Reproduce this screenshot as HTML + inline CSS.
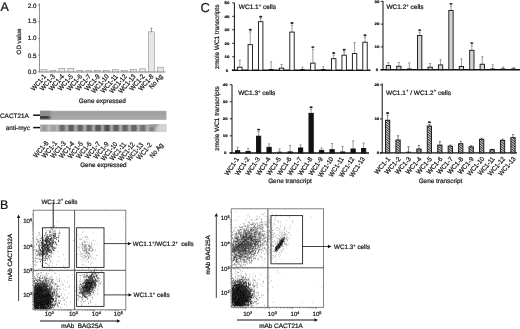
<!DOCTYPE html>
<html><head><meta charset="utf-8"><title>Figure</title>
<style>
html,body{margin:0;padding:0;background:#fff;}
body{width:520px;height:329px;overflow:hidden;font-family:"Liberation Sans",sans-serif;}
svg{display:block;filter:blur(0.4px);}
text{text-rendering:geometricPrecision;stroke:#222;stroke-width:0.24px;}
</style></head><body>
<svg width="520" height="329" viewBox="0 0 520 329" font-family="Liberation Sans, sans-serif">
<rect width="520" height="329" fill="#fff"/>
<text x="0.5" y="10.6" font-size="12.5" text-anchor="start" fill="#111" >A</text>
<text x="0.1" y="208.6" font-size="12.5" text-anchor="start" fill="#111" >B</text>
<text x="200.6" y="11.5" font-size="13" text-anchor="start" fill="#111" >C</text>
<line x1="39.5" y1="3.3" x2="39.5" y2="72.1" stroke="#808080" stroke-width="0.85"/>
<line x1="39.1" y1="72.0" x2="165.5" y2="72.0" stroke="#777" stroke-width="0.9"/>
<line x1="38.0" y1="71.8" x2="39.5" y2="71.8" stroke="#555" stroke-width="0.6"/>
<text x="36.6" y="74.45" font-size="6.3" text-anchor="end" fill="#222" >0.0</text>
<line x1="38.0" y1="55.15" x2="39.5" y2="55.15" stroke="#555" stroke-width="0.6"/>
<text x="36.6" y="57.85" font-size="6.3" text-anchor="end" fill="#222" >0.5</text>
<line x1="38.0" y1="38.5" x2="39.5" y2="38.5" stroke="#555" stroke-width="0.6"/>
<text x="36.6" y="40.25" font-size="6.3" text-anchor="end" fill="#222" >1.0</text>
<line x1="38.0" y1="21.85" x2="39.5" y2="21.85" stroke="#555" stroke-width="0.6"/>
<text x="36.6" y="22.85" font-size="6.3" text-anchor="end" fill="#222" >1.5</text>
<line x1="38.0" y1="5.200000000000003" x2="39.5" y2="5.200000000000003" stroke="#555" stroke-width="0.6"/>
<text x="36.6" y="7.65" font-size="6.3" text-anchor="end" fill="#222" >2.0</text>
<text font-size="6.2" text-anchor="middle" fill="#222" transform="translate(20.6 41.5) rotate(-90)" >OD value</text>
<rect x="41.00" y="69.74" width="6.0" height="2.06" fill="#e6e6e6" stroke="#858585" stroke-width="0.55"/>
<text font-size="6.8" text-anchor="end" fill="#222" transform="translate(46.60 76.8) rotate(-49) scale(0.9 1)" >WC1-1</text>
<rect x="49.95" y="70.30" width="6.0" height="1.50" fill="#e6e6e6" stroke="#858585" stroke-width="0.55"/>
<text font-size="6.8" text-anchor="end" fill="#222" transform="translate(55.55 76.8) rotate(-49) scale(0.9 1)" >WC1-3</text>
<rect x="58.90" y="68.47" width="6.0" height="3.33" fill="#e6e6e6" stroke="#858585" stroke-width="0.55"/>
<text font-size="6.8" text-anchor="end" fill="#222" transform="translate(64.50 76.8) rotate(-49) scale(0.9 1)" >WC1-4</text>
<rect x="67.85" y="68.47" width="6.0" height="3.33" fill="#e6e6e6" stroke="#858585" stroke-width="0.55"/>
<text font-size="6.8" text-anchor="end" fill="#222" transform="translate(73.45 76.8) rotate(-49) scale(0.9 1)" >WC1-5</text>
<rect x="76.80" y="70.47" width="6.0" height="1.33" fill="#e6e6e6" stroke="#858585" stroke-width="0.55"/>
<text font-size="6.8" text-anchor="end" fill="#222" transform="translate(82.40 76.8) rotate(-49) scale(0.9 1)" >WC1-6</text>
<rect x="85.75" y="70.73" width="6.0" height="1.07" fill="#e6e6e6" stroke="#858585" stroke-width="0.55"/>
<text font-size="6.8" text-anchor="end" fill="#222" transform="translate(91.35 76.8) rotate(-49) scale(0.9 1)" >WC1-7</text>
<rect x="94.70" y="70.30" width="6.0" height="1.50" fill="#e6e6e6" stroke="#858585" stroke-width="0.55"/>
<text font-size="6.8" text-anchor="end" fill="#222" transform="translate(100.30 76.8) rotate(-49) scale(0.9 1)" >WC1-9</text>
<rect x="103.65" y="70.47" width="6.0" height="1.33" fill="#e6e6e6" stroke="#858585" stroke-width="0.55"/>
<text font-size="6.8" text-anchor="end" fill="#222" transform="translate(109.25 76.8) rotate(-49) scale(0.9 1)" >WC1-10</text>
<rect x="112.60" y="69.74" width="6.0" height="2.06" fill="#e6e6e6" stroke="#858585" stroke-width="0.55"/>
<text font-size="6.8" text-anchor="end" fill="#222" transform="translate(118.20 76.8) rotate(-49) scale(0.9 1)" >WC1-11</text>
<rect x="121.55" y="70.30" width="6.0" height="1.50" fill="#e6e6e6" stroke="#858585" stroke-width="0.55"/>
<text font-size="6.8" text-anchor="end" fill="#222" transform="translate(127.15 76.8) rotate(-49) scale(0.9 1)" >WC1-12</text>
<rect x="130.50" y="69.47" width="6.0" height="2.33" fill="#e6e6e6" stroke="#858585" stroke-width="0.55"/>
<text font-size="6.8" text-anchor="end" fill="#222" transform="translate(136.10 76.8) rotate(-49) scale(0.9 1)" >WC1-13</text>
<rect x="139.45" y="68.80" width="6.0" height="3.00" fill="#e6e6e6" stroke="#858585" stroke-width="0.55"/>
<text font-size="6.8" text-anchor="end" fill="#222" transform="translate(145.05 76.8) rotate(-49) scale(0.9 1)" >WC1-2</text>
<rect x="148.40" y="31.84" width="6.0" height="39.96" fill="#e6e6e6" stroke="#858585" stroke-width="0.55"/>
<path d="M151.39999999999998 31.840000000000003 V28.240000000000002 M150.39999999999998 28.240000000000002 h2" stroke="#555" stroke-width="0.6" fill="none"/>
<text font-size="6.8" text-anchor="end" fill="#222" transform="translate(154.00 76.8) rotate(-49) scale(0.9 1)" >WC1-8</text>
<rect x="157.35" y="67.14" width="6.0" height="4.66" fill="#e6e6e6" stroke="#858585" stroke-width="0.55"/>
<text font-size="6.8" text-anchor="end" fill="#222" transform="translate(162.95 76.8) rotate(-49) scale(0.9 1)" >No Ag</text>
<text x="102.3" y="102.8" font-size="6.4" text-anchor="middle" fill="#222" >Gene expressed</text>
<defs><filter id="b1" x="-5%" y="-20%" width="110%" height="140%"><feGaussianBlur stdDeviation="0.9 0.7"/></filter><filter id="b2"><feGaussianBlur stdDeviation="0.35"/></filter><clipPath id="g1"><rect x="40" y="110.8" width="126.4" height="9.0"/></clipPath><clipPath id="g2"><rect x="40" y="124.3" width="126.4" height="7.6"/></clipPath><pattern id="hatch" width="1.7" height="1.7" patternUnits="userSpaceOnUse" patternTransform="rotate(-32)"><rect width="2" height="2" fill="#fff"/><rect width="2" height="1.05" fill="#111"/></pattern></defs>
<rect x="40" y="110.8" width="126.4" height="9.0" fill="#a6a6a6"/>
<g clip-path="url(#g1)"><g filter="url(#b1)">
<rect x="39" y="109" width="12" height="12" fill="#8c8c8c"/>
<rect x="52" y="112" width="114" height="3" fill="#a0a0a0"/>
<rect x="39" y="116.2" width="10.5" height="2.4" fill="#333"/>
</g></g>
<rect x="40" y="124.3" width="126.4" height="7.6" fill="#c6c6c6"/>
<g clip-path="url(#g2)"><g filter="url(#b1)">
<rect x="41.2" y="125.0" width="6.4" height="6.2" fill="rgb(154,154,154)"/>
<rect x="50.2" y="125.0" width="6.4" height="6.2" fill="rgb(160,160,160)"/>
<rect x="59.1" y="125.0" width="6.4" height="6.2" fill="rgb(104,104,104)"/>
<rect x="68.0" y="125.0" width="6.4" height="6.2" fill="rgb(91,91,91)"/>
<rect x="77.0" y="125.0" width="6.4" height="6.2" fill="rgb(98,98,98)"/>
<rect x="86.0" y="125.0" width="6.4" height="6.2" fill="rgb(98,98,98)"/>
<rect x="94.9" y="125.0" width="6.4" height="6.2" fill="rgb(85,85,85)"/>
<rect x="103.8" y="125.0" width="6.4" height="6.2" fill="rgb(79,79,79)"/>
<rect x="112.8" y="125.0" width="6.4" height="6.2" fill="rgb(91,91,91)"/>
<rect x="121.8" y="125.0" width="6.4" height="6.2" fill="rgb(98,98,98)"/>
<rect x="130.7" y="125.0" width="6.4" height="6.2" fill="rgb(98,98,98)"/>
<rect x="139.6" y="125.0" width="6.4" height="6.2" fill="rgb(110,110,110)"/>
<rect x="148.6" y="125.0" width="6.4" height="6.2" fill="rgb(129,129,129)"/>
<rect x="148" y="124" width="12" height="3" fill="#999" transform="rotate(-8 154 126)"/>
<rect x="158" y="123" width="9" height="10" fill="#d2d2d2"/>
</g></g>
<line x1="33.2" y1="115.2" x2="40" y2="115.2" stroke="#111" stroke-width="1.5"/>
<line x1="33.2" y1="127.6" x2="40" y2="127.6" stroke="#111" stroke-width="1.5"/>
<text x="0" y="117.7" font-size="6.4" text-anchor="start" fill="#222" >CACT21A</text>
<text x="5.8" y="129.6" font-size="6.4" text-anchor="start" fill="#222" >anti-myc</text>
<text font-size="7.0" text-anchor="end" fill="#222" transform="translate(48.90 143.20) rotate(-50.5) scale(0.9 1)" >WC1-8</text>
<text font-size="7.0" text-anchor="end" fill="#222" transform="translate(57.52 143.36) rotate(-50.5) scale(0.9 1)" >WC1-1</text>
<text font-size="7.0" text-anchor="end" fill="#222" transform="translate(66.14 143.52) rotate(-50.5) scale(0.9 1)" >WC1-3</text>
<text font-size="7.0" text-anchor="end" fill="#222" transform="translate(74.76 143.68) rotate(-50.5) scale(0.9 1)" >WC1-4</text>
<text font-size="7.0" text-anchor="end" fill="#222" transform="translate(83.38 143.84) rotate(-50.5) scale(0.9 1)" >WC1-5</text>
<text font-size="7.0" text-anchor="end" fill="#222" transform="translate(92.00 144.00) rotate(-50.5) scale(0.9 1)" >WC1-6</text>
<text font-size="7.0" text-anchor="end" fill="#222" transform="translate(100.62 144.16) rotate(-50.5) scale(0.9 1)" >WC1-7</text>
<text font-size="7.0" text-anchor="end" fill="#222" transform="translate(109.24 144.32) rotate(-50.5) scale(0.9 1)" >WC1-9</text>
<text font-size="7.0" text-anchor="end" fill="#222" transform="translate(117.86 144.48) rotate(-50.5) scale(0.84 1)" >WC1-10</text>
<text font-size="7.0" text-anchor="end" fill="#222" transform="translate(126.48 144.64) rotate(-50.5) scale(0.84 1)" >WC1-11</text>
<text font-size="7.0" text-anchor="end" fill="#222" transform="translate(135.10 144.80) rotate(-50.5) scale(0.84 1)" >WC1-12</text>
<text font-size="7.0" text-anchor="end" fill="#222" transform="translate(143.72 144.96) rotate(-50.5) scale(0.84 1)" >WC1-13</text>
<text font-size="7.0" text-anchor="end" fill="#222" transform="translate(152.34 145.12) rotate(-50.5) scale(0.9 1)" >WC1-2</text>
<text font-size="7.0" text-anchor="end" fill="#222" transform="translate(163.60 145.28) rotate(-50.5) scale(0.9 1)" >No Ag</text>
<text x="103.3" y="166.8" font-size="6.3" text-anchor="middle" fill="#222" >Gene expressed</text>
<line x1="234.4" y1="2.9" x2="234.4" y2="70.3" stroke="#111" stroke-width="1"/>
<line x1="231.9" y1="70.3" x2="370.5" y2="70.3" stroke="#111" stroke-width="1.5"/>
<line x1="232.20000000000002" y1="70.30" x2="234.4" y2="70.30" stroke="#111" stroke-width="0.9"/>
<text font-size="3.5" text-anchor="middle" fill="#111" transform="translate(227.0 71.50) scale(1.25 1)" font-weight="bold" >0</text>
<line x1="232.20000000000002" y1="56.80" x2="234.4" y2="56.80" stroke="#111" stroke-width="0.9"/>
<text font-size="3.5" text-anchor="middle" fill="#111" transform="translate(227.0 58.00) scale(1.25 1)" font-weight="bold" >10</text>
<line x1="232.20000000000002" y1="43.30" x2="234.4" y2="43.30" stroke="#111" stroke-width="0.9"/>
<text font-size="3.5" text-anchor="middle" fill="#111" transform="translate(227.0 44.50) scale(1.25 1)" font-weight="bold" >20</text>
<line x1="232.20000000000002" y1="29.80" x2="234.4" y2="29.80" stroke="#111" stroke-width="0.9"/>
<text font-size="3.5" text-anchor="middle" fill="#111" transform="translate(227.0 31.00) scale(1.25 1)" font-weight="bold" >30</text>
<line x1="232.20000000000002" y1="16.30" x2="234.4" y2="16.30" stroke="#111" stroke-width="0.9"/>
<text font-size="3.5" text-anchor="middle" fill="#111" transform="translate(227.0 17.50) scale(1.25 1)" font-weight="bold" >40</text>
<line x1="232.20000000000002" y1="2.80" x2="234.4" y2="2.80" stroke="#111" stroke-width="0.9"/>
<text font-size="3.5" text-anchor="middle" fill="#111" transform="translate(227.0 4.00) scale(1.25 1)" font-weight="bold" >50</text>
<path d="M239.85 67.19 V60.17 M238.75 60.17 h2.2" stroke="#5a5a5a" stroke-width="0.6" fill="none"/>
<rect x="237.65" y="67.19" width="4.40" height="3.10" fill="#fff" stroke="#111" stroke-width="0.9"/>
<path d="M250.28 44.65 V31.82 M249.18 31.82 h2.2" stroke="#5a5a5a" stroke-width="0.6" fill="none"/>
<rect x="248.08" y="44.65" width="4.40" height="25.65" fill="#fff" stroke="#111" stroke-width="0.9"/>
<ellipse cx="250.28" cy="29.82" rx="1.6" ry="0.95" fill="#222"/>
<path d="M260.71 21.70 V18.73 M259.61 18.73 h2.2" stroke="#5a5a5a" stroke-width="0.6" fill="none"/>
<rect x="258.51" y="21.70" width="4.40" height="48.60" fill="#fff" stroke="#111" stroke-width="0.9"/>
<ellipse cx="260.71" cy="16.73" rx="1.6" ry="0.95" fill="#222"/>
<path d="M271.14 69.89 V61.79 M270.04 61.79 h2.2" stroke="#5a5a5a" stroke-width="0.6" fill="none"/>
<rect x="268.79" y="69.10" width="4.70" height="1" fill="#111"/>
<path d="M281.57 68.14 V64.50 M280.47 64.50 h2.2" stroke="#5a5a5a" stroke-width="0.6" fill="none"/>
<rect x="279.37" y="68.14" width="4.40" height="2.16" fill="#fff" stroke="#111" stroke-width="0.9"/>
<path d="M292.00 32.09 V25.07 M290.90 25.07 h2.2" stroke="#5a5a5a" stroke-width="0.6" fill="none"/>
<rect x="289.80" y="32.09" width="4.40" height="38.21" fill="#fff" stroke="#111" stroke-width="0.9"/>
<ellipse cx="292.00" cy="23.07" rx="1.6" ry="0.95" fill="#222"/>
<path d="M302.43 70.03 V67.06 M301.33 67.06 h2.2" stroke="#5a5a5a" stroke-width="0.6" fill="none"/>
<rect x="300.08" y="69.10" width="4.70" height="1" fill="#111"/>
<path d="M312.86 63.14 V49.10 M311.76 49.10 h2.2" stroke="#5a5a5a" stroke-width="0.6" fill="none"/>
<rect x="310.66" y="63.14" width="4.40" height="7.16" fill="#fff" stroke="#111" stroke-width="0.9"/>
<ellipse cx="312.86" cy="47.10" rx="1.6" ry="0.95" fill="#222"/>
<path d="M323.29 69.89 V66.66 M322.19 66.66 h2.2" stroke="#5a5a5a" stroke-width="0.6" fill="none"/>
<rect x="320.94" y="69.10" width="4.70" height="1" fill="#111"/>
<path d="M333.72 58.69 V55.04 M332.62 55.04 h2.2" stroke="#5a5a5a" stroke-width="0.6" fill="none"/>
<rect x="331.52" y="58.69" width="4.40" height="11.61" fill="#fff" stroke="#111" stroke-width="0.9"/>
<ellipse cx="333.72" cy="53.04" rx="1.6" ry="0.95" fill="#222"/>
<path d="M344.15 55.18 V51.80 M343.05 51.80 h2.2" stroke="#5a5a5a" stroke-width="0.6" fill="none"/>
<rect x="341.95" y="55.18" width="4.40" height="15.12" fill="#fff" stroke="#111" stroke-width="0.9"/>
<ellipse cx="344.15" cy="49.80" rx="1.6" ry="0.95" fill="#222"/>
<path d="M354.58 53.56 V42.62 M353.48 42.62 h2.2" stroke="#5a5a5a" stroke-width="0.6" fill="none"/>
<rect x="352.38" y="53.56" width="4.40" height="16.74" fill="#fff" stroke="#111" stroke-width="0.9"/>
<path d="M365.01 42.22 V37.22 M363.91 37.22 h2.2" stroke="#5a5a5a" stroke-width="0.6" fill="none"/>
<rect x="362.81" y="42.22" width="4.40" height="28.08" fill="#fff" stroke="#111" stroke-width="0.9"/>
<ellipse cx="365.01" cy="35.22" rx="1.6" ry="0.95" fill="#222"/>
<text x="238.8" y="8.8" font-size="6.5" text-anchor="start" fill="#111" >WC1.1<tspan dy="-2.2" font-size="4.2">+</tspan><tspan dy="2.2"> cells</tspan></text>
<line x1="383.0" y1="1.0" x2="383.0" y2="69.7" stroke="#111" stroke-width="1"/>
<line x1="380.5" y1="69.7" x2="520" y2="69.7" stroke="#111" stroke-width="1.5"/>
<line x1="380.8" y1="69.70" x2="383.0" y2="69.70" stroke="#111" stroke-width="0.9"/>
<text font-size="3.5" text-anchor="middle" fill="#111" transform="translate(376.9 70.90) scale(1.25 1)" font-weight="bold" >0</text>
<line x1="380.8" y1="46.90" x2="383.0" y2="46.90" stroke="#111" stroke-width="0.9"/>
<text font-size="3.5" text-anchor="middle" fill="#111" transform="translate(376.9 48.10) scale(1.25 1)" font-weight="bold" >10</text>
<line x1="380.8" y1="24.10" x2="383.0" y2="24.10" stroke="#111" stroke-width="0.9"/>
<text font-size="3.5" text-anchor="middle" fill="#111" transform="translate(376.9 25.30) scale(1.25 1)" font-weight="bold" >20</text>
<line x1="380.8" y1="1.30" x2="383.0" y2="1.30" stroke="#111" stroke-width="0.9"/>
<text font-size="3.5" text-anchor="middle" fill="#111" transform="translate(376.9 2.50) scale(1.25 1)" font-weight="bold" >30</text>
<path d="M388.40 65.60 V62.63 M387.30 62.63 h2.2" stroke="#5a5a5a" stroke-width="0.6" fill="none"/>
<rect x="386.25" y="65.60" width="4.30" height="4.10" fill="#d4d4d4" stroke="#111" stroke-width="0.9"/>
<path d="M398.83 66.28 V62.40 M397.73 62.40 h2.2" stroke="#5a5a5a" stroke-width="0.6" fill="none"/>
<rect x="396.68" y="66.28" width="4.30" height="3.42" fill="#d4d4d4" stroke="#111" stroke-width="0.9"/>
<path d="M409.26 69.24 V62.86 M408.16 62.86 h2.2" stroke="#5a5a5a" stroke-width="0.6" fill="none"/>
<rect x="406.96" y="68.50" width="4.60" height="1" fill="#111"/>
<path d="M419.69 35.50 V32.08 M418.59 32.08 h2.2" stroke="#5a5a5a" stroke-width="0.6" fill="none"/>
<rect x="417.54" y="35.50" width="4.30" height="34.20" fill="#d4d4d4" stroke="#111" stroke-width="0.9"/>
<ellipse cx="419.69" cy="30.08" rx="1.6" ry="0.95" fill="#222"/>
<path d="M430.12 67.19 V63.54 M429.02 63.54 h2.2" stroke="#5a5a5a" stroke-width="0.6" fill="none"/>
<rect x="427.97" y="67.19" width="4.30" height="2.51" fill="#d4d4d4" stroke="#111" stroke-width="0.9"/>
<path d="M440.55 64.91 V59.67 M439.45 59.67 h2.2" stroke="#5a5a5a" stroke-width="0.6" fill="none"/>
<rect x="438.40" y="64.91" width="4.30" height="4.79" fill="#d4d4d4" stroke="#111" stroke-width="0.9"/>
<path d="M450.98 10.42 V5.86 M449.88 5.86 h2.2" stroke="#5a5a5a" stroke-width="0.6" fill="none"/>
<rect x="448.83" y="10.42" width="4.30" height="59.28" fill="#d4d4d4" stroke="#111" stroke-width="0.9"/>
<ellipse cx="450.98" cy="3.86" rx="1.6" ry="0.95" fill="#222"/>
<path d="M461.41 66.51 V58.98 M460.31 58.98 h2.2" stroke="#5a5a5a" stroke-width="0.6" fill="none"/>
<rect x="459.26" y="66.51" width="4.30" height="3.19" fill="#d4d4d4" stroke="#111" stroke-width="0.9"/>
<path d="M471.84 50.32 V45.08 M470.74 45.08 h2.2" stroke="#5a5a5a" stroke-width="0.6" fill="none"/>
<rect x="469.69" y="50.32" width="4.30" height="19.38" fill="#d4d4d4" stroke="#111" stroke-width="0.9"/>
<ellipse cx="471.84" cy="43.08" rx="1.6" ry="0.95" fill="#222"/>
<path d="M482.27 64.23 V56.70 M481.17 56.70 h2.2" stroke="#5a5a5a" stroke-width="0.6" fill="none"/>
<rect x="480.12" y="64.23" width="4.30" height="5.47" fill="#d4d4d4" stroke="#111" stroke-width="0.9"/>
<path d="M492.70 69.13 V64.80 M491.60 64.80 h2.2" stroke="#5a5a5a" stroke-width="0.6" fill="none"/>
<rect x="490.40" y="68.50" width="4.60" height="1" fill="#111"/>
<path d="M503.13 69.13 V67.08 M502.03 67.08 h2.2" stroke="#5a5a5a" stroke-width="0.6" fill="none"/>
<rect x="500.83" y="68.50" width="4.60" height="1" fill="#111"/>
<path d="M513.56 69.24 V67.42 M512.46 67.42 h2.2" stroke="#5a5a5a" stroke-width="0.6" fill="none"/>
<rect x="511.26" y="68.50" width="4.60" height="1" fill="#111"/>
<text x="386.4" y="8.8" font-size="6.5" text-anchor="start" fill="#111" >WC1.2<tspan dy="-2.2" font-size="4.2">+</tspan><tspan dy="2.2"> cells</tspan></text>
<line x1="232.0" y1="84.6" x2="232.0" y2="152.9" stroke="#111" stroke-width="1"/>
<line x1="229.5" y1="152.9" x2="369" y2="152.9" stroke="#111" stroke-width="1.5"/>
<line x1="229.8" y1="152.90" x2="232.0" y2="152.90" stroke="#111" stroke-width="0.9"/>
<text font-size="3.5" text-anchor="middle" fill="#111" transform="translate(225.2 154.10) scale(1.25 1)" font-weight="bold" >0</text>
<line x1="229.8" y1="135.85" x2="232.0" y2="135.85" stroke="#111" stroke-width="0.9"/>
<text font-size="3.5" text-anchor="middle" fill="#111" transform="translate(225.2 137.05) scale(1.25 1)" font-weight="bold" >10</text>
<line x1="229.8" y1="118.80" x2="232.0" y2="118.80" stroke="#111" stroke-width="0.9"/>
<text font-size="3.5" text-anchor="middle" fill="#111" transform="translate(225.2 120.00) scale(1.25 1)" font-weight="bold" >20</text>
<line x1="229.8" y1="101.75" x2="232.0" y2="101.75" stroke="#111" stroke-width="0.9"/>
<text font-size="3.5" text-anchor="middle" fill="#111" transform="translate(225.2 102.95) scale(1.25 1)" font-weight="bold" >30</text>
<line x1="229.8" y1="84.70" x2="232.0" y2="84.70" stroke="#111" stroke-width="0.9"/>
<text font-size="3.5" text-anchor="middle" fill="#111" transform="translate(225.2 85.90) scale(1.25 1)" font-weight="bold" >40</text>
<path d="M237.60 150.68 V147.27 M236.50 147.27 h2.2" stroke="#5a5a5a" stroke-width="0.6" fill="none"/>
<rect x="235.45" y="150.68" width="4.30" height="2.22" fill="#111" stroke="#111" stroke-width="0.9"/>
<path d="M248.10 151.37 V148.30 M247.00 148.30 h2.2" stroke="#5a5a5a" stroke-width="0.6" fill="none"/>
<rect x="245.95" y="151.37" width="4.30" height="1.53" fill="#111" stroke="#111" stroke-width="0.9"/>
<path d="M258.60 136.19 V131.59 M257.50 131.59 h2.2" stroke="#5a5a5a" stroke-width="0.6" fill="none"/>
<rect x="256.45" y="136.19" width="4.30" height="16.71" fill="#111" stroke="#111" stroke-width="0.9"/>
<ellipse cx="258.60" cy="129.59" rx="1.6" ry="0.95" fill="#222"/>
<path d="M269.10 147.27 V143.86 M268.00 143.86 h2.2" stroke="#5a5a5a" stroke-width="0.6" fill="none"/>
<rect x="266.95" y="147.27" width="4.30" height="5.63" fill="#111" stroke="#111" stroke-width="0.9"/>
<path d="M279.60 152.56 V148.98 M278.50 148.98 h2.2" stroke="#5a5a5a" stroke-width="0.6" fill="none"/>
<rect x="277.30" y="151.70" width="4.60" height="1" fill="#111"/>
<path d="M290.10 151.88 V145.40 M289.00 145.40 h2.2" stroke="#5a5a5a" stroke-width="0.6" fill="none"/>
<rect x="287.95" y="151.88" width="4.30" height="1.02" fill="#111" stroke="#111" stroke-width="0.9"/>
<path d="M300.60 147.96 V144.89 M299.50 144.89 h2.2" stroke="#5a5a5a" stroke-width="0.6" fill="none"/>
<rect x="298.45" y="147.96" width="4.30" height="4.94" fill="#111" stroke="#111" stroke-width="0.9"/>
<path d="M311.10 113.34 V109.25 M310.00 109.25 h2.2" stroke="#5a5a5a" stroke-width="0.6" fill="none"/>
<rect x="308.95" y="113.34" width="4.30" height="39.56" fill="#111" stroke="#111" stroke-width="0.9"/>
<ellipse cx="311.10" cy="107.25" rx="1.6" ry="0.95" fill="#222"/>
<path d="M321.60 150.34 V147.96 M320.50 147.96 h2.2" stroke="#5a5a5a" stroke-width="0.6" fill="none"/>
<rect x="319.45" y="150.34" width="4.30" height="2.56" fill="#111" stroke="#111" stroke-width="0.9"/>
<path d="M332.10 149.66 V143.52 M331.00 143.52 h2.2" stroke="#5a5a5a" stroke-width="0.6" fill="none"/>
<rect x="329.95" y="149.66" width="4.30" height="3.24" fill="#111" stroke="#111" stroke-width="0.9"/>
<path d="M342.60 151.96 V146.51 M341.50 146.51 h2.2" stroke="#5a5a5a" stroke-width="0.6" fill="none"/>
<rect x="340.45" y="151.96" width="4.30" height="0.94" fill="#111" stroke="#111" stroke-width="0.9"/>
<path d="M353.10 148.98 V140.97 M352.00 140.97 h2.2" stroke="#5a5a5a" stroke-width="0.6" fill="none"/>
<rect x="350.95" y="148.98" width="4.30" height="3.92" fill="#111" stroke="#111" stroke-width="0.9"/>
<path d="M363.60 148.47 V143.01 M362.50 143.01 h2.2" stroke="#5a5a5a" stroke-width="0.6" fill="none"/>
<rect x="361.45" y="148.47" width="4.30" height="4.43" fill="#111" stroke="#111" stroke-width="0.9"/>
<text x="238.2" y="95.2" font-size="6.5" text-anchor="start" fill="#111" >WC1.3<tspan dy="-2.2" font-size="4.2">+</tspan><tspan dy="2.2"> cells</tspan></text>
<line x1="382.2" y1="83.4" x2="382.2" y2="152.9" stroke="#111" stroke-width="1"/>
<line x1="379.7" y1="152.9" x2="517" y2="152.9" stroke="#111" stroke-width="1.2"/>
<line x1="380.0" y1="152.90" x2="382.2" y2="152.90" stroke="#111" stroke-width="0.9"/>
<text font-size="3.5" text-anchor="end" fill="#111" transform="translate(379.3 154.10) scale(1.25 1)" font-weight="bold" >0</text>
<line x1="380.0" y1="118.90" x2="382.2" y2="118.90" stroke="#111" stroke-width="0.9"/>
<text font-size="3.5" text-anchor="end" fill="#111" transform="translate(379.3 120.10) scale(1.25 1)" font-weight="bold" >10</text>
<line x1="380.0" y1="84.90" x2="382.2" y2="84.90" stroke="#111" stroke-width="0.9"/>
<text font-size="3.5" text-anchor="end" fill="#111" transform="translate(379.3 86.10) scale(1.25 1)" font-weight="bold" >20</text>
<path d="M387.60 120.26 V114.99 M386.50 114.99 h2.2" stroke="#333" stroke-width="0.6" fill="none"/>
<clipPath id="hc382_0"><rect x="385.45" y="120.26" width="4.30" height="32.64"/></clipPath>
<rect x="385.45" y="120.26" width="4.30" height="32.64" fill="#fff"/>
<path d="M384.50 155.90l6.20 -3.41M384.50 154.20l6.20 -3.41M384.50 152.50l6.20 -3.41M384.50 150.80l6.20 -3.41M384.50 149.10l6.20 -3.41M384.50 147.40l6.20 -3.41M384.50 145.70l6.20 -3.41M384.50 144.00l6.20 -3.41M384.50 142.30l6.20 -3.41M384.50 140.60l6.20 -3.41M384.50 138.90l6.20 -3.41M384.50 137.20l6.20 -3.41M384.50 135.50l6.20 -3.41M384.50 133.80l6.20 -3.41M384.50 132.10l6.20 -3.41M384.50 130.40l6.20 -3.41M384.50 128.70l6.20 -3.41M384.50 127.00l6.20 -3.41M384.50 125.30l6.20 -3.41M384.50 123.60l6.20 -3.41M384.50 121.90l6.20 -3.41M384.50 120.20l6.20 -3.41" stroke="#111" stroke-width="0.85" fill="none" clip-path="url(#hc382_0)"/>
<rect x="385.45" y="120.26" width="4.30" height="32.64" fill="none" stroke="#111" stroke-width="0.9"/>
<ellipse cx="387.60" cy="112.99" rx="1.6" ry="0.95" fill="#222"/>
<path d="M398.05 139.98 V135.73 M396.95 135.73 h2.2" stroke="#333" stroke-width="0.6" fill="none"/>
<clipPath id="hc382_1"><rect x="395.90" y="139.98" width="4.30" height="12.92"/></clipPath>
<rect x="395.90" y="139.98" width="4.30" height="12.92" fill="#fff"/>
<path d="M394.95 155.90l6.20 -3.41M394.95 154.20l6.20 -3.41M394.95 152.50l6.20 -3.41M394.95 150.80l6.20 -3.41M394.95 149.10l6.20 -3.41M394.95 147.40l6.20 -3.41M394.95 145.70l6.20 -3.41M394.95 144.00l6.20 -3.41M394.95 142.30l6.20 -3.41M394.95 140.60l6.20 -3.41" stroke="#111" stroke-width="0.85" fill="none" clip-path="url(#hc382_1)"/>
<rect x="395.90" y="139.98" width="4.30" height="12.92" fill="none" stroke="#111" stroke-width="0.9"/>
<path d="M408.50 152.22 V146.78 M407.40 146.78 h2.2" stroke="#333" stroke-width="0.6" fill="none"/>
<rect x="406.20" y="151.70" width="4.60" height="1" fill="#111"/>
<path d="M418.95 148.99 V145.42 M417.85 145.42 h2.2" stroke="#333" stroke-width="0.6" fill="none"/>
<clipPath id="hc382_3"><rect x="416.80" y="148.99" width="4.30" height="3.91"/></clipPath>
<rect x="416.80" y="148.99" width="4.30" height="3.91" fill="#fff"/>
<path d="M415.85 155.90l6.20 -3.41M415.85 154.20l6.20 -3.41M415.85 152.50l6.20 -3.41M415.85 150.80l6.20 -3.41M415.85 149.10l6.20 -3.41" stroke="#111" stroke-width="0.85" fill="none" clip-path="url(#hc382_3)"/>
<rect x="416.80" y="148.99" width="4.30" height="3.91" fill="none" stroke="#111" stroke-width="0.9"/>
<path d="M429.40 126.04 V124.17 M428.30 124.17 h2.2" stroke="#333" stroke-width="0.6" fill="none"/>
<clipPath id="hc382_4"><rect x="427.25" y="126.04" width="4.30" height="26.86"/></clipPath>
<rect x="427.25" y="126.04" width="4.30" height="26.86" fill="#fff"/>
<path d="M426.30 155.90l6.20 -3.41M426.30 154.20l6.20 -3.41M426.30 152.50l6.20 -3.41M426.30 150.80l6.20 -3.41M426.30 149.10l6.20 -3.41M426.30 147.40l6.20 -3.41M426.30 145.70l6.20 -3.41M426.30 144.00l6.20 -3.41M426.30 142.30l6.20 -3.41M426.30 140.60l6.20 -3.41M426.30 138.90l6.20 -3.41M426.30 137.20l6.20 -3.41M426.30 135.50l6.20 -3.41M426.30 133.80l6.20 -3.41M426.30 132.10l6.20 -3.41M426.30 130.40l6.20 -3.41M426.30 128.70l6.20 -3.41M426.30 127.00l6.20 -3.41M426.30 125.30l6.20 -3.41" stroke="#111" stroke-width="0.85" fill="none" clip-path="url(#hc382_4)"/>
<rect x="427.25" y="126.04" width="4.30" height="26.86" fill="none" stroke="#111" stroke-width="0.9"/>
<ellipse cx="429.40" cy="122.17" rx="1.6" ry="0.95" fill="#222"/>
<path d="M439.85 145.08 V141.51 M438.75 141.51 h2.2" stroke="#333" stroke-width="0.6" fill="none"/>
<clipPath id="hc382_5"><rect x="437.70" y="145.08" width="4.30" height="7.82"/></clipPath>
<rect x="437.70" y="145.08" width="4.30" height="7.82" fill="#fff"/>
<path d="M436.75 155.90l6.20 -3.41M436.75 154.20l6.20 -3.41M436.75 152.50l6.20 -3.41M436.75 150.80l6.20 -3.41M436.75 149.10l6.20 -3.41M436.75 147.40l6.20 -3.41M436.75 145.70l6.20 -3.41" stroke="#111" stroke-width="0.85" fill="none" clip-path="url(#hc382_5)"/>
<rect x="437.70" y="145.08" width="4.30" height="7.82" fill="none" stroke="#111" stroke-width="0.9"/>
<path d="M450.30 146.10 V145.08 M449.20 145.08 h2.2" stroke="#333" stroke-width="0.6" fill="none"/>
<clipPath id="hc382_6"><rect x="448.15" y="146.10" width="4.30" height="6.80"/></clipPath>
<rect x="448.15" y="146.10" width="4.30" height="6.80" fill="#fff"/>
<path d="M447.20 155.90l6.20 -3.41M447.20 154.20l6.20 -3.41M447.20 152.50l6.20 -3.41M447.20 150.80l6.20 -3.41M447.20 149.10l6.20 -3.41M447.20 147.40l6.20 -3.41M447.20 145.70l6.20 -3.41" stroke="#111" stroke-width="0.85" fill="none" clip-path="url(#hc382_6)"/>
<rect x="448.15" y="146.10" width="4.30" height="6.80" fill="none" stroke="#111" stroke-width="0.9"/>
<path d="M460.75 143.72 V141.34 M459.65 141.34 h2.2" stroke="#333" stroke-width="0.6" fill="none"/>
<clipPath id="hc382_7"><rect x="458.60" y="143.72" width="4.30" height="9.18"/></clipPath>
<rect x="458.60" y="143.72" width="4.30" height="9.18" fill="#fff"/>
<path d="M457.65 155.90l6.20 -3.41M457.65 154.20l6.20 -3.41M457.65 152.50l6.20 -3.41M457.65 150.80l6.20 -3.41M457.65 149.10l6.20 -3.41M457.65 147.40l6.20 -3.41M457.65 145.70l6.20 -3.41M457.65 144.00l6.20 -3.41" stroke="#111" stroke-width="0.85" fill="none" clip-path="url(#hc382_7)"/>
<rect x="458.60" y="143.72" width="4.30" height="9.18" fill="none" stroke="#111" stroke-width="0.9"/>
<path d="M471.20 146.78 V145.76 M470.10 145.76 h2.2" stroke="#333" stroke-width="0.6" fill="none"/>
<clipPath id="hc382_8"><rect x="469.05" y="146.78" width="4.30" height="6.12"/></clipPath>
<rect x="469.05" y="146.78" width="4.30" height="6.12" fill="#fff"/>
<path d="M468.10 155.90l6.20 -3.41M468.10 154.20l6.20 -3.41M468.10 152.50l6.20 -3.41M468.10 150.80l6.20 -3.41M468.10 149.10l6.20 -3.41M468.10 147.40l6.20 -3.41" stroke="#111" stroke-width="0.85" fill="none" clip-path="url(#hc382_8)"/>
<rect x="469.05" y="146.78" width="4.30" height="6.12" fill="none" stroke="#111" stroke-width="0.9"/>
<path d="M481.65 139.30 V138.11 M480.55 138.11 h2.2" stroke="#333" stroke-width="0.6" fill="none"/>
<clipPath id="hc382_9"><rect x="479.50" y="139.30" width="4.30" height="13.60"/></clipPath>
<rect x="479.50" y="139.30" width="4.30" height="13.60" fill="#fff"/>
<path d="M478.55 155.90l6.20 -3.41M478.55 154.20l6.20 -3.41M478.55 152.50l6.20 -3.41M478.55 150.80l6.20 -3.41M478.55 149.10l6.20 -3.41M478.55 147.40l6.20 -3.41M478.55 145.70l6.20 -3.41M478.55 144.00l6.20 -3.41M478.55 142.30l6.20 -3.41M478.55 140.60l6.20 -3.41M478.55 138.90l6.20 -3.41" stroke="#111" stroke-width="0.85" fill="none" clip-path="url(#hc382_9)"/>
<rect x="479.50" y="139.30" width="4.30" height="13.60" fill="none" stroke="#111" stroke-width="0.9"/>
<path d="M492.10 149.60 V149.26 M491.00 149.26 h2.2" stroke="#333" stroke-width="0.6" fill="none"/>
<clipPath id="hc382_10"><rect x="489.95" y="149.60" width="4.30" height="3.30"/></clipPath>
<rect x="489.95" y="149.60" width="4.30" height="3.30" fill="#fff"/>
<path d="M489.00 155.90l6.20 -3.41M489.00 154.20l6.20 -3.41M489.00 152.50l6.20 -3.41M489.00 150.80l6.20 -3.41M489.00 149.10l6.20 -3.41" stroke="#111" stroke-width="0.85" fill="none" clip-path="url(#hc382_10)"/>
<rect x="489.95" y="149.60" width="4.30" height="3.30" fill="none" stroke="#111" stroke-width="0.9"/>
<path d="M502.55 140.32 V139.13 M501.45 139.13 h2.2" stroke="#333" stroke-width="0.6" fill="none"/>
<clipPath id="hc382_11"><rect x="500.40" y="140.32" width="4.30" height="12.58"/></clipPath>
<rect x="500.40" y="140.32" width="4.30" height="12.58" fill="#fff"/>
<path d="M499.45 155.90l6.20 -3.41M499.45 154.20l6.20 -3.41M499.45 152.50l6.20 -3.41M499.45 150.80l6.20 -3.41M499.45 149.10l6.20 -3.41M499.45 147.40l6.20 -3.41M499.45 145.70l6.20 -3.41M499.45 144.00l6.20 -3.41M499.45 142.30l6.20 -3.41M499.45 140.60l6.20 -3.41" stroke="#111" stroke-width="0.85" fill="none" clip-path="url(#hc382_11)"/>
<rect x="500.40" y="140.32" width="4.30" height="12.58" fill="none" stroke="#111" stroke-width="0.9"/>
<path d="M513.00 137.60 V134.54 M511.90 134.54 h2.2" stroke="#333" stroke-width="0.6" fill="none"/>
<clipPath id="hc382_12"><rect x="510.85" y="137.60" width="4.30" height="15.30"/></clipPath>
<rect x="510.85" y="137.60" width="4.30" height="15.30" fill="#fff"/>
<path d="M509.90 155.90l6.20 -3.41M509.90 154.20l6.20 -3.41M509.90 152.50l6.20 -3.41M509.90 150.80l6.20 -3.41M509.90 149.10l6.20 -3.41M509.90 147.40l6.20 -3.41M509.90 145.70l6.20 -3.41M509.90 144.00l6.20 -3.41M509.90 142.30l6.20 -3.41M509.90 140.60l6.20 -3.41M509.90 138.90l6.20 -3.41M509.90 137.20l6.20 -3.41" stroke="#111" stroke-width="0.85" fill="none" clip-path="url(#hc382_12)"/>
<rect x="510.85" y="137.60" width="4.30" height="15.30" fill="none" stroke="#111" stroke-width="0.9"/>
<text x="386" y="94.6" font-size="6.5" text-anchor="start" fill="#111" >WC1.1<tspan dy="-2.2" font-size="4.2">+</tspan><tspan dy="2.2"> / WC1.2</tspan><tspan dy="-2.2" font-size="4.2">+</tspan><tspan dy="2.2"> cells</tspan></text>
<text font-size="6.4" text-anchor="middle" fill="#222" transform="translate(218.6 36.8) rotate(-90)" >zmole WC1 transcripts</text>
<text font-size="6.4" text-anchor="middle" fill="#222" transform="translate(218.6 118.5) rotate(-90)" >zmole WC1 transcripts</text>
<text font-size="6.6" text-anchor="end" fill="#222" transform="translate(239.20 158.9) rotate(-57) scale(1 1)" >WC1-1</text>
<text font-size="6.6" text-anchor="end" fill="#222" transform="translate(390.60 159.2) rotate(-49) scale(1 1)" >WC1-1</text>
<text font-size="6.6" text-anchor="end" fill="#222" transform="translate(249.70 158.9) rotate(-57) scale(1 1)" >WC1-2</text>
<text font-size="6.6" text-anchor="end" fill="#222" transform="translate(401.05 159.2) rotate(-49) scale(1 1)" >WC1-2</text>
<text font-size="6.6" text-anchor="end" fill="#222" transform="translate(260.20 158.9) rotate(-57) scale(1 1)" >WC1-3</text>
<text font-size="6.6" text-anchor="end" fill="#222" transform="translate(411.50 159.2) rotate(-49) scale(1 1)" >WC1-3</text>
<text font-size="6.6" text-anchor="end" fill="#222" transform="translate(270.70 158.9) rotate(-57) scale(1 1)" >WC1-4</text>
<text font-size="6.6" text-anchor="end" fill="#222" transform="translate(421.95 159.2) rotate(-49) scale(1 1)" >WC1-4</text>
<text font-size="6.6" text-anchor="end" fill="#222" transform="translate(281.20 158.9) rotate(-57) scale(1 1)" >WC1-5</text>
<text font-size="6.6" text-anchor="end" fill="#222" transform="translate(432.40 159.2) rotate(-49) scale(1 1)" >WC1-5</text>
<text font-size="6.6" text-anchor="end" fill="#222" transform="translate(291.70 158.9) rotate(-57) scale(1 1)" >WC1-6</text>
<text font-size="6.6" text-anchor="end" fill="#222" transform="translate(442.85 159.2) rotate(-49) scale(1 1)" >WC1-6</text>
<text font-size="6.6" text-anchor="end" fill="#222" transform="translate(302.20 158.9) rotate(-57) scale(1 1)" >WC1-7</text>
<text font-size="6.6" text-anchor="end" fill="#222" transform="translate(453.30 159.2) rotate(-49) scale(1 1)" >WC1-7</text>
<text font-size="6.6" text-anchor="end" fill="#222" transform="translate(312.70 158.9) rotate(-57) scale(1 1)" >WC1-8</text>
<text font-size="6.6" text-anchor="end" fill="#222" transform="translate(463.75 159.2) rotate(-49) scale(1 1)" >WC1-8</text>
<text font-size="6.6" text-anchor="end" fill="#222" transform="translate(323.20 158.9) rotate(-57) scale(1 1)" >WC1-9</text>
<text font-size="6.6" text-anchor="end" fill="#222" transform="translate(474.20 159.2) rotate(-49) scale(1 1)" >WC1-9</text>
<text font-size="6.6" text-anchor="end" fill="#222" transform="translate(333.70 158.9) rotate(-57) scale(0.93 1)" >WC1-10</text>
<text font-size="6.6" text-anchor="end" fill="#222" transform="translate(484.65 159.2) rotate(-49) scale(0.93 1)" >WC1-10</text>
<text font-size="6.6" text-anchor="end" fill="#222" transform="translate(344.20 158.9) rotate(-57) scale(0.93 1)" >WC1-11</text>
<text font-size="6.6" text-anchor="end" fill="#222" transform="translate(495.10 159.2) rotate(-49) scale(0.93 1)" >WC1-11</text>
<text font-size="6.6" text-anchor="end" fill="#222" transform="translate(354.70 158.9) rotate(-57) scale(0.93 1)" >WC1-12</text>
<text font-size="6.6" text-anchor="end" fill="#222" transform="translate(505.55 159.2) rotate(-49) scale(0.93 1)" >WC1-12</text>
<text font-size="6.6" text-anchor="end" fill="#222" transform="translate(365.20 158.9) rotate(-57) scale(0.93 1)" >WC1-13</text>
<text font-size="6.6" text-anchor="end" fill="#222" transform="translate(516.00 159.2) rotate(-49) scale(0.93 1)" >WC1-13</text>
<text x="290" y="182.6" font-size="6.4" text-anchor="middle" fill="#222" >Gene transcript</text>
<text x="440.5" y="182.6" font-size="6.4" text-anchor="middle" fill="#222" >Gene transcript</text>
<path d="M39.2 301.1h0.7M39.3 295.3h0.7M35.7 296.0h0.7M46.3 300.5h0.7M45.9 299.2h0.7M42.6 298.8h0.7M43.1 301.0h0.7M35.9 294.2h0.7M42.1 297.2h0.7M43.2 293.0h0.7M42.1 300.3h0.7M43.4 305.9h0.7M37.3 292.3h0.7M38.7 296.8h0.7M43.8 299.2h0.7M38.2 290.8h0.7M37.8 306.0h0.7M36.3 299.2h0.7M42.7 287.1h0.7M40.8 306.6h0.7M39.9 291.8h0.7M43.1 297.1h0.7M44.0 304.1h0.7M48.0 300.0h0.7M41.1 288.4h0.7M43.7 293.2h0.7M38.1 288.6h0.7M35.5 293.8h0.7M47.2 283.3h0.7M48.0 301.5h0.7M42.4 292.3h0.7M34.7 304.3h0.7M46.2 298.6h0.7M41.8 300.5h0.7M48.8 301.8h0.7M43.2 301.3h0.7M45.5 301.2h0.7M44.9 284.8h0.7M39.5 304.6h0.7M33.7 308.8h0.7M43.4 296.4h0.7M42.2 302.0h0.7M41.1 305.5h0.7M37.1 294.6h0.7M45.9 297.7h0.7M35.9 304.1h0.7M48.1 294.4h0.7M39.7 295.4h0.7M47.8 290.3h0.7M47.1 288.6h0.7M36.4 301.9h0.7M46.4 303.5h0.7M42.3 298.5h0.7M41.3 301.5h0.7M39.6 299.4h0.7M43.5 297.5h0.7M44.5 301.5h0.7M51.0 299.8h0.7M38.3 294.9h0.7M40.4 304.0h0.7M38.7 300.2h0.7M50.1 279.5h0.7M34.7 299.2h0.7M42.6 299.2h0.7M38.3 302.1h0.7M42.0 293.8h0.7M53.1 300.0h0.7M37.6 296.8h0.7M39.3 297.1h0.7M45.7 289.3h0.7M40.2 304.2h0.7M45.0 307.9h0.7M38.7 301.9h0.7M46.2 278.7h0.7M46.2 287.4h0.7M44.1 287.1h0.7M41.4 305.9h0.7M39.7 298.8h0.7M44.6 298.5h0.7M40.0 308.2h0.7M46.0 295.4h0.7M54.8 289.5h0.7M45.3 295.6h0.7M41.2 302.4h0.7M41.7 302.0h0.7M43.7 290.8h0.7M35.2 287.2h0.7M47.1 302.7h0.7M48.2 290.9h0.7M40.5 289.5h0.7M44.5 308.6h0.7M35.9 308.4h0.7M45.6 296.3h0.7M40.0 293.3h0.7M42.6 300.4h0.7M48.3 290.4h0.7M46.4 307.9h0.7M48.1 296.2h0.7M36.6 304.6h0.7M41.1 298.4h0.7M47.9 295.7h0.7M42.1 293.2h0.7M40.5 303.3h0.7M40.9 306.8h0.7M40.2 304.8h0.7M48.3 308.8h0.7M37.0 303.7h0.7M34.1 297.4h0.7M39.5 297.3h0.7M37.4 299.1h0.7M49.8 297.8h0.7M43.3 304.5h0.7M39.5 288.7h0.7M37.6 305.0h0.7M45.7 303.0h0.7M40.5 303.1h0.7M41.4 289.2h0.7M45.3 293.5h0.7M35.8 292.1h0.7M34.4 300.0h0.7M37.2 283.9h0.7M44.3 295.6h0.7M42.0 294.3h0.7M44.6 302.7h0.7M44.0 299.8h0.7M47.4 302.1h0.7M42.8 282.9h0.7M45.2 306.7h0.7M39.0 294.2h0.7M50.6 285.2h0.7M35.7 302.3h0.7M50.3 296.7h0.7M43.4 303.8h0.7M35.8 296.9h0.7M42.0 303.3h0.7M40.3 296.1h0.7M35.2 295.0h0.7M45.1 298.2h0.7M36.1 291.6h0.7M54.4 305.5h0.7M43.8 279.3h0.7M43.7 300.9h0.7M49.3 300.5h0.7M40.1 301.2h0.7M42.2 292.6h0.7M42.0 298.8h0.7M38.4 290.7h0.7M51.5 304.8h0.7M34.3 288.1h0.7M49.4 304.4h0.7M50.0 303.2h0.7M36.0 299.3h0.7M40.2 301.2h0.7M36.7 296.6h0.7M42.9 300.1h0.7M43.8 299.0h0.7M38.8 303.0h0.7M40.8 291.7h0.7M37.2 297.5h0.7M39.9 298.6h0.7M40.5 298.7h0.7M39.8 288.7h0.7M42.7 304.9h0.7M42.8 296.2h0.7M42.8 290.7h0.7M35.7 302.7h0.7M34.9 279.1h0.7M35.1 308.5h0.7M38.5 287.9h0.7M36.5 301.1h0.7M43.1 298.7h0.7M48.2 302.4h0.7M40.4 301.7h0.7M49.1 304.3h0.7M45.8 289.9h0.7M39.7 302.6h0.7M39.0 305.0h0.7M43.6 303.9h0.7M46.9 296.0h0.7M38.7 303.6h0.7M45.6 297.5h0.7M34.4 298.8h0.7M42.4 305.4h0.7M44.6 297.7h0.7M44.9 301.3h0.7M41.6 297.9h0.7M39.2 302.3h0.7M35.0 293.1h0.7M40.5 287.3h0.7M38.2 283.4h0.7M36.9 301.5h0.7M43.4 297.1h0.7M39.3 287.6h0.7M50.0 301.1h0.7M46.2 291.3h0.7M39.5 284.8h0.7M44.6 304.0h0.7M43.8 285.2h0.7M37.2 287.7h0.7M40.7 299.2h0.7M43.8 302.4h0.7M48.3 305.7h0.7M33.7 294.0h0.7M35.0 290.0h0.7M40.1 297.5h0.7M43.0 286.4h0.7M34.1 297.3h0.7M39.5 295.3h0.7M40.2 292.2h0.7M44.1 300.0h0.7M40.0 292.8h0.7M39.6 278.4h0.7M35.4 297.8h0.7M41.3 287.9h0.7M39.2 295.3h0.7M42.9 301.8h0.7M40.3 291.5h0.7M39.7 297.0h0.7M44.3 299.6h0.7M36.7 288.0h0.7M38.6 292.3h0.7M34.7 296.7h0.7M37.9 298.2h0.7M43.2 294.6h0.7M52.6 295.2h0.7M46.2 298.4h0.7M46.3 280.9h0.7M36.6 299.2h0.7M42.2 306.5h0.7M44.5 304.1h0.7M43.2 296.4h0.7M43.1 290.0h0.7M46.6 290.4h0.7M39.3 297.6h0.7M46.5 297.7h0.7M36.3 299.3h0.7M43.5 302.5h0.7M49.2 297.6h0.7M41.9 294.5h0.7M47.9 292.6h0.7M44.0 294.1h0.7M36.9 302.5h0.7M47.4 297.4h0.7M37.0 303.2h0.7M40.2 299.7h0.7M48.4 305.4h0.7M40.5 303.0h0.7M37.1 297.2h0.7M47.6 289.0h0.7M46.6 294.3h0.7M40.2 295.3h0.7M39.9 289.9h0.7M40.6 287.4h0.7M40.1 299.7h0.7M42.9 295.9h0.7M35.8 298.6h0.7M38.0 308.5h0.7M44.5 296.7h0.7M38.1 292.6h0.7M35.6 295.0h0.7M42.0 301.1h0.7M36.8 297.6h0.7M55.0 284.4h0.7M37.8 298.7h0.7M41.3 300.4h0.7M39.3 300.1h0.7M40.8 302.9h0.7M40.5 290.3h0.7M35.1 301.9h0.7M37.1 301.9h0.7M44.4 299.6h0.7M43.1 296.8h0.7M42.9 293.8h0.7M40.0 302.7h0.7M35.9 302.0h0.7M50.2 293.6h0.7M41.3 296.4h0.7M48.5 299.7h0.7M45.2 292.7h0.7M40.4 297.4h0.7M45.2 285.3h0.7M44.4 296.6h0.7M42.8 300.1h0.7M48.3 293.5h0.7M35.2 288.0h0.7M34.2 299.8h0.7M49.3 300.5h0.7M37.8 292.8h0.7M43.2 301.3h0.7M35.2 289.3h0.7M42.0 299.2h0.7M33.7 296.1h0.7M37.7 300.7h0.7M39.9 296.9h0.7M38.7 304.9h0.7M47.7 294.9h0.7M44.9 292.2h0.7M40.9 302.7h0.7M48.4 294.8h0.7M40.1 298.9h0.7M37.0 300.1h0.7M34.6 283.7h0.7M40.7 299.3h0.7M37.6 303.7h0.7M39.1 293.3h0.7M43.0 286.5h0.7M37.0 297.4h0.7M44.9 296.4h0.7M42.1 292.9h0.7M37.2 297.6h0.7M41.4 304.7h0.7M34.1 282.8h0.7M43.7 303.1h0.7M41.6 299.3h0.7M45.3 300.1h0.7M49.2 288.8h0.7M38.5 273.4h0.7M44.7 294.9h0.7M40.5 295.7h0.7M37.9 291.6h0.7M37.2 302.0h0.7M40.7 298.0h0.7M39.6 303.9h0.7M43.1 296.5h0.7M44.0 296.4h0.7M34.5 307.7h0.7M42.9 290.8h0.7M46.1 299.9h0.7M42.2 303.7h0.7M41.5 296.5h0.7M40.7 295.5h0.7M42.3 298.0h0.7M44.0 294.9h0.7M40.3 282.5h0.7M38.3 302.2h0.7M47.5 295.0h0.7M39.9 308.6h0.7M38.8 302.6h0.7M49.2 297.8h0.7M46.9 292.5h0.7M41.6 297.0h0.7M41.1 305.4h0.7M52.9 292.8h0.7M37.5 301.0h0.7M35.0 301.0h0.7M43.5 295.6h0.7M43.3 286.7h0.7M44.5 286.7h0.7M36.9 293.6h0.7M38.4 303.5h0.7M40.9 294.7h0.7M43.3 308.6h0.7M40.5 300.1h0.7M46.9 299.4h0.7M52.0 283.6h0.7M40.3 300.4h0.7M45.5 302.2h0.7M39.1 290.1h0.7M41.0 304.7h0.7M34.8 290.3h0.7M40.4 283.9h0.7M39.1 294.4h0.7M42.8 292.6h0.7M35.9 294.7h0.7M40.2 292.8h0.7M40.6 302.8h0.7M36.4 294.6h0.7M36.7 297.3h0.7M43.2 288.0h0.7M42.9 297.3h0.7M46.7 284.4h0.7M44.7 299.0h0.7M43.0 300.6h0.7M47.3 295.9h0.7M45.0 294.6h0.7M44.3 291.8h0.7M42.8 296.4h0.7M34.5 292.0h0.7M41.5 304.1h0.7M42.7 301.2h0.7M40.3 307.0h0.7M38.5 293.7h0.7M45.1 297.9h0.7M39.1 293.5h0.7M39.2 301.9h0.7M42.3 289.0h0.7M42.7 298.8h0.7M35.3 302.9h0.7M39.0 295.2h0.7M44.6 306.7h0.7M36.9 300.6h0.7M37.9 305.9h0.7M37.1 303.2h0.7M52.0 279.7h0.7M38.2 301.0h0.7M40.0 292.8h0.7M51.7 298.1h0.7M37.5 298.5h0.7M47.1 298.3h0.7M46.6 302.7h0.7M36.3 303.5h0.7M43.1 302.0h0.7M45.2 302.6h0.7M45.1 280.3h0.7M41.4 300.9h0.7M53.8 290.8h0.7M38.8 297.8h0.7M45.1 294.4h0.7M46.5 292.0h0.7M41.9 293.8h0.7M41.3 292.7h0.7M42.1 293.6h0.7M41.5 304.4h0.7M35.4 296.7h0.7M43.3 301.2h0.7M38.8 282.8h0.7M47.0 299.8h0.7M40.6 295.6h0.7M41.9 294.5h0.7M35.2 292.3h0.7M37.4 293.2h0.7M34.5 302.0h0.7M33.7 302.1h0.7M35.2 300.0h0.7M47.6 298.9h0.7M36.7 297.8h0.7M41.3 285.4h0.7M37.3 298.6h0.7M38.1 298.1h0.7M44.3 302.9h0.7M45.2 301.6h0.7M39.0 297.4h0.7M39.1 295.3h0.7M39.6 285.4h0.7M38.8 297.3h0.7M35.4 297.3h0.7M43.2 296.3h0.7M51.3 279.3h0.7M39.4 284.7h0.7M43.2 295.4h0.7M43.4 281.8h0.7M44.9 300.1h0.7M40.6 293.4h0.7M43.8 294.1h0.7M41.7 293.9h0.7M41.6 302.8h0.7M35.9 297.3h0.7M43.7 298.5h0.7M35.8 284.1h0.7M45.0 308.2h0.7M45.3 303.2h0.7M37.3 292.5h0.7M45.1 291.1h0.7M36.9 292.4h0.7M41.7 292.3h0.7M47.3 297.0h0.7M34.9 306.7h0.7M37.5 299.0h0.7M40.4 295.3h0.7M42.2 292.7h0.7M33.9 292.2h0.7M40.4 297.9h0.7M43.4 298.3h0.7M36.4 292.5h0.7M43.0 301.2h0.7M39.9 296.3h0.7M45.4 297.6h0.7M44.3 301.6h0.7M41.6 306.6h0.7M37.5 295.0h0.7M36.3 291.9h0.7M40.6 301.5h0.7M46.6 303.2h0.7M46.8 288.7h0.7M37.2 300.7h0.7M48.0 298.2h0.7M36.0 295.0h0.7M37.1 291.5h0.7M48.3 293.1h0.7M46.7 299.9h0.7M37.3 300.4h0.7M48.9 301.9h0.7M47.1 298.2h0.7M43.2 296.1h0.7M42.7 306.6h0.7M41.7 293.5h0.7M38.9 303.0h0.7M50.9 301.9h0.7M42.2 286.6h0.7M50.5 298.0h0.7M40.3 289.7h0.7M40.2 289.8h0.7M40.9 300.8h0.7M40.7 299.5h0.7M36.1 307.5h0.7M37.1 284.8h0.7M39.5 292.2h0.7M35.2 295.0h0.7M42.0 289.2h0.7M39.8 307.5h0.7M44.1 296.4h0.7M41.2 296.7h0.7M40.3 302.6h0.7M40.0 280.7h0.7M40.4 291.3h0.7M43.9 293.2h0.7M35.1 289.6h0.7M37.2 284.4h0.7M36.5 294.9h0.7M42.2 307.0h0.7M50.6 304.7h0.7M41.2 298.8h0.7M49.9 307.5h0.7M38.9 300.7h0.7M42.0 297.9h0.7M37.9 288.2h0.7M37.7 286.7h0.7M46.9 301.3h0.7M34.2 307.3h0.7M45.1 284.1h0.7M50.1 303.2h0.7M51.2 288.9h0.7M43.3 300.5h0.7M41.5 298.7h0.7M46.0 287.0h0.7M34.0 287.7h0.7M37.6 293.3h0.7M42.4 299.4h0.7M40.7 292.8h0.7M38.2 304.2h0.7M44.5 298.2h0.7M38.8 308.4h0.7M37.4 302.0h0.7M46.5 295.6h0.7M44.8 289.7h0.7M45.8 298.9h0.7M35.9 306.5h0.7M37.0 296.3h0.7M42.0 295.2h0.7M41.8 293.6h0.7M44.0 297.5h0.7M41.6 278.2h0.7M46.5 297.7h0.7M42.9 305.0h0.7M34.9 308.3h0.7M39.7 302.3h0.7M38.6 289.7h0.7M46.2 303.8h0.7M48.5 303.5h0.7M37.5 285.9h0.7M37.1 292.8h0.7M36.3 301.6h0.7M42.2 295.6h0.7M41.4 296.5h0.7M41.6 302.8h0.7M45.5 292.7h0.7M41.1 305.2h0.7M40.6 287.4h0.7M37.8 302.6h0.7M46.1 308.7h0.7M36.0 287.7h0.7M43.2 304.1h0.7M41.5 288.4h0.7M44.6 303.0h0.7M43.4 294.1h0.7M42.1 303.0h0.7M37.6 284.6h0.7M42.2 300.9h0.7M40.6 303.7h0.7M37.4 296.9h0.7M38.9 301.5h0.7M48.8 295.7h0.7M51.2 308.2h0.7M44.6 301.6h0.7M49.7 296.2h0.7M39.9 290.1h0.7M43.0 306.9h0.7M43.3 300.5h0.7M39.5 298.7h0.7M38.4 289.8h0.7M36.6 291.7h0.7M44.9 304.9h0.7M45.1 293.4h0.7M37.2 299.9h0.7M38.6 283.3h0.7M41.7 286.8h0.7M45.2 289.1h0.7M36.9 291.5h0.7M37.7 306.6h0.7M44.9 301.7h0.7M42.2 286.7h0.7M37.8 293.6h0.7M35.4 301.1h0.7M36.6 292.5h0.7M35.1 283.1h0.7M43.6 306.8h0.7M41.4 290.7h0.7M46.8 299.6h0.7M45.3 307.8h0.7M46.4 294.4h0.7M46.0 302.9h0.7M43.5 290.0h0.7M42.5 307.8h0.7M33.6 304.9h0.7M39.4 299.4h0.7M39.7 304.5h0.7M45.9 298.1h0.7M38.1 301.9h0.7M41.9 308.9h0.7M46.4 294.3h0.7M37.7 300.5h0.7M46.7 306.3h0.7M43.2 288.3h0.7M33.9 299.2h0.7M36.0 305.5h0.7M44.5 285.8h0.7M36.2 298.7h0.7M37.9 296.4h0.7M42.9 291.8h0.7M42.9 293.0h0.7M37.7 301.3h0.7M37.5 299.5h0.7M48.8 297.7h0.7M39.7 302.6h0.7M38.6 305.1h0.7M33.8 301.8h0.7M37.8 291.9h0.7M49.7 291.5h0.7M49.6 302.1h0.7M48.1 290.7h0.7M46.7 307.7h0.7M39.9 296.6h0.7M53.3 298.7h0.7M38.3 293.1h0.7M42.8 299.8h0.7M38.8 300.8h0.7M48.1 290.5h0.7M35.1 284.6h0.7M42.9 284.5h0.7M43.1 307.7h0.7M36.7 295.6h0.7M40.8 301.3h0.7M38.7 297.6h0.7M37.7 298.3h0.7M34.4 297.9h0.7M50.5 298.1h0.7M33.9 299.3h0.7M35.4 285.9h0.7M36.7 302.7h0.7M42.5 296.8h0.7M35.7 289.9h0.7M47.5 299.2h0.7M35.6 282.7h0.7M34.5 297.0h0.7M41.6 296.4h0.7M39.1 287.9h0.7M36.6 303.4h0.7M41.9 304.8h0.7M34.7 301.7h0.7M42.5 292.3h0.7M43.0 291.2h0.7M36.4 297.4h0.7M35.3 287.3h0.7M38.3 302.8h0.7M38.4 306.4h0.7M34.5 288.3h0.7M48.6 300.3h0.7M45.4 291.7h0.7M44.7 299.3h0.7M43.9 297.7h0.7M46.8 293.0h0.7M35.5 287.2h0.7M46.5 292.3h0.7M35.1 290.9h0.7M38.2 288.6h0.7M39.0 293.1h0.7M37.6 290.8h0.7M40.7 294.3h0.7M41.1 299.2h0.7M42.3 282.2h0.7M37.7 291.9h0.7M44.5 286.5h0.7M36.8 295.4h0.7M38.8 304.4h0.7M38.2 304.3h0.7M46.8 300.5h0.7M43.0 298.4h0.7M43.0 289.0h0.7M45.4 293.8h0.7M45.6 298.1h0.7M46.4 296.5h0.7M38.4 299.2h0.7M38.3 293.7h0.7M41.0 298.5h0.7M48.4 297.8h0.7M49.4 304.9h0.7M41.2 298.5h0.7M39.8 292.4h0.7M40.2 293.0h0.7M49.0 301.2h0.7M38.2 284.1h0.7M40.2 294.6h0.7M34.9 289.5h0.7M40.3 296.5h0.7M48.0 298.4h0.7M41.4 294.9h0.7M37.4 308.0h0.7M38.7 297.7h0.7M35.9 304.3h0.7M46.2 307.4h0.7M35.6 305.1h0.7M36.8 292.2h0.7M33.6 305.6h0.7M49.1 293.3h0.7M36.6 295.1h0.7M53.5 304.5h0.7M37.7 284.9h0.7M37.0 305.8h0.7M50.2 295.6h0.7M36.9 293.9h0.7M34.9 304.9h0.7M42.0 292.2h0.7M44.6 297.6h0.7M34.4 301.9h0.7M44.9 284.1h0.7M50.0 301.0h0.7M44.5 284.5h0.7M36.8 295.1h0.7M46.1 287.3h0.7M35.9 283.3h0.7M39.2 299.9h0.7M43.2 308.6h0.7M44.0 295.4h0.7M34.4 290.9h0.7M37.0 298.5h0.7M42.0 290.0h0.7M48.5 304.1h0.7M41.0 292.5h0.7M45.2 291.9h0.7M33.6 298.9h0.7M41.8 301.7h0.7M43.9 307.4h0.7M36.1 304.4h0.7M35.4 302.4h0.7M41.4 299.2h0.7M45.5 297.4h0.7M46.3 303.6h0.7M41.2 293.5h0.7M36.6 293.8h0.7M39.4 297.3h0.7M56.0 302.0h0.7M44.5 291.5h0.7M36.8 295.3h0.7M41.5 290.2h0.7M48.9 293.6h0.7M46.1 281.1h0.7M40.5 299.4h0.7M41.5 301.7h0.7M42.0 298.6h0.7M42.1 296.1h0.7M36.2 293.4h0.7M40.2 306.5h0.7M38.0 291.4h0.7M37.6 298.8h0.7M56.2 292.9h0.7M40.8 299.4h0.7M40.3 304.0h0.7M49.7 288.8h0.7M41.3 295.6h0.7M42.4 286.8h0.7M43.2 298.8h0.7M40.9 280.9h0.7M38.6 292.2h0.7M44.1 301.3h0.7M40.4 301.1h0.7M37.4 298.0h0.7M40.7 301.4h0.7M40.1 296.5h0.7M39.8 293.0h0.7M52.1 301.1h0.7M47.8 286.6h0.7M44.1 303.4h0.7M50.3 306.7h0.7M44.5 289.3h0.7M36.0 299.4h0.7M43.1 290.3h0.7M38.5 294.7h0.7M40.8 299.9h0.7M39.0 288.8h0.7M47.0 308.7h0.7M39.9 304.7h0.7M42.8 302.1h0.7M43.0 292.2h0.7M43.5 304.6h0.7M50.8 302.7h0.7M38.7 293.3h0.7M36.3 298.3h0.7M40.3 302.2h0.7M52.3 297.3h0.7M44.0 300.8h0.7M41.9 296.0h0.7M39.9 291.7h0.7M41.4 297.3h0.7M42.2 291.5h0.7M40.7 297.8h0.7M43.6 290.1h0.7M42.7 304.4h0.7M43.6 294.9h0.7M37.9 295.8h0.7M44.3 308.4h0.7M39.7 293.0h0.7M42.5 298.9h0.7M35.8 292.3h0.7M40.0 302.2h0.7M34.3 290.4h0.7M43.1 288.9h0.7M41.1 300.0h0.7M39.9 290.4h0.7M40.2 295.2h0.7M42.2 291.6h0.7M46.2 285.8h0.7M39.6 297.6h0.7M45.5 293.2h0.7M43.3 293.5h0.7M38.4 300.6h0.7M35.7 304.3h0.7M46.8 297.7h0.7M34.6 300.3h0.7M46.5 305.1h0.7M44.7 284.7h0.7M37.0 307.5h0.7M34.1 305.4h0.7M50.3 302.8h0.7M46.3 295.2h0.7M34.1 296.8h0.7M39.5 297.2h0.7M44.1 296.5h0.7M41.5 300.5h0.7M42.8 298.1h0.7M39.4 293.1h0.7M47.5 298.6h0.7M34.9 293.6h0.7M39.8 294.4h0.7M46.1 289.4h0.7M43.1 298.5h0.7M34.4 297.8h0.7M40.0 301.0h0.7M38.2 299.6h0.7M44.6 304.8h0.7M40.4 293.3h0.7M46.1 282.9h0.7M36.3 302.2h0.7M43.9 290.3h0.7M41.3 291.2h0.7M40.8 303.8h0.7M44.3 282.9h0.7M44.5 285.0h0.7M46.4 300.3h0.7M52.2 293.2h0.7M40.5 304.8h0.7M37.2 292.6h0.7M38.6 297.0h0.7M34.9 300.9h0.7M43.3 298.0h0.7M49.3 295.2h0.7M47.3 293.7h0.7M44.4 284.0h0.7M41.5 296.3h0.7M37.9 293.2h0.7M38.7 292.5h0.7M37.6 293.8h0.7M35.0 296.6h0.7M44.6 295.7h0.7M37.9 307.0h0.7M45.6 304.0h0.7M46.5 295.2h0.7M39.8 305.3h0.7M37.6 296.7h0.7M42.5 300.1h0.7M39.1 304.4h0.7M39.6 302.6h0.7M46.1 302.1h0.7M44.3 289.4h0.7M33.7 293.2h0.7M43.0 308.0h0.7M34.1 299.6h0.7M36.1 292.4h0.7M39.1 302.3h0.7M41.6 305.8h0.7M35.4 303.7h0.7M45.3 298.0h0.7M43.0 293.6h0.7M34.8 294.7h0.7M41.6 299.7h0.7M44.4 292.0h0.7M45.3 300.1h0.7M43.4 300.7h0.7M48.7 294.6h0.7M43.2 302.7h0.7M35.8 305.9h0.7M43.2 289.9h0.7M39.9 286.0h0.7M40.9 289.6h0.7M42.3 286.8h0.7M42.8 295.6h0.7M40.8 297.0h0.7M41.2 288.3h0.7M35.6 294.3h0.7M42.7 283.6h0.7M36.5 293.2h0.7M35.0 299.8h0.7M39.8 291.8h0.7M35.4 303.2h0.7M37.1 301.6h0.7M42.8 284.2h0.7M34.9 297.5h0.7M42.3 303.0h0.7M44.7 304.7h0.7M38.6 296.0h0.7M44.5 294.5h0.7M46.0 286.4h0.7M43.9 296.3h0.7M42.1 297.6h0.7M34.9 294.2h0.7M48.4 291.7h0.7M34.3 296.6h0.7M38.5 291.1h0.7M36.1 304.8h0.7M37.7 289.9h0.7M44.6 301.4h0.7M35.1 302.7h0.7M46.4 295.7h0.7M33.7 301.1h0.7M45.3 297.3h0.7M42.7 302.9h0.7M50.1 295.7h0.7M38.0 297.2h0.7M46.8 290.9h0.7M47.3 278.3h0.7M44.6 292.8h0.7M42.9 302.3h0.7M34.4 296.9h0.7M41.8 301.6h0.7M35.7 290.6h0.7M39.5 295.9h0.7M37.7 307.5h0.7M44.9 297.6h0.7M44.3 289.7h0.7M38.8 293.5h0.7M33.9 297.6h0.7M39.7 307.5h0.7M35.7 294.3h0.7M42.7 300.3h0.7M40.6 294.2h0.7M43.1 300.0h0.7M41.3 297.9h0.7M41.1 291.4h0.7M39.5 291.1h0.7M42.5 302.3h0.7M49.6 306.4h0.7M36.3 294.3h0.7M35.6 299.6h0.7M50.8 302.5h0.7M33.8 301.1h0.7M40.5 299.6h0.7M49.8 291.7h0.7M42.3 292.0h0.7M40.7 304.5h0.7M39.8 292.6h0.7M40.6 301.8h0.7M38.4 301.0h0.7M44.7 296.5h0.7M38.1 296.2h0.7M35.5 296.0h0.7M38.9 299.0h0.7M47.4 306.7h0.7M38.2 301.7h0.7M42.0 302.8h0.7M40.6 299.4h0.7M38.1 292.0h0.7M45.0 306.6h0.7M43.9 300.6h0.7M41.9 294.3h0.7M41.5 293.6h0.7M35.5 306.4h0.7M36.8 297.3h0.7M37.9 298.6h0.7M39.4 292.3h0.7M46.1 292.0h0.7M37.9 301.4h0.7M37.7 294.5h0.7M42.4 294.9h0.7M34.0 296.8h0.7M34.8 304.3h0.7M36.4 295.0h0.7M38.8 299.4h0.7M37.2 306.8h0.7M45.7 303.2h0.7M36.6 303.8h0.7M39.9 300.0h0.7M39.1 302.1h0.7M46.3 305.4h0.7M39.4 304.5h0.7M48.1 291.0h0.7M48.2 288.2h0.7M43.3 301.7h0.7M48.2 299.5h0.7M38.0 291.9h0.7M34.0 302.9h0.7M39.3 292.5h0.7M43.3 292.1h0.7M38.2 294.3h0.7M49.1 307.7h0.7M39.7 286.5h0.7M41.9 298.0h0.7M42.3 301.5h0.7M38.8 304.0h0.7M44.9 299.0h0.7M38.4 294.1h0.7M44.1 289.8h0.7M39.7 292.3h0.7M40.4 297.8h0.7M45.0 287.0h0.7M40.2 299.5h0.7M44.8 289.9h0.7M44.2 299.0h0.7M47.6 305.5h0.7M40.5 294.5h0.7M38.7 290.9h0.7M40.4 284.4h0.7M40.1 300.5h0.7M45.7 295.1h0.7M47.7 292.9h0.7M39.8 284.4h0.7M36.5 292.0h0.7M48.1 301.1h0.7M34.9 301.1h0.7M42.9 295.9h0.7M40.6 295.4h0.7M37.7 285.4h0.7M40.0 306.3h0.7M47.8 295.6h0.7M36.7 296.1h0.7M45.1 299.9h0.7M37.5 300.0h0.7M39.5 301.0h0.7M38.4 287.5h0.7M40.8 302.7h0.7M34.9 296.8h0.7M45.0 294.9h0.7M44.7 304.5h0.7M35.7 308.6h0.7M44.2 306.6h0.7M35.8 293.0h0.7M41.5 284.4h0.7M43.7 301.3h0.7M38.2 301.2h0.7M44.4 299.6h0.7M43.1 307.8h0.7M38.1 298.6h0.7M37.9 304.5h0.7M38.4 300.7h0.7M41.2 298.0h0.7M49.2 296.9h0.7M47.6 303.1h0.7M47.1 296.4h0.7M45.2 302.6h0.7M37.4 299.3h0.7M39.9 297.3h0.7M47.0 292.6h0.7M38.2 293.1h0.7M40.6 301.3h0.7M49.3 299.6h0.7M42.8 292.5h0.7M43.4 306.7h0.7M47.2 284.3h0.7M45.0 308.2h0.7M44.6 287.4h0.7M39.0 301.5h0.7M42.6 292.0h0.7M36.0 304.0h0.7M33.8 307.2h0.7M40.6 299.5h0.7M33.8 293.5h0.7M44.0 287.6h0.7M50.9 288.0h0.7M34.4 297.8h0.7M42.9 302.4h0.7M38.6 296.1h0.7M39.3 293.6h0.7M41.8 298.6h0.7M37.4 299.2h0.7M40.4 297.0h0.7M46.0 285.9h0.7M41.8 290.3h0.7M38.9 307.6h0.7M35.1 296.8h0.7M37.5 303.9h0.7M35.6 286.2h0.7M43.1 295.1h0.7M38.9 304.8h0.7M36.1 295.0h0.7M41.2 300.3h0.7M37.9 304.5h0.7M51.7 294.8h0.7M49.8 283.3h0.7M47.5 295.2h0.7M41.2 295.2h0.7M37.3 288.9h0.7M38.5 306.2h0.7M46.2 295.2h0.7M37.9 292.8h0.7M43.8 298.3h0.7M38.0 290.6h0.7M47.1 302.7h0.7M35.7 304.1h0.7M35.0 301.8h0.7M35.7 294.7h0.7M43.0 300.4h0.7M45.5 291.9h0.7M48.4 306.5h0.7M40.4 300.6h0.7M36.6 296.5h0.7M33.9 298.1h0.7M41.5 306.5h0.7M45.2 303.0h0.7M38.7 296.0h0.7M38.8 299.0h0.7M40.6 294.0h0.7M48.8 296.8h0.7M48.3 305.4h0.7M38.0 300.2h0.7M47.0 295.3h0.7M40.9 293.7h0.7M40.8 295.1h0.7M40.9 304.2h0.7M47.5 298.4h0.7M41.5 303.3h0.7M39.1 290.4h0.7M46.0 291.2h0.7M45.1 291.0h0.7M49.6 290.5h0.7M44.7 307.6h0.7M35.7 307.5h0.7M36.4 285.6h0.7M44.1 302.2h0.7M39.5 280.5h0.7M40.2 295.4h0.7M38.6 295.6h0.7M49.5 307.9h0.7M38.7 292.7h0.7M42.5 304.6h0.7M44.1 289.6h0.7M41.3 298.4h0.7M47.7 305.5h0.7M43.1 305.7h0.7M38.5 307.8h0.7M38.4 300.2h0.7M45.1 291.4h0.7M37.0 285.7h0.7M41.3 297.1h0.7M38.9 300.8h0.7M40.9 295.7h0.7M38.3 291.2h0.7M37.5 298.1h0.7M43.4 291.7h0.7M45.5 290.6h0.7M44.6 300.4h0.7M39.2 296.4h0.7M42.9 303.3h0.7M33.8 299.3h0.7M36.8 301.7h0.7M47.3 297.8h0.7M40.0 298.7h0.7M43.3 298.6h0.7M38.5 292.6h0.7M39.6 305.7h0.7M40.0 306.6h0.7M41.9 297.4h0.7M46.7 288.8h0.7M35.6 290.1h0.7M37.7 301.8h0.7M43.5 283.9h0.7M47.8 293.5h0.7M37.6 308.7h0.7M40.1 289.2h0.7M37.3 292.6h0.7M35.5 295.3h0.7M44.9 299.9h0.7M35.6 298.3h0.7M40.7 302.6h0.7M38.9 300.6h0.7M51.0 298.1h0.7M35.1 299.7h0.7M36.5 295.0h0.7M41.4 299.8h0.7M39.1 303.2h0.7M39.5 288.7h0.7M44.9 295.1h0.7M46.6 293.1h0.7M43.4 299.6h0.7M34.9 307.0h0.7M46.0 300.8h0.7M43.9 294.2h0.7M40.4 299.0h0.7M42.6 302.3h0.7M39.5 292.8h0.7M37.7 300.3h0.7M38.4 293.8h0.7M39.1 279.6h0.7M38.8 295.8h0.7M44.4 284.2h0.7M39.0 300.7h0.7M42.9 305.5h0.7M45.8 290.4h0.7M43.7 295.2h0.7M36.5 307.8h0.7M37.4 291.8h0.7M38.5 291.8h0.7M45.5 300.1h0.7M47.5 300.3h0.7M37.4 304.5h0.7M37.2 294.4h0.7M39.7 297.8h0.7M46.5 293.4h0.7M42.3 297.3h0.7M34.2 290.1h0.7M39.4 300.2h0.7M42.1 300.7h0.7M40.7 294.5h0.7M42.6 290.7h0.7M33.8 295.3h0.7M36.8 293.8h0.7M40.3 292.1h0.7M38.4 286.0h0.7M41.2 291.6h0.7M42.5 278.4h0.7M36.5 299.1h0.7M41.0 298.2h0.7M41.2 290.9h0.7M44.2 297.2h0.7M40.6 294.5h0.7M43.2 298.2h0.7M46.2 300.6h0.7M37.4 296.0h0.7M45.1 295.0h0.7M42.4 301.0h0.7M39.6 281.8h0.7M41.2 298.9h0.7M41.2 292.4h0.7M46.6 296.6h0.7M37.4 292.6h0.7M42.3 290.1h0.7M47.1 304.6h0.7M47.4 301.5h0.7M46.7 300.8h0.7M47.4 294.2h0.7M41.1 302.8h0.7M40.1 304.9h0.7M40.9 302.2h0.7M40.9 287.5h0.7M41.9 306.4h0.7M43.3 293.5h0.7M40.6 284.5h0.7M39.6 303.7h0.7M44.7 306.5h0.7M35.8 293.1h0.7M34.7 306.9h0.7M42.7 294.1h0.7M51.6 280.4h0.7M40.2 299.0h0.7M51.9 298.4h0.7M45.5 306.8h0.7M43.1 299.9h0.7M39.6 294.7h0.7M38.2 283.4h0.7M41.8 297.3h0.7M40.0 295.7h0.7M36.7 297.3h0.7M38.3 298.9h0.7M56.3 300.2h0.7M44.9 303.1h0.7M44.1 303.1h0.7M43.9 307.1h0.7M45.6 306.7h0.7M38.0 297.5h0.7M36.8 304.0h0.7M44.7 294.3h0.7M46.8 289.9h0.7M40.0 301.8h0.7M40.3 300.1h0.7M46.5 299.7h0.7M34.9 302.4h0.7M40.0 298.3h0.7M37.6 288.1h0.7M34.2 295.1h0.7M35.1 279.0h0.7M46.3 289.6h0.7M36.8 301.1h0.7M36.6 302.0h0.7M38.1 299.6h0.7M41.0 297.5h0.7M40.3 307.1h0.7M37.7 301.1h0.7M41.3 300.8h0.7M45.5 287.3h0.7M41.9 296.3h0.7M38.9 291.7h0.7M36.5 290.5h0.7M49.1 297.6h0.7M44.3 290.8h0.7M41.2 307.3h0.7M40.3 290.7h0.7M39.3 290.7h0.7M38.5 292.0h0.7M36.0 291.2h0.7M41.7 307.0h0.7M34.6 296.4h0.7M41.0 301.3h0.7M46.2 293.7h0.7M34.2 296.2h0.7M42.0 292.7h0.7M45.0 309.0h0.7M45.7 284.4h0.7M41.5 296.0h0.7M41.6 294.2h0.7M42.7 301.9h0.7M44.4 301.5h0.7M42.6 289.5h0.7M38.4 298.4h0.7M38.6 290.3h0.7M40.7 293.5h0.7M38.4 291.4h0.7M36.7 296.8h0.7M37.2 302.1h0.7M39.8 298.4h0.7M42.6 306.2h0.7M43.5 299.1h0.7M39.7 292.0h0.7M38.8 302.2h0.7M41.6 294.9h0.7M33.8 287.0h0.7M42.1 304.5h0.7M42.4 288.1h0.7M39.4 299.0h0.7M35.8 299.9h0.7M39.5 291.8h0.7M34.2 303.0h0.7M42.3 291.4h0.7M35.4 303.6h0.7M43.5 295.4h0.7M48.6 295.5h0.7M35.1 304.9h0.7M39.5 299.9h0.7M40.7 290.7h0.7M34.5 296.2h0.7M47.6 290.7h0.7M47.4 299.0h0.7M34.9 299.3h0.7M43.4 291.4h0.7M34.9 300.5h0.7M36.4 287.4h0.7M39.3 298.7h0.7M37.7 289.5h0.7M41.6 285.6h0.7M43.2 300.8h0.7M49.0 303.5h0.7M42.3 299.3h0.7M40.6 288.5h0.7M47.9 301.1h0.7M39.1 289.7h0.7M48.0 301.1h0.7M34.5 302.1h0.7M50.1 297.3h0.7M42.5 294.7h0.7M37.3 304.8h0.7M56.1 298.3h0.7M39.9 302.9h0.7M39.0 302.5h0.7M44.7 290.6h0.7M35.1 297.0h0.7M44.7 299.4h0.7M46.8 288.1h0.7M43.0 293.3h0.7M41.0 299.7h0.7M35.6 295.9h0.7M34.6 299.3h0.7M36.2 294.1h0.7M41.6 293.1h0.7M46.3 293.2h0.7M44.8 299.4h0.7M35.3 296.0h0.7M36.3 295.0h0.7M38.4 308.1h0.7M42.8 288.6h0.7M45.7 300.1h0.7M39.4 295.8h0.7M41.8 295.4h0.7M37.8 295.0h0.7M46.4 293.3h0.7M42.4 289.7h0.7M36.9 288.2h0.7M39.5 302.1h0.7M42.0 294.2h0.7M43.6 295.1h0.7M42.4 299.4h0.7M43.2 280.7h0.7M33.9 302.7h0.7M39.3 293.8h0.7M48.0 301.3h0.7M50.1 301.0h0.7M39.5 302.4h0.7M36.5 294.5h0.7M37.7 296.0h0.7M44.4 294.2h0.7M42.1 294.1h0.7M44.9 278.8h0.7M39.5 298.6h0.7M35.1 304.4h0.7M41.6 306.2h0.7M45.3 301.8h0.7M39.7 290.1h0.7M39.4 294.4h0.7M41.8 294.4h0.7M55.9 286.7h0.7M46.4 294.3h0.7M39.3 303.8h0.7M40.5 289.3h0.7M42.6 296.2h0.7M35.2 292.5h0.7M42.9 299.5h0.7M42.6 293.4h0.7M41.7 296.7h0.7M39.6 295.6h0.7M37.7 304.1h0.7M44.5 308.6h0.7M39.9 300.0h0.7M38.3 296.4h0.7M35.7 293.1h0.7M46.6 299.3h0.7M46.6 303.3h0.7M45.1 304.3h0.7M37.5 302.9h0.7M38.9 293.9h0.7M44.7 291.8h0.7M41.9 300.0h0.7M42.4 295.1h0.7M34.1 297.7h0.7M44.8 302.8h0.7M43.8 304.9h0.7M35.5 297.2h0.7M42.2 304.2h0.7M41.3 301.0h0.7M52.9 299.1h0.7M42.8 302.0h0.7M45.6 298.9h0.7M36.2 296.8h0.7M42.2 295.6h0.7M37.2 295.1h0.7M40.0 295.1h0.7M40.7 307.0h0.7M42.0 297.3h0.7M34.6 290.2h0.7M42.4 291.6h0.7M42.6 290.3h0.7M41.2 297.0h0.7M45.5 294.9h0.7M38.6 299.2h0.7M40.8 308.9h0.7M39.2 293.9h0.7M38.9 300.7h0.7M41.7 302.2h0.7M49.7 297.3h0.7M34.5 298.5h0.7M42.6 282.5h0.7M40.6 287.5h0.7M42.8 306.8h0.7M45.7 287.4h0.7M47.4 303.6h0.7M38.7 300.9h0.7M48.1 295.3h0.7M40.4 293.7h0.7M46.3 283.0h0.7M47.6 291.0h0.7M45.1 286.6h0.7M35.8 293.5h0.7M44.6 286.6h0.7M43.5 293.2h0.7M46.7 295.4h0.7M42.9 296.3h0.7M49.5 295.1h0.7M40.9 302.1h0.7M36.8 298.8h0.7M37.3 287.4h0.7M42.6 287.3h0.7M49.6 292.8h0.7M38.7 299.2h0.7M34.8 286.6h0.7M36.8 305.5h0.7M45.3 286.9h0.7M46.5 297.7h0.7M43.0 297.8h0.7M42.6 290.8h0.7M36.0 292.8h0.7M38.7 301.7h0.7M34.4 308.2h0.7M37.3 293.5h0.7M44.0 300.4h0.7M38.8 290.3h0.7M35.5 286.7h0.7M46.2 304.8h0.7M49.8 300.9h0.7M42.2 302.6h0.7M45.3 295.8h0.7M35.7 302.6h0.7M46.4 295.2h0.7M43.9 297.2h0.7M42.0 293.9h0.7M40.4 297.5h0.7M40.5 304.0h0.7M45.8 302.8h0.7M44.5 291.1h0.7M46.6 291.1h0.7M47.0 302.0h0.7M35.6 305.4h0.7M37.1 292.5h0.7M45.6 293.0h0.7M49.7 302.2h0.7M37.8 289.3h0.7M47.0 290.4h0.7M40.5 295.6h0.7M39.2 300.9h0.7M51.0 293.2h0.7M44.8 304.8h0.7M39.1 296.5h0.7M33.8 304.8h0.7M37.8 293.1h0.7M40.8 291.7h0.7M35.3 295.5h0.7M48.0 296.1h0.7M43.1 287.6h0.7M38.5 287.1h0.7M40.0 301.6h0.7M41.8 291.3h0.7M44.5 304.0h0.7M42.7 294.6h0.7M40.3 293.2h0.7M39.8 299.6h0.7M39.0 304.1h0.7M53.5 293.8h0.7M42.2 303.1h0.7M43.7 295.9h0.7M38.1 304.3h0.7M43.6 300.9h0.7M36.5 301.8h0.7M44.5 296.2h0.7M34.6 288.3h0.7M39.3 301.2h0.7M40.8 289.6h0.7M40.6 291.9h0.7M36.3 296.4h0.7M37.7 293.5h0.7M40.7 295.5h0.7M43.6 289.5h0.7M40.1 302.7h0.7M46.4 301.3h0.7M40.7 287.0h0.7M43.9 301.4h0.7M35.2 289.5h0.7M41.3 290.6h0.7M48.5 293.3h0.7M37.7 303.4h0.7M42.2 291.4h0.7M34.3 295.8h0.7M35.1 284.3h0.7M43.7 302.2h0.7M45.4 300.4h0.7M37.1 289.5h0.7M34.9 302.7h0.7M42.9 284.5h0.7M45.0 306.0h0.7M40.7 289.3h0.7M49.4 288.6h0.7M40.1 284.5h0.7M34.2 285.9h0.7M46.0 305.5h0.7M38.4 288.3h0.7M40.2 300.1h0.7M40.0 302.3h0.7M40.9 300.6h0.7M34.2 280.5h0.7M42.1 291.2h0.7M39.9 294.9h0.7M42.9 292.2h0.7M47.8 297.7h0.7M43.2 301.8h0.7M45.8 300.3h0.7M49.9 300.7h0.7M43.3 300.7h0.7M37.2 292.9h0.7M37.2 305.4h0.7M42.8 289.4h0.7M49.4 299.8h0.7M46.6 299.0h0.7M38.8 298.7h0.7M34.8 289.3h0.7M36.0 293.9h0.7M49.9 297.2h0.7M45.0 296.0h0.7M42.5 297.3h0.7M37.7 298.0h0.7M39.0 290.1h0.7M38.7 301.3h0.7M37.0 300.8h0.7M43.4 308.2h0.7M34.9 296.7h0.7M43.1 307.8h0.7M41.8 302.7h0.7M49.0 295.5h0.7M51.6 292.5h0.7M39.1 286.5h0.7M43.8 299.3h0.7M50.8 298.6h0.7M39.2 287.8h0.7M40.1 304.0h0.7M44.3 306.0h0.7M44.9 297.2h0.7M43.6 298.7h0.7M42.4 290.2h0.7M42.5 299.5h0.7M45.6 307.5h0.7M48.4 290.9h0.7M42.2 299.9h0.7M34.8 294.3h0.7M41.5 302.7h0.7M51.8 299.5h0.7M37.4 281.1h0.7M46.0 296.6h0.7M39.9 290.6h0.7M44.3 285.1h0.7M41.1 298.3h0.7M42.0 306.6h0.7M40.0 298.2h0.7M44.9 286.7h0.7M39.0 298.0h0.7M45.4 291.9h0.7M44.6 300.2h0.7M41.6 302.5h0.7M44.7 293.7h0.7M46.0 303.2h0.7M42.9 300.8h0.7M33.9 300.0h0.7M35.2 289.2h0.7M38.7 298.5h0.7M40.2 295.2h0.7M35.3 298.8h0.7M36.7 287.7h0.7M41.0 307.6h0.7M38.4 290.1h0.7M39.0 296.0h0.7M41.2 304.4h0.7M42.8 284.8h0.7M34.8 288.9h0.7M42.7 298.2h0.7M49.8 295.6h0.7M42.1 298.0h0.7M42.0 307.8h0.7M47.2 293.3h0.7M44.1 294.8h0.7M41.1 298.6h0.7M40.6 294.2h0.7M48.6 295.7h0.7M43.7 304.7h0.7M47.7 305.1h0.7M49.4 287.5h0.7M50.7 297.7h0.7M42.0 298.6h0.7M36.4 295.9h0.7M40.0 298.0h0.7M40.5 296.0h0.7M45.1 286.3h0.7M37.9 298.4h0.7M38.4 293.6h0.7M38.2 299.0h0.7M47.0 296.2h0.7M39.1 300.0h0.7M39.2 284.0h0.7M41.9 294.9h0.7M37.5 301.9h0.7M40.7 293.6h0.7M40.6 296.7h0.7M42.8 299.1h0.7M38.0 288.7h0.7M34.8 296.5h0.7M34.5 302.8h0.7M33.6 285.0h0.7M39.5 285.1h0.7M49.0 290.6h0.7M40.2 295.8h0.7M36.2 285.1h0.7M40.4 303.4h0.7M37.8 302.5h0.7M45.2 301.7h0.7M48.0 296.3h0.7M48.5 292.6h0.7M49.2 278.3h0.7M40.6 291.9h0.7M40.5 304.7h0.7M44.2 298.2h0.7M49.3 287.2h0.7M36.3 308.1h0.7M42.2 283.0h0.7M42.3 289.2h0.7M48.2 305.5h0.7M37.7 306.6h0.7M36.2 303.9h0.7M43.5 296.6h0.7M35.5 280.5h0.7M43.5 300.1h0.7M44.5 298.0h0.7M37.1 276.8h0.7M43.0 304.2h0.7M37.4 287.6h0.7M40.3 285.8h0.7M40.5 302.9h0.7M48.4 299.4h0.7M41.5 302.7h0.7M47.8 295.3h0.7M34.1 292.0h0.7M34.0 291.3h0.7M39.9 299.9h0.7M41.3 298.0h0.7M38.6 300.5h0.7M45.1 302.8h0.7M48.3 295.5h0.7M41.5 300.4h0.7M38.8 304.3h0.7M38.4 290.4h0.7M40.2 294.4h0.7M44.8 294.9h0.7M41.1 296.0h0.7M42.3 293.1h0.7M46.2 287.5h0.7M38.5 292.5h0.7M43.9 297.8h0.7M43.0 295.2h0.7M36.8 289.7h0.7M38.8 293.8h0.7M42.0 300.0h0.7M45.6 296.8h0.7M36.6 290.1h0.7M40.8 300.0h0.7M50.6 298.8h0.7M35.0 306.0h0.7M46.4 306.9h0.7M40.4 304.2h0.7M38.0 297.0h0.7M39.4 304.2h0.7M40.8 292.5h0.7M41.8 302.1h0.7M36.8 301.9h0.7M36.8 291.4h0.7M41.6 295.9h0.7M35.4 286.1h0.7M40.6 299.2h0.7M38.1 298.8h0.7M42.7 299.4h0.7M37.3 298.1h0.7M41.2 305.0h0.7M41.9 299.3h0.7M36.7 303.5h0.7M46.6 294.0h0.7M43.8 299.7h0.7M40.3 288.5h0.7M49.6 284.4h0.7M42.1 294.9h0.7M46.5 294.5h0.7M40.7 301.8h0.7M42.9 293.9h0.7M44.0 300.2h0.7M45.6 293.9h0.7M40.3 294.8h0.7M36.1 299.3h0.7M42.6 307.4h0.7M38.8 300.2h0.7M46.4 296.7h0.7M40.8 298.4h0.7M36.9 290.6h0.7M46.3 298.7h0.7M40.1 288.8h0.7M41.1 305.7h0.7M34.5 291.3h0.7M46.2 307.5h0.7M48.5 293.6h0.7M43.6 292.3h0.7M43.2 295.0h0.7M41.5 306.9h0.7M42.3 295.8h0.7M40.8 299.4h0.7M37.8 298.9h0.7M43.6 308.4h0.7M34.1 303.6h0.7M53.1 298.8h0.7M41.1 305.4h0.7M37.9 294.1h0.7M42.3 293.4h0.7M46.2 297.5h0.7M38.2 303.9h0.7M36.2 306.2h0.7M45.5 298.5h0.7M45.6 308.7h0.7M47.6 297.5h0.7M40.2 305.2h0.7M43.0 301.5h0.7M42.2 300.6h0.7M33.7 296.2h0.7M41.8 295.9h0.7M40.8 301.7h0.7M35.6 293.6h0.7M35.1 285.7h0.7M44.5 296.0h0.7M45.5 294.9h0.7M51.4 302.4h0.7M41.3 298.3h0.7M39.4 303.1h0.7M50.8 294.6h0.7M34.9 301.6h0.7M46.0 287.2h0.7M36.9 290.6h0.7M43.4 301.0h0.7M36.7 289.7h0.7M44.0 283.3h0.7M43.8 296.4h0.7M50.4 304.4h0.7M37.5 295.6h0.7M39.1 292.5h0.7M40.9 304.2h0.7M48.2 302.6h0.7M36.3 291.9h0.7M36.1 286.4h0.7M46.4 298.0h0.7M36.9 287.6h0.7M38.5 294.0h0.7M49.3 294.3h0.7M41.1 304.9h0.7M43.9 296.3h0.7M43.6 294.5h0.7M40.0 290.9h0.7M35.9 287.3h0.7M43.1 301.1h0.7M41.4 302.9h0.7M43.2 298.3h0.7M36.0 301.6h0.7M46.6 301.8h0.7M46.9 294.2h0.7M35.5 306.1h0.7M37.5 299.2h0.7M39.5 297.7h0.7M39.1 293.8h0.7M41.5 284.3h0.7M35.9 289.8h0.7M36.7 280.0h0.7M43.4 308.8h0.7M39.2 302.6h0.7M43.6 289.0h0.7M46.7 285.9h0.7M37.6 295.0h0.7M46.9 298.3h0.7M39.9 292.0h0.7M41.0 297.8h0.7M44.2 307.1h0.7M44.3 297.6h0.7M39.7 308.5h0.7M41.5 297.4h0.7M49.6 308.3h0.7M43.4 296.8h0.7M37.3 304.8h0.7M38.2 304.1h0.7M36.5 298.2h0.7M42.5 298.5h0.7M41.7 300.1h0.7M34.8 289.9h0.7M39.9 291.2h0.7M37.1 297.7h0.7M46.5 293.6h0.7M43.4 298.8h0.7M38.7 291.0h0.7M39.7 292.6h0.7M43.2 285.5h0.7M46.2 302.7h0.7M43.4 307.7h0.7M43.6 285.8h0.7M40.8 300.6h0.7M37.0 289.8h0.7M42.7 301.0h0.7M38.3 295.8h0.7M37.9 293.6h0.7M40.2 304.8h0.7M48.7 299.7h0.7M41.3 303.2h0.7M35.4 289.2h0.7M41.8 303.3h0.7M38.4 292.9h0.7M42.5 301.7h0.7M41.8 284.5h0.7M37.7 280.2h0.7M41.7 291.7h0.7M37.2 307.8h0.7M47.2 300.8h0.7M41.9 298.7h0.7M37.5 297.2h0.7M50.2 291.5h0.7M37.1 298.6h0.7M45.0 303.2h0.7M35.6 296.6h0.7M39.2 289.1h0.7M40.9 294.2h0.7M45.2 300.5h0.7M36.6 298.1h0.7M38.7 293.2h0.7M38.0 304.7h0.7M38.4 285.8h0.7M36.6 303.0h0.7M51.4 290.3h0.7M38.7 295.3h0.7M40.2 299.4h0.7M51.8 295.7h0.7M44.5 303.2h0.7M37.3 293.5h0.7M48.4 302.4h0.7M41.2 290.1h0.7M45.0 301.1h0.7M51.6 307.5h0.7M44.6 299.3h0.7M40.8 293.8h0.7M42.1 299.2h0.7M43.8 304.9h0.7M42.1 293.8h0.7M44.6 308.1h0.7M36.3 300.4h0.7M43.3 301.2h0.7M43.1 296.9h0.7M40.0 309.0h0.7M49.3 288.0h0.7M37.1 294.0h0.7M40.2 293.8h0.7M48.0 305.5h0.7M38.4 302.0h0.7M40.3 305.4h0.7M43.4 297.3h0.7M43.3 292.6h0.7M44.5 307.7h0.7M38.7 301.3h0.7M44.9 290.6h0.7M49.3 298.3h0.7M44.9 295.7h0.7M46.1 287.0h0.7M40.0 304.1h0.7M37.1 302.1h0.7M38.7 299.8h0.7M34.2 302.8h0.7M47.1 289.9h0.7M45.8 277.3h0.7M39.3 285.9h0.7M42.0 292.6h0.7M37.7 291.8h0.7M42.0 294.3h0.7M35.9 296.0h0.7M42.6 291.7h0.7M46.1 286.2h0.7M42.6 294.9h0.7M48.4 293.1h0.7M37.1 288.4h0.7M50.5 301.7h0.7M35.0 295.2h0.7M35.7 307.9h0.7M42.6 283.7h0.7M41.6 303.7h0.7M40.5 300.7h0.7M39.9 298.9h0.7M41.6 292.7h0.7M42.3 298.6h0.7M40.3 292.9h0.7M35.4 299.2h0.7M44.7 281.1h0.7M37.8 306.7h0.7M45.1 292.7h0.7M47.3 290.8h0.7M38.3 296.0h0.7M34.6 296.6h0.7M38.7 293.4h0.7M37.3 302.6h0.7M48.3 294.7h0.7M48.7 308.5h0.7M47.3 299.5h0.7M38.4 298.8h0.7M41.7 291.1h0.7M42.0 308.9h0.7M41.7 292.8h0.7M52.6 282.8h0.7M35.8 300.3h0.7M37.5 281.9h0.7M41.8 303.2h0.7M36.5 307.5h0.7M43.0 305.6h0.7M47.2 297.5h0.7M41.4 293.2h0.7M46.1 292.8h0.7M41.1 283.4h0.7M40.8 299.0h0.7M51.0 287.3h0.7M37.8 296.1h0.7M34.1 288.2h0.7M34.2 301.9h0.7M40.3 303.1h0.7M35.0 301.5h0.7M38.3 298.1h0.7M45.2 297.7h0.7M38.7 286.1h0.7M40.8 302.9h0.7M37.3 297.0h0.7M42.6 306.4h0.7M38.9 286.1h0.7M38.6 286.8h0.7M42.0 296.5h0.7M45.8 294.9h0.7M42.2 298.9h0.7M42.8 287.4h0.7M44.1 303.6h0.7M35.9 307.7h0.7M40.6 302.2h0.7M43.3 303.6h0.7M37.2 293.5h0.7M42.4 301.7h0.7M43.4 299.8h0.7M38.0 305.1h0.7M42.9 304.8h0.7M37.1 298.3h0.7M38.1 295.4h0.7M41.5 299.9h0.7M36.4 280.1h0.7M36.5 301.2h0.7M36.2 300.5h0.7M38.6 291.0h0.7M46.5 308.9h0.7M40.0 297.2h0.7M45.4 288.3h0.7M36.0 305.3h0.7M45.1 294.1h0.7M36.5 299.9h0.7M39.3 280.5h0.7M43.5 302.8h0.7M46.0 287.6h0.7M33.9 291.9h0.7M35.5 295.3h0.7M41.6 300.7h0.7M48.0 290.0h0.7M45.0 298.5h0.7M34.5 298.5h0.7M36.7 304.5h0.7M47.2 293.2h0.7M35.9 298.4h0.7M35.1 303.7h0.7M41.4 292.2h0.7M37.0 302.5h0.7M36.4 296.1h0.7M35.7 308.8h0.7M44.8 306.6h0.7M43.9 298.1h0.7M49.3 302.1h0.7M42.8 301.5h0.7M44.3 299.4h0.7M39.6 286.4h0.7M51.2 288.4h0.7M50.5 306.0h0.7M37.4 299.3h0.7M40.4 283.7h0.7M38.8 299.5h0.7M46.6 289.1h0.7M42.2 298.1h0.7M41.3 298.5h0.7M38.6 288.0h0.7M42.9 300.2h0.7M43.5 306.2h0.7M34.1 281.2h0.7M35.8 300.3h0.7M40.4 302.6h0.7M57.2 293.9h0.7M39.6 293.3h0.7M41.8 301.1h0.7M35.5 306.7h0.7M46.5 300.6h0.7M39.9 295.8h0.7M35.4 294.0h0.7M45.7 291.1h0.7M37.8 303.5h0.7M50.2 292.7h0.7M46.2 292.9h0.7M42.5 300.9h0.7M34.6 304.7h0.7M49.9 297.9h0.7M41.9 289.3h0.7M49.8 297.9h0.7M33.9 302.9h0.7M52.0 293.1h0.7M37.1 293.5h0.7M37.6 301.4h0.7M48.1 290.4h0.7M42.8 284.9h0.7M48.4 296.9h0.7M36.9 308.2h0.7M39.9 307.1h0.7M36.3 297.9h0.7M42.4 296.1h0.7M48.4 292.5h0.7M45.7 307.0h0.7M35.8 293.7h0.7M42.5 296.3h0.7M40.9 294.3h0.7M40.1 300.9h0.7M44.4 292.0h0.7M39.9 292.2h0.7M39.6 287.5h0.7M45.5 302.2h0.7M39.9 292.7h0.7M38.1 292.8h0.7M57.6 288.9h0.7M34.4 301.5h0.7M43.6 286.5h0.7M37.9 298.1h0.7M40.5 293.6h0.7M39.8 295.4h0.7M47.0 296.9h0.7M40.3 293.8h0.7M37.2 292.3h0.7M46.3 299.2h0.7M49.2 304.6h0.7M41.6 296.3h0.7M34.8 299.2h0.7M38.9 286.4h0.7M41.6 301.0h0.7M41.5 294.2h0.7M42.9 305.1h0.7M38.9 301.1h0.7M45.8 294.1h0.7M41.4 292.3h0.7M43.6 294.9h0.7M46.5 292.2h0.7M49.3 295.3h0.7M36.1 291.2h0.7M43.9 291.5h0.7M49.9 306.5h0.7M43.2 287.5h0.7M40.4 292.4h0.7M51.9 293.7h0.7M44.7 306.5h0.7M35.5 295.1h0.7M41.9 300.8h0.7M34.5 299.0h0.7M39.9 304.2h0.7M37.9 295.3h0.7M44.3 293.1h0.7M54.7 292.6h0.7M44.9 304.6h0.7M45.5 296.1h0.7M36.2 295.7h0.7M44.0 298.3h0.7M43.5 301.5h0.7M35.9 291.0h0.7M48.0 294.1h0.7M36.2 291.0h0.7M45.5 289.6h0.7M36.0 304.8h0.7M41.2 297.9h0.7M37.2 295.9h0.7M37.9 297.3h0.7M44.5 288.6h0.7M35.7 282.8h0.7M48.3 297.0h0.7M40.4 297.1h0.7M45.7 299.7h0.7M44.9 296.3h0.7M39.9 297.1h0.7M44.0 297.9h0.7M50.2 307.2h0.7M35.9 296.9h0.7M45.7 296.0h0.7M39.9 295.0h0.7M47.6 280.2h0.7M47.1 304.9h0.7M40.1 301.4h0.7M35.5 305.3h0.7M56.4 291.1h0.7M47.8 297.1h0.7M38.7 294.1h0.7M39.5 288.7h0.7M40.4 301.4h0.7M42.1 300.8h0.7M43.8 304.5h0.7M34.5 293.5h0.7M34.9 302.1h0.7M42.3 297.7h0.7M37.1 299.9h0.7M40.7 292.3h0.7M42.2 292.8h0.7M45.5 301.9h0.7M36.9 301.6h0.7M40.8 292.6h0.7M35.7 285.9h0.7M34.6 299.9h0.7M46.8 293.1h0.7M41.3 299.9h0.7M44.6 300.6h0.7M46.9 302.9h0.7M36.5 300.3h0.7M40.6 301.6h0.7M38.9 303.3h0.7M47.4 291.6h0.7M37.7 299.3h0.7M43.1 298.5h0.7M44.8 289.2h0.7M44.5 305.7h0.7M46.3 300.5h0.7M39.3 300.3h0.7M40.1 286.4h0.7M37.4 297.2h0.7M37.8 291.0h0.7M39.3 294.9h0.7M40.9 297.2h0.7M41.4 304.5h0.7M41.2 300.3h0.7M34.1 276.9h0.7M38.4 302.2h0.7M38.7 293.1h0.7M34.1 303.7h0.7M37.8 299.2h0.7M46.4 301.3h0.7M52.2 296.6h0.7M45.5 302.4h0.7M37.1 297.8h0.7M37.6 290.3h0.7M42.1 292.1h0.7M49.2 292.3h0.7M37.7 298.1h0.7M37.8 297.9h0.7M37.3 287.5h0.7M48.4 300.6h0.7M41.3 294.2h0.7M39.7 299.6h0.7M35.9 306.3h0.7M35.0 305.7h0.7M40.1 297.7h0.7M47.5 303.6h0.7M45.4 290.0h0.7M40.0 294.1h0.7M34.8 304.6h0.7M42.0 297.5h0.7M34.1 308.8h0.7M45.1 297.4h0.7M48.2 290.8h0.7M45.1 290.5h0.7M47.8 295.6h0.7M46.9 294.6h0.7M42.6 305.5h0.7M35.8 298.2h0.7M36.1 303.5h0.7M37.4 294.9h0.7M39.4 305.7h0.7M35.1 297.3h0.7M38.8 293.7h0.7M36.4 296.4h0.7M41.5 286.7h0.7M41.7 289.2h0.7M35.5 297.0h0.7M39.2 304.4h0.7M38.0 285.0h0.7M41.8 305.0h0.7M37.7 302.2h0.7M35.0 306.6h0.7M40.1 292.8h0.7M36.1 288.8h0.7M35.2 289.4h0.7M40.2 300.0h0.7M39.6 298.9h0.7M46.7 295.5h0.7M34.0 281.5h0.7M41.8 292.7h0.7M39.2 300.4h0.7M42.9 286.5h0.7M35.5 298.0h0.7M39.8 305.5h0.7M37.9 283.0h0.7M46.6 286.1h0.7M35.5 300.2h0.7M41.7 301.2h0.7M43.3 292.5h0.7M47.0 285.7h0.7M37.5 299.5h0.7M41.2 290.8h0.7M48.7 307.8h0.7M35.6 300.1h0.7M37.2 294.5h0.7M45.6 298.4h0.7M39.9 298.2h0.7M34.4 306.0h0.7M36.6 306.7h0.7M38.1 294.3h0.7M48.2 298.8h0.7M37.2 293.8h0.7M43.7 294.7h0.7M34.7 292.8h0.7M39.9 299.2h0.7M37.1 306.5h0.7M35.5 292.5h0.7M43.1 300.9h0.7M38.5 304.2h0.7M40.8 306.8h0.7M39.5 298.9h0.7M43.2 285.3h0.7M45.3 299.8h0.7M41.5 307.2h0.7M42.2 284.3h0.7M35.6 295.4h0.7M41.3 294.4h0.7M45.4 301.7h0.7M40.6 297.9h0.7M42.4 299.2h0.7M36.7 303.0h0.7M36.2 297.2h0.7M38.6 289.4h0.7M43.6 297.0h0.7M34.4 297.0h0.7M37.6 302.4h0.7M35.5 291.5h0.7M40.0 300.4h0.7M45.3 295.6h0.7M46.2 304.2h0.7M36.0 296.3h0.7M37.6 303.7h0.7M45.2 295.7h0.7M38.0 299.9h0.7M36.5 288.7h0.7M35.5 299.9h0.7M34.5 305.6h0.7M44.1 298.4h0.7M48.1 294.9h0.7M37.8 290.2h0.7M37.1 298.3h0.7M44.0 306.4h0.7M39.1 292.4h0.7M38.8 294.5h0.7M38.1 294.7h0.7M36.0 297.1h0.7M37.9 296.3h0.7M43.5 302.0h0.7M37.7 289.6h0.7M33.8 289.3h0.7M37.2 295.3h0.7M36.8 303.3h0.7M50.0 295.0h0.7M39.1 294.8h0.7M39.5 296.3h0.7M53.2 289.9h0.7M39.9 292.0h0.7M42.3 293.9h0.7M43.5 290.0h0.7M51.4 299.0h0.7M38.1 289.5h0.7M42.8 293.9h0.7M44.3 293.7h0.7M45.1 298.5h0.7M42.3 298.6h0.7M38.6 295.0h0.7M42.8 302.4h0.7M49.2 289.6h0.7M46.1 297.0h0.7M41.7 292.0h0.7M49.0 291.8h0.7M40.1 292.5h0.7M50.4 306.2h0.7M33.7 294.4h0.7M42.4 294.5h0.7M38.7 290.1h0.7M41.8 290.0h0.7M38.8 308.8h0.7M42.4 292.9h0.7M38.7 290.9h0.7M41.1 302.3h0.7M45.3 295.6h0.7M34.4 297.0h0.7M49.1 299.4h0.7M40.2 283.2h0.7M38.3 301.3h0.7M35.6 306.8h0.7M37.6 291.5h0.7M37.5 296.9h0.7M45.6 293.6h0.7M43.2 308.1h0.7M34.7 307.7h0.7M44.0 300.6h0.7M36.6 291.5h0.7M35.6 303.9h0.7M41.6 304.9h0.7M49.8 297.6h0.7M33.8 294.4h0.7M38.6 294.9h0.7M41.2 291.8h0.7M46.4 288.2h0.7M36.3 285.9h0.7M43.7 296.2h0.7M44.8 301.8h0.7M37.6 297.3h0.7M38.2 300.1h0.7M43.3 305.9h0.7M42.7 304.9h0.7M35.1 295.7h0.7M52.4 299.2h0.7M41.0 299.4h0.7M41.2 288.5h0.7M37.0 296.3h0.7M41.4 291.6h0.7M40.0 292.5h0.7M33.8 293.0h0.7M36.4 303.3h0.7M47.3 301.5h0.7M39.4 293.7h0.7M48.5 305.4h0.7M41.6 295.9h0.7M40.5 300.4h0.7M40.5 300.5h0.7M36.6 297.9h0.7M38.7 304.9h0.7M34.2 306.4h0.7M40.1 294.1h0.7M40.6 298.4h0.7M39.3 300.4h0.7M37.5 286.0h0.7M44.1 297.4h0.7M49.0 300.2h0.7M37.0 301.3h0.7M51.8 305.0h0.7M34.9 296.9h0.7M43.4 290.5h0.7M42.8 303.9h0.7M44.6 293.0h0.7M37.0 289.9h0.7M33.9 299.7h0.7M40.7 306.4h0.7M41.9 295.4h0.7M41.3 297.3h0.7M35.4 290.4h0.7M43.7 290.9h0.7M43.5 301.8h0.7M38.6 286.5h0.7M42.6 307.1h0.7M36.3 289.0h0.7M46.1 298.5h0.7M37.3 305.9h0.7M39.1 300.6h0.7M38.4 292.4h0.7M41.6 291.7h0.7M46.8 305.0h0.7M51.6 304.3h0.7M48.7 299.3h0.7M38.3 300.7h0.7M35.7 302.6h0.7M38.2 299.3h0.7M36.2 296.7h0.7M45.5 296.1h0.7M37.1 299.5h0.7M45.0 296.3h0.7M34.5 287.0h0.7M33.7 304.8h0.7M40.0 300.8h0.7M46.0 299.5h0.7M43.0 294.1h0.7M40.0 301.5h0.7M35.1 296.6h0.7M50.8 291.9h0.7M41.0 306.5h0.7M39.3 298.4h0.7M38.3 306.3h0.7M40.0 295.1h0.7M42.7 296.0h0.7M37.9 308.0h0.7M45.5 298.3h0.7M44.6 303.2h0.7M43.5 297.9h0.7M40.9 300.3h0.7M43.4 300.0h0.7M37.7 297.1h0.7M42.8 290.9h0.7M40.5 302.7h0.7M41.4 295.7h0.7M40.4 294.3h0.7M45.5 295.1h0.7M42.0 299.0h0.7M38.1 288.8h0.7M39.7 291.9h0.7M37.2 297.6h0.7M36.6 299.7h0.7M36.7 294.5h0.7M39.3 307.4h0.7M48.5 303.9h0.7M36.8 297.6h0.7M45.2 303.0h0.7M36.7 302.6h0.7M43.7 294.0h0.7M51.4 295.7h0.7M52.9 296.5h0.7M37.8 294.4h0.7M48.0 297.3h0.7M42.9 289.2h0.7M49.6 304.2h0.7M42.3 302.3h0.7M38.0 294.4h0.7M46.8 303.3h0.7M45.2 302.4h0.7M35.8 288.9h0.7M43.8 298.7h0.7M45.5 295.8h0.7M36.0 300.6h0.7M37.7 286.7h0.7M37.4 291.7h0.7M34.8 293.9h0.7M49.3 294.8h0.7M46.3 297.1h0.7M42.5 293.1h0.7M40.1 286.4h0.7M49.6 292.5h0.7M43.5 293.7h0.7M41.9 289.8h0.7M38.6 303.7h0.7M43.5 284.7h0.7M44.8 288.9h0.7M42.0 301.1h0.7M37.2 295.5h0.7M39.2 300.3h0.7M45.2 306.7h0.7M39.2 302.7h0.7M39.9 298.2h0.7M35.8 300.2h0.7M50.8 298.6h0.7M40.4 297.6h0.7M44.1 296.3h0.7M40.5 299.1h0.7M47.1 303.9h0.7M35.1 293.4h0.7M40.6 303.3h0.7M45.4 296.2h0.7M51.3 296.5h0.7M47.7 307.1h0.7M48.6 299.0h0.7M43.4 287.5h0.7M44.2 304.7h0.7M40.0 304.5h0.7M43.4 307.7h0.7M35.6 290.7h0.7M48.9 291.5h0.7M36.3 295.0h0.7M45.0 294.5h0.7M44.3 301.3h0.7M37.2 281.9h0.7M35.8 289.3h0.7M48.8 292.8h0.7M35.0 300.1h0.7M40.8 291.4h0.7M46.1 303.7h0.7M41.9 292.6h0.7M36.1 284.0h0.7M42.5 300.2h0.7M35.8 297.8h0.7M57.2 290.1h0.7M38.3 294.3h0.7M43.7 296.7h0.7M45.6 301.0h0.7M46.4 298.4h0.7M41.8 288.4h0.7M40.8 303.5h0.7M35.3 297.9h0.7M36.7 290.9h0.7M37.4 306.1h0.7M44.0 297.4h0.7M40.1 298.4h0.7M42.0 298.8h0.7M36.1 280.3h0.7M44.1 289.6h0.7M39.8 297.0h0.7M37.5 301.1h0.7M39.1 295.7h0.7M35.6 295.7h0.7M35.2 297.9h0.7M47.3 304.3h0.7M42.7 288.5h0.7M45.8 303.8h0.7M51.0 282.6h0.7M40.6 295.4h0.7M46.1 290.3h0.7M45.6 284.3h0.7M40.6 306.7h0.7M37.3 301.5h0.7M41.0 287.8h0.7M37.3 305.1h0.7M46.6 293.6h0.7M46.3 292.8h0.7M41.8 297.4h0.7M34.1 299.7h0.7M38.5 279.3h0.7M36.3 291.9h0.7M36.2 291.0h0.7M37.0 281.2h0.7M45.1 298.0h0.7M41.8 295.8h0.7M40.8 295.8h0.7M34.9 287.4h0.7M40.9 304.3h0.7M41.7 308.3h0.7M37.3 305.8h0.7M49.2 294.1h0.7M44.2 295.9h0.7M35.4 296.8h0.7M35.2 307.9h0.7M43.5 305.5h0.7M42.3 281.3h0.7M44.6 298.1h0.7M45.7 309.0h0.7M35.3 302.8h0.7M42.2 296.4h0.7M39.1 301.1h0.7M43.5 301.9h0.7M38.4 288.7h0.7M47.2 306.2h0.7M37.6 297.3h0.7M44.6 285.8h0.7M41.9 292.8h0.7M51.0 297.6h0.7M41.6 294.7h0.7M41.4 285.5h0.7M33.9 287.6h0.7M45.1 296.9h0.7M46.4 283.9h0.7M37.4 307.3h0.7M36.4 285.0h0.7M36.7 295.2h0.7M40.4 306.3h0.7M47.3 307.9h0.7M43.5 294.2h0.7M38.0 287.6h0.7M47.0 305.9h0.7M41.0 291.5h0.7M44.0 300.8h0.7M41.3 289.7h0.7M41.7 293.7h0.7M44.3 301.5h0.7M42.8 294.6h0.7M48.3 302.7h0.7M47.0 303.1h0.7M43.9 300.1h0.7M35.0 285.3h0.7M35.7 301.6h0.7M45.2 298.7h0.7M38.5 285.5h0.7M44.1 302.4h0.7M39.4 303.0h0.7M40.3 292.7h0.7M38.6 302.6h0.7M45.4 290.0h0.7M35.5 298.3h0.7M51.3 289.7h0.7M34.1 300.3h0.7M43.1 293.4h0.7M40.4 300.8h0.7M43.6 303.7h0.7M46.4 297.0h0.7M44.4 293.2h0.7M45.8 304.5h0.7M39.8 281.7h0.7M38.1 292.4h0.7M36.2 297.0h0.7M35.0 300.1h0.7M50.1 289.5h0.7M45.8 293.9h0.7M43.3 296.7h0.7M47.0 292.7h0.7M44.2 292.3h0.7M41.7 297.4h0.7M46.0 286.9h0.7M33.6 306.8h0.7M42.5 308.9h0.7M35.3 298.9h0.7M40.2 294.5h0.7M44.1 296.8h0.7M36.7 302.6h0.7M47.4 294.2h0.7M38.9 300.0h0.7M46.2 301.0h0.7M35.6 293.7h0.7M45.8 296.7h0.7M37.3 303.4h0.7M35.0 292.8h0.7M37.0 299.9h0.7M38.1 305.0h0.7M37.2 295.7h0.7M43.4 298.9h0.7M35.4 307.6h0.7M43.4 294.2h0.7M41.6 290.1h0.7M34.3 295.5h0.7M42.4 298.2h0.7M36.6 288.2h0.7M42.4 292.1h0.7M46.5 301.1h0.7M38.4 293.4h0.7M46.3 299.7h0.7M48.8 299.9h0.7M37.5 293.5h0.7M36.9 299.2h0.7M41.8 301.6h0.7M42.8 290.5h0.7M39.5 291.2h0.7M42.9 288.7h0.7M37.6 291.7h0.7M37.4 295.8h0.7M48.2 295.8h0.7M44.3 301.2h0.7M46.1 298.1h0.7M46.7 288.5h0.7M39.6 291.7h0.7M41.4 308.4h0.7M38.0 308.2h0.7M35.3 307.1h0.7M45.6 296.9h0.7M41.2 297.4h0.7M41.4 296.3h0.7M35.6 295.6h0.7M41.1 291.5h0.7M39.1 297.6h0.7M41.0 292.6h0.7M40.3 297.5h0.7M40.1 307.8h0.7M41.2 287.6h0.7M38.8 293.3h0.7M33.7 295.4h0.7M40.0 292.9h0.7M38.7 303.5h0.7M44.5 301.2h0.7M39.6 288.4h0.7M44.4 307.5h0.7M46.9 305.3h0.7M41.9 300.0h0.7M40.4 305.9h0.7M44.4 295.3h0.7M40.5 286.7h0.7M36.8 295.5h0.7M52.9 292.0h0.7M45.1 298.0h0.7M39.0 301.7h0.7M50.3 299.5h0.7M40.2 298.6h0.7M43.8 294.2h0.7M41.1 300.9h0.7M38.7 300.1h0.7M42.2 302.3h0.7M35.5 293.9h0.7M38.3 305.5h0.7M41.8 286.4h0.7M42.2 288.8h0.7M35.9 298.5h0.7M47.7 308.4h0.7M38.7 295.5h0.7M50.2 290.9h0.7M48.4 299.8h0.7M41.0 306.1h0.7M42.9 291.9h0.7M43.1 306.7h0.7M43.6 307.7h0.7M44.5 298.9h0.7M42.7 300.2h0.7M37.3 296.7h0.7M41.1 294.5h0.7M43.0 301.0h0.7M41.0 289.6h0.7M44.8 294.9h0.7M43.2 294.5h0.7M48.0 306.6h0.7M41.8 286.0h0.7M38.6 295.6h0.7M42.8 296.7h0.7M42.2 286.5h0.7M37.3 307.2h0.7M52.2 301.9h0.7M38.4 305.8h0.7M46.5 298.8h0.7M49.5 304.1h0.7M38.1 290.9h0.7M52.9 294.8h0.7M42.6 296.7h0.7M38.1 286.7h0.7M39.8 296.7h0.7M45.5 294.0h0.7M40.3 299.2h0.7M44.2 294.9h0.7M43.2 298.5h0.7M49.0 297.1h0.7M41.2 301.3h0.7M46.7 291.3h0.7M38.1 295.7h0.7M45.9 297.7h0.7M57.5 306.1h0.7M50.7 308.1h0.7M45.1 288.0h0.7M48.2 300.3h0.7M34.5 297.9h0.7M44.3 304.1h0.7M41.4 294.0h0.7M44.4 292.4h0.7M40.1 302.6h0.7M34.3 296.9h0.7M44.1 297.2h0.7M45.1 298.2h0.7M39.5 300.8h0.7M39.3 298.4h0.7M45.8 293.7h0.7M46.3 290.0h0.7M39.4 285.8h0.7M37.8 308.2h0.7M42.3 306.1h0.7M42.9 303.1h0.7M44.7 286.2h0.7M43.1 297.0h0.7M41.1 300.7h0.7M39.1 286.1h0.7M35.1 287.7h0.7M33.8 296.6h0.7M47.1 292.7h0.7M36.6 289.7h0.7M38.0 295.9h0.7M35.6 300.8h0.7M34.4 301.2h0.7M37.2 302.8h0.7M36.0 300.5h0.7M42.7 297.0h0.7M48.8 298.7h0.7M36.0 302.2h0.7M36.3 293.8h0.7M40.6 298.7h0.7M49.1 285.7h0.7M39.2 305.1h0.7M39.7 299.7h0.7M48.2 289.2h0.7M40.7 302.9h0.7M37.5 285.7h0.7M35.4 298.8h0.7M47.2 287.0h0.7M45.8 303.7h0.7M48.7 296.5h0.7M37.7 298.5h0.7M48.3 301.7h0.7M49.1 302.8h0.7M37.5 290.7h0.7M49.9 287.3h0.7M38.7 295.4h0.7M35.9 293.6h0.7M40.2 294.0h0.7M41.1 303.9h0.7M36.4 294.8h0.7M43.9 307.7h0.7M44.9 295.6h0.7M38.5 295.4h0.7M34.4 302.7h0.7M37.4 292.6h0.7M43.1 298.3h0.7M37.5 295.9h0.7M38.0 306.6h0.7M45.6 292.6h0.7M40.3 306.8h0.7M42.8 302.0h0.7M42.2 301.4h0.7M42.9 301.1h0.7M37.9 303.6h0.7M40.8 290.4h0.7M35.3 298.6h0.7M42.2 282.5h0.7M37.5 301.3h0.7M47.6 308.4h0.7M35.4 305.9h0.7M34.3 299.6h0.7M41.4 301.7h0.7M36.4 306.6h0.7M40.2 297.4h0.7M39.1 290.3h0.7M44.2 299.8h0.7M36.1 295.6h0.7M40.5 303.3h0.7M39.6 303.8h0.7M42.8 285.6h0.7M37.0 283.7h0.7M39.1 294.7h0.7M43.5 298.7h0.7M40.2 306.1h0.7M43.5 289.1h0.7M37.0 299.7h0.7M49.1 296.2h0.7M39.6 299.3h0.7M44.5 296.9h0.7M42.0 294.6h0.7M37.7 292.1h0.7M43.8 293.7h0.7M43.3 300.3h0.7M45.4 279.3h0.7M35.6 289.2h0.7M39.7 303.0h0.7M53.4 308.0h0.7M47.4 300.1h0.7M38.5 301.1h0.7M40.5 301.7h0.7M35.3 290.1h0.7M37.2 297.2h0.7M42.3 295.1h0.7M42.3 302.1h0.7M34.6 296.8h0.7M45.1 292.6h0.7M50.0 300.9h0.7M45.0 298.2h0.7M44.9 304.9h0.7M41.0 293.9h0.7M39.6 294.4h0.7M36.9 286.0h0.7M38.0 299.7h0.7M38.0 292.3h0.7M42.6 300.6h0.7M38.3 299.6h0.7M35.6 303.4h0.7M35.5 295.2h0.7M41.2 294.6h0.7M48.2 285.6h0.7M41.1 288.9h0.7M42.1 288.6h0.7M43.5 301.1h0.7M49.2 305.7h0.7M38.2 303.9h0.7M38.2 296.7h0.7M38.0 285.5h0.7M43.6 283.7h0.7M39.3 301.1h0.7M41.1 286.8h0.7M37.2 302.1h0.7M46.1 308.4h0.7M38.1 302.7h0.7M44.1 293.1h0.7M38.7 290.8h0.7M46.2 288.5h0.7M35.9 295.2h0.7M41.9 291.8h0.7M43.5 299.8h0.7M41.9 297.1h0.7M42.8 289.5h0.7M34.4 294.6h0.7M34.9 302.3h0.7M50.4 305.9h0.7M42.8 299.8h0.7M37.0 288.6h0.7M43.3 287.4h0.7M42.0 296.5h0.7M44.3 297.8h0.7M41.0 293.5h0.7M44.0 304.6h0.7M47.5 290.7h0.7M35.7 302.3h0.7M42.1 287.1h0.7M37.7 308.2h0.7M38.2 290.5h0.7M51.6 298.2h0.7M39.2 289.6h0.7M42.2 294.3h0.7M36.2 306.9h0.7M42.7 291.4h0.7M48.0 297.1h0.7M43.1 298.5h0.7M46.5 301.7h0.7M38.7 302.4h0.7M38.5 298.4h0.7M48.8 290.3h0.7M35.2 294.8h0.7M38.0 306.4h0.7M48.6 294.4h0.7M41.4 295.0h0.7M43.9 302.0h0.7M44.3 302.7h0.7M50.3 296.3h0.7M44.1 296.2h0.7M40.7 299.0h0.7M40.2 299.9h0.7M36.2 296.5h0.7M37.4 289.5h0.7M36.9 294.1h0.7M39.7 286.8h0.7M39.2 289.8h0.7M36.3 298.8h0.7M46.1 299.5h0.7M38.0 294.5h0.7M47.3 286.4h0.7M46.3 287.3h0.7M37.3 297.8h0.7M39.4 308.9h0.7M43.0 297.2h0.7M45.4 297.8h0.7M36.4 305.2h0.7M48.1 306.2h0.7M38.4 302.7h0.7M46.5 300.9h0.7M38.9 277.5h0.7M42.7 296.2h0.7M40.5 299.1h0.7M44.3 295.7h0.7M35.9 295.0h0.7M50.6 292.8h0.7M45.9 298.3h0.7M44.2 295.7h0.7M35.9 304.3h0.7M41.2 308.5h0.7M39.2 294.9h0.7M42.3 296.2h0.7M38.9 291.4h0.7M41.8 299.7h0.7M49.8 297.3h0.7M52.2 294.5h0.7M36.4 296.4h0.7M39.5 287.2h0.7M43.4 291.5h0.7M46.9 298.8h0.7M37.9 295.7h0.7M45.4 294.0h0.7M42.6 304.1h0.7M35.9 293.5h0.7M42.8 297.6h0.7M39.9 293.9h0.7M47.4 286.5h0.7M40.7 298.1h0.7M40.7 288.0h0.7M39.8 298.5h0.7M37.0 299.6h0.7M41.0 300.2h0.7M39.7 294.4h0.7M41.4 304.9h0.7M45.1 297.0h0.7M38.1 304.8h0.7M43.3 303.6h0.7M39.1 291.6h0.7M41.5 293.2h0.7M46.4 303.4h0.7M47.3 304.6h0.7M38.1 291.6h0.7M45.5 304.4h0.7M40.8 289.6h0.7M36.3 292.8h0.7M42.8 304.7h0.7M47.1 297.2h0.7M38.8 301.9h0.7M34.7 289.1h0.7M40.6 308.2h0.7M45.7 297.5h0.7M45.7 294.7h0.7M34.5 286.0h0.7M41.9 303.7h0.7M42.4 297.2h0.7M38.5 305.0h0.7M40.3 287.6h0.7M47.5 293.1h0.7M42.5 297.5h0.7M45.9 299.2h0.7M46.8 298.9h0.7M38.1 294.0h0.7M43.8 291.8h0.7M45.2 295.9h0.7M35.8 291.5h0.7M44.4 297.6h0.7M39.1 297.5h0.7M38.3 306.6h0.7M41.4 294.4h0.7M41.4 290.7h0.7M35.1 296.4h0.7M50.7 289.9h0.7M39.8 286.7h0.7M41.4 299.0h0.7M44.3 288.4h0.7M37.4 293.1h0.7M39.5 297.2h0.7M37.9 303.0h0.7M53.6 305.5h0.7M48.3 290.1h0.7M45.9 297.7h0.7M46.9 304.8h0.7M43.8 286.0h0.7M41.2 294.1h0.7M42.8 297.8h0.7M45.9 286.5h0.7M36.7 297.0h0.7M42.1 294.7h0.7M40.4 297.9h0.7M45.9 296.7h0.7M41.7 285.0h0.7M42.3 281.7h0.7M42.6 296.8h0.7M40.5 292.5h0.7M38.4 303.2h0.7M42.3 297.3h0.7M38.0 299.0h0.7M46.6 297.4h0.7M38.6 289.4h0.7M41.0 291.2h0.7M37.3 283.5h0.7M40.0 288.4h0.7M34.9 302.4h0.7M42.6 299.0h0.7M39.5 300.8h0.7M48.4 300.9h0.7M39.7 287.9h0.7M42.8 308.3h0.7M43.8 288.9h0.7M41.4 306.4h0.7M37.3 300.9h0.7M46.7 308.8h0.7M42.4 302.3h0.7M38.7 297.4h0.7M38.4 305.8h0.7M34.0 292.8h0.7M40.4 297.7h0.7M49.7 296.0h0.7M42.3 299.9h0.7M41.8 307.6h0.7M41.2 298.5h0.7M39.9 297.5h0.7M40.2 304.4h0.7M40.6 298.0h0.7M40.3 302.7h0.7M38.1 304.0h0.7M37.6 302.3h0.7M50.3 299.1h0.7M40.1 289.4h0.7M44.3 297.6h0.7M45.2 293.0h0.7M42.6 295.2h0.7M33.8 297.4h0.7M43.9 301.6h0.7M34.8 290.4h0.7M35.5 290.5h0.7M39.1 299.3h0.7M50.4 298.9h0.7M48.0 286.1h0.7M48.4 303.0h0.7M42.8 303.2h0.7M44.6 285.5h0.7M40.1 306.6h0.7M38.7 293.0h0.7M38.7 299.7h0.7M41.5 293.2h0.7M43.3 301.8h0.7M35.8 289.8h0.7M40.6 292.7h0.7M37.4 296.6h0.7M40.7 301.4h0.7M44.8 300.5h0.7M46.2 290.8h0.7M43.6 300.1h0.7M35.1 292.8h0.7M42.8 298.0h0.7M34.0 293.7h0.7M48.3 303.3h0.7M40.9 306.8h0.7M35.8 296.3h0.7M45.4 295.2h0.7M34.8 301.6h0.7M48.7 280.0h0.7M41.3 288.9h0.7M39.0 287.7h0.7M53.9 292.8h0.7M40.7 292.6h0.7M35.4 294.4h0.7M42.0 308.3h0.7M35.0 298.0h0.7M38.3 286.7h0.7M59.7 295.8h0.7M41.8 292.3h0.7M37.5 290.3h0.7M45.8 294.7h0.7M39.8 298.8h0.7M34.2 299.1h0.7M39.6 300.6h0.7M38.5 297.8h0.7M43.2 304.2h0.7M37.0 304.2h0.7M35.4 296.2h0.7M41.2 298.5h0.7M39.6 303.9h0.7M36.9 308.0h0.7M43.3 297.6h0.7M41.9 304.0h0.7M36.4 301.6h0.7M46.0 295.9h0.7M36.1 294.8h0.7M45.0 296.0h0.7M59.2 302.8h0.7M52.6 303.4h0.7M35.0 305.1h0.7M38.2 302.9h0.7M45.9 297.8h0.7M40.9 305.7h0.7M45.4 299.7h0.7M45.1 308.6h0.7M48.4 302.4h0.7M44.3 292.3h0.7M42.9 297.6h0.7M47.1 297.0h0.7M45.1 294.8h0.7M48.2 296.4h0.7M41.8 302.9h0.7M39.8 300.0h0.7M49.3 308.7h0.7M46.7 304.6h0.7M38.7 300.5h0.7M40.6 294.1h0.7M51.0 298.1h0.7M55.5 303.2h0.7M44.6 303.2h0.7M47.5 304.5h0.7M35.2 297.2h0.7M38.2 300.5h0.7M40.3 293.9h0.7M37.2 308.8h0.7M56.7 295.8h0.7M44.6 299.8h0.7M36.1 303.5h0.7M41.5 308.2h0.7M45.2 298.5h0.7M47.9 296.5h0.7M48.1 303.4h0.7M44.2 303.7h0.7M43.1 299.9h0.7M39.6 298.6h0.7M42.0 294.8h0.7M46.4 298.4h0.7M45.6 297.5h0.7M44.8 300.6h0.7M48.2 302.3h0.7M48.5 299.2h0.7M41.6 298.7h0.7M49.5 303.8h0.7M36.1 301.5h0.7M47.2 293.3h0.7M44.4 301.6h0.7M47.2 301.3h0.7M55.7 298.1h0.7M50.8 306.2h0.7M42.6 294.4h0.7M51.5 299.8h0.7M45.6 302.4h0.7M48.6 305.0h0.7M43.0 300.0h0.7M47.4 299.3h0.7M51.5 305.7h0.7M49.2 296.1h0.7M41.4 299.7h0.7M34.4 295.7h0.7M43.1 294.0h0.7M45.7 302.3h0.7M40.4 298.3h0.7M46.2 302.4h0.7M44.5 294.0h0.7M37.5 298.2h0.7M36.9 303.9h0.7M39.1 297.6h0.7M36.6 297.8h0.7M50.3 300.8h0.7M38.3 306.2h0.7M45.4 294.9h0.7M38.0 297.0h0.7M41.7 306.0h0.7M37.1 299.3h0.7M42.8 294.1h0.7M38.7 303.0h0.7M49.8 290.8h0.7M46.9 298.6h0.7M50.9 303.1h0.7M55.6 301.5h0.7M39.3 295.9h0.7M45.6 304.0h0.7M44.4 292.6h0.7M39.2 298.8h0.7M43.1 303.8h0.7M51.8 301.4h0.7M33.7 301.2h0.7M40.5 305.5h0.7M49.5 297.8h0.7M48.5 300.1h0.7M45.2 306.6h0.7M34.1 299.7h0.7M52.6 296.3h0.7M43.5 300.7h0.7M39.1 293.6h0.7M37.3 295.2h0.7M49.5 301.2h0.7M46.9 294.2h0.7M45.5 300.7h0.7M49.3 296.5h0.7M47.6 306.7h0.7M54.5 295.4h0.7M34.2 292.8h0.7M48.7 302.9h0.7M44.4 295.8h0.7M50.7 307.9h0.7M41.8 299.4h0.7M50.2 302.5h0.7M51.3 298.0h0.7M44.4 298.3h0.7M38.1 298.5h0.7M40.0 302.5h0.7M39.9 300.3h0.7M36.4 294.0h0.7M51.9 295.2h0.7M54.6 304.6h0.7M39.1 300.1h0.7M40.8 297.0h0.7M50.7 299.4h0.7M48.7 296.6h0.7M37.2 306.5h0.7M40.1 294.6h0.7M40.8 305.2h0.7M40.9 296.5h0.7M46.4 304.8h0.7M40.6 298.4h0.7M40.7 308.5h0.7M41.0 302.0h0.7M42.4 298.5h0.7M39.2 293.3h0.7M37.6 299.6h0.7M40.8 297.5h0.7M34.4 297.5h0.7M40.0 294.4h0.7M35.4 304.2h0.7M48.5 300.6h0.7M64.4 304.1h0.7M50.5 296.0h0.7M49.5 308.2h0.7M39.4 308.8h0.7M36.4 294.5h0.7M41.7 296.1h0.7M46.4 294.6h0.7M42.6 290.4h0.7M41.8 305.1h0.7M40.2 301.5h0.7M49.6 294.6h0.7M43.9 298.7h0.7M35.3 305.9h0.7M34.0 298.7h0.7M41.7 303.5h0.7M38.9 296.0h0.7M55.9 295.9h0.7M47.5 299.3h0.7M38.7 299.8h0.7M40.3 301.5h0.7M42.5 295.3h0.7M54.8 303.1h0.7M43.6 298.5h0.7M51.6 297.8h0.7M36.4 303.4h0.7M35.3 296.1h0.7M52.0 292.2h0.7M41.6 300.6h0.7M43.8 292.9h0.7M40.5 298.4h0.7M55.3 304.9h0.7M36.8 304.3h0.7M46.5 299.5h0.7M40.4 298.7h0.7M48.5 307.1h0.7M54.8 298.2h0.7M46.3 288.3h0.7M40.2 293.8h0.7M47.7 291.9h0.7M34.8 294.6h0.7M44.8 304.1h0.7M35.7 308.8h0.7M43.1 295.9h0.7M44.4 299.9h0.7M47.8 301.7h0.7M57.2 305.7h0.7M37.6 303.8h0.7M47.3 295.1h0.7M36.9 296.1h0.7M40.5 306.0h0.7M38.2 300.4h0.7M47.0 304.7h0.7M44.2 294.9h0.7M57.3 304.2h0.7M51.4 307.9h0.7M51.7 302.0h0.7M45.3 303.1h0.7M35.3 302.1h0.7M35.1 303.5h0.7M43.4 302.5h0.7M35.8 298.6h0.7M41.6 298.6h0.7M39.0 295.7h0.7M47.3 298.1h0.7M36.4 301.8h0.7M36.4 299.2h0.7M38.5 295.5h0.7M40.5 296.0h0.7M40.0 292.9h0.7M39.3 300.9h0.7M45.0 301.8h0.7M43.8 302.9h0.7M38.6 296.1h0.7M46.3 298.0h0.7M42.1 303.2h0.7M48.5 306.0h0.7M37.3 298.2h0.7M45.9 293.0h0.7M37.8 295.5h0.7M47.6 302.6h0.7M48.4 298.4h0.7M40.1 298.4h0.7M44.1 290.1h0.7M37.3 303.5h0.7M36.7 299.7h0.7M42.9 302.5h0.7M38.8 294.5h0.7M59.3 296.5h0.7M53.8 291.5h0.7M42.8 299.1h0.7M48.8 295.1h0.7M36.5 296.3h0.7M38.5 301.3h0.7M36.6 298.8h0.7M52.2 307.0h0.7M39.5 306.3h0.7M44.6 307.0h0.7M36.2 298.5h0.7M49.1 302.8h0.7M43.3 303.1h0.7M37.7 308.5h0.7M43.1 307.0h0.7M44.8 300.4h0.7M39.9 294.3h0.7M48.0 303.7h0.7M48.5 298.2h0.7M35.2 298.2h0.7M39.9 299.9h0.7M48.8 295.6h0.7M38.7 303.4h0.7M45.7 295.9h0.7M34.9 296.2h0.7M42.6 301.2h0.7M41.6 297.0h0.7M40.8 299.6h0.7M46.2 300.4h0.7M36.5 294.3h0.7M52.3 299.6h0.7M40.9 299.9h0.7M49.8 298.5h0.7M43.3 298.9h0.7M46.1 295.1h0.7M43.5 305.0h0.7M50.2 303.0h0.7M44.1 307.6h0.7M46.9 306.8h0.7M33.8 294.7h0.7M47.6 298.7h0.7M39.1 295.4h0.7M52.3 294.2h0.7M42.8 293.3h0.7M58.8 297.6h0.7M35.2 307.9h0.7M36.2 291.4h0.7M44.5 294.8h0.7M37.1 294.9h0.7M43.2 299.1h0.7M49.8 300.5h0.7M53.0 305.5h0.7M54.3 305.4h0.7M42.6 302.6h0.7M42.2 292.5h0.7M34.0 303.6h0.7M35.0 301.2h0.7M40.7 297.7h0.7M36.3 289.3h0.7M42.6 293.8h0.7M40.1 301.8h0.7M49.3 303.4h0.7M52.2 293.1h0.7M46.7 307.6h0.7M44.8 294.6h0.7M44.8 297.5h0.7M37.7 305.2h0.7M40.9 294.6h0.7M36.3 303.3h0.7M43.3 305.7h0.7M40.2 295.4h0.7M37.7 295.0h0.7M59.9 301.0h0.7M39.9 306.1h0.7M46.6 299.1h0.7M46.4 301.3h0.7M49.8 308.0h0.7M40.0 299.8h0.7M40.9 305.9h0.7M44.7 303.8h0.7M48.3 296.9h0.7M43.0 306.7h0.7M48.4 303.9h0.7M40.2 298.3h0.7M36.3 298.7h0.7M41.7 293.1h0.7M50.1 296.3h0.7M43.8 302.9h0.7M38.3 291.3h0.7M48.7 302.0h0.7M40.4 305.5h0.7M48.2 295.4h0.7M41.6 291.5h0.7M40.3 306.8h0.7M36.4 304.0h0.7M48.6 308.3h0.7M45.2 303.7h0.7M53.9 288.2h0.7M59.0 302.9h0.7M42.6 301.3h0.7M42.3 297.0h0.7M42.0 299.4h0.7M46.7 303.3h0.7M48.8 302.9h0.7M35.5 306.7h0.7M44.4 297.5h0.7M54.9 294.7h0.7M34.1 297.6h0.7M45.0 303.9h0.7M42.9 303.2h0.7M37.3 297.1h0.7M43.0 293.5h0.7M43.4 298.1h0.7M46.8 295.1h0.7M38.5 297.3h0.7M39.6 295.2h0.7M40.3 293.5h0.7M45.8 303.3h0.7M42.0 299.1h0.7M36.1 295.4h0.7M40.6 295.6h0.7M34.1 300.8h0.7M42.0 298.1h0.7M36.6 299.8h0.7M37.4 297.9h0.7M43.4 303.5h0.7M47.3 297.1h0.7M50.3 294.4h0.7M40.9 306.3h0.7M58.2 300.6h0.7M39.7 298.2h0.7M33.9 299.3h0.7M39.2 296.4h0.7M50.2 296.3h0.7M53.6 304.1h0.7M46.5 297.2h0.7M38.7 290.4h0.7M44.0 298.7h0.7M44.7 296.8h0.7M45.4 292.8h0.7M49.4 284.8h0.7M50.8 298.3h0.7M41.0 292.6h0.7M35.3 303.4h0.7M37.1 299.8h0.7M48.1 293.6h0.7M38.9 294.5h0.7M49.6 300.2h0.7M46.7 299.4h0.7M39.2 300.4h0.7M54.3 301.8h0.7M46.2 290.4h0.7M36.7 303.9h0.7M50.4 298.1h0.7M40.6 297.8h0.7M47.5 300.1h0.7M52.3 305.7h0.7M40.0 297.1h0.7M40.5 295.8h0.7M39.3 299.7h0.7M48.1 292.4h0.7M40.0 302.2h0.7M36.8 307.3h0.7M38.5 299.0h0.7M42.5 305.7h0.7M44.1 300.1h0.7M38.4 300.8h0.7M44.8 298.3h0.7M41.9 291.1h0.7M38.5 305.7h0.7M51.7 299.7h0.7M39.3 304.9h0.7M37.9 306.7h0.7M49.9 294.9h0.7M40.6 294.1h0.7M44.0 298.1h0.7M43.7 292.6h0.7M49.4 302.2h0.7M40.9 306.8h0.7M35.8 303.3h0.7M46.4 297.4h0.7M41.3 303.2h0.7M52.4 306.3h0.7M45.2 298.7h0.7M54.7 289.6h0.7M47.9 299.8h0.7M46.8 301.5h0.7M40.8 300.0h0.7M41.8 305.7h0.7M40.3 297.4h0.7M46.5 303.1h0.7M45.0 301.4h0.7M52.0 305.4h0.7M43.5 299.0h0.7M46.5 290.9h0.7M38.6 296.6h0.7M43.2 298.1h0.7M58.7 303.6h0.7M42.1 298.5h0.7M50.4 304.0h0.7M48.3 305.9h0.7M39.6 296.8h0.7M37.2 300.5h0.7M48.8 294.9h0.7M38.5 293.5h0.7M55.5 303.9h0.7M43.5 294.1h0.7M35.1 296.9h0.7M42.3 293.8h0.7M40.5 305.9h0.7M42.2 300.5h0.7M41.1 296.6h0.7M35.2 297.3h0.7M48.2 295.9h0.7M44.2 292.6h0.7M46.0 302.6h0.7M39.5 304.3h0.7M36.2 300.2h0.7M53.4 299.9h0.7M34.5 305.6h0.7M45.7 298.7h0.7M44.0 295.9h0.7M49.8 307.1h0.7M36.4 302.4h0.7M54.3 293.1h0.7M42.4 296.9h0.7M41.4 300.4h0.7M43.9 304.3h0.7M45.5 305.1h0.7M48.9 305.4h0.7M37.5 302.0h0.7M39.6 295.9h0.7M55.2 301.4h0.7M42.4 289.7h0.7M40.5 303.8h0.7M40.7 297.3h0.7M52.0 298.5h0.7M39.8 299.5h0.7M40.5 305.1h0.7M45.9 299.7h0.7M39.6 298.9h0.7M53.4 298.5h0.7M46.5 292.3h0.7M44.2 303.4h0.7M50.6 301.5h0.7M45.9 301.6h0.7M43.4 296.0h0.7M46.1 299.5h0.7M46.4 303.8h0.7M43.1 297.9h0.7M44.1 293.9h0.7M43.9 295.7h0.7M45.1 300.6h0.7M40.6 294.1h0.7M42.4 296.7h0.7M41.1 303.4h0.7M48.5 293.7h0.7M48.3 306.6h0.7M49.6 301.4h0.7M41.5 308.5h0.7M39.9 292.6h0.7M42.7 301.4h0.7M35.1 294.1h0.7M55.3 300.6h0.7M47.3 297.2h0.7M51.1 296.7h0.7M40.2 300.1h0.7M35.1 298.5h0.7M38.4 304.3h0.7M43.1 304.3h0.7M41.7 289.6h0.7M47.9 304.3h0.7M41.6 291.3h0.7M38.8 302.0h0.7M51.3 298.3h0.7M38.3 296.2h0.7M48.9 304.2h0.7M35.9 292.8h0.7M33.7 296.7h0.7M43.1 302.0h0.7M38.9 292.3h0.7M39.3 296.7h0.7M52.2 304.6h0.7M51.8 300.6h0.7M39.3 299.6h0.7M43.9 298.5h0.7M53.0 307.1h0.7M47.9 298.3h0.7M43.0 302.7h0.7M43.4 305.1h0.7M37.6 288.7h0.7M49.3 300.0h0.7M45.7 300.4h0.7M43.2 297.7h0.7M39.4 305.8h0.7M40.3 299.8h0.7M50.1 304.8h0.7M39.5 301.2h0.7M35.3 300.6h0.7M44.2 300.0h0.7M43.2 301.8h0.7M42.6 297.6h0.7M35.6 298.8h0.7M52.9 298.9h0.7M37.7 297.7h0.7M34.1 302.4h0.7M35.5 304.5h0.7M48.2 302.8h0.7M49.0 299.6h0.7M46.4 292.5h0.7M33.9 305.4h0.7M45.0 306.6h0.7M46.6 300.3h0.7M45.0 304.2h0.7M41.9 299.0h0.7M44.2 298.5h0.7M58.3 296.3h0.7M49.1 298.0h0.7M43.2 299.0h0.7M43.9 292.9h0.7M42.7 297.2h0.7M49.4 303.0h0.7M33.6 295.3h0.7M45.9 305.8h0.7M47.2 299.3h0.7M49.6 288.5h0.7M38.5 295.2h0.7M35.2 302.8h0.7M44.0 301.4h0.7M41.2 303.0h0.7M47.4 297.2h0.7M48.4 295.5h0.7M54.0 293.6h0.7M40.2 294.7h0.7M42.4 306.4h0.7M37.0 308.7h0.7M51.6 301.9h0.7M38.1 304.4h0.7M48.6 299.8h0.7M58.9 296.7h0.7M46.0 308.3h0.7M50.6 296.7h0.7M39.0 294.1h0.7M47.3 304.1h0.7M46.1 301.2h0.7M48.8 299.4h0.7M46.9 304.0h0.7M50.9 302.5h0.7M42.7 303.5h0.7M53.1 300.7h0.7M35.0 297.2h0.7M41.1 300.4h0.7M36.9 304.9h0.7M34.7 308.2h0.7M46.6 291.7h0.7M33.8 300.3h0.7M43.9 297.9h0.7M42.2 300.8h0.7M34.3 300.3h0.7M57.6 296.8h0.7M35.2 303.3h0.7M51.3 305.1h0.7M37.8 299.6h0.7M43.5 299.0h0.7M44.8 305.3h0.7M45.8 299.9h0.7M40.7 308.8h0.7M47.1 300.4h0.7M50.4 304.5h0.7M56.3 291.2h0.7M42.8 298.5h0.7M37.1 300.4h0.7" stroke="#111" stroke-width="0.7" fill="none"/>
<path d="M49.8 296.7h0.6M43.9 280.3h0.6M50.0 297.4h0.6M63.8 300.3h0.6M45.3 281.8h0.6M69.1 286.0h0.6M46.9 298.6h0.6M49.6 303.8h0.6M36.0 285.9h0.6M46.7 281.1h0.6M39.7 304.3h0.6M47.7 291.1h0.6M40.1 292.4h0.6M44.8 282.4h0.6M52.1 280.6h0.6M56.5 289.0h0.6M47.7 284.3h0.6M61.2 304.3h0.6M63.8 299.9h0.6M57.1 286.6h0.6M56.7 288.1h0.6M44.7 279.9h0.6M45.6 295.6h0.6M44.6 282.1h0.6M53.2 300.1h0.6M44.3 299.0h0.6M53.9 283.2h0.6M44.8 275.4h0.6M35.9 295.8h0.6M37.3 295.5h0.6M48.3 273.6h0.6M40.8 305.5h0.6M45.2 293.1h0.6M38.8 277.7h0.6M43.5 284.2h0.6M46.1 274.7h0.6M57.6 307.3h0.6M38.4 294.9h0.6M37.1 299.7h0.6M37.6 290.7h0.6M56.8 296.7h0.6M42.2 278.4h0.6M49.7 292.5h0.6M56.4 293.3h0.6M38.6 291.1h0.6M44.2 291.9h0.6M67.5 297.2h0.6M47.6 289.8h0.6M39.0 283.1h0.6M36.7 273.8h0.6M57.4 303.2h0.6M51.0 269.4h0.6M45.3 283.0h0.6M55.5 296.0h0.6M38.3 302.3h0.6M44.2 283.2h0.6M36.9 274.3h0.6M37.5 300.0h0.6M44.1 299.3h0.6M34.8 300.2h0.6M43.2 293.1h0.6M36.2 299.7h0.6M66.2 305.5h0.6M36.5 286.8h0.6M51.7 293.2h0.6M38.2 303.1h0.6M49.8 301.2h0.6M43.5 303.5h0.6M40.9 281.9h0.6M45.0 279.4h0.6M56.4 298.6h0.6M52.7 288.8h0.6M48.8 286.7h0.6M44.4 291.2h0.6M49.4 283.3h0.6M34.9 295.0h0.6M40.5 296.7h0.6M40.5 280.2h0.6M51.7 294.4h0.6M51.7 288.9h0.6M41.8 303.4h0.6M49.7 291.5h0.6M45.9 297.4h0.6M38.1 294.5h0.6M36.4 275.3h0.6M46.9 292.9h0.6M50.9 297.0h0.6M51.4 299.1h0.6M35.5 303.0h0.6M69.3 286.9h0.6M33.7 298.2h0.6M53.3 301.1h0.6M58.9 279.5h0.6M48.5 296.2h0.6M56.4 284.0h0.6M45.3 288.7h0.6M43.6 290.7h0.6M43.7 276.0h0.6M44.7 292.6h0.6M41.6 260.0h0.6M38.8 286.1h0.6M37.2 306.5h0.6M53.4 290.3h0.6M36.3 296.3h0.6M39.6 305.4h0.6M55.1 290.9h0.6M50.6 284.8h0.6M59.8 289.3h0.6M40.3 275.8h0.6M64.5 281.2h0.6M36.3 290.2h0.6M56.0 292.5h0.6M44.9 292.2h0.6M52.7 291.7h0.6M46.5 291.3h0.6M35.0 304.1h0.6M38.7 280.1h0.6M41.1 292.3h0.6M52.4 278.7h0.6M48.5 282.1h0.6M34.8 293.6h0.6M43.7 277.4h0.6M37.1 305.4h0.6M35.4 301.5h0.6M59.5 286.3h0.6M38.9 297.7h0.6M33.8 297.0h0.6M56.0 294.4h0.6M48.0 290.6h0.6M54.1 284.6h0.6M59.4 291.8h0.6M42.1 277.2h0.6M41.0 294.1h0.6M56.3 277.4h0.6M43.9 285.8h0.6M34.2 292.0h0.6M38.1 299.9h0.6M49.7 288.9h0.6M46.2 283.3h0.6M35.5 285.3h0.6M44.5 284.4h0.6M41.2 284.2h0.6M47.1 281.7h0.6M44.8 292.9h0.6M53.7 285.3h0.6M34.7 278.5h0.6M51.9 286.4h0.6M53.9 291.3h0.6M42.5 275.2h0.6M38.9 299.1h0.6M39.5 298.1h0.6M70.2 302.1h0.6M47.9 280.8h0.6M40.2 286.1h0.6M46.7 273.8h0.6M37.2 299.2h0.6M46.3 298.7h0.6M52.7 281.7h0.6M45.3 292.7h0.6M37.7 301.2h0.6M49.5 302.3h0.6M41.8 298.3h0.6M44.5 283.5h0.6M44.3 277.0h0.6M43.4 293.6h0.6M51.3 282.5h0.6M68.6 293.3h0.6M38.1 285.9h0.6M61.0 281.5h0.6M44.0 291.3h0.6M38.4 285.5h0.6M56.7 304.8h0.6M42.5 298.4h0.6M49.2 293.0h0.6M43.8 303.0h0.6M50.1 290.0h0.6M42.9 300.4h0.6M39.6 285.5h0.6M42.5 287.5h0.6M56.4 295.2h0.6M44.2 287.2h0.6M57.8 296.0h0.6M63.8 300.2h0.6M43.1 287.0h0.6M42.4 293.6h0.6M52.1 296.4h0.6M59.2 278.3h0.6M45.3 279.2h0.6M35.7 286.6h0.6M39.1 283.2h0.6M42.1 300.7h0.6M35.0 271.1h0.6M39.6 299.9h0.6M40.0 295.6h0.6M35.3 304.6h0.6M48.9 301.5h0.6M42.5 303.6h0.6M45.6 287.6h0.6M39.2 292.5h0.6M36.8 281.2h0.6M46.2 298.4h0.6M42.4 299.6h0.6M59.3 280.6h0.6M47.3 283.3h0.6M39.2 293.6h0.6M52.6 296.9h0.6M50.8 308.4h0.6M41.7 301.9h0.6M58.1 296.4h0.6M42.3 277.4h0.6M44.5 298.8h0.6M42.7 290.4h0.6M58.3 286.4h0.6M36.5 292.3h0.6M55.1 297.3h0.6M45.7 287.5h0.6M56.1 300.0h0.6M50.5 286.3h0.6M40.4 276.0h0.6M44.8 302.7h0.6M61.4 293.7h0.6M40.0 293.7h0.6M52.0 282.9h0.6M44.1 277.3h0.6M52.6 294.8h0.6M51.6 303.0h0.6M45.4 294.1h0.6M48.7 296.2h0.6M35.4 289.5h0.6M43.6 292.3h0.6M38.2 290.8h0.6M47.6 293.7h0.6M50.3 299.4h0.6M50.0 300.7h0.6M52.6 304.6h0.6M50.7 286.4h0.6M66.0 302.2h0.6M56.3 298.6h0.6M45.4 281.7h0.6M48.9 288.8h0.6M41.4 272.7h0.6M59.0 281.5h0.6M35.1 296.2h0.6M50.1 284.8h0.6M44.9 294.3h0.6M46.4 296.7h0.6M52.0 288.7h0.6M41.5 283.1h0.6M51.8 297.3h0.6M44.6 294.8h0.6M47.9 289.9h0.6M47.9 280.2h0.6M41.4 308.7h0.6M52.9 288.3h0.6M39.8 278.4h0.6M43.9 290.4h0.6M39.2 277.9h0.6M46.4 295.8h0.6M55.3 296.6h0.6M58.7 302.8h0.6M44.0 282.5h0.6M48.9 300.7h0.6M51.2 287.0h0.6M58.2 293.9h0.6M40.0 280.0h0.6M50.4 276.5h0.6M60.4 307.4h0.6M43.0 288.5h0.6M51.3 303.2h0.6M43.1 302.2h0.6M43.1 280.5h0.6M62.6 285.8h0.6M45.0 280.7h0.6M51.1 293.7h0.6M42.4 288.4h0.6M39.8 285.5h0.6M53.1 279.4h0.6M34.5 295.7h0.6M65.4 290.1h0.6M42.2 289.7h0.6M47.2 290.4h0.6M54.8 300.9h0.6M50.0 306.2h0.6M42.9 287.0h0.6M71.9 274.5h0.6M48.2 282.3h0.6M54.6 273.0h0.6M43.7 288.5h0.6M35.2 302.1h0.6M41.4 296.1h0.6M40.2 293.3h0.6M40.9 292.7h0.6M44.1 285.8h0.6M48.9 290.3h0.6M36.2 282.5h0.6M49.0 304.0h0.6M49.1 301.4h0.6M51.4 281.3h0.6M45.3 300.1h0.6M47.2 290.0h0.6M34.3 293.5h0.6M44.4 292.3h0.6M58.6 302.7h0.6M37.8 294.1h0.6M42.2 292.9h0.6M59.8 300.3h0.6M45.4 286.0h0.6M43.5 295.3h0.6M40.5 301.9h0.6M45.2 281.3h0.6M63.5 265.8h0.6M42.6 290.9h0.6M53.9 302.1h0.6M58.2 306.1h0.6M47.9 293.0h0.6M54.2 291.8h0.6M51.0 297.5h0.6M35.0 302.8h0.6M47.8 278.4h0.6M49.2 301.1h0.6M49.8 289.2h0.6M37.8 302.1h0.6M47.0 291.9h0.6M41.4 282.7h0.6M55.0 298.9h0.6M38.8 305.8h0.6M42.9 282.9h0.6M53.8 304.5h0.6M41.5 281.0h0.6M44.4 270.1h0.6M45.5 305.8h0.6M47.5 285.4h0.6M51.4 287.5h0.6M56.4 288.8h0.6M63.4 288.8h0.6M46.7 283.5h0.6M48.2 283.2h0.6M50.1 288.3h0.6M40.0 291.3h0.6M48.6 298.6h0.6M56.2 295.4h0.6M38.4 285.8h0.6M48.3 281.2h0.6M43.5 288.5h0.6M44.1 293.6h0.6M54.4 306.8h0.6M53.0 301.1h0.6M35.3 301.4h0.6M56.7 279.8h0.6M67.8 286.9h0.6M45.6 284.8h0.6M39.8 301.7h0.6M47.3 288.6h0.6M55.4 283.5h0.6M37.3 286.9h0.6M38.2 298.2h0.6M42.9 282.5h0.6M40.8 274.1h0.6M46.5 292.9h0.6M50.5 289.9h0.6M48.6 283.6h0.6M45.2 293.4h0.6M34.0 297.3h0.6M46.3 292.5h0.6M45.0 285.1h0.6M37.3 297.3h0.6M43.1 284.9h0.6M38.5 300.4h0.6M45.8 301.5h0.6M44.8 281.3h0.6M52.8 294.9h0.6M39.1 289.2h0.6M36.2 299.5h0.6M41.2 296.3h0.6M47.3 289.7h0.6M48.3 289.8h0.6M34.3 288.2h0.6M34.4 298.8h0.6M50.9 286.7h0.6M50.6 294.2h0.6M53.8 283.6h0.6M45.2 283.1h0.6M38.8 304.3h0.6M49.4 299.0h0.6M37.9 273.7h0.6M54.9 300.2h0.6M38.4 304.2h0.6M43.3 297.5h0.6M43.3 306.3h0.6M40.3 272.7h0.6M42.2 293.7h0.6M47.5 285.5h0.6M42.9 281.8h0.6M42.9 292.8h0.6M47.2 306.8h0.6M48.9 281.6h0.6M45.6 291.9h0.6M36.0 298.5h0.6M62.2 298.1h0.6M52.0 301.6h0.6M43.8 300.7h0.6M37.7 293.6h0.6M51.3 303.7h0.6M42.4 289.4h0.6M49.2 291.3h0.6M46.2 299.2h0.6M38.1 299.9h0.6M48.4 289.6h0.6M33.8 286.3h0.6M44.6 300.4h0.6M46.7 281.9h0.6M52.7 295.6h0.6M48.9 283.2h0.6M35.1 300.1h0.6M57.6 295.3h0.6M43.3 288.0h0.6M44.1 303.0h0.6M38.5 301.4h0.6M38.6 297.2h0.6M57.3 285.7h0.6M53.1 291.9h0.6M36.6 293.8h0.6M50.8 285.6h0.6M42.6 286.9h0.6M38.1 290.1h0.6M52.4 287.6h0.6M56.1 288.6h0.6M38.8 301.6h0.6M57.6 286.2h0.6M50.2 281.6h0.6M41.4 288.7h0.6M51.3 280.8h0.6M40.4 285.8h0.6M45.9 281.0h0.6M46.9 278.6h0.6M52.4 280.3h0.6M56.1 284.5h0.6M35.3 296.2h0.6M63.1 297.3h0.6M50.9 281.4h0.6M54.0 293.2h0.6M45.0 304.3h0.6M37.5 301.8h0.6M52.4 286.4h0.6M46.1 293.0h0.6M50.2 283.3h0.6M42.9 292.8h0.6M45.2 292.2h0.6M47.2 290.3h0.6M40.6 301.2h0.6M39.3 289.2h0.6M37.2 281.8h0.6M49.0 291.6h0.6M43.8 296.0h0.6M43.5 298.0h0.6M61.0 295.1h0.6M42.6 306.7h0.6M51.3 277.2h0.6M56.8 293.9h0.6M52.6 281.8h0.6M37.5 286.2h0.6M49.9 282.0h0.6M38.7 300.4h0.6M39.3 293.0h0.6M37.0 276.9h0.6M44.3 290.9h0.6M52.3 299.8h0.6M40.5 281.8h0.6M44.2 293.5h0.6M43.5 286.8h0.6M36.2 285.5h0.6M44.3 287.7h0.6M59.7 289.6h0.6M49.0 287.9h0.6M43.4 283.4h0.6M40.7 278.7h0.6M35.7 295.8h0.6M43.9 287.0h0.6M51.4 287.1h0.6M48.8 288.7h0.6M53.6 300.4h0.6M45.6 301.7h0.6M49.4 305.7h0.6M43.9 278.3h0.6M46.9 294.1h0.6M41.8 290.2h0.6M42.6 280.9h0.6M60.1 285.1h0.6M35.5 278.0h0.6M37.5 291.6h0.6M58.0 297.3h0.6M38.6 281.0h0.6M35.1 291.3h0.6M52.6 287.7h0.6M46.4 272.9h0.6M54.6 291.1h0.6M50.9 300.7h0.6M36.1 292.6h0.6M46.5 285.3h0.6M51.1 290.8h0.6M44.4 307.1h0.6M52.3 304.2h0.6M47.9 297.2h0.6M39.7 286.7h0.6M64.8 259.4h0.6M57.3 281.8h0.6M64.9 287.1h0.6M48.9 269.9h0.6M90.2 276.3h0.6M45.5 276.5h0.6M45.8 287.6h0.6M46.4 292.0h0.6M45.9 280.4h0.6M40.8 288.6h0.6M55.5 273.4h0.6M45.6 297.5h0.6M61.9 283.7h0.6M40.0 299.6h0.6M43.9 289.3h0.6M41.9 293.1h0.6M73.9 286.9h0.6M34.2 282.9h0.6M48.5 280.7h0.6M65.7 298.5h0.6M77.3 291.1h0.6M59.1 275.5h0.6M41.7 295.6h0.6M51.9 271.7h0.6M42.0 248.7h0.6M49.9 270.6h0.6M49.2 271.0h0.6M37.2 278.9h0.6M88.0 271.0h0.6M33.7 278.6h0.6M64.4 294.4h0.6M59.4 281.2h0.6M51.7 275.9h0.6M47.4 275.5h0.6M76.3 289.6h0.6M39.6 283.7h0.6M43.7 299.3h0.6M49.5 277.5h0.6M59.2 288.7h0.6M40.6 275.9h0.6M51.8 265.7h0.6M37.4 296.8h0.6M61.7 298.1h0.6M43.8 278.0h0.6M46.2 279.3h0.6M67.4 282.3h0.6M68.4 276.6h0.6M55.0 304.0h0.6M39.7 277.3h0.6M41.7 266.0h0.6M45.8 277.4h0.6M80.0 279.3h0.6M62.9 284.5h0.6M53.8 293.4h0.6M42.2 285.4h0.6M51.8 304.4h0.6" stroke="#444" stroke-width="0.6" fill="none"/>
<path d="M53.9 241.8h0.7M41.0 254.3h0.7M47.0 252.1h0.7M47.5 245.9h0.7M50.3 238.7h0.7M44.2 260.6h0.7M43.2 253.1h0.7M50.4 247.8h0.7M53.6 233.0h0.7M51.7 229.9h0.7M47.5 246.9h0.7M52.1 248.4h0.7M42.9 246.2h0.7M46.5 241.3h0.7M43.4 243.5h0.7M52.6 249.7h0.7M50.8 252.8h0.7M47.7 238.3h0.7M44.2 248.2h0.7M52.0 249.2h0.7M43.1 253.4h0.7M44.7 250.1h0.7M51.5 251.1h0.7M44.8 248.0h0.7M49.2 241.3h0.7M47.7 248.3h0.7M39.6 246.1h0.7M58.0 240.8h0.7M44.6 235.8h0.7M42.8 251.0h0.7M50.4 245.7h0.7M50.0 239.7h0.7M54.7 233.6h0.7M49.6 241.9h0.7M39.3 255.5h0.7M45.9 250.1h0.7M53.2 242.2h0.7M44.2 245.7h0.7M46.9 253.8h0.7M51.2 251.9h0.7M50.8 238.2h0.7M51.6 248.0h0.7M46.7 248.2h0.7M45.7 238.5h0.7M46.8 249.8h0.7M45.5 232.8h0.7M43.5 253.9h0.7M48.3 251.1h0.7M43.7 244.8h0.7M42.6 243.4h0.7M49.6 244.3h0.7M45.0 248.2h0.7M41.1 246.6h0.7M40.2 240.6h0.7M40.9 242.5h0.7M54.6 248.5h0.7M53.1 237.8h0.7M50.1 236.4h0.7M44.7 248.1h0.7M39.8 251.0h0.7M50.1 230.9h0.7M35.8 250.7h0.7M46.7 246.3h0.7M41.9 251.8h0.7M47.8 240.3h0.7M54.9 241.7h0.7M50.7 253.9h0.7M44.9 245.2h0.7M39.1 248.8h0.7M49.3 258.7h0.7M49.9 244.6h0.7M41.3 243.7h0.7M38.6 242.3h0.7M47.7 246.5h0.7M43.0 246.5h0.7M43.5 251.1h0.7M50.2 239.8h0.7M45.1 239.1h0.7M45.0 259.5h0.7M47.2 250.2h0.7M49.9 252.2h0.7M45.7 240.6h0.7M52.1 247.5h0.7M44.1 253.6h0.7M47.2 244.8h0.7M55.8 242.8h0.7M48.7 242.2h0.7M48.2 250.8h0.7M49.4 239.2h0.7M49.3 243.0h0.7M48.7 243.0h0.7M37.0 241.9h0.7M45.4 233.0h0.7M40.2 261.7h0.7M50.5 240.2h0.7M48.8 230.6h0.7M48.4 250.2h0.7M48.1 236.6h0.7M51.7 239.0h0.7M44.5 247.9h0.7M45.8 258.2h0.7M46.6 258.4h0.7M49.3 236.2h0.7M47.2 245.4h0.7M53.9 248.5h0.7M59.2 233.4h0.7M45.2 260.4h0.7M43.0 249.9h0.7M54.8 234.1h0.7M45.6 241.6h0.7M49.7 245.9h0.7M47.0 249.1h0.7M43.5 245.1h0.7M49.4 255.8h0.7M47.0 245.5h0.7M53.4 241.6h0.7M53.3 242.6h0.7M52.6 242.7h0.7M42.9 242.7h0.7M49.2 255.1h0.7M56.0 237.6h0.7M59.0 230.8h0.7M43.2 253.2h0.7M40.1 255.1h0.7M49.0 247.7h0.7M41.6 251.0h0.7M51.6 241.9h0.7M52.1 242.1h0.7M48.8 242.1h0.7M40.9 248.2h0.7M49.6 239.0h0.7M38.0 241.5h0.7M53.4 239.8h0.7M43.6 254.8h0.7M46.4 236.5h0.7M45.2 241.0h0.7M46.4 240.1h0.7M47.5 247.6h0.7M44.5 245.5h0.7M46.5 250.5h0.7M43.8 251.7h0.7M53.1 240.1h0.7M42.7 246.1h0.7M38.9 247.1h0.7M41.6 247.6h0.7M45.5 249.3h0.7M47.8 247.3h0.7M47.0 246.9h0.7M41.9 252.4h0.7M53.4 247.9h0.7M40.9 251.6h0.7M39.6 254.5h0.7M46.3 242.9h0.7M43.7 245.8h0.7M47.2 239.2h0.7M47.5 246.4h0.7M49.7 243.2h0.7M47.2 259.1h0.7M52.0 244.0h0.7M40.7 253.0h0.7M49.9 227.2h0.7M46.5 247.9h0.7M47.4 245.5h0.7M46.5 253.9h0.7M49.0 242.2h0.7M46.2 258.4h0.7M43.2 244.4h0.7M48.8 245.0h0.7M48.7 252.4h0.7M52.6 244.2h0.7M47.4 244.5h0.7M46.1 251.8h0.7M41.3 242.5h0.7M45.1 240.6h0.7M43.8 254.5h0.7M36.6 255.3h0.7M41.0 247.5h0.7M44.5 240.8h0.7M40.2 249.9h0.7M45.4 252.9h0.7M56.0 237.7h0.7M43.4 245.7h0.7M49.5 249.3h0.7M42.7 250.8h0.7M47.1 252.1h0.7M45.3 245.0h0.7M43.2 239.6h0.7M48.5 248.5h0.7M52.6 243.3h0.7M45.1 240.9h0.7M41.8 244.1h0.7M48.8 244.6h0.7M36.4 251.3h0.7M45.9 239.6h0.7M47.1 248.3h0.7M42.3 240.0h0.7M45.7 247.6h0.7M46.0 255.2h0.7M47.9 238.5h0.7M50.9 238.8h0.7M50.5 243.6h0.7M53.1 235.3h0.7M50.7 245.4h0.7M43.0 252.0h0.7M58.0 240.3h0.7M43.6 246.4h0.7M53.4 242.7h0.7M54.3 236.6h0.7M53.5 231.5h0.7M46.5 243.7h0.7M44.9 253.9h0.7M44.4 249.0h0.7M56.1 244.4h0.7M45.3 241.8h0.7M37.7 253.4h0.7M51.5 249.1h0.7M48.4 257.4h0.7M50.9 228.6h0.7M43.1 252.6h0.7M45.4 251.3h0.7M59.5 232.6h0.7M57.8 237.8h0.7M40.3 250.1h0.7M51.6 238.8h0.7M54.8 234.9h0.7M46.3 251.2h0.7M46.3 242.3h0.7M47.2 249.1h0.7M55.5 248.0h0.7M56.2 239.2h0.7M39.4 249.8h0.7M45.3 240.2h0.7M44.8 246.2h0.7M47.5 250.4h0.7M42.9 254.8h0.7M47.5 249.3h0.7M53.2 233.7h0.7M54.9 235.8h0.7M49.2 250.4h0.7M51.7 232.7h0.7M48.1 251.4h0.7M46.7 244.9h0.7M47.6 254.8h0.7M44.7 240.9h0.7M42.0 245.2h0.7M46.2 247.8h0.7M46.9 234.8h0.7M39.8 253.9h0.7M50.7 234.6h0.7M51.8 227.4h0.7M58.4 241.5h0.7M39.3 253.2h0.7M47.1 242.4h0.7M45.5 244.8h0.7M46.8 239.8h0.7M44.6 250.1h0.7M49.8 235.3h0.7M44.9 256.0h0.7M50.7 252.9h0.7M40.8 242.8h0.7M36.9 239.8h0.7M45.5 239.8h0.7M42.1 244.1h0.7M46.4 250.6h0.7M50.0 232.6h0.7M54.4 238.4h0.7M42.5 247.9h0.7M45.4 237.8h0.7M54.8 236.7h0.7M44.4 250.1h0.7M55.3 242.8h0.7M43.0 250.4h0.7M52.6 243.9h0.7M50.4 240.1h0.7M47.0 235.0h0.7M43.8 240.3h0.7M47.3 254.1h0.7M36.5 243.9h0.7M42.8 247.3h0.7M52.9 236.7h0.7M43.5 254.8h0.7M49.1 247.1h0.7M51.3 237.9h0.7M48.4 240.3h0.7M43.8 248.0h0.7M49.4 235.9h0.7M43.6 251.1h0.7M48.1 248.5h0.7M45.8 241.1h0.7M51.1 246.3h0.7M33.6 259.0h0.7M43.6 251.4h0.7M54.9 238.5h0.7M42.6 249.5h0.7M47.7 248.2h0.7M40.5 250.8h0.7M51.6 246.5h0.7M50.3 250.4h0.7M43.3 255.0h0.7M48.3 238.3h0.7M45.9 247.6h0.7M48.9 252.2h0.7M48.2 241.3h0.7M57.8 236.3h0.7M43.3 253.2h0.7M45.3 241.5h0.7M42.2 255.5h0.7M42.2 248.9h0.7M45.1 245.2h0.7M43.4 248.4h0.7M50.2 249.6h0.7M45.6 239.0h0.7M40.2 249.6h0.7M35.3 260.7h0.7M47.4 245.7h0.7M40.6 245.4h0.7M43.7 251.4h0.7M45.3 250.0h0.7M49.8 231.7h0.7M46.2 253.4h0.7M44.8 247.4h0.7M46.7 237.9h0.7M57.8 237.5h0.7M50.4 240.3h0.7M54.1 247.7h0.7M53.0 247.2h0.7M50.7 251.3h0.7M49.2 244.6h0.7M51.2 237.1h0.7M35.1 257.8h0.7M48.0 240.3h0.7M46.0 240.1h0.7M43.2 248.8h0.7M47.9 249.7h0.7M46.9 249.2h0.7M50.6 238.7h0.7M39.2 246.1h0.7M46.1 242.6h0.7M57.9 234.1h0.7M49.6 238.9h0.7M50.6 235.3h0.7M51.9 243.2h0.7M45.4 239.0h0.7M55.3 236.4h0.7M54.2 226.0h0.7M41.5 259.7h0.7M55.9 239.7h0.7M52.1 245.7h0.7M45.6 246.9h0.7M41.8 240.4h0.7M47.9 249.1h0.7M48.1 237.1h0.7M51.4 243.0h0.7M50.9 241.0h0.7M46.0 252.3h0.7M53.9 233.6h0.7M42.0 254.3h0.7M49.0 244.3h0.7M42.6 254.2h0.7M48.2 245.8h0.7M49.2 240.7h0.7M49.2 244.6h0.7M50.8 245.2h0.7M41.1 244.7h0.7M46.0 252.9h0.7M44.2 253.9h0.7M52.5 247.1h0.7M58.2 238.1h0.7M48.8 251.5h0.7M49.3 249.9h0.7M46.7 254.1h0.7M49.0 232.4h0.7M52.5 240.6h0.7M43.0 246.0h0.7M45.9 252.9h0.7M48.9 243.6h0.7M47.2 239.7h0.7M44.2 244.2h0.7M46.2 238.7h0.7M45.4 252.4h0.7M49.5 243.7h0.7M49.0 242.6h0.7M41.6 254.1h0.7M58.1 241.3h0.7M50.6 257.9h0.7M41.5 252.0h0.7M45.7 244.5h0.7M39.3 249.7h0.7M49.2 234.2h0.7M46.2 242.8h0.7M42.5 252.0h0.7M55.2 242.6h0.7M52.3 246.5h0.7M47.0 248.8h0.7M53.7 238.4h0.7M46.6 237.2h0.7M38.3 245.9h0.7M51.6 244.5h0.7M48.6 252.2h0.7M38.8 258.9h0.7M47.7 249.5h0.7M54.0 235.9h0.7M43.1 250.2h0.7M47.0 241.7h0.7M46.7 241.1h0.7M48.0 242.4h0.7M55.5 233.6h0.7M50.1 243.8h0.7M54.9 234.4h0.7M45.1 257.0h0.7M44.1 244.8h0.7M45.4 240.4h0.7M53.2 250.5h0.7M46.6 241.0h0.7M40.8 253.2h0.7M44.7 250.0h0.7M35.7 249.9h0.7M50.3 245.7h0.7M47.9 244.6h0.7M45.7 243.5h0.7M48.0 247.7h0.7M51.8 240.9h0.7M53.2 235.7h0.7M56.5 245.0h0.7M45.3 262.9h0.7M54.2 250.2h0.7M41.5 248.1h0.7M49.6 250.0h0.7M47.7 237.0h0.7M53.2 240.3h0.7M49.4 241.8h0.7M46.8 237.2h0.7M50.5 239.3h0.7M38.7 253.0h0.7M47.1 251.0h0.7M51.3 235.3h0.7M46.5 245.6h0.7M47.7 238.5h0.7M47.7 250.7h0.7M53.3 250.0h0.7M51.0 227.6h0.7M46.0 242.6h0.7M51.7 242.2h0.7M49.0 246.9h0.7M46.3 254.0h0.7M56.1 244.4h0.7M44.6 248.3h0.7M52.0 246.4h0.7M44.0 252.9h0.7M50.8 246.3h0.7M45.3 246.2h0.7M38.1 250.8h0.7M45.2 244.7h0.7M45.9 244.0h0.7M47.7 245.4h0.7M44.4 246.2h0.7M46.9 248.3h0.7M49.4 241.6h0.7M43.3 237.8h0.7M41.3 251.4h0.7M42.9 257.5h0.7M46.5 243.2h0.7M46.5 242.3h0.7M44.3 247.4h0.7M40.3 250.3h0.7M46.9 239.9h0.7M52.2 244.1h0.7M52.5 237.7h0.7M41.3 241.8h0.7M39.7 238.5h0.7M54.8 237.4h0.7M48.2 241.3h0.7M46.6 255.0h0.7M38.9 244.5h0.7M47.9 239.2h0.7M50.6 250.7h0.7M51.6 246.8h0.7M46.5 251.6h0.7M43.4 240.4h0.7M46.0 244.4h0.7M53.2 235.4h0.7M52.8 236.9h0.7M41.2 238.8h0.7M47.1 236.5h0.7M48.3 244.7h0.7M45.4 234.7h0.7M44.8 249.3h0.7M38.7 254.7h0.7M47.4 241.7h0.7M48.3 248.3h0.7M47.2 240.5h0.7M51.1 238.6h0.7M49.0 249.8h0.7M53.6 250.6h0.7M52.2 242.8h0.7M46.3 246.8h0.7M49.8 261.4h0.7M50.5 238.1h0.7M54.6 230.8h0.7M52.1 234.3h0.7M42.1 245.4h0.7M45.9 237.8h0.7M50.3 242.5h0.7M53.8 234.8h0.7M38.6 254.7h0.7M46.2 251.6h0.7M36.0 244.7h0.7M47.7 256.5h0.7M41.4 237.4h0.7M45.1 254.9h0.7M54.9 232.0h0.7M44.4 235.9h0.7M43.2 241.8h0.7M49.4 250.6h0.7M58.8 235.6h0.7M51.2 243.8h0.7M47.9 256.3h0.7M50.7 252.3h0.7M48.8 249.3h0.7M49.7 242.9h0.7M43.9 244.7h0.7M47.4 242.7h0.7M45.7 241.8h0.7M51.4 240.9h0.7M46.7 244.1h0.7M53.6 237.8h0.7M54.1 235.5h0.7M54.7 244.0h0.7M44.9 249.3h0.7M52.8 235.8h0.7M46.2 247.6h0.7M46.3 243.9h0.7M47.4 246.8h0.7M51.0 251.5h0.7M45.8 263.6h0.7M45.7 256.7h0.7M46.7 236.7h0.7M45.2 244.3h0.7M52.5 229.6h0.7M44.3 246.2h0.7" stroke="#111" stroke-width="0.7" fill="none"/>
<path d="M46.3 251.6h0.6M47.6 246.4h0.6M40.5 260.9h0.6M53.2 248.6h0.6M43.0 242.3h0.6M55.7 247.7h0.6M46.0 234.7h0.6M46.0 269.0h0.6M41.0 248.7h0.6M52.0 244.3h0.6M47.5 264.2h0.6M34.4 246.1h0.6M46.4 249.2h0.6M42.3 248.5h0.6M42.9 252.7h0.6M38.9 249.0h0.6M43.5 240.2h0.6M44.9 230.2h0.6M46.2 247.3h0.6M34.4 264.6h0.6M34.4 270.7h0.6M37.3 262.3h0.6M41.6 263.9h0.6M40.6 259.4h0.6M39.9 235.0h0.6M44.6 253.0h0.6M44.6 263.2h0.6M37.3 239.9h0.6M43.7 243.4h0.6M41.4 250.3h0.6M36.7 261.5h0.6M41.2 265.6h0.6M43.6 258.3h0.6M40.1 245.2h0.6M38.6 244.0h0.6M44.9 250.0h0.6M35.0 239.8h0.6M36.5 236.8h0.6M36.3 239.5h0.6M46.6 238.3h0.6M38.2 250.6h0.6M42.2 253.5h0.6M47.0 253.4h0.6M39.8 261.6h0.6M44.4 243.0h0.6M51.7 235.9h0.6M45.1 259.4h0.6M42.8 252.7h0.6M42.8 255.4h0.6M43.5 249.5h0.6M46.6 232.0h0.6M43.7 246.8h0.6M54.7 247.2h0.6M37.8 257.4h0.6M39.6 241.0h0.6M40.2 255.0h0.6M49.7 255.8h0.6M43.5 248.0h0.6M43.3 259.8h0.6M41.2 260.2h0.6M36.9 252.0h0.6M47.0 253.9h0.6M43.3 245.1h0.6M36.6 248.9h0.6M52.2 239.2h0.6M47.5 247.6h0.6M34.9 253.9h0.6M46.9 237.9h0.6M34.6 249.9h0.6M46.7 243.0h0.6M44.7 252.8h0.6M42.1 253.8h0.6M50.2 245.0h0.6M44.1 240.1h0.6M37.4 251.1h0.6M47.3 242.1h0.6M57.2 221.8h0.6M35.2 253.9h0.6M45.1 240.7h0.6M44.2 258.5h0.6M40.3 256.9h0.6M42.9 241.8h0.6M38.1 246.5h0.6M50.5 256.3h0.6M43.6 236.1h0.6M38.9 247.9h0.6M43.9 238.0h0.6M39.3 247.3h0.6M53.8 250.7h0.6M46.9 248.7h0.6M33.8 261.2h0.6M37.7 235.5h0.6M46.7 245.1h0.6M42.0 254.4h0.6M40.5 254.1h0.6M50.2 243.9h0.6M39.8 251.1h0.6M46.1 244.9h0.6M42.5 244.0h0.6M41.5 254.8h0.6M36.8 250.6h0.6M42.5 254.3h0.6M35.5 251.9h0.6M36.1 255.1h0.6M43.7 253.1h0.6M40.7 238.5h0.6M38.5 240.1h0.6M37.7 251.3h0.6M48.9 241.7h0.6M37.1 253.8h0.6M48.2 255.6h0.6M41.4 256.5h0.6M39.8 259.0h0.6M37.9 244.8h0.6M44.4 245.2h0.6M46.3 241.0h0.6M43.7 241.0h0.6M41.4 268.5h0.6M35.2 242.4h0.6M52.3 241.9h0.6M47.9 246.0h0.6M38.0 268.7h0.6M48.9 231.6h0.6M35.8 256.1h0.6M46.1 246.4h0.6M44.0 253.7h0.6M39.8 259.4h0.6M36.6 258.6h0.6M47.8 249.3h0.6M39.8 250.8h0.6M46.8 240.3h0.6M44.3 249.5h0.6M40.3 254.7h0.6M42.5 239.1h0.6M38.7 252.3h0.6M34.0 249.6h0.6M38.6 233.5h0.6M52.9 252.9h0.6M39.1 259.2h0.6M35.4 265.7h0.6M39.7 252.2h0.6M38.4 252.3h0.6M44.1 249.4h0.6M36.8 258.6h0.6M45.5 248.6h0.6M48.6 241.0h0.6M50.1 245.3h0.6M51.6 242.3h0.6M40.4 252.4h0.6M48.9 259.3h0.6M39.1 245.0h0.6M46.8 258.5h0.6M46.4 245.4h0.6M50.0 246.5h0.6M43.1 254.8h0.6M38.4 232.4h0.6M43.4 255.5h0.6M44.8 253.4h0.6M43.0 258.4h0.6M42.7 262.3h0.6M42.3 256.6h0.6M38.5 254.0h0.6M44.7 250.1h0.6M51.7 246.4h0.6M49.1 250.0h0.6M48.9 239.5h0.6M39.7 259.1h0.6M36.9 255.5h0.6M45.6 250.2h0.6M44.8 253.4h0.6M40.5 254.1h0.6M38.8 247.5h0.6M43.3 240.3h0.6M42.4 252.3h0.6M39.8 243.2h0.6M41.3 253.8h0.6M47.8 264.0h0.6M44.7 243.5h0.6M44.0 266.9h0.6M42.7 261.3h0.6M48.7 243.5h0.6M51.7 231.1h0.6M40.8 244.6h0.6M43.3 250.0h0.6M49.2 242.0h0.6M54.1 230.5h0.6M43.4 272.1h0.6M41.4 255.6h0.6M39.0 279.2h0.6M47.6 244.7h0.6M46.6 230.8h0.6M38.9 256.0h0.6M44.6 258.6h0.6M49.3 241.4h0.6M45.2 233.7h0.6M39.5 242.4h0.6M56.1 227.1h0.6M35.4 262.3h0.6M42.4 259.4h0.6M41.5 265.7h0.6M41.8 249.1h0.6M44.8 251.8h0.6M40.5 253.5h0.6M34.3 247.1h0.6M37.3 254.8h0.6M39.3 256.2h0.6M44.5 241.2h0.6M40.1 240.2h0.6M42.7 256.6h0.6M35.8 237.6h0.6M45.3 246.2h0.6M41.8 254.0h0.6M44.4 256.9h0.6M39.1 232.5h0.6M38.9 248.7h0.6M39.4 254.4h0.6M40.4 261.7h0.6M38.0 251.6h0.6M39.7 269.0h0.6M36.0 244.0h0.6M42.0 264.1h0.6M45.1 256.6h0.6M33.6 241.5h0.6M43.3 256.1h0.6M58.7 261.0h0.6M48.3 265.7h0.6M38.0 248.2h0.6M42.1 269.8h0.6M52.7 253.4h0.6M35.3 265.4h0.6M53.5 249.3h0.6M57.5 251.8h0.6M50.8 256.4h0.6M42.4 253.1h0.6M50.4 262.9h0.6M51.3 255.8h0.6M38.4 275.1h0.6M58.4 256.5h0.6M36.1 269.9h0.6M46.0 258.5h0.6M51.7 260.8h0.6M45.9 273.8h0.6M37.3 258.6h0.6M43.7 260.1h0.6M63.2 254.7h0.6M52.1 263.0h0.6M47.3 254.0h0.6M50.0 260.2h0.6M56.3 264.6h0.6M39.4 234.8h0.6M56.8 261.9h0.6M46.4 253.2h0.6M64.7 268.7h0.6M45.8 255.1h0.6M49.5 268.8h0.6M49.1 265.5h0.6M47.1 260.8h0.6M35.0 259.0h0.6M45.4 257.4h0.6M43.1 260.4h0.6" stroke="#555" stroke-width="0.6" fill="none"/>
<path d="M84.8 247.7h0.6M82.2 264.6h0.6M83.6 240.5h0.6M84.9 246.2h0.6M83.0 231.8h0.6M92.6 257.7h0.6M85.5 253.1h0.6M82.9 237.5h0.6M88.0 253.7h0.6M84.4 249.0h0.6M75.9 246.5h0.6M90.6 251.4h0.6M87.4 253.6h0.6M79.4 239.1h0.6M82.3 250.3h0.6M84.6 236.0h0.6M90.0 248.8h0.6M90.3 264.1h0.6M80.9 239.5h0.6M90.6 260.0h0.6M88.2 252.3h0.6M89.3 254.5h0.6M82.3 253.8h0.6M90.3 247.4h0.6M83.5 245.5h0.6M84.7 252.8h0.6M89.6 250.2h0.6M85.7 237.0h0.6M85.3 242.3h0.6M84.8 251.5h0.6M87.4 273.9h0.6M83.7 245.2h0.6M82.7 246.9h0.6M85.8 256.3h0.6M79.8 254.5h0.6M89.1 246.3h0.6M84.3 250.4h0.6M88.7 248.8h0.6M86.2 249.5h0.6M82.9 250.6h0.6M88.9 250.3h0.6M82.7 248.7h0.6M86.4 251.6h0.6M85.3 255.0h0.6M90.7 256.0h0.6M87.6 258.1h0.6M86.6 248.3h0.6M81.7 248.6h0.6M91.1 243.8h0.6M89.6 241.3h0.6M87.9 262.3h0.6M87.0 241.5h0.6M87.8 248.7h0.6M89.6 246.5h0.6M80.6 245.0h0.6M88.9 257.0h0.6M87.8 249.9h0.6M89.2 248.6h0.6M85.2 250.7h0.6M90.7 246.8h0.6M88.6 245.5h0.6M84.2 250.2h0.6M82.0 242.7h0.6M82.5 244.6h0.6M83.5 264.8h0.6M89.0 250.4h0.6M82.0 232.3h0.6M88.4 245.5h0.6M90.5 247.5h0.6M82.1 244.2h0.6M81.3 238.8h0.6M89.3 246.4h0.6M89.2 246.2h0.6M85.9 245.6h0.6M84.8 244.6h0.6M92.1 250.2h0.6M79.8 259.7h0.6M91.3 258.0h0.6M86.4 248.4h0.6M85.1 250.0h0.6M88.5 249.8h0.6M83.8 242.4h0.6M92.7 262.2h0.6M82.3 244.3h0.6M86.6 253.5h0.6M86.4 251.1h0.6M88.1 257.5h0.6M82.1 256.1h0.6M88.3 253.5h0.6M81.4 246.9h0.6M85.8 253.7h0.6M89.2 254.7h0.6M82.1 257.1h0.6M87.0 255.9h0.6M86.7 244.7h0.6M96.2 255.8h0.6M89.5 246.9h0.6M86.0 256.9h0.6M88.4 261.7h0.6M91.1 243.1h0.6M81.2 256.3h0.6M88.9 248.2h0.6M85.7 245.6h0.6M93.2 249.7h0.6M81.8 254.7h0.6M86.5 251.9h0.6M85.4 249.0h0.6M80.0 251.8h0.6M84.3 246.5h0.6M87.9 258.4h0.6M79.0 247.1h0.6M88.7 256.7h0.6M83.5 251.0h0.6M88.2 256.1h0.6M84.5 247.8h0.6M84.9 256.8h0.6M90.6 247.3h0.6M86.3 250.9h0.6M83.5 248.1h0.6M89.8 255.3h0.6M84.3 244.7h0.6M86.3 239.6h0.6M87.9 250.6h0.6M82.0 247.0h0.6M84.4 247.3h0.6M83.6 258.1h0.6M83.3 254.0h0.6M87.5 259.4h0.6M86.5 249.5h0.6M87.0 237.0h0.6M95.4 249.8h0.6M85.6 241.8h0.6M86.2 260.2h0.6M84.0 252.0h0.6M90.4 256.6h0.6M85.3 237.6h0.6M88.2 253.6h0.6M85.6 246.5h0.6M93.0 240.3h0.6M84.9 245.2h0.6M81.1 243.9h0.6M83.9 257.3h0.6M80.5 239.2h0.6M87.7 239.5h0.6M79.5 244.0h0.6M82.4 242.2h0.6M86.2 252.5h0.6M84.4 247.3h0.6M89.3 249.1h0.6M89.4 246.2h0.6M88.5 258.4h0.6M81.8 268.4h0.6M85.6 247.1h0.6M86.2 252.5h0.6M82.4 249.0h0.6M84.6 258.6h0.6M80.5 252.7h0.6M85.6 244.4h0.6M87.2 248.1h0.6M86.9 251.2h0.6M91.1 247.7h0.6M92.7 232.9h0.6M93.3 258.9h0.6M92.3 252.0h0.6M87.8 243.1h0.6M91.5 242.9h0.6M83.9 249.0h0.6M87.6 252.0h0.6M82.6 246.5h0.6M88.5 257.7h0.6M89.5 252.8h0.6M85.8 245.8h0.6M84.9 248.6h0.6M88.6 246.6h0.6M94.1 244.4h0.6M89.7 248.8h0.6M86.2 247.0h0.6M92.2 248.7h0.6M88.7 250.7h0.6M89.4 254.0h0.6M92.7 245.9h0.6M83.8 260.2h0.6M91.3 251.0h0.6M85.7 251.1h0.6M91.4 245.5h0.6M91.9 250.2h0.6M85.4 246.7h0.6M79.2 250.2h0.6M82.0 245.0h0.6M83.5 250.5h0.6M89.3 250.4h0.6M87.4 252.4h0.6M92.5 254.5h0.6M92.4 250.3h0.6M88.0 245.6h0.6M88.9 244.4h0.6M88.4 245.8h0.6M85.5 257.4h0.6M87.3 254.9h0.6M85.9 237.2h0.6M92.0 249.4h0.6M84.4 255.4h0.6M82.7 243.9h0.6M90.8 245.8h0.6M90.8 248.4h0.6M86.0 249.9h0.6M84.9 256.3h0.6M90.7 250.8h0.6M88.9 253.6h0.6M92.8 240.4h0.6M95.0 258.8h0.6M85.7 250.3h0.6M85.5 261.8h0.6M79.9 255.9h0.6M96.8 255.6h0.6M84.5 245.8h0.6M73.1 240.5h0.6M95.5 241.2h0.6M76.4 247.8h0.6M77.5 254.5h0.6M81.8 259.1h0.6M87.1 236.8h0.6M82.5 244.1h0.6M82.0 261.8h0.6M80.9 253.6h0.6M83.8 255.7h0.6M77.9 235.4h0.6M91.4 263.6h0.6M78.2 247.2h0.6M84.3 241.4h0.6M94.6 250.6h0.6M78.2 248.1h0.6M97.2 243.5h0.6M84.3 242.4h0.6M89.0 244.9h0.6" stroke="#5a5a5a" stroke-width="0.6" fill="none"/>
<path d="M91.7 279.2h0.7M81.8 292.5h0.7M74.6 290.8h0.7M89.1 286.3h0.7M85.5 285.5h0.7M90.1 302.6h0.7M84.6 287.5h0.7M86.0 290.0h0.7M88.0 288.6h0.7M94.8 279.7h0.7M86.7 288.6h0.7M96.7 277.9h0.7M95.0 286.7h0.7M76.5 289.3h0.7M83.8 290.8h0.7M93.5 282.2h0.7M88.6 296.1h0.7M89.4 295.4h0.7M84.2 296.7h0.7M85.8 275.6h0.7M84.5 286.1h0.7M87.8 289.8h0.7M90.8 286.4h0.7M84.8 296.9h0.7M93.0 282.5h0.7M85.5 287.4h0.7M87.0 283.2h0.7M87.9 282.7h0.7M90.6 280.8h0.7M90.0 286.0h0.7M88.6 288.0h0.7M83.6 301.6h0.7M85.0 291.6h0.7M88.0 283.7h0.7M95.2 286.1h0.7M86.8 289.5h0.7M90.8 291.6h0.7M92.2 282.1h0.7M86.9 281.0h0.7M89.0 289.4h0.7M86.3 290.4h0.7M88.5 283.3h0.7M82.8 295.0h0.7M98.6 281.0h0.7M83.4 284.1h0.7M89.0 288.4h0.7M94.3 269.5h0.7M95.7 281.2h0.7M88.5 287.4h0.7M86.5 285.6h0.7M92.4 274.2h0.7M87.5 289.0h0.7M81.0 290.1h0.7M94.4 283.2h0.7M90.9 287.3h0.7M88.9 287.0h0.7M84.5 287.3h0.7M95.7 274.3h0.7M87.3 280.2h0.7M85.7 283.7h0.7M82.8 290.8h0.7M84.0 291.3h0.7M95.5 267.9h0.7M87.3 276.1h0.7M87.4 288.1h0.7M88.8 291.2h0.7M88.6 276.9h0.7M94.3 276.7h0.7M87.6 287.8h0.7M84.3 289.0h0.7M94.2 273.1h0.7M81.0 288.7h0.7M87.3 280.1h0.7M78.3 297.3h0.7M89.6 278.2h0.7M90.4 283.9h0.7M88.6 278.8h0.7M87.0 288.9h0.7M80.6 286.0h0.7M92.0 292.8h0.7M90.7 283.6h0.7M83.4 287.1h0.7M86.9 288.8h0.7M86.9 298.9h0.7M93.5 271.1h0.7M83.1 289.4h0.7M92.1 284.9h0.7M76.4 286.0h0.7M93.6 284.8h0.7M98.7 282.2h0.7M89.9 292.1h0.7M86.1 284.5h0.7M83.7 290.2h0.7M89.8 289.2h0.7M94.1 284.6h0.7M93.2 280.9h0.7M83.9 292.4h0.7M92.2 289.5h0.7M87.3 284.0h0.7M86.5 288.8h0.7M87.8 285.1h0.7M89.1 283.7h0.7M89.4 281.9h0.7M81.5 289.0h0.7M95.9 276.2h0.7M91.8 289.8h0.7M85.7 288.8h0.7M78.4 295.6h0.7M94.5 282.2h0.7M79.6 289.0h0.7M84.9 288.7h0.7M89.2 282.9h0.7M86.7 282.7h0.7M90.4 285.1h0.7M89.4 282.3h0.7M90.1 282.9h0.7M89.2 284.2h0.7M85.2 282.4h0.7M80.1 284.7h0.7M89.9 300.7h0.7M81.1 286.7h0.7M88.0 303.7h0.7M87.1 280.7h0.7M89.8 295.0h0.7M76.2 288.4h0.7M93.2 276.3h0.7M87.6 283.0h0.7M91.2 276.3h0.7M89.3 286.0h0.7M90.4 286.3h0.7M88.6 276.5h0.7M86.6 282.1h0.7M90.2 283.1h0.7M88.6 290.9h0.7M87.5 294.6h0.7M91.5 275.9h0.7M85.5 293.7h0.7M85.9 293.3h0.7M85.6 286.9h0.7M92.3 274.9h0.7M88.3 283.3h0.7M88.7 293.9h0.7M90.1 277.6h0.7M92.0 280.7h0.7M88.7 291.1h0.7M86.7 291.6h0.7M88.7 280.8h0.7M86.7 280.0h0.7M93.0 283.1h0.7M92.1 277.3h0.7M91.6 277.3h0.7M89.2 284.9h0.7M85.5 289.1h0.7M88.1 281.4h0.7M84.9 281.5h0.7M93.8 282.5h0.7M86.5 290.4h0.7M84.4 282.6h0.7M89.5 292.7h0.7M89.3 285.7h0.7M95.3 272.8h0.7M100.9 271.1h0.7M87.7 279.3h0.7M82.9 288.3h0.7M98.3 273.7h0.7M85.4 289.0h0.7M83.7 287.6h0.7M91.4 272.4h0.7M86.7 285.2h0.7M85.8 286.8h0.7M80.4 289.0h0.7M85.8 282.2h0.7M93.3 292.1h0.7M91.4 279.1h0.7M94.0 284.1h0.7M84.6 291.3h0.7M85.6 290.4h0.7M91.9 288.9h0.7M83.6 288.3h0.7M88.0 279.6h0.7M89.7 288.0h0.7M82.2 287.2h0.7M83.4 282.7h0.7M83.5 295.9h0.7M85.2 285.8h0.7M92.2 288.0h0.7M93.9 271.1h0.7M91.2 274.7h0.7M85.3 285.6h0.7M85.6 297.4h0.7M87.3 292.2h0.7M87.2 286.0h0.7M90.1 286.5h0.7M90.1 275.6h0.7M90.1 285.9h0.7M90.5 283.7h0.7M89.7 278.0h0.7M92.8 276.3h0.7M93.9 286.7h0.7M87.7 284.5h0.7M91.3 281.9h0.7M83.0 290.8h0.7M82.9 287.2h0.7M95.5 284.5h0.7M86.1 286.8h0.7M85.3 287.7h0.7M81.9 293.6h0.7M88.1 282.7h0.7M85.4 300.9h0.7M86.1 284.7h0.7M85.6 285.1h0.7M93.5 285.3h0.7M89.8 286.4h0.7M83.2 277.0h0.7M94.3 284.9h0.7M88.9 286.6h0.7M88.8 285.3h0.7M86.9 275.3h0.7M90.4 284.3h0.7M92.1 284.4h0.7M86.8 289.7h0.7M88.8 283.0h0.7M86.4 284.8h0.7M86.7 284.4h0.7M92.1 297.6h0.7M87.5 291.8h0.7M79.7 275.4h0.7M86.0 286.4h0.7M84.9 281.1h0.7M84.4 285.8h0.7M88.6 283.6h0.7M83.0 287.5h0.7M94.4 276.8h0.7M88.3 290.7h0.7M84.6 285.3h0.7M100.2 283.4h0.7M85.8 288.2h0.7M88.4 286.2h0.7M90.0 282.9h0.7M78.7 287.6h0.7M88.6 278.4h0.7M86.6 294.4h0.7M89.0 281.8h0.7M88.6 290.7h0.7M80.8 284.6h0.7M85.2 285.6h0.7M87.6 283.1h0.7M88.5 285.9h0.7M83.1 286.1h0.7M82.8 291.0h0.7M89.1 288.3h0.7M84.3 285.7h0.7M78.7 292.5h0.7M81.2 292.4h0.7M92.5 284.8h0.7M90.6 285.1h0.7M89.6 289.4h0.7M93.3 292.2h0.7M86.9 290.8h0.7M91.6 285.4h0.7M89.1 278.6h0.7M92.6 278.1h0.7M85.3 283.4h0.7M90.3 279.2h0.7M89.9 287.3h0.7M88.4 283.8h0.7M90.5 290.6h0.7M86.1 281.9h0.7M85.5 283.2h0.7M87.0 285.7h0.7M78.3 300.1h0.7M84.6 286.1h0.7M79.8 281.7h0.7M83.7 290.0h0.7M91.6 274.1h0.7M88.9 292.8h0.7M86.8 291.3h0.7M89.3 280.2h0.7M92.2 279.8h0.7M89.5 282.7h0.7M87.1 287.2h0.7M93.5 273.4h0.7M83.3 289.7h0.7M92.1 281.9h0.7M87.2 289.0h0.7M94.6 276.5h0.7M81.3 289.2h0.7M91.2 276.9h0.7M92.7 287.2h0.7M91.3 279.2h0.7M82.6 293.0h0.7M89.1 288.5h0.7M82.4 274.9h0.7M92.7 287.5h0.7M86.8 286.6h0.7M89.9 288.2h0.7M87.2 283.8h0.7M83.9 293.9h0.7M88.4 268.3h0.7M89.4 281.9h0.7M82.7 287.0h0.7M82.6 287.4h0.7M85.7 290.0h0.7M83.8 279.7h0.7M85.5 280.7h0.7M91.1 282.5h0.7M81.0 286.4h0.7M87.9 285.7h0.7M80.3 290.7h0.7M89.2 289.9h0.7M92.6 281.9h0.7M82.5 287.8h0.7M90.7 279.2h0.7M93.3 277.2h0.7M83.3 293.3h0.7M87.6 287.7h0.7M86.7 286.9h0.7M85.5 297.1h0.7M90.7 283.2h0.7M90.0 288.6h0.7M85.8 288.3h0.7M88.9 282.3h0.7M84.8 287.1h0.7M86.7 284.6h0.7M79.9 292.0h0.7M90.7 284.2h0.7M95.2 285.0h0.7M86.5 283.5h0.7M90.1 282.4h0.7M81.2 291.2h0.7M86.8 285.6h0.7M90.6 284.9h0.7M96.5 276.0h0.7M87.6 287.6h0.7M86.2 284.5h0.7M95.3 273.3h0.7M89.5 275.9h0.7M89.4 275.1h0.7M83.1 295.0h0.7M94.4 281.8h0.7M76.6 299.0h0.7M89.0 279.5h0.7M86.5 280.2h0.7M87.6 285.6h0.7M88.5 289.4h0.7M85.3 276.7h0.7M83.1 283.0h0.7M86.5 284.7h0.7M87.8 292.8h0.7M88.1 280.3h0.7M86.7 282.3h0.7M87.0 289.4h0.7M83.3 292.7h0.7M95.5 288.1h0.7M94.8 281.4h0.7M82.3 299.9h0.7M87.8 287.1h0.7M86.5 282.2h0.7M90.6 276.9h0.7M82.2 292.7h0.7M86.4 282.7h0.7M90.1 291.4h0.7M86.8 286.0h0.7M90.3 288.8h0.7M92.3 286.1h0.7M85.2 290.4h0.7M88.0 277.3h0.7M93.2 285.0h0.7M93.7 281.4h0.7M91.0 283.3h0.7M88.7 289.9h0.7M88.2 288.7h0.7M87.9 292.0h0.7M90.7 275.6h0.7M94.9 283.0h0.7M85.9 284.2h0.7M96.3 280.3h0.7M90.1 287.3h0.7M85.5 296.3h0.7M96.8 275.6h0.7M92.7 274.3h0.7M86.6 287.1h0.7M88.2 288.5h0.7M89.7 286.5h0.7M87.4 287.7h0.7M85.7 297.3h0.7M88.3 291.8h0.7M88.4 284.7h0.7M87.2 279.9h0.7M96.7 281.7h0.7M88.5 283.1h0.7M93.3 280.3h0.7M86.1 284.5h0.7M94.4 282.7h0.7M87.4 283.0h0.7M93.4 283.4h0.7M86.6 291.2h0.7M91.7 278.2h0.7M92.8 287.8h0.7M87.0 279.9h0.7M92.6 280.8h0.7M87.2 285.0h0.7M86.9 290.8h0.7M83.5 291.7h0.7M92.8 287.6h0.7M91.0 285.0h0.7M87.2 285.8h0.7M84.4 296.7h0.7M87.5 281.1h0.7M91.5 290.8h0.7M89.2 283.4h0.7M83.4 292.3h0.7M87.0 283.2h0.7M90.5 277.6h0.7M91.1 271.5h0.7M85.5 280.5h0.7M87.0 290.5h0.7M82.6 296.4h0.7M85.2 285.4h0.7M92.1 279.2h0.7M94.1 280.5h0.7M87.6 281.3h0.7M92.8 282.1h0.7M86.0 282.5h0.7M85.4 287.2h0.7M85.1 291.8h0.7M87.9 282.8h0.7M89.9 291.5h0.7M79.4 293.7h0.7M92.5 283.3h0.7M91.4 275.7h0.7M85.0 293.0h0.7M87.7 286.4h0.7M90.6 285.7h0.7M89.9 282.0h0.7M86.8 293.1h0.7M86.0 280.1h0.7M86.6 291.2h0.7M95.4 281.2h0.7M85.5 290.6h0.7M89.3 290.7h0.7M90.2 288.0h0.7M90.2 286.3h0.7M84.3 287.6h0.7M94.7 287.6h0.7M92.0 284.9h0.7M87.6 287.8h0.7M86.7 292.1h0.7M86.8 282.9h0.7M81.4 298.2h0.7M85.0 283.7h0.7M89.7 293.4h0.7M90.8 282.2h0.7M90.4 280.0h0.7M87.1 286.6h0.7M88.1 289.5h0.7M90.3 293.4h0.7M91.5 281.9h0.7M89.1 280.8h0.7M85.6 285.9h0.7M92.3 279.4h0.7M81.7 285.3h0.7M83.2 288.3h0.7M86.9 280.9h0.7M84.9 286.0h0.7M89.7 287.6h0.7M93.5 280.6h0.7M90.7 284.3h0.7M83.6 285.8h0.7M97.1 278.6h0.7M94.9 285.0h0.7M94.9 279.9h0.7M91.9 281.5h0.7M83.6 283.2h0.7M89.9 276.5h0.7M89.6 280.4h0.7M89.6 277.9h0.7M91.6 282.1h0.7M81.9 283.1h0.7M88.4 277.5h0.7M89.5 287.1h0.7M85.5 294.5h0.7M94.0 283.0h0.7M90.0 286.7h0.7M87.1 292.9h0.7M86.0 274.9h0.7M88.2 287.8h0.7M91.5 277.9h0.7M93.8 277.6h0.7M90.7 287.4h0.7M88.9 290.7h0.7M86.2 297.2h0.7M90.2 282.2h0.7M98.8 278.1h0.7M81.6 297.4h0.7M94.5 278.4h0.7M84.1 294.1h0.7M88.4 280.8h0.7M86.2 287.4h0.7M92.2 290.5h0.7M85.6 295.0h0.7M82.0 293.6h0.7M87.6 288.2h0.7M86.4 283.5h0.7M89.3 290.4h0.7M79.2 292.4h0.7M86.5 281.6h0.7M82.7 292.1h0.7M90.4 287.2h0.7M80.1 284.0h0.7M85.7 285.3h0.7M95.3 278.7h0.7M88.7 290.2h0.7M95.0 282.7h0.7M89.6 294.2h0.7M86.5 278.0h0.7M85.1 286.3h0.7M93.5 283.4h0.7M93.1 282.7h0.7M88.3 282.7h0.7M83.2 291.8h0.7M89.6 287.5h0.7M86.0 285.2h0.7M89.7 287.6h0.7M96.3 275.6h0.7M92.2 287.2h0.7M87.1 287.1h0.7M87.9 293.4h0.7M98.5 279.9h0.7M87.1 291.1h0.7M90.2 283.3h0.7M91.2 287.8h0.7M86.6 291.0h0.7M79.1 285.9h0.7M86.9 287.4h0.7M82.3 297.2h0.7M86.6 287.5h0.7M88.0 289.5h0.7M85.8 291.0h0.7M84.8 280.8h0.7M90.3 285.0h0.7M91.8 273.6h0.7M88.6 282.2h0.7M87.4 284.3h0.7M86.7 283.5h0.7M92.3 274.3h0.7M81.4 292.2h0.7M96.4 276.1h0.7M84.5 282.6h0.7M84.0 294.8h0.7M90.9 288.1h0.7M89.6 285.8h0.7M85.8 282.6h0.7M90.7 296.1h0.7M86.7 293.0h0.7M85.3 287.9h0.7M95.1 280.4h0.7M90.8 281.1h0.7M95.8 274.2h0.7M90.5 282.9h0.7M89.0 286.9h0.7M93.5 286.2h0.7M92.5 284.4h0.7M83.8 295.4h0.7M94.4 283.6h0.7M91.4 282.2h0.7M82.3 294.7h0.7M85.2 297.2h0.7M91.0 283.6h0.7M85.7 288.0h0.7M84.1 286.8h0.7M94.7 279.6h0.7M95.6 279.9h0.7M89.9 279.9h0.7M87.0 284.4h0.7M82.5 299.3h0.7M90.6 283.6h0.7M83.7 289.0h0.7M83.9 284.0h0.7M87.4 296.9h0.7M81.1 293.5h0.7M85.9 272.9h0.7M82.4 289.1h0.7M88.4 281.8h0.7M95.4 283.2h0.7M85.6 279.4h0.7M88.9 281.9h0.7M92.3 277.6h0.7M93.0 279.9h0.7M89.0 283.8h0.7M90.7 289.6h0.7M85.9 282.8h0.7M95.9 284.9h0.7M95.9 284.9h0.7M88.7 293.4h0.7M85.4 285.5h0.7M86.5 290.3h0.7M84.7 287.3h0.7M84.7 287.0h0.7M92.7 287.9h0.7M87.3 299.0h0.7M85.3 290.0h0.7M86.2 276.1h0.7M83.3 295.3h0.7M81.4 305.0h0.7M87.6 287.4h0.7M93.3 282.2h0.7M85.6 284.5h0.7M84.3 291.2h0.7M86.2 289.6h0.7M82.0 287.9h0.7M96.5 281.5h0.7M87.7 291.9h0.7M89.3 292.5h0.7M83.4 292.9h0.7M83.8 292.2h0.7M98.2 286.1h0.7M84.6 290.3h0.7M90.0 280.8h0.7M89.1 279.7h0.7M92.1 287.4h0.7M87.5 289.6h0.7M97.9 278.0h0.7M80.5 292.8h0.7M86.3 283.2h0.7M91.8 288.1h0.7M90.6 292.1h0.7M85.5 285.5h0.7M89.8 271.1h0.7M77.0 295.4h0.7M87.3 286.6h0.7M84.2 289.7h0.7M92.4 279.5h0.7M90.4 283.3h0.7M87.5 286.8h0.7M94.3 283.9h0.7M90.9 284.5h0.7M79.3 296.7h0.7M88.0 286.3h0.7M86.0 279.5h0.7M94.2 290.5h0.7M94.5 272.0h0.7M90.4 278.3h0.7M87.3 283.7h0.7M85.6 283.7h0.7M86.1 291.0h0.7M94.7 285.6h0.7M88.1 285.1h0.7M87.1 286.4h0.7M85.6 286.7h0.7M91.6 282.1h0.7M84.8 287.5h0.7M88.4 285.1h0.7M87.0 290.0h0.7M87.9 280.9h0.7M90.4 280.5h0.7M91.3 287.5h0.7M90.1 285.9h0.7M82.6 288.7h0.7M88.6 288.6h0.7M83.5 288.3h0.7M81.8 291.1h0.7M88.4 286.1h0.7M94.9 284.6h0.7M87.3 283.4h0.7M86.3 290.9h0.7M91.8 280.6h0.7M87.6 283.9h0.7M90.9 284.7h0.7M85.1 283.5h0.7M93.4 275.0h0.7M80.6 275.8h0.7M96.4 277.1h0.7M91.6 286.0h0.7M91.5 288.9h0.7M86.2 287.0h0.7M92.1 285.6h0.7M85.0 284.2h0.7M82.1 291.3h0.7M85.9 279.6h0.7M85.8 289.0h0.7M88.8 284.1h0.7M88.7 288.5h0.7M83.1 285.2h0.7M92.1 286.5h0.7M82.3 286.3h0.7M94.1 285.2h0.7M87.5 291.3h0.7M93.7 288.7h0.7M82.3 283.4h0.7M86.0 287.0h0.7M86.6 288.0h0.7M94.2 286.8h0.7M92.2 282.8h0.7M94.9 283.2h0.7M89.1 284.9h0.7M80.5 301.9h0.7M88.0 290.3h0.7M97.4 278.1h0.7M83.3 294.2h0.7M89.1 280.4h0.7M92.1 283.0h0.7M84.2 276.0h0.7M84.0 290.6h0.7M83.8 293.6h0.7M97.2 280.8h0.7M89.0 284.7h0.7M91.6 283.4h0.7M92.4 289.7h0.7M91.6 278.5h0.7M90.8 282.5h0.7M89.4 289.6h0.7M85.3 288.7h0.7M94.2 277.3h0.7M87.3 289.9h0.7M87.1 291.5h0.7M83.9 281.3h0.7M89.6 284.0h0.7M89.4 289.6h0.7M92.4 280.9h0.7M86.5 277.3h0.7M84.0 289.9h0.7M89.0 277.8h0.7M91.3 283.2h0.7M92.6 280.8h0.7M92.1 277.4h0.7M80.4 287.3h0.7M91.0 285.7h0.7M80.2 292.1h0.7M90.9 292.1h0.7M91.3 286.0h0.7M81.5 292.3h0.7M79.9 290.1h0.7M86.5 282.1h0.7M83.9 288.1h0.7M90.5 280.8h0.7M89.3 288.4h0.7M88.0 295.3h0.7M86.8 283.1h0.7M80.2 296.7h0.7M90.9 282.8h0.7M89.4 284.2h0.7M91.7 283.1h0.7M89.0 284.7h0.7M84.4 277.4h0.7M90.3 278.0h0.7M89.7 287.7h0.7M95.9 276.5h0.7M88.7 290.0h0.7M85.3 284.8h0.7M89.9 294.6h0.7M92.6 287.3h0.7M84.1 291.9h0.7M92.8 276.2h0.7M88.1 284.8h0.7M90.8 275.3h0.7M91.0 283.7h0.7M87.0 276.1h0.7M79.5 289.2h0.7M90.8 285.9h0.7M91.2 275.2h0.7M88.9 291.8h0.7M81.6 293.6h0.7M85.0 290.6h0.7M88.5 277.5h0.7M83.7 295.1h0.7M87.6 292.2h0.7M89.5 289.2h0.7M86.4 288.0h0.7M86.5 291.3h0.7M85.7 292.9h0.7M94.6 275.1h0.7M87.4 288.9h0.7M95.4 286.2h0.7M88.4 277.0h0.7M91.6 280.4h0.7M88.9 287.2h0.7M82.2 295.2h0.7M91.9 285.9h0.7M90.5 285.7h0.7M82.3 287.4h0.7M91.5 281.7h0.7M88.2 287.5h0.7M88.4 286.8h0.7M90.1 284.3h0.7M83.5 287.7h0.7M92.0 279.6h0.7M90.0 285.9h0.7M84.4 274.5h0.7M88.0 282.0h0.7M85.5 292.2h0.7M84.9 289.8h0.7M88.5 286.4h0.7M96.3 270.2h0.7M92.1 282.2h0.7M86.9 283.3h0.7M88.2 285.9h0.7M84.3 296.5h0.7M85.0 287.3h0.7M82.8 290.3h0.7" stroke="#111" stroke-width="0.7" fill="none"/>
<path d="M90.2 293.2h0.55M93.9 281.1h0.55M97.6 282.1h0.55M97.3 294.3h0.55M85.7 280.9h0.55M91.3 295.1h0.55M90.4 293.2h0.55M91.6 291.3h0.55M95.9 281.6h0.55M79.7 289.9h0.55M83.4 281.1h0.55M87.1 292.1h0.55M77.2 281.7h0.55M92.8 279.0h0.55M85.8 297.0h0.55M94.7 286.4h0.55M91.4 288.1h0.55M79.8 291.8h0.55M90.8 285.0h0.55M92.8 290.8h0.55M88.4 285.2h0.55M81.1 297.6h0.55M84.7 290.6h0.55M97.2 288.1h0.55M80.6 289.7h0.55M83.9 277.9h0.55M83.3 292.9h0.55M90.1 284.7h0.55M89.1 278.8h0.55M83.5 287.9h0.55M92.8 282.8h0.55M87.1 289.6h0.55M96.8 274.8h0.55M91.2 286.8h0.55M87.7 288.8h0.55M86.7 279.4h0.55M93.1 284.0h0.55M86.0 292.9h0.55M82.6 284.6h0.55M93.0 290.6h0.55M100.0 278.7h0.55M79.5 280.9h0.55M81.0 290.8h0.55M86.7 283.1h0.55M82.1 285.0h0.55M85.9 295.8h0.55M91.8 294.4h0.55M92.9 289.9h0.55M95.0 286.9h0.55M97.2 290.5h0.55M98.8 283.7h0.55M86.4 291.2h0.55M85.8 283.4h0.55M90.6 278.5h0.55M87.1 296.7h0.55M88.8 292.1h0.55M91.8 287.9h0.55M88.7 290.8h0.55M82.3 293.3h0.55M81.7 284.8h0.55M84.6 279.7h0.55M91.0 290.0h0.55M101.1 282.4h0.55M92.5 280.1h0.55M92.2 277.6h0.55M99.7 275.5h0.55M85.6 293.0h0.55M82.4 290.8h0.55M93.8 285.5h0.55M93.6 281.2h0.55M97.0 278.7h0.55M82.9 289.3h0.55M98.1 277.9h0.55M87.9 284.7h0.55M82.5 280.8h0.55M91.5 290.1h0.55M83.6 290.4h0.55M90.7 288.3h0.55M87.1 287.7h0.55M89.7 279.2h0.55M87.2 292.6h0.55M84.7 297.1h0.55M86.6 280.3h0.55M86.3 278.8h0.55M91.6 274.9h0.55M88.1 285.4h0.55M86.2 290.6h0.55M89.7 282.6h0.55M92.9 281.9h0.55M93.3 293.5h0.55M90.3 292.1h0.55M80.1 294.2h0.55M79.2 289.7h0.55M83.4 283.9h0.55M82.5 289.6h0.55M91.8 277.7h0.55M84.3 276.3h0.55M83.9 275.0h0.55M79.1 294.0h0.55M93.2 279.4h0.55M90.1 281.0h0.55M94.3 295.8h0.55M84.2 285.5h0.55M97.3 293.3h0.55M87.9 291.3h0.55M78.6 289.1h0.55M86.3 286.7h0.55M89.8 275.9h0.55M81.8 303.8h0.55M77.8 291.9h0.55M92.3 288.4h0.55M88.3 276.2h0.55M85.2 277.9h0.55M99.6 284.3h0.55M92.3 286.5h0.55M85.7 295.8h0.55M93.2 288.9h0.55M91.5 290.4h0.55M86.4 290.6h0.55M88.5 285.1h0.55M91.8 299.5h0.55M85.4 296.1h0.55M82.0 288.4h0.55M94.1 283.9h0.55M90.1 278.1h0.55M81.2 301.0h0.55M88.9 286.0h0.55M79.8 283.7h0.55M81.9 289.3h0.55M87.3 283.3h0.55M84.0 289.5h0.55M94.9 274.7h0.55M79.6 298.1h0.55M79.6 288.0h0.55M88.7 298.7h0.55M87.5 294.3h0.55M88.8 281.3h0.55M92.9 294.7h0.55M86.8 293.0h0.55M81.8 299.5h0.55M84.2 283.4h0.55M83.5 277.3h0.55M92.0 298.5h0.55M79.5 289.4h0.55M90.7 282.1h0.55M78.8 293.3h0.55M93.9 285.1h0.55M81.7 287.8h0.55M95.2 291.2h0.55M87.5 290.1h0.55M84.9 289.2h0.55M84.5 289.6h0.55M84.9 289.6h0.55M92.1 285.1h0.55M80.3 293.7h0.55M86.5 284.4h0.55M91.3 280.0h0.55M93.5 288.3h0.55M83.9 284.2h0.55M87.3 281.3h0.55M88.9 284.3h0.55M81.5 294.0h0.55M85.1 291.3h0.55M85.4 286.3h0.55M91.1 292.0h0.55M93.9 284.3h0.55M96.8 280.9h0.55M80.0 278.1h0.55M79.5 285.0h0.55M77.5 293.8h0.55M88.2 286.7h0.55M89.4 285.7h0.55M86.5 285.5h0.55M88.2 279.4h0.55M95.6 293.9h0.55M88.2 302.0h0.55M82.3 295.5h0.55M78.4 295.2h0.55M83.6 295.6h0.55M88.7 293.0h0.55M91.6 288.9h0.55M86.4 298.3h0.55M90.1 289.3h0.55M96.5 281.6h0.55M98.3 289.7h0.55M88.5 277.2h0.55M95.2 281.8h0.55M88.6 287.6h0.55M93.6 288.7h0.55M77.3 287.3h0.55M90.1 287.2h0.55M92.7 288.7h0.55M97.6 278.0h0.55M95.7 286.2h0.55M89.8 290.8h0.55M86.0 292.6h0.55M86.8 292.3h0.55M83.5 296.8h0.55M79.0 286.6h0.55M87.7 288.7h0.55M83.3 286.4h0.55M89.5 293.3h0.55M95.7 280.5h0.55M87.6 285.1h0.55M79.0 288.0h0.55M94.7 275.1h0.55M98.2 283.8h0.55M97.4 279.1h0.55M95.5 288.8h0.55M92.7 289.9h0.55M91.5 289.8h0.55M95.1 286.7h0.55M91.8 288.2h0.55M88.9 280.9h0.55M77.5 284.9h0.55M80.7 280.4h0.55M92.1 283.0h0.55M95.5 304.5h0.55M92.6 281.9h0.55M90.3 284.7h0.55M54.4 294.9h0.55M43.4 294.7h0.55M54.1 285.9h0.55M45.5 260.1h0.55M85.7 265.6h0.55M111.7 215.4h0.55M97.8 293.9h0.55M81.0 234.6h0.55M105.8 253.3h0.55M57.5 286.2h0.55M102.8 291.1h0.55M78.4 213.4h0.55M36.1 265.0h0.55M37.3 271.7h0.55M46.0 286.5h0.55M35.8 278.3h0.55M54.1 307.9h0.55M76.7 261.6h0.55M110.4 239.2h0.55M121.4 240.3h0.55M37.3 238.9h0.55M67.1 269.3h0.55M40.0 298.9h0.55M104.0 283.6h0.55M123.0 217.0h0.55" stroke="#666" stroke-width="0.55" fill="none"/>
<rect x="33.2" y="210.2" width="92.6" height="99.60000000000002" fill="none" stroke="#6c6c6c" stroke-width="0.85"/>
<line x1="74.6" y1="210.2" x2="74.6" y2="309.8" stroke="#444" stroke-width="0.9"/>
<line x1="33.2" y1="270.3" x2="125.8" y2="270.3" stroke="#444" stroke-width="0.9"/>
<rect x="42.5" y="227.8" width="26.700000000000003" height="39.599999999999966" fill="none" stroke="#222" stroke-width="0.9"/>
<rect x="76.6" y="227.8" width="27.400000000000006" height="39.599999999999966" fill="none" stroke="#222" stroke-width="0.9"/>
<rect x="76.6" y="272.6" width="27.400000000000006" height="33.799999999999955" fill="none" stroke="#222" stroke-width="0.9"/>
<line x1="53.2" y1="202.3" x2="53.2" y2="227.8" stroke="#222" stroke-width="1.0"/>
<line x1="104" y1="243.6" x2="127.90" y2="243.60" stroke="#111" stroke-width="0.8"/>
<polygon points="131.5,243.6 127.90,245.30 127.90,241.90" fill="#111"/>
<line x1="104" y1="294.9" x2="128.40" y2="294.90" stroke="#111" stroke-width="0.8"/>
<polygon points="132,294.9 128.40,296.60 128.40,293.20" fill="#111"/>
<line x1="18.6" y1="301" x2="18.60" y2="218.10" stroke="#111" stroke-width="0.8"/>
<polygon points="18.6,214.5 20.30,218.10 16.90,218.10" fill="#111"/>
<line x1="40" y1="321.0" x2="116.90" y2="321.00" stroke="#111" stroke-width="1.0"/>
<polygon points="120.5,321.0 116.90,322.70 116.90,319.30" fill="#111"/>
<text x="41.4" y="203.6" font-size="6.3" text-anchor="start" fill="#222" >WC1.2<tspan dy="-2.2" font-size="4.2">+</tspan><tspan dy="2.2"> cells</tspan></text>
<text x="132.8" y="245.9" font-size="6.3" text-anchor="start" fill="#222" >WC1.1<tspan dy="-2.2" font-size="4.2">+</tspan><tspan dy="2.2">/WC1.2</tspan><tspan dy="-2.2" font-size="4.2">+</tspan><tspan dy="2.2" dx="3.2">cells</tspan></text>
<text x="133.6" y="297.2" font-size="6.3" text-anchor="start" fill="#222" >WC1.1<tspan dy="-2.2" font-size="4.2">+</tspan><tspan dy="2.2"> cells</tspan></text>
<text font-size="6.3" text-anchor="middle" fill="#222" transform="translate(12.3 257.5) rotate(-90)" >mAb CACTB32A</text>
<text x="82" y="328.3" font-size="6.4" text-anchor="middle" fill="#222" >mAb<tspan dx="3.4">BAG25A</tspan></text>
<text x="27.7" y="222.6" font-size="6.1" text-anchor="middle" fill="#222" >10<tspan dy="-2.1" font-size="3.8">5</tspan></text>
<text x="27.7" y="249.0" font-size="6.1" text-anchor="middle" fill="#222" >10<tspan dy="-2.1" font-size="3.8">4</tspan></text>
<text x="27.7" y="273.0" font-size="6.1" text-anchor="middle" fill="#222" >10<tspan dy="-2.1" font-size="3.8">3</tspan></text>
<text x="27.7" y="297.4" font-size="6.1" text-anchor="middle" fill="#222" >10<tspan dy="-2.1" font-size="3.8">2</tspan></text>
<text x="49.3" y="316.2" font-size="6.1" text-anchor="middle" fill="#222" >10<tspan dy="-2.1" font-size="3.8">2</tspan></text>
<text x="73.4" y="316.2" font-size="6.1" text-anchor="middle" fill="#222" >10<tspan dy="-2.1" font-size="3.8">3</tspan></text>
<text x="96.3" y="316.2" font-size="6.1" text-anchor="middle" fill="#222" >10<tspan dy="-2.1" font-size="3.8">4</tspan></text>
<text x="118.3" y="316.2" font-size="6.1" text-anchor="middle" fill="#222" >10<tspan dy="-2.1" font-size="3.8">5</tspan></text>
<path d="M33.2 308.7h-1.2M35.4 309.8v1.2M33.2 304.6h-1.2M38.3 309.8v1.2M33.2 301.7h-1.2M40.6 309.8v1.2M33.2 299.4h-1.2M42.5 309.8v1.2M33.2 297.5h-1.2M44.1 309.8v1.2M33.2 295.9h-1.2M45.4 309.8v1.2M33.2 294.6h-1.2M46.6 309.8v1.2M33.2 293.4h-1.2M47.7 309.8v1.8M33.2 292.3h-1.8M54.8 309.8v1.2M33.2 285.2h-1.2M58.9 309.8v1.2M33.2 281.1h-1.2M61.8 309.8v1.2M33.2 278.2h-1.2M64.1 309.8v1.2M33.2 275.9h-1.2M66.0 309.8v1.2M33.2 274.0h-1.2M67.6 309.8v1.2M33.2 272.4h-1.2M68.9 309.8v1.2M33.2 271.1h-1.2M70.1 309.8v1.2M33.2 269.9h-1.2M71.2 309.8v1.8M33.2 268.8h-1.8M78.3 309.8v1.2M33.2 261.7h-1.2M82.4 309.8v1.2M33.2 257.6h-1.2M85.3 309.8v1.2M33.2 254.7h-1.2M87.6 309.8v1.2M33.2 252.4h-1.2M89.5 309.8v1.2M33.2 250.5h-1.2M91.1 309.8v1.2M33.2 248.9h-1.2M92.4 309.8v1.2M33.2 247.6h-1.2M93.6 309.8v1.2M33.2 246.4h-1.2M94.7 309.8v1.8M33.2 245.3h-1.8M101.8 309.8v1.2M33.2 238.2h-1.2M105.9 309.8v1.2M33.2 234.1h-1.2M108.8 309.8v1.2M33.2 231.2h-1.2M111.1 309.8v1.2M33.2 228.9h-1.2M113.0 309.8v1.2M33.2 227.0h-1.2M114.6 309.8v1.2M33.2 225.4h-1.2M115.9 309.8v1.2M33.2 224.1h-1.2M117.1 309.8v1.2M33.2 222.9h-1.2M118.2 309.8v1.8M33.2 221.8h-1.8M125.3 309.8v1.2M33.2 214.7h-1.2" stroke="#444" stroke-width="0.45" fill="none"/>
<path d="M235.7 284.3h0.7M241.3 301.3h0.7M239.1 303.9h0.7M239.1 289.8h0.7M239.0 298.1h0.7M235.9 290.9h0.7M240.4 300.7h0.7M238.2 298.4h0.7M237.0 293.5h0.7M240.1 301.2h0.7M246.4 294.8h0.7M243.0 293.4h0.7M241.1 287.1h0.7M236.0 287.6h0.7M243.9 292.9h0.7M239.6 296.0h0.7M238.3 288.6h0.7M248.0 283.8h0.7M239.1 299.6h0.7M238.3 294.9h0.7M240.7 296.9h0.7M237.7 301.9h0.7M241.5 304.4h0.7M239.7 283.8h0.7M231.8 292.5h0.7M241.3 285.9h0.7M236.7 302.9h0.7M240.8 291.3h0.7M238.8 296.2h0.7M237.4 293.7h0.7M236.4 296.8h0.7M246.4 304.1h0.7M238.7 287.3h0.7M232.6 296.4h0.7M240.3 291.8h0.7M235.7 294.3h0.7M240.4 299.5h0.7M241.8 281.5h0.7M236.6 297.1h0.7M240.9 300.3h0.7M232.6 304.8h0.7M233.9 294.3h0.7M237.2 292.7h0.7M235.8 300.4h0.7M242.8 297.6h0.7M233.6 291.8h0.7M239.0 297.9h0.7M236.8 294.0h0.7M251.0 295.9h0.7M237.9 281.0h0.7M235.9 305.2h0.7M243.1 288.5h0.7M242.8 296.5h0.7M235.7 300.2h0.7M236.6 293.8h0.7M239.4 296.8h0.7M237.3 297.3h0.7M239.3 296.7h0.7M241.0 291.8h0.7M233.2 295.1h0.7M244.8 297.5h0.7M240.3 291.2h0.7M234.2 288.2h0.7M235.2 293.3h0.7M232.4 294.8h0.7M232.3 299.4h0.7M239.2 285.2h0.7M236.8 296.9h0.7M241.0 300.1h0.7M237.7 294.7h0.7M238.2 298.8h0.7M236.2 294.6h0.7M239.9 293.5h0.7M234.5 303.6h0.7M241.5 290.2h0.7M248.0 291.0h0.7M235.4 293.4h0.7M241.7 304.4h0.7M245.4 298.8h0.7M239.6 299.5h0.7M235.8 291.4h0.7M241.6 296.7h0.7M240.3 289.5h0.7M240.4 287.0h0.7M243.4 295.6h0.7M236.4 292.8h0.7M236.2 303.6h0.7M239.4 297.1h0.7M235.0 287.8h0.7M240.3 292.9h0.7M241.5 301.8h0.7M238.8 298.7h0.7M240.1 296.9h0.7M237.0 297.0h0.7M241.2 296.0h0.7M237.3 287.0h0.7M234.5 304.8h0.7M243.8 297.3h0.7M240.6 294.7h0.7M242.3 301.2h0.7M238.2 297.4h0.7M243.5 286.2h0.7M235.1 292.2h0.7M234.1 293.0h0.7M235.5 293.2h0.7M241.4 288.6h0.7M239.7 303.7h0.7M240.1 288.3h0.7M236.6 302.4h0.7M238.1 291.8h0.7M242.8 291.3h0.7M234.3 299.2h0.7M239.4 291.7h0.7M241.4 302.1h0.7M244.1 296.2h0.7M241.3 298.5h0.7M232.7 305.4h0.7M236.4 292.3h0.7M235.6 289.9h0.7M244.2 295.6h0.7M236.7 284.8h0.7M240.0 295.3h0.7M234.7 295.0h0.7M233.9 298.5h0.7M239.7 283.0h0.7M234.3 291.7h0.7M242.8 299.1h0.7M242.1 305.4h0.7M238.0 292.6h0.7M241.8 290.6h0.7M235.4 301.2h0.7M245.0 285.0h0.7M241.4 295.5h0.7M243.3 293.6h0.7M238.8 303.9h0.7M236.7 298.0h0.7M242.1 294.9h0.7M243.2 298.6h0.7M243.0 285.5h0.7M234.7 297.3h0.7M244.5 304.0h0.7M239.4 291.2h0.7M234.5 284.1h0.7M237.1 299.0h0.7M239.0 286.8h0.7M238.9 295.9h0.7M236.0 304.2h0.7M241.2 302.1h0.7M239.7 289.8h0.7M244.1 302.1h0.7M236.7 287.7h0.7M242.9 292.2h0.7M234.2 295.1h0.7M241.7 291.1h0.7M239.5 301.4h0.7M242.6 286.4h0.7M242.5 306.0h0.7M243.4 295.1h0.7M240.9 286.3h0.7M236.7 292.5h0.7M248.5 295.6h0.7M235.0 305.6h0.7M244.7 285.8h0.7M238.4 285.6h0.7M243.9 282.1h0.7M247.5 289.3h0.7M241.7 297.7h0.7M243.1 289.7h0.7M243.2 293.9h0.7M241.6 296.9h0.7M245.4 288.0h0.7M233.2 299.4h0.7M249.7 298.8h0.7M238.6 299.5h0.7M234.0 296.1h0.7M231.9 296.3h0.7M242.5 305.6h0.7M237.1 301.1h0.7M245.2 289.4h0.7M238.1 284.6h0.7M235.4 298.2h0.7M242.5 304.1h0.7M236.6 281.9h0.7M234.8 299.1h0.7M239.2 299.7h0.7M238.0 299.5h0.7M235.0 289.8h0.7M238.6 285.2h0.7M244.7 294.1h0.7M235.0 290.4h0.7M235.0 296.3h0.7M237.7 300.7h0.7M234.2 295.1h0.7M232.7 292.8h0.7M245.3 294.8h0.7M243.2 295.2h0.7M234.5 290.3h0.7M234.3 297.6h0.7M246.6 300.6h0.7M235.0 296.2h0.7M236.1 302.5h0.7M233.4 300.1h0.7M233.9 292.8h0.7M240.0 296.4h0.7M239.0 295.2h0.7M235.5 294.9h0.7M239.0 290.0h0.7M241.8 296.6h0.7M236.0 303.3h0.7M236.8 284.3h0.7M244.8 293.3h0.7M245.7 298.1h0.7M235.4 302.2h0.7M241.3 301.1h0.7M239.5 304.8h0.7M243.4 293.6h0.7M232.7 295.3h0.7M239.6 289.7h0.7M238.4 304.5h0.7M237.2 302.3h0.7M235.2 289.8h0.7M243.4 294.5h0.7M240.2 301.7h0.7M246.4 288.2h0.7M241.8 296.9h0.7M238.2 292.0h0.7M241.5 283.5h0.7M240.9 290.2h0.7M240.7 291.1h0.7M241.5 294.1h0.7M236.1 298.8h0.7M242.6 286.0h0.7M233.6 294.0h0.7M237.6 303.5h0.7M246.2 298.4h0.7M244.1 293.6h0.7M233.3 297.4h0.7M240.4 302.5h0.7M236.4 285.9h0.7M238.4 298.5h0.7M238.3 292.5h0.7M239.6 294.4h0.7M245.4 287.7h0.7M240.5 286.4h0.7M239.1 298.2h0.7M240.7 297.4h0.7M236.0 286.9h0.7M243.5 293.5h0.7M233.2 304.8h0.7M242.5 278.8h0.7M250.6 296.4h0.7M232.2 301.3h0.7M240.7 303.0h0.7M239.3 285.6h0.7M238.5 293.0h0.7M240.5 294.4h0.7M241.7 288.3h0.7M236.8 292.5h0.7M241.1 285.3h0.7M239.7 301.5h0.7M239.5 297.1h0.7M240.9 298.3h0.7M234.0 294.7h0.7M247.3 304.0h0.7M235.5 289.9h0.7M238.5 301.9h0.7M243.3 292.0h0.7M231.9 302.7h0.7M245.8 299.5h0.7M241.9 298.9h0.7M247.4 302.0h0.7M245.6 288.7h0.7M237.0 295.5h0.7M239.2 295.1h0.7M250.4 294.3h0.7M238.4 294.8h0.7M237.7 287.0h0.7M244.2 295.7h0.7M240.8 295.7h0.7M235.8 286.0h0.7M238.0 298.7h0.7M238.7 299.9h0.7M235.8 293.8h0.7M239.9 294.9h0.7M240.0 304.1h0.7M237.4 296.3h0.7M236.4 298.8h0.7M240.2 291.1h0.7M234.8 288.4h0.7M238.0 296.4h0.7M237.1 294.9h0.7M239.8 296.8h0.7M247.8 297.8h0.7M242.1 292.5h0.7M236.8 300.2h0.7M236.6 291.6h0.7M232.6 297.3h0.7M238.8 298.8h0.7M235.4 288.1h0.7M244.1 295.7h0.7M242.7 288.7h0.7M233.5 280.4h0.7M240.5 301.4h0.7M245.1 306.1h0.7M236.9 290.8h0.7M238.3 290.7h0.7M232.7 295.3h0.7M239.8 290.9h0.7M239.4 287.7h0.7M237.8 293.5h0.7M237.2 295.1h0.7M233.6 287.5h0.7M235.5 299.9h0.7M235.0 289.9h0.7M248.0 294.0h0.7M237.5 290.2h0.7M245.7 298.7h0.7M240.4 305.0h0.7M233.9 285.4h0.7M244.1 298.1h0.7M236.9 300.3h0.7M233.6 297.7h0.7M243.5 300.8h0.7M237.6 293.1h0.7M237.3 299.6h0.7M237.4 294.7h0.7M243.7 294.8h0.7M240.3 294.8h0.7M239.2 282.2h0.7M235.1 297.7h0.7M236.4 291.8h0.7M235.8 289.8h0.7M239.0 290.5h0.7M237.4 301.4h0.7M243.7 297.7h0.7M244.3 301.6h0.7M237.2 300.3h0.7M239.9 300.1h0.7M233.6 297.7h0.7M236.9 293.3h0.7M239.1 295.2h0.7M246.8 295.2h0.7M240.3 301.9h0.7M245.9 289.7h0.7M240.5 287.5h0.7M241.4 304.0h0.7M236.9 293.8h0.7M244.5 298.1h0.7M242.8 292.8h0.7M237.8 293.3h0.7M246.1 286.5h0.7M236.9 304.9h0.7M238.9 288.9h0.7M240.2 294.2h0.7M238.7 298.5h0.7M242.7 286.5h0.7M240.1 304.5h0.7M233.3 294.9h0.7M234.1 299.5h0.7M235.4 293.5h0.7M237.4 298.2h0.7M233.4 287.1h0.7M240.0 303.7h0.7M237.0 298.0h0.7M240.4 296.2h0.7M239.1 292.2h0.7M238.1 302.8h0.7M241.2 303.2h0.7M236.0 296.2h0.7M236.3 287.5h0.7M243.2 293.8h0.7M240.3 287.0h0.7M238.1 294.8h0.7M237.5 301.6h0.7M241.2 296.3h0.7M240.2 292.8h0.7M236.0 293.8h0.7M234.7 294.5h0.7M238.7 302.3h0.7M236.9 296.3h0.7M239.1 291.8h0.7M238.9 284.8h0.7M244.1 292.0h0.7M239.1 284.5h0.7M241.7 287.7h0.7M245.2 289.2h0.7M235.9 299.5h0.7M244.8 283.5h0.7M231.7 305.3h0.7M241.1 286.3h0.7M237.3 299.7h0.7M237.5 304.6h0.7M236.0 296.5h0.7M244.3 304.5h0.7M240.2 299.0h0.7M237.7 295.1h0.7M236.6 297.9h0.7M242.9 289.4h0.7M234.0 295.8h0.7M248.0 296.9h0.7M239.8 295.2h0.7M231.8 291.2h0.7M245.8 282.7h0.7M247.1 288.2h0.7M245.8 294.6h0.7M241.8 292.2h0.7M237.2 296.7h0.7M237.8 288.9h0.7M237.9 299.4h0.7M235.8 297.7h0.7M233.2 296.1h0.7M234.1 300.2h0.7M234.6 299.2h0.7M244.0 290.4h0.7M239.4 290.2h0.7M241.3 300.1h0.7M244.2 303.6h0.7M244.9 291.0h0.7M239.7 298.7h0.7M240.0 287.5h0.7M239.4 279.6h0.7M247.2 294.4h0.7M249.1 289.1h0.7M241.5 300.3h0.7M232.8 293.5h0.7M241.3 299.5h0.7M240.9 279.5h0.7M246.2 286.1h0.7M240.9 301.2h0.7M234.9 285.8h0.7M240.3 292.8h0.7M238.7 294.2h0.7M238.6 297.4h0.7M236.8 295.3h0.7M236.7 290.2h0.7M240.7 290.4h0.7M241.5 295.3h0.7M243.9 299.1h0.7M242.1 296.2h0.7M239.3 302.1h0.7M242.1 287.2h0.7M239.6 301.6h0.7M239.8 287.6h0.7M242.6 299.2h0.7M244.2 296.5h0.7M239.7 300.7h0.7M234.3 306.0h0.7M240.9 296.8h0.7M242.5 300.3h0.7M238.7 290.6h0.7M243.1 301.2h0.7M240.8 291.7h0.7M239.6 289.6h0.7M250.3 291.4h0.7M243.0 305.5h0.7M235.4 292.2h0.7M233.3 296.4h0.7M238.2 295.5h0.7M239.3 292.6h0.7M239.6 295.1h0.7M236.0 293.5h0.7M236.6 287.5h0.7M239.0 284.0h0.7M241.5 295.3h0.7M239.9 302.6h0.7M243.4 292.8h0.7M240.7 302.8h0.7M238.5 297.8h0.7M241.0 289.1h0.7M240.4 293.1h0.7M238.0 298.1h0.7M242.0 289.9h0.7M238.0 294.3h0.7M235.0 297.8h0.7M238.2 291.1h0.7M243.3 295.0h0.7M234.0 294.9h0.7M238.3 297.3h0.7M249.1 298.8h0.7M245.5 294.4h0.7M241.2 298.5h0.7M238.7 297.0h0.7M237.2 299.7h0.7M235.2 306.0h0.7M238.6 297.7h0.7M239.8 285.5h0.7M241.0 290.0h0.7M240.0 292.9h0.7M237.9 286.1h0.7M233.4 292.1h0.7M234.4 297.0h0.7M233.0 296.8h0.7M241.6 290.9h0.7M234.9 293.3h0.7M242.6 304.0h0.7M248.6 296.0h0.7M241.9 296.7h0.7M239.1 288.9h0.7M237.6 302.3h0.7M245.2 291.8h0.7M239.3 298.3h0.7M238.4 284.4h0.7M240.5 289.5h0.7M237.9 291.6h0.7M245.8 283.5h0.7M232.3 292.4h0.7M236.2 300.2h0.7M246.0 291.0h0.7M241.6 294.2h0.7M246.8 290.4h0.7M241.9 292.3h0.7M238.7 292.6h0.7M238.5 295.7h0.7M236.4 297.2h0.7M233.4 300.5h0.7M234.9 284.0h0.7M242.8 293.4h0.7M236.8 301.1h0.7M241.0 286.7h0.7M236.9 291.4h0.7M237.9 305.8h0.7M251.1 306.0h0.7M241.1 298.8h0.7M239.9 281.9h0.7M236.8 295.3h0.7M236.0 294.2h0.7M235.3 288.5h0.7M244.5 283.5h0.7M243.7 288.4h0.7M238.0 283.1h0.7M242.0 289.3h0.7M250.1 289.7h0.7M240.2 299.5h0.7M234.8 290.4h0.7M234.4 298.9h0.7M240.4 301.7h0.7M232.8 289.8h0.7M238.6 292.7h0.7M240.5 302.4h0.7M239.7 290.6h0.7M239.0 291.0h0.7M238.2 295.1h0.7M233.6 296.9h0.7M242.3 299.7h0.7M234.0 296.1h0.7M243.2 292.6h0.7M242.2 292.4h0.7M239.1 291.9h0.7M232.6 290.3h0.7M239.9 293.7h0.7M239.1 291.9h0.7M243.0 294.4h0.7M240.9 292.5h0.7M244.9 294.8h0.7M241.0 285.9h0.7M236.2 297.5h0.7M233.3 286.4h0.7M238.6 285.8h0.7M243.9 298.1h0.7M237.8 302.9h0.7M236.1 288.2h0.7M243.1 295.6h0.7M238.1 301.8h0.7M238.5 299.5h0.7M240.1 302.6h0.7M241.6 292.6h0.7M245.8 293.3h0.7M246.8 287.7h0.7M239.4 281.7h0.7M241.4 303.7h0.7M237.4 298.4h0.7M238.2 304.3h0.7M240.6 297.7h0.7M244.0 286.1h0.7M242.2 296.3h0.7M244.9 295.7h0.7M241.8 295.1h0.7M234.8 292.4h0.7M238.4 287.3h0.7M239.0 292.6h0.7M247.2 294.0h0.7M239.7 296.1h0.7M242.2 285.6h0.7M235.5 290.0h0.7M244.3 297.3h0.7M235.6 300.1h0.7M234.2 305.5h0.7M237.8 297.5h0.7M235.0 294.9h0.7M248.6 282.9h0.7M237.0 297.2h0.7M238.2 298.2h0.7M244.3 288.5h0.7M236.3 303.6h0.7M247.8 279.1h0.7M241.6 301.6h0.7M236.2 290.1h0.7M234.2 294.3h0.7M234.1 299.9h0.7M236.2 298.7h0.7M232.3 300.9h0.7M242.1 301.3h0.7M243.4 295.8h0.7M246.3 293.3h0.7M239.9 305.6h0.7M237.2 295.5h0.7M240.3 296.6h0.7M238.2 301.7h0.7M248.7 293.1h0.7M232.7 292.6h0.7M233.1 287.7h0.7M234.6 302.0h0.7M239.9 299.9h0.7M238.7 301.8h0.7M237.4 303.5h0.7M243.1 296.8h0.7M232.7 288.7h0.7M240.3 289.1h0.7M238.5 294.5h0.7M245.3 291.3h0.7M239.8 292.7h0.7M235.9 298.2h0.7M243.5 286.7h0.7M239.9 298.7h0.7M234.6 293.0h0.7M240.6 295.0h0.7M245.3 290.1h0.7M238.1 298.7h0.7M238.9 294.0h0.7M238.7 298.0h0.7M242.5 289.0h0.7M235.2 288.6h0.7M241.1 284.1h0.7M250.0 292.1h0.7M239.2 298.5h0.7M238.4 293.9h0.7M248.3 283.4h0.7M240.3 291.0h0.7M237.7 295.1h0.7M240.1 298.9h0.7M236.6 300.1h0.7M237.2 300.2h0.7M245.1 299.3h0.7M232.9 296.0h0.7M240.1 287.7h0.7M232.5 303.6h0.7M234.8 298.0h0.7M237.8 294.6h0.7M237.3 295.6h0.7M246.3 290.2h0.7M241.5 298.5h0.7M236.3 288.8h0.7M235.3 299.0h0.7M239.9 301.8h0.7M240.8 296.2h0.7M239.3 296.9h0.7M239.4 299.6h0.7M235.4 302.1h0.7M246.4 295.0h0.7M241.7 288.3h0.7M239.7 286.8h0.7M243.6 295.8h0.7M244.0 302.4h0.7M236.0 300.5h0.7M238.8 298.9h0.7M236.4 299.4h0.7M241.9 304.4h0.7M238.6 295.9h0.7M241.4 294.5h0.7M248.3 282.0h0.7M242.3 295.6h0.7M241.1 286.3h0.7M241.8 298.8h0.7M246.4 300.5h0.7M236.5 291.0h0.7M234.2 292.6h0.7M238.8 303.2h0.7M246.5 296.0h0.7M241.9 294.5h0.7M233.5 298.8h0.7M236.0 285.7h0.7M235.5 304.6h0.7M234.1 303.8h0.7M233.2 295.1h0.7M241.5 293.1h0.7M235.0 295.6h0.7M246.6 299.5h0.7M240.1 299.0h0.7M244.5 303.6h0.7M238.0 290.2h0.7M234.9 295.9h0.7M237.9 295.6h0.7M236.2 304.2h0.7M235.4 290.8h0.7M234.1 288.9h0.7M232.0 290.5h0.7M238.2 299.8h0.7M238.7 295.5h0.7M242.2 302.5h0.7M237.9 303.1h0.7M239.5 290.0h0.7M241.5 301.5h0.7M240.3 295.3h0.7M238.1 299.6h0.7M233.5 292.4h0.7M240.1 303.0h0.7M239.2 289.9h0.7M251.3 297.5h0.7M236.0 291.9h0.7M239.7 287.4h0.7M243.1 296.1h0.7M237.4 296.8h0.7M234.1 296.7h0.7M240.8 302.8h0.7M248.1 291.7h0.7M240.9 290.7h0.7M239.8 302.5h0.7M242.1 293.8h0.7M247.2 300.9h0.7M244.7 296.0h0.7M245.2 294.7h0.7M243.1 295.8h0.7M239.2 286.2h0.7M243.6 299.0h0.7M236.5 295.9h0.7M241.9 299.4h0.7M244.3 296.4h0.7M240.1 297.3h0.7M237.4 304.7h0.7M236.2 292.3h0.7M238.2 285.9h0.7M243.9 288.4h0.7M246.0 301.3h0.7M248.2 291.9h0.7M237.9 292.8h0.7M242.8 290.1h0.7M237.8 281.5h0.7M239.4 296.8h0.7M248.1 290.5h0.7M243.6 299.0h0.7M243.2 288.8h0.7M243.6 296.6h0.7M236.1 293.1h0.7M246.1 285.4h0.7M240.7 304.8h0.7M242.5 295.3h0.7M236.7 284.4h0.7M241.6 291.8h0.7M237.5 297.5h0.7M238.7 302.5h0.7M234.8 285.9h0.7M243.2 293.4h0.7M233.2 302.1h0.7M241.5 285.0h0.7M239.7 287.2h0.7M235.5 304.1h0.7M246.0 299.8h0.7M232.4 300.7h0.7M235.5 292.4h0.7M237.0 302.2h0.7M241.6 299.1h0.7M237.2 292.4h0.7M244.1 291.8h0.7M238.0 299.0h0.7M238.4 301.6h0.7M241.8 299.5h0.7M249.7 292.2h0.7M248.8 287.6h0.7M235.7 280.1h0.7M236.2 290.6h0.7M242.5 303.4h0.7M249.8 292.3h0.7M244.1 294.4h0.7M237.6 283.5h0.7M243.2 289.7h0.7M242.2 291.4h0.7M241.4 289.6h0.7M240.9 287.0h0.7M235.7 296.4h0.7M242.9 287.8h0.7M235.1 285.4h0.7M247.3 297.3h0.7M240.7 292.8h0.7M248.0 299.1h0.7M238.8 303.1h0.7M241.9 293.8h0.7M237.6 295.6h0.7M245.6 286.7h0.7M244.1 304.6h0.7M241.9 286.1h0.7M243.0 296.6h0.7M234.6 285.5h0.7M232.2 296.0h0.7M233.4 297.8h0.7M238.5 299.6h0.7M243.2 289.8h0.7M237.5 300.2h0.7M236.3 301.9h0.7M242.0 301.2h0.7M236.5 300.5h0.7M238.3 296.9h0.7M242.1 292.0h0.7M239.0 280.6h0.7M236.1 299.4h0.7M234.3 282.2h0.7M232.7 293.6h0.7M242.3 298.9h0.7M232.8 298.1h0.7M233.7 302.4h0.7M241.0 291.5h0.7M237.1 295.0h0.7M236.6 302.9h0.7M240.6 291.9h0.7M241.3 286.8h0.7M240.0 293.4h0.7M236.6 295.1h0.7M240.3 286.3h0.7M242.8 291.8h0.7M240.9 306.0h0.7M234.4 306.0h0.7M235.5 302.1h0.7M236.7 303.4h0.7M243.3 297.6h0.7M235.5 302.1h0.7M240.9 288.7h0.7M241.7 294.4h0.7M238.7 289.3h0.7M240.2 300.9h0.7M235.5 300.6h0.7M240.4 289.5h0.7M239.9 287.2h0.7M247.6 298.0h0.7M244.1 289.6h0.7M245.2 294.5h0.7M244.4 298.0h0.7M240.7 302.1h0.7M236.6 292.9h0.7M244.1 298.4h0.7M236.8 288.7h0.7M245.9 275.1h0.7M243.3 294.6h0.7M233.5 298.1h0.7M240.5 279.6h0.7M235.1 300.3h0.7M237.1 295.1h0.7M238.9 304.6h0.7M240.7 294.5h0.7M236.4 301.9h0.7M236.2 298.1h0.7M241.1 300.2h0.7M242.7 297.3h0.7M247.9 300.4h0.7M235.9 289.8h0.7M236.2 303.9h0.7M234.4 305.4h0.7M241.1 291.8h0.7M234.9 294.9h0.7M242.6 295.0h0.7M242.4 296.6h0.7M245.2 292.4h0.7M238.7 288.3h0.7M237.8 289.2h0.7M232.6 294.1h0.7M242.2 281.3h0.7M233.7 286.7h0.7M240.8 299.1h0.7M240.6 294.3h0.7M235.9 296.7h0.7M235.4 294.0h0.7M241.0 293.9h0.7M244.4 281.7h0.7M232.3 301.8h0.7M236.8 292.5h0.7M236.8 295.1h0.7M238.5 297.8h0.7M235.4 296.8h0.7M234.9 295.9h0.7M240.4 295.2h0.7M240.2 299.6h0.7M234.6 295.2h0.7M243.8 301.4h0.7M243.5 290.2h0.7M236.3 301.7h0.7M239.2 297.3h0.7M237.7 301.2h0.7M240.0 289.2h0.7M240.8 293.3h0.7M238.1 299.1h0.7M239.9 291.9h0.7M234.2 292.7h0.7M238.6 288.0h0.7M236.5 295.9h0.7M233.9 293.4h0.7M240.3 296.5h0.7M231.9 295.7h0.7M235.0 302.4h0.7M238.8 305.5h0.7M240.8 288.1h0.7M243.3 292.4h0.7M238.7 296.1h0.7M233.6 302.9h0.7M239.9 289.0h0.7M233.3 298.4h0.7M244.5 298.0h0.7M240.6 292.9h0.7M244.0 298.9h0.7M235.8 291.6h0.7M252.2 294.8h0.7M241.1 300.3h0.7M234.8 290.2h0.7M246.2 301.2h0.7M242.5 294.8h0.7M239.0 296.4h0.7M241.1 291.7h0.7M236.9 289.5h0.7M235.1 304.0h0.7M236.3 290.8h0.7M243.9 294.4h0.7M239.0 299.9h0.7M244.1 297.0h0.7M245.9 291.3h0.7M237.0 299.8h0.7M242.0 284.6h0.7M237.9 299.8h0.7M232.4 296.8h0.7M235.6 285.5h0.7M238.2 295.1h0.7M237.4 291.6h0.7M242.9 289.0h0.7M236.5 286.8h0.7M244.2 286.3h0.7M246.7 289.8h0.7M239.0 305.8h0.7M234.6 303.8h0.7M233.6 292.6h0.7M241.6 297.7h0.7M240.7 297.5h0.7M246.0 285.5h0.7M236.2 301.0h0.7M232.9 291.2h0.7M249.8 304.0h0.7M241.4 296.1h0.7M238.5 290.0h0.7M235.4 289.4h0.7M233.7 296.4h0.7M241.0 289.7h0.7M239.8 287.3h0.7M240.8 293.6h0.7M238.9 296.8h0.7M244.9 296.9h0.7M236.4 296.6h0.7M240.9 298.9h0.7M243.8 290.5h0.7M234.0 299.5h0.7M234.3 298.4h0.7M251.0 303.4h0.7M232.8 290.4h0.7M240.9 293.8h0.7M242.2 297.1h0.7M240.7 299.1h0.7M232.4 302.8h0.7M233.1 290.1h0.7M241.0 293.3h0.7M234.0 281.9h0.7M241.6 288.4h0.7M237.6 297.1h0.7M238.9 298.2h0.7M246.4 300.1h0.7M234.8 295.3h0.7M238.2 290.2h0.7M242.1 293.2h0.7M240.2 299.6h0.7M248.4 291.8h0.7M246.2 297.5h0.7M236.0 296.6h0.7M236.5 293.0h0.7M241.5 293.1h0.7M239.4 296.4h0.7M238.1 297.5h0.7M238.4 298.5h0.7M235.7 296.1h0.7M246.6 290.6h0.7M235.7 301.6h0.7M240.6 296.6h0.7M240.0 293.1h0.7M236.9 298.9h0.7M240.0 299.7h0.7M239.6 304.5h0.7M243.5 290.9h0.7M246.2 292.1h0.7M243.7 290.9h0.7M240.8 296.7h0.7M245.5 282.2h0.7M242.5 292.5h0.7M239.7 284.8h0.7M237.6 291.6h0.7M243.1 297.3h0.7M238.5 303.0h0.7M236.4 300.5h0.7M238.2 298.6h0.7M237.9 304.5h0.7M242.7 290.5h0.7M237.3 304.2h0.7M245.7 288.2h0.7M240.0 299.7h0.7M249.7 300.0h0.7M238.4 301.6h0.7M239.6 290.4h0.7M239.1 294.4h0.7M238.3 296.3h0.7M240.8 290.9h0.7M242.2 285.9h0.7M242.2 298.9h0.7M241.1 286.4h0.7M237.0 297.1h0.7M241.3 300.5h0.7M232.5 295.9h0.7M244.0 288.5h0.7M233.9 292.9h0.7M238.1 294.2h0.7M244.7 297.6h0.7M239.7 301.2h0.7M239.1 304.5h0.7M239.9 292.8h0.7M234.0 301.7h0.7M238.6 284.9h0.7M243.0 304.0h0.7M244.6 291.2h0.7M241.3 300.5h0.7M232.8 304.9h0.7M241.4 301.2h0.7M235.3 301.1h0.7M239.0 294.0h0.7M239.4 298.1h0.7M232.6 295.9h0.7M240.9 285.8h0.7M242.2 295.9h0.7M234.7 289.0h0.7M233.8 301.5h0.7M235.4 297.1h0.7M237.3 301.5h0.7M244.9 301.7h0.7M242.2 302.6h0.7M246.8 290.5h0.7M240.4 291.9h0.7M239.5 294.6h0.7M239.8 300.4h0.7M233.5 279.7h0.7M240.4 302.6h0.7M237.5 305.2h0.7M249.2 296.4h0.7M238.3 299.2h0.7M242.6 286.6h0.7M241.4 283.1h0.7M234.5 297.4h0.7M240.6 288.5h0.7M239.4 304.0h0.7M232.0 299.5h0.7M244.8 287.6h0.7M244.5 298.8h0.7M237.9 296.1h0.7M239.1 296.2h0.7M238.3 291.4h0.7M238.4 304.9h0.7M235.8 288.0h0.7M242.0 297.5h0.7M241.2 290.0h0.7M237.5 302.4h0.7M246.3 297.6h0.7M240.9 279.5h0.7M236.4 304.2h0.7M247.6 290.8h0.7M233.5 293.4h0.7M236.6 293.7h0.7M235.0 300.1h0.7M240.6 287.8h0.7M241.7 297.3h0.7M234.6 296.8h0.7M240.7 291.5h0.7M239.8 293.2h0.7M236.5 292.7h0.7M237.3 296.7h0.7M238.2 285.4h0.7M238.9 294.7h0.7M235.5 300.7h0.7M241.0 294.1h0.7M235.3 297.9h0.7M235.6 290.7h0.7M237.0 302.0h0.7M237.9 295.0h0.7M237.7 299.8h0.7M238.5 301.2h0.7M238.5 301.3h0.7M237.9 291.4h0.7M241.0 294.8h0.7M237.2 305.1h0.7M237.0 291.1h0.7M237.7 305.1h0.7M233.3 303.4h0.7M241.4 293.6h0.7M237.7 291.5h0.7M233.0 286.0h0.7M237.2 299.8h0.7M235.0 294.0h0.7M235.7 294.8h0.7M240.8 303.7h0.7M241.7 298.4h0.7M245.1 300.6h0.7M241.2 299.6h0.7M242.7 289.6h0.7M235.2 296.6h0.7M237.6 298.1h0.7M242.1 304.3h0.7M240.5 305.1h0.7M236.3 298.7h0.7M238.4 290.2h0.7M240.1 302.2h0.7M237.5 296.7h0.7M243.8 294.9h0.7M237.6 298.0h0.7M241.0 298.7h0.7M244.4 298.9h0.7M233.8 285.9h0.7M239.2 293.4h0.7M240.2 299.4h0.7M244.4 288.0h0.7M242.4 297.3h0.7M242.6 302.9h0.7M241.2 291.2h0.7M238.4 302.7h0.7M232.4 301.7h0.7M235.3 292.2h0.7M243.4 294.3h0.7M240.8 279.7h0.7M249.5 284.4h0.7M231.8 299.3h0.7M241.2 291.0h0.7M240.0 290.3h0.7M239.5 292.5h0.7M234.5 300.5h0.7M239.0 296.3h0.7M233.5 291.6h0.7M237.7 292.3h0.7M240.5 296.3h0.7M238.0 295.0h0.7M240.7 302.5h0.7M234.2 302.1h0.7M242.9 301.1h0.7M236.5 297.4h0.7M248.2 287.7h0.7M242.6 294.5h0.7M246.2 297.0h0.7M242.7 292.2h0.7M233.4 292.8h0.7M237.8 288.2h0.7M241.7 288.3h0.7M239.1 294.6h0.7M232.2 296.3h0.7M242.5 297.8h0.7M242.2 294.9h0.7M238.4 300.0h0.7M233.5 289.5h0.7M234.1 297.7h0.7M235.8 300.6h0.7M240.5 295.9h0.7M242.9 294.5h0.7M238.5 298.0h0.7M242.4 290.9h0.7M236.9 291.3h0.7M241.5 298.6h0.7M239.8 287.8h0.7M235.3 286.9h0.7M233.0 291.4h0.7M240.2 299.2h0.7M240.5 306.1h0.7M242.7 286.5h0.7M241.1 297.5h0.7M240.4 291.4h0.7M245.2 296.7h0.7M236.4 284.6h0.7M237.8 287.4h0.7M238.6 302.3h0.7M243.8 300.7h0.7M237.1 288.6h0.7M238.2 296.8h0.7M238.3 294.1h0.7M239.6 286.9h0.7M243.6 288.6h0.7M239.5 290.5h0.7M244.9 292.5h0.7M234.9 293.7h0.7M242.8 288.2h0.7M233.2 292.7h0.7M242.3 277.3h0.7M238.2 302.0h0.7M238.4 284.2h0.7M237.0 300.0h0.7M234.0 294.1h0.7M236.0 298.5h0.7M249.8 296.5h0.7M237.6 293.4h0.7M241.1 300.9h0.7M239.9 298.3h0.7M239.7 288.3h0.7M242.4 301.6h0.7M235.5 284.8h0.7M236.3 297.2h0.7M245.2 297.4h0.7M239.2 297.6h0.7M232.2 293.7h0.7M239.6 300.5h0.7M235.9 293.3h0.7M237.0 299.2h0.7M247.8 297.2h0.7M239.7 290.1h0.7M238.6 305.1h0.7M242.6 292.8h0.7M240.1 290.2h0.7M241.7 295.1h0.7M242.4 304.0h0.7M236.3 301.2h0.7M240.9 292.6h0.7M240.2 304.0h0.7M239.7 302.3h0.7M240.5 304.1h0.7M238.4 293.9h0.7M241.8 281.3h0.7M236.7 305.9h0.7M246.1 292.8h0.7M235.6 298.5h0.7M245.8 291.5h0.7M242.8 292.7h0.7M243.8 299.0h0.7M245.4 295.4h0.7M242.7 287.8h0.7M234.7 299.3h0.7M239.4 301.7h0.7M249.2 292.0h0.7M233.7 289.2h0.7M236.2 303.5h0.7M240.7 294.1h0.7M242.0 294.9h0.7M240.1 295.9h0.7M233.0 301.2h0.7M239.5 292.1h0.7M239.8 291.3h0.7M238.9 293.6h0.7M240.5 290.0h0.7M238.5 293.3h0.7M234.7 295.5h0.7M242.1 300.7h0.7M240.4 295.2h0.7M243.3 294.1h0.7M242.0 284.8h0.7M233.7 291.2h0.7M244.1 294.2h0.7M241.1 288.9h0.7M239.1 291.7h0.7M240.2 294.4h0.7M237.0 279.9h0.7M240.1 281.7h0.7M236.8 286.0h0.7M248.0 287.6h0.7M237.3 298.3h0.7M237.6 297.5h0.7M243.2 291.8h0.7M241.4 295.1h0.7M233.2 297.8h0.7M234.2 302.6h0.7M239.1 297.0h0.7M243.6 290.5h0.7M235.5 305.2h0.7M242.3 298.7h0.7M234.8 292.0h0.7M231.7 285.2h0.7M237.1 298.3h0.7M236.8 294.7h0.7M239.4 304.6h0.7M236.5 296.7h0.7M251.5 295.7h0.7M242.8 288.1h0.7M234.3 292.9h0.7M253.0 291.8h0.7M245.5 292.6h0.7M233.4 283.7h0.7M239.8 302.7h0.7M235.5 293.2h0.7M234.1 291.1h0.7M243.7 292.3h0.7M234.3 299.8h0.7M240.3 295.5h0.7M248.5 297.8h0.7M244.4 287.8h0.7M238.8 304.0h0.7M242.6 301.8h0.7M232.4 294.0h0.7M246.8 305.3h0.7M245.4 301.0h0.7M245.2 277.6h0.7M239.6 301.0h0.7M244.8 289.5h0.7M244.0 301.0h0.7M236.8 306.1h0.7M245.0 301.6h0.7M237.0 297.6h0.7M250.5 290.2h0.7M248.4 298.7h0.7M236.0 291.1h0.7M246.3 297.9h0.7M236.1 294.5h0.7M237.4 295.0h0.7M247.6 291.3h0.7M237.7 276.1h0.7M241.5 301.9h0.7M248.7 291.8h0.7M237.8 293.2h0.7M233.4 295.8h0.7M235.5 294.3h0.7M239.9 300.7h0.7M240.7 299.2h0.7M241.6 295.1h0.7M243.7 296.8h0.7M232.9 292.3h0.7M246.1 285.3h0.7M247.4 296.5h0.7M240.4 303.8h0.7M240.3 292.7h0.7M233.7 300.3h0.7M239.7 289.6h0.7M244.7 301.5h0.7M249.6 297.5h0.7M233.4 296.4h0.7M242.8 301.5h0.7M233.0 298.8h0.7M242.4 298.3h0.7M238.6 294.3h0.7M243.5 293.2h0.7M241.4 290.5h0.7M239.0 302.9h0.7M236.7 295.5h0.7M232.4 287.9h0.7M242.0 303.2h0.7M236.1 294.5h0.7M240.8 292.9h0.7M239.5 293.1h0.7M242.0 292.4h0.7M237.0 286.9h0.7M235.6 286.0h0.7M238.5 302.1h0.7M233.1 290.1h0.7M235.6 298.6h0.7M237.8 293.6h0.7M234.7 293.9h0.7M237.5 290.4h0.7M245.9 298.8h0.7M238.4 297.7h0.7M250.0 299.6h0.7M236.7 295.4h0.7M244.6 298.6h0.7M237.9 296.3h0.7M233.9 293.5h0.7M237.3 294.1h0.7M245.6 295.8h0.7M244.7 295.6h0.7M232.1 303.5h0.7M236.6 294.9h0.7M244.4 304.6h0.7M240.0 303.8h0.7M236.9 299.8h0.7M234.9 301.9h0.7M236.5 299.8h0.7M233.5 304.8h0.7M246.9 293.9h0.7M239.5 289.4h0.7M238.3 286.3h0.7M242.6 295.1h0.7M244.7 295.6h0.7M238.1 290.3h0.7M242.2 294.8h0.7M233.6 286.1h0.7M243.7 294.9h0.7M238.9 292.1h0.7M236.7 295.5h0.7M240.1 287.9h0.7M250.9 301.4h0.7M244.5 291.4h0.7M232.8 299.0h0.7M236.3 295.5h0.7M247.0 295.6h0.7M245.5 290.6h0.7M237.4 299.9h0.7M241.3 282.9h0.7M233.9 292.8h0.7M235.8 291.4h0.7M237.6 296.6h0.7M232.1 289.6h0.7M234.9 303.2h0.7M238.4 286.1h0.7M241.5 301.5h0.7M241.3 295.9h0.7M242.1 305.8h0.7M242.3 301.9h0.7M236.9 304.5h0.7M235.9 297.7h0.7M242.9 289.7h0.7M237.0 281.8h0.7M237.6 287.2h0.7M239.5 292.5h0.7M236.0 293.4h0.7M237.3 295.5h0.7M238.0 302.8h0.7M244.2 279.6h0.7M245.5 294.2h0.7M240.9 289.8h0.7M242.1 299.2h0.7M236.6 288.4h0.7M241.6 298.3h0.7M234.9 281.9h0.7M234.0 298.0h0.7M245.2 289.3h0.7M236.5 288.6h0.7M240.9 290.5h0.7M247.1 299.2h0.7M238.3 292.9h0.7M244.0 293.0h0.7M237.4 296.2h0.7M244.2 304.5h0.7M237.6 287.7h0.7M235.0 294.4h0.7M242.2 278.9h0.7M242.3 298.0h0.7M240.2 286.1h0.7M239.7 292.2h0.7M234.8 299.3h0.7M245.1 296.7h0.7M242.0 301.8h0.7M239.4 292.8h0.7M246.2 291.5h0.7M237.9 297.6h0.7M237.3 289.4h0.7M244.4 295.3h0.7M236.0 291.8h0.7M242.0 300.6h0.7M240.2 302.7h0.7M239.2 305.5h0.7M243.5 288.2h0.7M238.9 297.5h0.7M239.2 289.2h0.7M241.5 295.0h0.7M232.4 287.4h0.7M237.5 301.3h0.7M239.2 296.6h0.7M243.7 294.0h0.7M239.4 295.0h0.7M243.5 291.3h0.7M241.1 290.9h0.7M239.7 302.4h0.7M235.7 298.5h0.7M239.7 296.9h0.7M241.8 295.9h0.7M236.2 288.7h0.7M242.8 297.9h0.7M248.5 291.5h0.7M242.7 292.0h0.7M237.1 291.7h0.7M235.6 289.5h0.7M237.9 294.4h0.7M239.6 300.5h0.7M235.3 294.9h0.7M235.4 300.6h0.7M235.2 293.2h0.7M235.8 302.2h0.7M233.9 288.3h0.7M237.6 293.2h0.7M235.2 302.5h0.7M236.9 282.4h0.7M238.5 287.2h0.7M236.4 292.4h0.7M235.3 292.8h0.7M237.6 299.3h0.7M250.8 291.1h0.7M237.3 302.5h0.7M247.1 300.3h0.7M239.8 302.9h0.7M236.9 287.7h0.7M245.4 289.9h0.7M234.7 296.3h0.7M235.2 299.6h0.7M239.7 294.2h0.7M236.8 304.6h0.7M245.6 302.5h0.7M233.5 305.8h0.7M239.8 306.1h0.7M241.8 291.2h0.7M231.9 291.3h0.7M244.8 292.6h0.7M246.8 287.4h0.7M242.3 294.7h0.7M233.1 297.8h0.7M237.6 293.6h0.7M236.4 294.5h0.7M237.5 296.8h0.7M237.9 303.4h0.7M241.9 301.7h0.7M232.4 296.5h0.7M238.7 299.4h0.7M236.4 296.3h0.7M234.9 293.2h0.7M240.9 292.3h0.7M235.5 294.6h0.7M240.8 298.0h0.7M234.0 292.8h0.7M234.1 289.2h0.7M250.0 303.0h0.7M242.5 293.7h0.7M243.2 305.1h0.7M244.9 300.0h0.7M242.8 300.9h0.7M240.9 297.8h0.7M237.5 284.8h0.7M241.5 299.7h0.7M239.2 300.2h0.7M238.6 295.0h0.7M242.1 284.8h0.7M245.6 293.1h0.7M241.8 299.3h0.7M246.5 306.0h0.7M233.4 289.5h0.7M240.0 285.2h0.7M242.1 294.7h0.7M235.7 300.7h0.7M235.0 290.8h0.7M239.2 300.9h0.7M238.4 293.3h0.7M240.1 293.2h0.7M241.4 302.4h0.7M239.8 298.4h0.7M236.1 303.8h0.7M241.2 292.7h0.7M238.7 290.5h0.7M237.2 297.6h0.7M242.2 292.4h0.7M232.0 302.6h0.7M234.2 300.0h0.7M232.3 289.8h0.7M247.6 296.3h0.7M240.3 297.8h0.7M239.8 289.1h0.7M236.6 293.0h0.7M233.7 291.6h0.7M244.5 297.8h0.7M236.8 293.2h0.7M242.8 291.9h0.7M235.5 293.5h0.7M235.4 300.2h0.7M239.0 301.8h0.7M241.6 294.1h0.7M240.5 282.5h0.7M233.9 282.6h0.7M240.6 286.3h0.7M232.0 297.8h0.7M241.9 294.2h0.7M245.7 297.0h0.7M248.2 300.8h0.7M248.4 278.9h0.7M242.5 300.4h0.7M245.8 299.2h0.7M240.9 297.5h0.7M240.0 299.0h0.7M246.3 285.4h0.7M237.0 286.3h0.7M236.4 297.2h0.7M239.9 297.9h0.7M242.4 298.2h0.7M237.5 294.7h0.7M234.2 292.7h0.7M238.6 297.9h0.7M231.8 302.4h0.7M238.7 285.8h0.7M238.3 299.1h0.7M239.4 292.9h0.7M235.0 296.9h0.7M239.7 297.4h0.7M237.3 303.1h0.7M239.8 300.7h0.7M237.7 298.3h0.7M238.2 302.7h0.7M236.3 298.8h0.7M240.5 285.6h0.7M244.3 291.8h0.7M233.8 291.4h0.7M242.9 293.0h0.7M242.5 289.6h0.7M240.1 284.7h0.7M237.6 303.5h0.7M236.6 296.6h0.7M237.9 298.3h0.7M237.2 289.0h0.7M237.4 293.4h0.7M234.2 294.5h0.7M234.5 292.4h0.7M240.3 296.8h0.7M237.8 298.0h0.7M246.7 297.7h0.7M239.5 294.9h0.7M240.4 299.4h0.7M243.2 298.4h0.7M236.2 294.8h0.7M235.4 303.8h0.7M235.8 285.4h0.7M237.9 290.2h0.7M239.7 296.4h0.7M235.1 285.9h0.7M237.4 287.4h0.7M238.0 296.5h0.7M237.1 296.5h0.7M237.0 305.6h0.7M243.9 287.9h0.7M241.6 294.1h0.7M238.8 286.7h0.7M237.0 294.5h0.7M236.8 281.6h0.7M239.5 293.2h0.7M232.0 302.5h0.7M238.2 288.4h0.7M234.8 297.2h0.7M236.3 299.8h0.7M233.2 297.0h0.7M240.8 298.6h0.7M235.1 289.6h0.7M233.6 296.0h0.7M237.5 302.8h0.7M237.3 303.5h0.7M237.6 301.6h0.7M243.2 297.2h0.7M233.1 298.0h0.7M239.4 293.5h0.7M237.7 299.7h0.7M245.9 291.3h0.7M244.2 292.6h0.7M237.4 293.2h0.7M238.6 290.7h0.7M236.0 294.0h0.7M234.6 295.0h0.7M243.2 290.3h0.7M239.6 290.7h0.7M233.6 295.3h0.7M237.4 301.4h0.7M241.8 296.0h0.7M235.8 303.7h0.7M232.9 290.7h0.7M241.9 297.9h0.7M241.4 294.0h0.7M241.9 302.5h0.7M243.0 289.1h0.7M234.5 297.6h0.7M241.4 295.3h0.7M238.2 293.1h0.7M243.2 282.3h0.7M239.1 291.7h0.7M241.2 293.4h0.7M246.3 296.5h0.7M236.3 285.4h0.7M237.5 295.1h0.7M245.6 297.6h0.7M239.5 289.8h0.7M239.6 289.5h0.7M232.4 298.0h0.7M236.7 287.2h0.7M243.7 302.7h0.7M240.7 285.3h0.7M235.0 289.4h0.7M242.7 294.7h0.7M235.0 286.9h0.7M235.5 296.4h0.7M237.6 298.4h0.7M241.0 288.4h0.7M242.4 295.5h0.7M245.8 294.5h0.7M237.1 294.6h0.7M244.1 298.4h0.7M243.9 301.6h0.7M238.3 293.9h0.7M243.7 288.3h0.7M240.1 301.4h0.7M234.8 283.8h0.7M232.5 302.2h0.7M249.8 289.9h0.7M232.9 287.7h0.7M245.7 299.9h0.7M241.8 290.9h0.7M241.7 290.8h0.7M241.3 290.7h0.7M233.2 292.6h0.7M240.6 297.3h0.7M236.4 300.9h0.7M241.4 294.3h0.7M238.6 292.5h0.7M241.1 296.6h0.7M244.9 289.5h0.7M233.2 294.5h0.7M237.7 293.4h0.7M246.3 297.5h0.7M244.3 298.9h0.7M240.0 297.7h0.7M243.7 298.0h0.7M241.7 294.9h0.7M235.5 297.4h0.7M237.1 298.8h0.7M244.7 304.5h0.7M240.6 288.9h0.7M237.1 288.2h0.7M240.7 295.4h0.7M239.6 284.0h0.7M232.2 281.9h0.7M245.2 298.3h0.7M239.2 293.1h0.7M237.1 290.2h0.7M243.4 283.0h0.7M239.7 300.2h0.7M242.6 286.1h0.7M245.3 294.3h0.7M237.8 297.3h0.7M243.8 296.0h0.7M237.4 296.6h0.7M239.1 289.7h0.7M247.6 304.4h0.7M245.6 289.5h0.7M236.3 286.9h0.7M238.4 303.4h0.7M243.3 295.6h0.7M240.1 298.3h0.7M238.4 288.9h0.7M235.9 305.4h0.7M234.8 288.3h0.7M241.6 293.2h0.7M237.5 296.2h0.7M238.5 285.2h0.7M243.3 296.6h0.7M246.8 300.5h0.7M236.5 292.6h0.7M235.9 281.8h0.7M242.4 291.2h0.7M243.6 296.4h0.7M238.6 305.2h0.7M234.9 306.0h0.7M244.4 292.1h0.7M247.1 297.9h0.7M240.7 292.9h0.7M238.9 292.8h0.7M237.6 300.2h0.7M242.9 302.9h0.7M244.6 294.9h0.7M242.6 293.8h0.7M241.8 299.1h0.7M240.9 290.5h0.7M233.8 305.8h0.7M235.6 291.6h0.7M241.0 293.0h0.7M241.1 303.7h0.7M232.2 295.9h0.7M241.9 286.8h0.7M242.5 304.4h0.7M239.4 298.3h0.7M237.9 301.3h0.7M236.9 295.4h0.7M236.2 291.0h0.7M244.4 295.0h0.7M243.3 285.7h0.7M233.8 289.9h0.7M247.8 302.5h0.7M249.3 292.7h0.7M242.0 297.6h0.7M238.1 299.0h0.7M239.1 298.3h0.7M234.7 305.6h0.7M243.2 289.5h0.7M241.5 291.9h0.7M234.1 289.8h0.7M252.7 295.9h0.7M238.8 303.0h0.7M240.5 288.6h0.7M242.9 290.2h0.7M239.0 296.1h0.7M239.3 292.0h0.7M238.0 293.4h0.7M244.5 296.7h0.7M241.2 294.9h0.7M242.3 289.1h0.7M234.1 291.8h0.7M233.3 280.3h0.7M237.4 291.8h0.7M239.8 302.7h0.7M235.1 285.9h0.7M238.8 299.5h0.7M245.8 301.1h0.7M239.9 295.7h0.7M242.8 294.9h0.7M237.9 297.9h0.7M241.2 298.5h0.7M241.1 286.1h0.7M236.7 285.3h0.7M235.7 294.5h0.7M240.4 291.1h0.7M246.9 296.6h0.7M241.4 290.8h0.7M245.2 293.8h0.7M235.6 294.1h0.7M244.3 290.5h0.7M238.2 300.7h0.7M238.0 300.8h0.7M244.8 292.4h0.7M233.9 288.2h0.7M245.0 298.7h0.7M239.6 293.0h0.7M244.1 292.5h0.7M251.5 297.3h0.7M232.0 301.8h0.7M240.4 295.3h0.7M238.4 302.6h0.7M237.0 304.8h0.7M235.8 300.9h0.7M232.4 301.2h0.7M234.8 293.9h0.7M242.6 290.7h0.7M241.6 295.3h0.7M245.1 300.8h0.7M240.3 294.2h0.7M235.1 303.9h0.7M238.1 287.7h0.7M235.6 283.9h0.7M235.3 292.6h0.7M240.3 300.9h0.7M242.9 284.3h0.7M237.0 299.0h0.7M240.7 295.2h0.7M235.6 299.6h0.7M238.8 293.8h0.7M238.7 293.9h0.7M240.5 301.9h0.7M239.5 291.5h0.7M238.6 294.4h0.7M241.4 299.9h0.7M246.6 300.7h0.7M233.5 297.1h0.7M249.8 298.1h0.7M236.6 303.7h0.7M242.0 290.4h0.7M234.8 304.2h0.7M242.6 282.7h0.7M235.8 298.7h0.7M233.0 295.3h0.7M235.2 285.2h0.7M236.8 292.1h0.7M240.4 284.9h0.7M240.3 293.1h0.7M231.9 302.6h0.7M237.1 297.8h0.7M246.2 297.8h0.7M243.4 296.6h0.7M236.5 296.5h0.7M232.0 298.2h0.7M242.9 297.9h0.7M236.0 288.0h0.7M235.7 293.6h0.7M235.4 296.1h0.7M237.0 296.1h0.7M239.0 295.0h0.7M240.9 292.1h0.7M242.8 296.6h0.7M238.9 295.4h0.7M243.9 295.1h0.7M246.2 296.1h0.7M240.2 295.3h0.7M240.4 298.1h0.7M236.2 300.1h0.7M250.8 298.6h0.7M239.6 290.5h0.7M235.6 290.3h0.7M240.3 291.1h0.7M246.4 292.7h0.7M235.0 289.8h0.7M238.6 294.4h0.7M243.3 290.9h0.7M240.6 301.0h0.7M237.8 284.8h0.7M240.1 301.5h0.7M240.9 295.3h0.7M238.2 288.1h0.7M237.5 296.2h0.7M239.3 289.9h0.7M250.0 302.8h0.7M243.6 299.1h0.7M237.2 288.2h0.7M233.3 301.8h0.7M239.4 305.1h0.7M241.2 292.0h0.7M243.1 291.3h0.7M237.8 298.5h0.7M239.8 297.0h0.7M240.0 301.5h0.7M235.2 283.2h0.7M234.9 280.7h0.7M247.9 291.3h0.7M238.9 297.3h0.7M235.5 292.3h0.7M240.2 295.3h0.7M242.7 293.8h0.7M236.0 286.5h0.7M240.5 292.8h0.7M244.6 279.0h0.7M242.0 288.1h0.7M237.5 293.9h0.7M235.6 293.6h0.7M239.0 299.6h0.7M242.8 289.5h0.7M241.2 292.8h0.7M243.1 291.8h0.7M243.9 289.9h0.7M236.9 300.4h0.7M243.7 300.5h0.7M248.1 301.5h0.7M239.0 300.9h0.7M235.3 300.2h0.7M240.9 294.4h0.7M235.7 301.7h0.7M232.6 293.2h0.7M237.0 290.3h0.7M236.2 297.0h0.7M248.0 305.8h0.7M238.2 292.7h0.7M241.8 290.2h0.7M232.2 301.2h0.7M237.2 304.5h0.7M240.6 286.5h0.7M240.4 298.2h0.7M239.3 287.0h0.7M242.7 306.2h0.7M242.0 295.1h0.7M240.8 302.2h0.7M236.6 303.0h0.7M240.2 296.5h0.7M241.0 297.2h0.7M234.8 304.7h0.7M236.8 293.7h0.7M241.6 294.7h0.7M238.6 293.0h0.7M241.9 291.3h0.7M232.3 285.4h0.7M235.4 297.2h0.7M245.6 298.7h0.7M235.9 287.2h0.7M242.8 298.3h0.7M238.8 299.1h0.7M241.7 298.4h0.7M245.1 285.9h0.7M236.1 292.0h0.7M240.7 297.8h0.7M242.7 293.9h0.7M242.9 294.0h0.7M242.5 298.7h0.7M245.0 286.1h0.7M234.8 290.7h0.7M235.3 297.6h0.7M243.5 293.2h0.7M243.9 300.7h0.7M236.4 299.3h0.7M245.6 292.4h0.7M240.4 299.1h0.7M241.4 295.0h0.7M239.0 290.4h0.7M248.0 304.7h0.7M238.4 290.1h0.7M241.0 305.0h0.7M239.3 290.3h0.7M243.4 296.9h0.7M235.4 294.0h0.7M239.8 288.5h0.7M240.4 303.1h0.7M243.9 302.9h0.7M242.5 294.8h0.7M241.9 302.8h0.7M239.3 298.5h0.7M236.2 295.4h0.7M236.9 288.8h0.7M240.0 290.9h0.7M239.9 300.5h0.7M241.8 298.9h0.7M247.4 296.6h0.7M244.8 292.0h0.7M235.0 292.1h0.7M237.1 300.8h0.7M242.6 295.5h0.7M235.1 296.3h0.7M237.2 293.1h0.7M251.3 295.7h0.7M249.2 292.9h0.7M251.8 295.1h0.7M242.8 305.9h0.7M240.0 286.1h0.7M239.9 290.1h0.7M243.0 282.4h0.7M234.7 288.3h0.7M239.6 301.8h0.7M237.8 287.5h0.7M236.8 294.5h0.7M244.4 296.2h0.7M245.5 278.0h0.7M232.1 301.2h0.7M233.2 291.7h0.7M241.5 296.8h0.7M240.5 294.3h0.7M235.3 289.3h0.7M237.0 285.0h0.7M238.6 298.5h0.7M236.9 303.7h0.7M240.1 301.2h0.7M235.1 296.7h0.7M232.7 283.8h0.7M240.6 293.2h0.7M244.0 296.1h0.7M239.2 296.3h0.7M243.6 305.3h0.7M232.7 296.1h0.7M237.0 295.6h0.7M250.0 294.0h0.7M237.0 289.8h0.7M243.9 297.0h0.7M235.8 304.5h0.7M238.0 296.9h0.7M238.4 296.4h0.7M233.3 282.0h0.7M233.8 292.4h0.7M238.3 294.9h0.7M237.2 301.9h0.7M238.1 290.1h0.7M245.5 294.7h0.7M244.2 298.8h0.7M237.9 301.5h0.7M232.4 287.9h0.7M237.3 280.6h0.7M237.2 294.2h0.7M244.9 299.2h0.7M240.1 303.6h0.7M239.6 303.1h0.7M244.0 291.9h0.7M242.0 302.4h0.7M240.5 292.9h0.7M243.2 302.5h0.7M239.1 298.7h0.7M239.8 297.0h0.7M240.8 293.0h0.7M242.6 297.7h0.7M247.1 297.3h0.7M239.7 287.9h0.7M249.6 294.0h0.7M236.8 293.7h0.7M239.2 294.8h0.7M247.0 292.5h0.7M238.1 292.7h0.7M242.0 285.3h0.7M243.8 293.2h0.7M232.6 304.5h0.7M233.1 299.8h0.7M239.3 291.3h0.7M242.7 295.0h0.7M236.5 301.4h0.7M239.4 295.9h0.7M235.2 286.9h0.7M237.0 297.2h0.7M237.3 297.3h0.7M238.0 293.9h0.7M239.0 297.5h0.7M238.2 292.6h0.7M243.7 302.5h0.7M244.4 299.9h0.7M241.3 296.2h0.7M242.6 291.3h0.7M238.6 297.3h0.7M238.5 287.7h0.7M238.7 292.8h0.7M236.2 299.1h0.7M244.1 295.8h0.7M233.9 294.2h0.7M238.3 288.8h0.7M236.4 296.2h0.7M236.4 298.0h0.7M233.1 299.3h0.7M235.9 296.1h0.7M239.2 292.2h0.7M243.9 284.3h0.7M240.1 299.2h0.7M238.0 294.9h0.7M233.9 295.0h0.7M239.9 291.6h0.7M239.2 293.0h0.7M234.4 294.8h0.7M235.5 300.6h0.7M235.5 303.8h0.7M239.0 295.1h0.7M235.7 297.9h0.7M234.4 285.8h0.7M241.1 282.4h0.7M244.4 292.0h0.7M246.4 296.7h0.7M246.7 286.3h0.7M237.1 296.8h0.7M236.5 295.6h0.7M238.4 299.3h0.7M245.7 282.0h0.7M242.0 288.2h0.7M246.7 286.2h0.7M235.2 298.3h0.7M238.3 299.4h0.7M240.8 290.5h0.7M238.1 294.5h0.7M237.7 293.6h0.7M235.7 295.5h0.7M240.3 287.6h0.7M231.8 298.6h0.7M243.2 291.9h0.7M238.3 292.1h0.7M241.0 294.7h0.7M236.5 290.5h0.7M241.2 297.4h0.7M237.1 297.6h0.7M239.9 282.8h0.7M236.4 296.6h0.7M245.0 297.5h0.7M233.4 300.6h0.7M237.8 300.2h0.7M232.6 285.2h0.7M244.6 296.7h0.7M239.9 294.5h0.7M240.0 289.0h0.7M244.8 300.0h0.7M243.6 294.7h0.7M243.0 301.1h0.7M250.8 301.7h0.7M235.6 290.3h0.7M243.2 298.2h0.7M241.7 295.5h0.7M235.3 296.0h0.7M232.3 296.9h0.7M249.7 299.6h0.7M235.1 289.9h0.7M250.3 299.1h0.7M236.7 298.7h0.7M237.6 288.7h0.7M239.8 298.3h0.7M245.2 287.6h0.7M246.0 293.7h0.7M243.8 298.4h0.7M243.0 289.7h0.7M241.5 285.2h0.7M246.9 297.6h0.7M241.5 295.7h0.7M242.1 296.4h0.7M234.8 293.0h0.7M238.4 297.5h0.7M249.6 285.3h0.7M249.0 292.6h0.7M237.1 294.7h0.7M249.4 288.6h0.7M237.4 298.5h0.7M243.6 297.6h0.7M239.7 301.2h0.7M234.6 304.7h0.7M236.8 297.5h0.7M234.8 291.5h0.7M243.8 298.7h0.7M238.3 300.1h0.7M254.3 280.4h0.7M235.3 295.2h0.7M246.3 284.9h0.7M242.3 293.4h0.7M246.1 297.2h0.7M235.7 292.6h0.7M239.4 305.5h0.7M239.6 292.0h0.7M237.3 300.3h0.7M237.7 305.8h0.7M243.3 296.1h0.7M239.7 293.2h0.7M246.3 294.0h0.7M240.5 287.0h0.7M238.2 296.3h0.7M238.8 295.5h0.7M243.8 299.5h0.7M242.9 291.7h0.7M236.8 295.3h0.7M240.7 295.3h0.7M239.6 302.4h0.7M238.1 287.3h0.7M242.3 303.8h0.7M232.2 295.5h0.7M243.7 295.5h0.7M237.1 301.1h0.7M236.1 294.8h0.7M233.2 296.3h0.7M245.0 298.0h0.7M233.1 292.1h0.7M235.6 286.2h0.7M242.6 298.3h0.7M238.3 304.2h0.7M242.6 291.7h0.7M239.4 294.4h0.7M239.1 303.2h0.7M245.1 289.4h0.7M248.4 285.5h0.7M242.4 302.4h0.7M239.8 298.4h0.7M236.1 304.2h0.7M238.2 292.1h0.7M232.2 289.1h0.7M241.5 295.5h0.7M247.4 299.1h0.7M240.8 290.6h0.7M241.8 286.6h0.7M235.6 303.7h0.7M240.5 288.3h0.7M236.2 294.5h0.7M240.7 296.5h0.7M243.1 277.3h0.7M242.6 284.0h0.7M237.1 296.1h0.7M244.2 291.6h0.7M232.9 290.3h0.7M233.4 292.2h0.7M235.9 302.2h0.7M241.9 294.4h0.7M240.6 304.9h0.7M237.9 288.5h0.7M239.3 287.9h0.7M240.3 300.6h0.7M237.5 301.0h0.7M237.5 298.9h0.7M243.0 300.3h0.7M243.7 298.3h0.7M242.5 301.0h0.7M241.5 298.9h0.7M240.6 295.0h0.7M239.4 292.1h0.7M237.1 303.0h0.7M238.0 281.7h0.7M236.8 294.7h0.7M245.0 297.2h0.7M241.7 292.1h0.7M236.6 285.8h0.7M242.2 295.6h0.7M235.9 295.8h0.7M244.5 301.1h0.7M243.0 302.4h0.7M240.4 295.5h0.7M239.2 298.4h0.7M239.4 290.1h0.7M236.6 302.4h0.7M237.4 294.9h0.7M246.2 289.6h0.7M239.1 292.9h0.7M236.8 294.4h0.7M241.8 293.8h0.7M243.7 299.9h0.7M234.2 295.8h0.7M238.4 287.6h0.7M240.6 302.8h0.7M246.6 300.1h0.7M241.0 303.2h0.7M238.6 293.1h0.7M243.8 299.4h0.7M236.8 292.9h0.7M237.5 292.5h0.7M236.5 292.3h0.7M239.8 295.7h0.7M242.9 280.4h0.7M239.9 305.5h0.7M239.5 291.9h0.7M248.5 292.3h0.7M242.5 296.9h0.7M238.6 289.4h0.7M240.0 296.6h0.7M247.7 286.3h0.7M232.0 298.8h0.7M232.3 278.3h0.7M237.7 302.3h0.7M246.2 290.1h0.7M235.1 294.4h0.7M246.7 294.2h0.7M242.9 294.4h0.7M234.2 297.0h0.7M231.7 296.2h0.7M241.1 290.9h0.7M248.3 295.4h0.7M241.3 286.5h0.7M236.9 296.8h0.7M242.7 298.9h0.7M232.7 286.4h0.7M234.0 302.1h0.7M239.8 295.1h0.7M238.9 290.4h0.7M240.8 294.7h0.7M238.3 296.7h0.7M238.1 294.2h0.7M244.4 299.6h0.7M239.6 296.2h0.7M245.5 287.3h0.7M240.2 296.6h0.7M237.6 290.8h0.7M232.4 291.0h0.7M235.4 295.2h0.7M243.5 293.6h0.7M233.9 297.9h0.7M244.8 297.2h0.7M237.1 293.0h0.7M237.7 289.0h0.7M243.4 293.5h0.7M248.1 302.6h0.7M237.0 290.6h0.7M241.0 293.1h0.7M238.6 298.1h0.7M235.5 295.0h0.7M237.9 304.4h0.7M242.3 294.7h0.7M234.4 294.5h0.7M235.5 293.2h0.7M240.8 300.2h0.7M243.8 291.9h0.7M240.0 295.2h0.7M243.9 300.8h0.7M240.3 298.5h0.7M238.5 295.1h0.7M240.4 288.2h0.7M237.4 300.3h0.7M242.4 296.5h0.7M241.7 290.7h0.7M246.1 283.0h0.7M237.6 290.8h0.7M237.1 296.7h0.7M239.7 301.2h0.7M248.0 298.4h0.7M234.9 295.5h0.7M235.6 290.7h0.7M237.3 301.1h0.7M235.5 297.4h0.7M235.7 300.6h0.7M244.5 286.8h0.7M242.6 290.2h0.7M240.7 294.9h0.7M243.1 287.9h0.7M248.0 297.5h0.7M236.2 303.0h0.7M245.5 298.6h0.7M236.9 290.6h0.7M235.1 305.0h0.7M239.5 295.3h0.7M237.5 302.7h0.7M237.6 300.6h0.7M240.7 289.7h0.7M248.0 283.2h0.7M241.0 298.6h0.7M241.3 295.1h0.7M240.4 291.7h0.7M239.1 302.0h0.7M245.5 292.1h0.7M248.1 286.5h0.7M236.9 295.0h0.7M238.0 299.1h0.7M238.7 299.0h0.7M235.5 286.0h0.7M247.6 297.0h0.7M241.0 288.5h0.7M241.3 295.2h0.7M241.4 296.2h0.7M244.0 303.8h0.7M237.6 293.2h0.7M242.6 286.8h0.7M235.9 293.3h0.7M238.0 294.2h0.7M233.8 298.7h0.7M237.1 288.4h0.7M240.8 304.6h0.7M232.4 295.3h0.7M249.2 294.3h0.7M235.9 305.1h0.7M240.3 301.0h0.7M246.8 299.3h0.7M232.3 288.7h0.7M238.2 291.8h0.7M238.4 284.2h0.7M231.8 299.8h0.7M238.3 298.0h0.7M237.4 295.4h0.7M232.2 306.1h0.7M244.0 287.5h0.7M237.1 297.6h0.7M237.3 295.2h0.7M240.2 284.4h0.7M242.6 298.3h0.7M234.7 294.4h0.7M238.8 293.9h0.7M239.4 286.4h0.7M239.5 298.0h0.7M241.0 298.2h0.7M236.6 296.3h0.7M243.6 296.0h0.7M240.2 295.9h0.7M241.6 287.8h0.7M238.9 300.6h0.7M235.1 298.9h0.7M237.1 293.0h0.7M234.1 290.1h0.7M244.6 286.8h0.7M239.9 287.3h0.7M248.5 299.7h0.7M235.6 288.7h0.7M237.9 297.5h0.7M246.8 304.2h0.7M234.7 296.9h0.7M243.5 291.2h0.7M237.0 301.1h0.7M232.9 295.7h0.7M238.9 293.8h0.7M239.3 285.7h0.7M243.0 292.8h0.7M245.7 290.7h0.7M238.0 302.7h0.7M235.9 293.4h0.7M233.8 291.2h0.7M235.9 297.1h0.7M240.4 293.3h0.7M232.9 297.0h0.7M242.0 295.2h0.7M245.5 292.8h0.7M243.1 297.1h0.7M245.3 305.3h0.7M233.9 284.6h0.7M243.9 297.4h0.7M240.8 292.8h0.7M235.8 302.7h0.7M241.4 292.3h0.7M239.4 297.3h0.7M233.2 291.7h0.7M241.5 296.4h0.7M232.9 297.4h0.7M248.3 299.2h0.7M233.2 292.7h0.7M236.4 290.8h0.7M235.4 292.0h0.7M238.8 288.1h0.7M243.4 297.5h0.7M248.1 300.5h0.7M243.6 298.6h0.7M238.7 289.1h0.7M242.3 296.1h0.7M236.2 298.0h0.7M240.7 291.7h0.7M245.8 292.6h0.7M239.8 301.9h0.7M236.8 293.7h0.7M241.3 293.6h0.7M236.9 288.8h0.7M240.3 293.3h0.7M243.0 301.6h0.7M239.1 300.2h0.7M236.0 305.1h0.7M236.7 294.8h0.7M237.5 292.6h0.7M242.9 295.5h0.7M235.2 300.2h0.7M239.4 299.0h0.7M240.2 292.8h0.7M235.2 302.8h0.7M238.2 304.4h0.7M249.7 302.5h0.7M250.1 290.0h0.7M236.9 289.4h0.7M233.1 287.9h0.7M243.3 290.8h0.7M237.7 299.0h0.7M237.3 304.8h0.7M244.7 299.9h0.7M246.8 298.8h0.7M240.1 302.2h0.7M244.0 287.5h0.7M244.3 301.7h0.7M240.0 304.0h0.7M233.9 296.9h0.7M236.1 290.6h0.7M240.5 287.0h0.7M239.1 299.7h0.7M235.8 289.1h0.7M241.8 301.1h0.7M243.4 292.4h0.7M237.4 303.8h0.7M243.2 297.6h0.7M240.3 294.7h0.7M242.0 299.8h0.7M239.4 297.2h0.7M232.9 294.8h0.7M246.5 296.9h0.7M233.0 292.9h0.7M239.6 304.2h0.7M249.0 295.4h0.7M238.5 296.4h0.7M234.2 303.5h0.7M233.8 300.0h0.7M237.2 289.5h0.7M240.7 305.6h0.7M233.7 296.9h0.7M236.1 302.0h0.7M232.5 288.1h0.7M237.5 288.0h0.7M243.7 286.8h0.7M239.5 292.7h0.7M243.7 292.5h0.7M238.3 305.7h0.7M242.2 303.1h0.7M245.7 298.6h0.7M240.6 285.7h0.7M240.5 302.3h0.7M235.7 293.7h0.7M248.7 289.1h0.7M238.4 295.0h0.7M236.0 304.6h0.7M232.0 293.9h0.7M246.3 283.8h0.7M240.9 291.3h0.7M241.2 294.5h0.7M237.4 296.2h0.7M244.8 288.7h0.7M243.1 297.3h0.7M238.3 291.3h0.7M240.8 300.4h0.7M234.9 300.1h0.7M239.4 300.6h0.7M240.4 294.5h0.7M240.2 299.5h0.7M232.6 295.7h0.7M237.0 295.8h0.7M243.7 301.2h0.7M245.7 301.2h0.7M238.2 290.9h0.7M251.0 291.7h0.7M237.6 298.2h0.7M235.5 296.6h0.7M240.2 292.5h0.7M234.5 295.8h0.7M241.2 289.8h0.7M239.8 296.3h0.7M235.2 298.1h0.7M233.0 301.1h0.7M236.0 301.7h0.7M239.7 296.0h0.7M233.1 300.2h0.7M241.2 296.9h0.7M239.3 299.8h0.7M241.3 298.0h0.7M243.2 294.8h0.7M246.6 286.7h0.7M231.7 299.1h0.7M239.1 286.7h0.7M233.7 291.4h0.7M245.0 299.5h0.7M239.8 288.3h0.7M236.4 292.2h0.7M239.4 299.1h0.7M236.0 292.6h0.7M240.4 305.3h0.7M241.1 293.5h0.7M243.5 294.9h0.7M233.0 299.6h0.7M246.7 289.0h0.7M242.7 288.4h0.7M238.8 295.0h0.7M237.6 295.0h0.7M242.3 292.7h0.7M238.2 293.8h0.7M240.5 291.8h0.7M242.8 297.5h0.7M236.5 288.0h0.7M238.0 301.7h0.7M242.1 295.7h0.7M248.4 304.9h0.7M241.6 303.9h0.7M238.1 293.5h0.7M240.3 284.4h0.7M239.4 292.7h0.7M245.4 299.0h0.7M246.3 293.0h0.7M246.0 296.5h0.7M241.6 298.1h0.7M233.5 301.1h0.7M237.2 299.5h0.7M239.0 289.8h0.7M237.8 297.4h0.7M237.9 305.7h0.7M244.8 296.2h0.7M237.6 304.2h0.7M239.4 302.6h0.7M233.0 283.8h0.7M242.7 301.1h0.7M238.5 294.6h0.7M241.3 298.8h0.7M238.9 295.8h0.7M240.3 302.0h0.7M242.5 280.2h0.7M240.9 293.8h0.7M244.2 299.9h0.7M236.8 295.1h0.7M234.3 296.4h0.7M236.0 303.0h0.7M245.1 293.5h0.7M235.2 303.4h0.7M233.1 293.5h0.7M237.5 297.1h0.7M239.5 290.2h0.7M243.2 297.9h0.7M240.7 305.0h0.7M247.8 297.1h0.7M237.4 294.0h0.7M238.7 289.2h0.7M236.0 292.6h0.7M241.6 300.0h0.7M236.4 289.2h0.7M239.1 285.1h0.7M238.2 296.8h0.7M241.0 293.0h0.7M241.2 300.1h0.7M237.6 289.3h0.7M236.9 297.4h0.7M240.5 285.5h0.7M232.4 286.0h0.7M247.5 298.1h0.7M240.0 288.5h0.7M242.0 280.9h0.7M246.6 297.9h0.7M239.0 297.1h0.7M243.3 283.7h0.7M240.5 287.9h0.7M237.4 294.3h0.7M237.3 291.1h0.7M240.0 293.2h0.7M240.4 300.1h0.7M235.3 294.4h0.7M235.3 300.5h0.7M242.6 301.7h0.7M244.1 296.3h0.7M234.7 291.1h0.7M244.8 296.3h0.7M242.9 292.1h0.7M243.7 286.1h0.7M236.1 296.4h0.7M244.0 301.4h0.7M243.1 302.9h0.7M242.4 300.7h0.7M235.2 288.4h0.7M236.9 303.2h0.7M245.4 289.1h0.7M237.9 296.0h0.7M241.9 297.6h0.7M246.0 297.1h0.7M238.2 294.1h0.7M244.2 294.1h0.7M241.6 293.1h0.7M233.9 282.8h0.7M237.9 290.8h0.7M242.9 293.3h0.7M235.0 299.9h0.7M237.2 296.0h0.7M235.7 304.7h0.7M240.5 294.2h0.7M238.8 283.2h0.7M245.0 295.6h0.7M244.5 290.6h0.7M245.8 291.7h0.7M236.9 295.7h0.7M238.5 296.3h0.7M239.9 294.7h0.7M241.2 293.0h0.7M245.3 299.7h0.7M234.0 292.4h0.7M237.7 301.3h0.7M235.3 293.5h0.7M242.8 301.1h0.7M238.7 294.3h0.7M234.8 302.6h0.7M232.1 291.6h0.7M237.8 298.2h0.7M236.4 296.9h0.7M236.8 298.1h0.7M238.6 289.8h0.7M232.1 289.7h0.7M239.0 299.9h0.7M244.3 301.4h0.7M248.6 301.5h0.7M247.4 300.3h0.7M240.7 285.3h0.7M243.6 294.8h0.7M237.4 287.6h0.7M245.0 295.5h0.7M237.2 290.9h0.7M238.8 298.2h0.7M242.0 296.2h0.7M240.2 296.0h0.7M237.3 302.4h0.7M238.6 292.1h0.7M247.1 290.0h0.7M237.1 296.3h0.7M238.4 295.1h0.7M243.6 301.6h0.7M233.8 289.4h0.7M242.3 289.6h0.7M233.7 300.5h0.7M241.5 297.9h0.7M245.6 301.8h0.7M237.1 292.8h0.7M241.1 293.1h0.7M240.4 300.8h0.7M240.4 287.2h0.7M246.7 295.2h0.7M240.8 285.8h0.7M239.0 287.9h0.7M246.5 292.7h0.7M232.9 294.8h0.7M235.0 296.0h0.7M234.9 285.3h0.7M238.3 293.8h0.7M235.5 299.6h0.7M243.1 295.0h0.7M238.8 297.7h0.7M243.4 296.6h0.7M234.1 299.4h0.7M250.1 299.4h0.7M240.7 292.2h0.7M232.2 298.6h0.7M241.8 298.2h0.7M239.9 303.2h0.7M238.7 284.4h0.7M238.6 296.6h0.7M242.8 298.9h0.7M242.4 298.3h0.7M240.6 288.6h0.7M237.7 301.6h0.7M246.7 279.8h0.7M238.5 293.0h0.7M243.1 283.9h0.7M236.6 296.7h0.7M235.5 285.3h0.7M247.7 294.1h0.7M239.5 299.2h0.7M247.9 291.4h0.7M238.5 293.6h0.7M243.5 301.1h0.7M246.4 293.0h0.7M233.7 291.8h0.7M234.4 298.1h0.7M246.0 294.9h0.7M238.6 295.8h0.7M236.3 297.6h0.7M238.0 296.5h0.7M235.4 298.7h0.7M240.7 290.4h0.7M238.9 287.3h0.7M232.7 289.0h0.7M241.0 293.2h0.7M239.0 297.2h0.7M237.9 294.5h0.7M235.4 299.2h0.7M233.9 295.0h0.7M240.9 292.7h0.7M248.9 297.1h0.7M241.0 285.6h0.7M241.1 288.4h0.7M241.7 297.8h0.7M238.6 292.2h0.7M235.4 291.8h0.7M246.2 290.8h0.7M237.7 298.0h0.7M232.9 293.1h0.7M244.3 297.0h0.7M241.7 299.8h0.7M239.0 281.5h0.7M242.6 298.9h0.7M245.6 288.7h0.7M243.5 304.2h0.7M238.6 293.9h0.7M234.5 299.4h0.7M240.2 298.9h0.7M238.9 295.8h0.7M236.4 301.9h0.7M238.5 303.0h0.7M243.2 291.2h0.7M234.0 301.7h0.7M240.9 293.4h0.7M243.9 283.5h0.7M241.8 293.4h0.7M242.5 292.1h0.7M237.0 299.6h0.7M240.8 287.0h0.7M241.5 299.7h0.7M233.9 289.7h0.7M234.5 289.9h0.7M238.0 303.4h0.7M237.3 301.2h0.7M243.8 293.1h0.7M240.9 301.4h0.7M240.2 305.1h0.7M240.9 305.0h0.7M234.6 296.9h0.7M236.6 293.1h0.7M238.1 298.6h0.7M232.5 285.4h0.7M242.6 297.3h0.7M243.4 300.5h0.7M240.6 292.5h0.7M241.4 290.0h0.7M233.1 293.6h0.7M249.3 289.8h0.7M245.2 294.5h0.7M247.0 292.6h0.7M233.7 291.7h0.7M238.2 298.9h0.7M235.8 296.8h0.7M249.9 295.7h0.7M235.6 295.5h0.7M237.6 297.1h0.7M235.4 293.7h0.7M242.4 295.6h0.7M235.3 297.6h0.7M234.9 300.2h0.7M236.5 303.2h0.7M239.6 282.6h0.7M233.9 299.5h0.7M242.5 301.5h0.7M241.4 292.8h0.7M239.7 295.8h0.7M239.1 301.5h0.7M234.8 293.7h0.7M245.1 294.7h0.7M241.6 292.3h0.7M239.3 303.2h0.7M246.4 295.8h0.7M236.2 304.4h0.7M243.9 294.7h0.7M238.8 295.2h0.7M234.7 293.1h0.7M240.5 285.5h0.7M235.4 277.9h0.7M243.4 296.2h0.7M235.8 305.3h0.7M241.3 288.9h0.7M236.7 285.8h0.7M234.7 285.2h0.7M247.3 299.7h0.7M245.0 298.2h0.7M235.6 301.4h0.7M241.3 291.2h0.7M233.5 293.8h0.7M243.5 298.7h0.7M239.7 293.9h0.7M239.9 289.8h0.7M242.6 304.9h0.7M236.3 286.2h0.7M239.1 285.2h0.7M248.2 294.9h0.7M241.0 296.6h0.7M236.7 291.0h0.7M239.4 301.9h0.7M246.0 293.7h0.7M236.7 293.1h0.7M240.8 289.5h0.7M243.5 294.0h0.7M235.5 299.6h0.7M245.6 290.1h0.7M238.2 294.4h0.7M241.5 300.2h0.7M238.5 289.9h0.7M236.3 300.7h0.7M247.6 296.5h0.7M244.4 291.1h0.7M233.2 289.9h0.7M252.7 303.0h0.7M234.5 290.8h0.7M237.3 287.7h0.7M241.8 288.9h0.7M237.9 298.9h0.7M237.9 301.3h0.7M236.6 302.5h0.7M236.0 291.9h0.7M232.3 297.4h0.7M242.2 295.5h0.7M245.7 299.3h0.7M240.7 285.5h0.7M238.2 297.6h0.7M233.5 304.3h0.7M240.6 304.5h0.7M245.4 296.3h0.7M237.4 305.2h0.7M234.5 294.1h0.7M244.3 294.9h0.7M235.3 288.4h0.7M236.8 303.1h0.7M251.8 289.5h0.7M233.4 299.2h0.7M238.2 292.8h0.7M238.4 303.5h0.7M242.6 290.8h0.7M241.4 288.0h0.7M244.3 283.1h0.7M237.0 300.9h0.7M247.0 298.5h0.7M243.4 299.3h0.7M240.9 292.0h0.7M239.8 291.3h0.7M235.1 297.8h0.7M237.5 296.5h0.7M244.0 291.1h0.7M243.7 288.5h0.7M243.1 297.9h0.7M241.4 299.8h0.7M240.1 284.8h0.7M246.9 296.7h0.7M240.0 295.7h0.7M240.9 294.0h0.7M232.8 288.2h0.7M247.3 299.1h0.7M234.1 305.2h0.7M240.4 288.6h0.7M235.4 291.4h0.7M244.4 300.0h0.7M237.9 293.9h0.7M235.8 296.1h0.7M234.2 300.8h0.7M238.6 301.2h0.7M246.4 297.3h0.7M243.2 276.8h0.7M234.7 296.9h0.7M235.0 302.0h0.7M237.5 294.3h0.7M236.7 303.3h0.7M241.5 295.1h0.7M243.1 293.8h0.7M235.3 295.1h0.7M238.0 302.0h0.7M235.9 288.9h0.7M245.4 300.9h0.7M237.4 296.2h0.7M236.6 282.2h0.7M238.5 298.5h0.7M242.2 296.9h0.7M240.2 294.4h0.7M238.7 294.0h0.7M250.7 295.9h0.7M239.8 282.8h0.7M238.9 298.9h0.7M242.4 285.9h0.7M238.8 305.1h0.7M238.2 294.2h0.7M241.9 294.9h0.7M236.6 291.5h0.7M241.8 299.1h0.7M235.6 298.0h0.7M234.2 285.4h0.7M242.1 287.6h0.7M232.6 293.4h0.7M237.6 304.9h0.7M240.0 285.4h0.7M233.1 297.1h0.7M232.7 298.1h0.7M244.0 299.1h0.7M247.2 301.8h0.7M250.2 290.5h0.7M238.5 300.7h0.7M243.8 304.6h0.7M238.4 291.2h0.7M238.2 291.0h0.7M239.5 293.3h0.7M242.7 291.1h0.7M243.4 290.6h0.7M244.8 302.9h0.7M239.0 294.1h0.7M240.7 298.2h0.7M234.3 299.8h0.7M233.5 296.7h0.7M235.2 280.9h0.7M244.2 291.9h0.7M237.6 297.5h0.7M240.8 299.0h0.7M233.1 297.4h0.7M243.6 300.1h0.7M246.0 286.5h0.7M244.8 286.5h0.7M233.9 296.7h0.7M250.1 302.8h0.7M238.5 296.0h0.7M244.3 287.9h0.7M237.5 291.8h0.7M244.7 298.9h0.7M240.6 303.0h0.7M238.0 289.8h0.7M243.4 284.1h0.7M240.4 295.3h0.7M235.1 303.9h0.7M242.7 301.0h0.7M243.8 295.4h0.7M244.3 299.2h0.7M241.8 302.1h0.7M248.4 285.1h0.7M237.0 286.4h0.7M233.3 299.7h0.7M234.6 294.2h0.7M236.5 301.5h0.7M246.7 296.2h0.7M235.9 291.9h0.7M238.3 285.4h0.7M233.5 296.6h0.7M240.3 296.5h0.7M240.8 290.9h0.7M238.7 289.2h0.7M240.3 283.1h0.7M241.6 296.9h0.7M237.2 296.4h0.7M244.0 295.9h0.7M248.2 302.9h0.7M239.7 294.2h0.7M233.7 288.8h0.7M240.1 296.2h0.7M240.8 305.8h0.7M241.1 297.9h0.7M238.1 288.8h0.7M237.1 294.9h0.7M242.5 299.7h0.7M234.5 294.8h0.7M242.7 286.7h0.7M238.1 286.5h0.7M236.0 302.6h0.7M234.4 301.1h0.7M238.5 285.6h0.7M240.1 296.9h0.7M238.0 302.9h0.7M237.8 300.0h0.7M239.2 292.2h0.7M241.0 302.0h0.7M245.9 302.8h0.7M238.0 302.8h0.7M233.7 300.3h0.7M244.0 293.8h0.7M245.5 300.1h0.7M238.5 304.4h0.7M249.1 295.0h0.7M240.4 297.6h0.7M243.0 293.0h0.7M238.2 302.8h0.7M238.7 303.7h0.7M240.5 306.1h0.7M246.1 288.4h0.7M242.5 294.0h0.7M236.5 300.9h0.7M244.2 298.8h0.7M244.4 305.6h0.7M240.9 299.4h0.7M241.5 304.8h0.7M235.3 295.1h0.7M233.7 292.1h0.7M240.9 293.4h0.7M235.8 294.1h0.7M239.9 291.1h0.7M240.2 291.8h0.7M240.8 299.8h0.7M248.2 291.0h0.7M238.7 290.5h0.7M244.3 289.8h0.7M249.9 296.3h0.7M238.3 295.0h0.7M235.1 299.6h0.7M245.4 290.8h0.7M243.2 298.8h0.7M246.6 295.0h0.7M235.8 297.1h0.7M241.5 294.0h0.7M235.0 299.6h0.7M232.0 288.5h0.7M238.8 287.3h0.7M241.7 285.7h0.7M238.5 298.2h0.7M245.6 290.5h0.7M240.6 303.0h0.7M235.6 298.0h0.7M244.6 302.5h0.7M239.1 297.9h0.7M236.1 299.0h0.7M241.3 292.5h0.7M250.4 299.7h0.7M235.5 295.9h0.7M241.6 289.2h0.7M235.2 300.3h0.7M239.0 295.3h0.7M244.2 294.0h0.7M232.5 288.8h0.7M238.6 294.5h0.7M237.6 290.2h0.7M241.3 297.4h0.7M233.9 291.9h0.7M240.1 280.8h0.7M242.6 295.1h0.7M254.0 295.1h0.7M238.9 295.7h0.7M238.3 291.5h0.7M244.4 297.7h0.7M240.8 294.0h0.7M241.0 294.0h0.7M239.7 305.4h0.7M241.9 301.8h0.7M237.8 293.6h0.7M232.9 304.8h0.7M244.6 295.2h0.7M241.5 297.2h0.7M245.6 298.8h0.7M238.9 289.1h0.7M238.2 303.0h0.7M236.0 294.1h0.7M242.2 305.6h0.7M237.0 300.7h0.7M237.5 284.8h0.7M237.4 289.0h0.7M232.3 293.7h0.7M244.9 295.6h0.7M239.1 303.9h0.7M235.5 286.1h0.7M237.4 288.7h0.7M240.2 299.6h0.7M238.9 295.3h0.7M233.6 287.0h0.7M240.6 304.3h0.7M234.6 282.3h0.7M239.0 297.2h0.7M235.3 283.8h0.7M245.5 283.8h0.7M241.6 300.8h0.7M245.4 295.2h0.7M243.6 294.0h0.7M242.7 303.8h0.7M239.1 284.7h0.7M241.2 276.9h0.7M245.7 291.7h0.7M236.7 301.7h0.7M243.3 298.6h0.7M236.5 300.0h0.7M239.9 293.3h0.7M235.5 298.5h0.7M235.7 303.7h0.7M240.1 284.9h0.7M247.9 286.8h0.7M236.4 292.9h0.7M240.0 304.2h0.7M237.2 292.3h0.7M245.2 295.4h0.7M242.9 295.8h0.7M236.8 291.7h0.7M234.6 290.6h0.7M240.0 295.2h0.7M242.9 296.2h0.7M241.1 290.1h0.7M247.6 293.7h0.7M243.3 290.0h0.7M235.0 297.9h0.7M243.2 299.1h0.7M244.4 296.1h0.7M238.5 296.1h0.7M235.1 293.3h0.7M242.9 292.1h0.7M242.9 295.1h0.7M238.8 299.2h0.7M244.6 293.6h0.7M242.0 292.1h0.7M235.3 292.6h0.7M244.6 282.7h0.7M242.2 292.9h0.7M242.2 296.7h0.7M231.8 292.5h0.7M235.6 301.2h0.7M234.6 292.4h0.7M238.1 296.0h0.7M249.9 284.7h0.7M238.7 289.7h0.7M237.9 292.9h0.7M241.6 300.1h0.7M239.5 302.8h0.7M237.7 287.5h0.7M237.5 298.5h0.7M242.6 289.8h0.7M245.3 300.1h0.7M246.9 299.9h0.7M233.8 299.1h0.7M239.8 286.6h0.7M243.3 293.9h0.7M241.1 305.7h0.7M245.3 292.9h0.7M242.6 301.9h0.7M239.9 302.3h0.7M245.1 295.8h0.7M251.0 296.8h0.7M237.6 296.1h0.7M232.4 288.8h0.7M243.4 287.0h0.7M239.0 301.7h0.7M243.5 299.9h0.7M238.9 293.2h0.7M243.1 301.9h0.7M240.6 302.9h0.7M242.2 291.6h0.7M237.1 297.6h0.7M235.2 296.8h0.7M247.9 298.0h0.7M248.5 300.2h0.7M237.3 298.4h0.7M247.6 295.2h0.7M236.3 304.2h0.7M247.0 301.3h0.7M237.2 297.1h0.7M243.8 300.1h0.7M247.2 292.5h0.7M247.4 293.0h0.7M234.2 295.6h0.7M237.2 303.3h0.7M236.1 298.8h0.7M250.4 289.4h0.7M248.0 294.3h0.7M240.4 298.8h0.7M236.2 292.8h0.7M249.3 293.6h0.7M248.6 292.6h0.7M235.4 286.5h0.7M236.4 296.1h0.7M247.1 290.7h0.7M241.0 303.7h0.7M246.8 305.4h0.7M240.1 290.4h0.7M241.1 300.7h0.7M233.7 296.4h0.7M236.3 294.0h0.7M239.7 294.8h0.7M241.4 295.4h0.7M232.2 294.5h0.7M250.9 297.4h0.7M242.5 301.5h0.7M243.3 293.5h0.7M234.8 302.1h0.7M239.2 300.1h0.7M238.2 302.4h0.7M240.0 299.2h0.7M245.1 287.8h0.7M247.5 304.7h0.7M237.6 289.8h0.7M243.8 293.6h0.7M234.0 305.9h0.7M240.2 292.6h0.7M231.8 300.0h0.7M243.4 300.0h0.7M232.9 294.5h0.7M240.9 296.0h0.7M241.5 296.3h0.7M240.7 298.9h0.7M245.6 304.5h0.7M240.7 287.7h0.7M251.2 290.4h0.7M242.8 304.0h0.7M245.5 304.7h0.7M244.8 289.7h0.7M246.2 296.4h0.7M248.7 294.4h0.7M247.1 291.5h0.7M239.1 297.5h0.7M249.2 293.9h0.7M243.4 303.6h0.7M240.4 299.1h0.7M254.9 297.7h0.7M246.2 304.4h0.7M251.5 304.2h0.7M236.7 299.9h0.7M238.9 296.4h0.7M237.0 294.1h0.7M253.1 291.4h0.7M244.8 291.6h0.7M243.3 293.7h0.7M249.4 304.3h0.7M239.0 297.1h0.7M243.5 290.2h0.7M237.8 289.6h0.7M236.9 298.0h0.7M245.5 295.1h0.7M242.7 295.7h0.7M235.5 305.7h0.7M239.8 295.1h0.7M251.1 296.6h0.7M248.2 284.6h0.7M245.9 292.3h0.7M238.3 302.6h0.7M253.5 286.3h0.7M250.5 296.4h0.7M237.6 303.3h0.7M240.1 295.1h0.7M239.4 296.8h0.7M237.4 303.5h0.7M252.8 293.4h0.7M236.3 297.3h0.7M235.6 298.5h0.7M242.1 298.0h0.7M235.8 299.5h0.7M232.0 296.0h0.7M239.9 298.2h0.7M246.9 297.0h0.7M233.9 300.1h0.7M240.0 301.9h0.7M252.7 305.7h0.7M240.8 293.0h0.7M242.6 297.0h0.7M235.7 290.2h0.7M249.2 293.0h0.7M248.3 303.4h0.7M234.4 300.0h0.7M240.4 290.6h0.7M236.6 298.7h0.7M247.8 294.3h0.7M239.5 303.2h0.7M238.1 294.5h0.7M236.0 293.0h0.7M237.7 294.1h0.7M261.6 295.1h0.7M246.4 291.4h0.7M247.0 299.8h0.7M234.2 292.4h0.7M235.9 297.6h0.7M246.5 297.5h0.7M235.5 293.0h0.7M252.5 295.7h0.7M253.3 297.4h0.7M238.4 296.0h0.7M244.5 302.0h0.7M238.4 300.5h0.7M231.9 289.6h0.7M236.2 301.5h0.7M238.5 295.8h0.7M238.8 290.5h0.7M245.0 290.6h0.7M232.3 299.8h0.7M237.6 295.0h0.7M246.4 292.5h0.7M231.9 300.1h0.7M234.1 298.7h0.7M253.8 290.6h0.7M240.5 297.3h0.7M241.9 297.2h0.7M246.1 294.5h0.7M234.3 298.9h0.7M242.5 288.7h0.7M246.2 296.0h0.7M247.8 297.9h0.7M232.1 296.0h0.7M245.8 303.2h0.7M239.7 301.2h0.7M250.2 299.4h0.7M251.1 301.3h0.7M234.2 291.6h0.7M249.2 293.3h0.7M235.2 298.0h0.7M238.5 302.3h0.7M242.3 303.8h0.7M244.0 299.9h0.7M234.3 299.4h0.7M243.2 298.2h0.7M242.1 298.4h0.7M238.2 301.3h0.7M240.9 293.5h0.7M247.3 301.8h0.7M249.0 295.9h0.7M247.6 305.7h0.7M245.6 300.1h0.7M240.7 290.0h0.7M233.8 297.7h0.7M248.4 300.7h0.7M237.2 299.1h0.7M240.2 294.3h0.7M240.8 302.4h0.7M233.0 295.9h0.7M240.7 292.9h0.7M234.5 300.3h0.7M256.1 298.4h0.7M237.4 306.1h0.7M242.1 288.4h0.7M237.2 288.2h0.7M238.8 305.5h0.7M248.0 296.4h0.7M236.5 296.0h0.7M233.5 293.3h0.7M243.5 298.7h0.7M242.4 297.3h0.7M241.2 302.2h0.7M242.1 293.0h0.7M247.7 302.1h0.7M239.2 301.7h0.7M244.2 295.7h0.7M242.6 294.2h0.7M250.5 295.8h0.7M241.5 301.5h0.7M251.4 288.6h0.7M256.0 301.2h0.7M232.6 298.9h0.7M256.1 298.6h0.7M250.7 303.5h0.7M236.6 300.0h0.7M253.3 294.1h0.7M241.8 295.3h0.7M237.4 297.1h0.7M237.1 303.4h0.7M233.4 302.6h0.7M238.2 294.2h0.7M240.5 302.1h0.7M236.8 287.6h0.7M244.9 304.9h0.7M241.3 298.8h0.7M244.5 299.5h0.7M259.1 297.6h0.7M244.7 302.7h0.7M244.8 289.5h0.7M243.9 296.5h0.7M234.1 302.9h0.7M236.5 300.2h0.7M236.2 301.2h0.7M250.4 293.9h0.7M235.6 302.9h0.7M234.8 303.5h0.7M243.8 293.6h0.7M237.2 304.9h0.7M247.0 298.9h0.7M242.6 303.7h0.7M236.8 299.9h0.7M244.3 304.9h0.7M238.5 297.3h0.7M243.0 297.1h0.7M239.3 301.0h0.7M237.7 296.8h0.7M242.9 298.8h0.7M238.5 297.8h0.7M232.7 294.4h0.7M236.1 292.7h0.7M239.4 297.7h0.7M240.1 296.4h0.7M237.2 302.8h0.7M244.8 291.7h0.7M242.6 294.0h0.7M245.5 294.4h0.7M243.2 294.5h0.7M239.8 300.1h0.7M245.9 291.3h0.7M237.2 294.1h0.7M239.5 296.7h0.7M234.9 285.0h0.7M238.6 299.7h0.7M233.5 297.5h0.7M241.5 293.4h0.7M233.4 292.8h0.7M237.3 303.5h0.7M241.7 295.1h0.7M237.6 302.1h0.7M236.3 293.7h0.7M246.4 298.1h0.7M250.2 296.9h0.7M238.9 300.3h0.7M242.4 298.4h0.7M234.4 294.8h0.7M235.7 295.6h0.7M250.0 293.6h0.7M244.3 300.4h0.7M242.6 300.0h0.7M242.4 303.2h0.7M243.7 294.9h0.7M236.7 293.8h0.7M235.6 293.8h0.7M242.6 303.0h0.7M239.6 303.3h0.7M248.9 301.6h0.7M248.5 300.6h0.7M242.6 298.0h0.7M232.0 297.9h0.7M245.3 299.5h0.7M237.0 301.3h0.7M254.5 296.7h0.7M241.9 290.9h0.7M246.5 290.0h0.7M239.5 302.7h0.7M245.1 281.7h0.7M235.4 285.9h0.7M238.9 290.7h0.7M256.6 304.1h0.7M234.1 296.5h0.7M241.4 303.0h0.7M250.7 301.4h0.7M232.1 282.2h0.7M246.4 291.4h0.7M250.0 302.1h0.7M241.5 302.3h0.7M236.0 303.3h0.7M241.7 295.1h0.7M235.5 287.6h0.7M238.7 300.8h0.7M238.2 295.8h0.7M240.8 298.0h0.7M235.2 296.7h0.7M243.1 300.2h0.7M237.0 295.4h0.7M245.5 305.7h0.7M238.0 300.7h0.7M246.2 299.9h0.7M234.6 298.2h0.7M241.6 292.4h0.7M241.4 298.0h0.7M243.2 293.8h0.7M249.4 296.6h0.7M234.0 292.0h0.7M248.5 292.1h0.7M243.3 300.4h0.7M237.0 301.8h0.7M248.3 297.7h0.7M241.0 301.4h0.7M241.6 304.7h0.7M246.4 298.5h0.7M242.6 296.1h0.7M245.7 294.4h0.7M240.8 291.7h0.7M257.7 299.6h0.7M241.4 300.4h0.7M238.3 301.9h0.7M245.6 299.4h0.7M248.1 296.5h0.7M242.8 296.5h0.7M236.3 292.6h0.7M235.1 295.6h0.7M236.2 300.1h0.7M235.9 293.0h0.7M242.8 299.1h0.7M243.1 304.2h0.7M250.7 300.7h0.7M251.8 302.3h0.7M240.5 291.8h0.7M241.4 290.6h0.7M235.5 296.0h0.7M244.0 294.8h0.7M240.6 297.9h0.7M242.9 301.2h0.7M244.4 296.6h0.7M242.2 294.9h0.7M232.5 295.1h0.7M240.9 287.7h0.7M246.5 299.9h0.7M234.8 286.4h0.7M250.9 306.0h0.7M244.5 304.0h0.7M250.4 293.1h0.7M252.1 294.0h0.7M238.6 284.6h0.7M238.7 289.3h0.7M257.0 299.9h0.7M247.3 295.6h0.7M247.7 300.8h0.7M238.3 300.8h0.7M238.1 291.4h0.7M237.7 294.9h0.7M250.3 297.2h0.7M243.4 298.1h0.7M243.3 298.5h0.7M239.0 291.2h0.7M242.0 296.5h0.7M233.9 296.8h0.7M248.8 293.3h0.7M246.6 290.0h0.7M254.7 301.8h0.7M236.0 300.1h0.7M234.1 291.5h0.7M238.2 293.9h0.7M243.3 291.5h0.7M243.8 300.3h0.7M246.8 301.3h0.7M246.0 303.4h0.7M250.0 303.5h0.7M249.4 291.2h0.7M239.2 305.6h0.7M236.7 301.9h0.7M248.6 305.0h0.7M236.7 299.3h0.7M240.1 301.4h0.7M249.4 297.9h0.7M248.3 305.4h0.7M242.1 295.9h0.7M237.0 291.8h0.7M237.9 297.0h0.7M247.9 294.5h0.7M236.1 297.7h0.7M239.5 304.6h0.7M241.2 305.4h0.7M241.7 284.5h0.7M239.8 292.2h0.7M241.1 293.2h0.7M247.6 296.6h0.7M238.7 295.6h0.7M238.6 301.8h0.7M242.8 298.2h0.7M249.4 294.9h0.7M246.3 302.3h0.7M243.3 295.4h0.7M240.1 303.8h0.7M234.4 302.9h0.7M244.9 300.2h0.7M244.8 295.5h0.7M252.7 298.3h0.7M247.0 297.0h0.7M238.8 303.7h0.7M234.1 297.9h0.7M235.1 289.7h0.7M248.1 298.1h0.7M257.8 303.5h0.7M239.5 299.9h0.7M239.1 299.2h0.7M240.2 299.0h0.7M237.8 302.5h0.7M232.6 289.1h0.7M241.9 301.0h0.7M246.7 290.1h0.7M253.8 301.3h0.7M240.1 303.4h0.7M252.9 303.2h0.7M242.6 296.5h0.7M237.2 295.8h0.7M232.5 299.9h0.7M248.5 296.5h0.7M246.7 301.5h0.7M240.2 297.8h0.7M251.8 294.1h0.7M236.2 295.9h0.7M235.7 301.0h0.7M245.4 296.6h0.7M245.7 288.7h0.7M248.0 292.7h0.7M247.4 294.7h0.7M245.5 301.6h0.7M246.0 301.3h0.7M242.7 296.4h0.7M246.9 300.0h0.7M238.8 303.9h0.7M252.3 295.0h0.7M238.3 292.6h0.7M232.6 299.0h0.7M248.1 290.6h0.7M239.5 299.8h0.7M237.0 302.6h0.7M245.5 297.8h0.7M249.6 299.9h0.7M249.1 301.3h0.7M239.4 306.0h0.7M236.3 300.1h0.7M238.9 293.8h0.7M232.0 304.2h0.7M250.8 303.8h0.7M242.0 301.3h0.7M243.1 301.2h0.7M244.5 303.8h0.7M242.3 295.4h0.7M241.0 297.5h0.7M239.1 297.5h0.7M241.7 300.6h0.7M240.0 298.0h0.7M241.3 297.5h0.7M249.0 293.5h0.7M235.7 300.7h0.7M239.8 302.9h0.7M248.4 293.3h0.7M248.8 293.8h0.7M243.4 296.2h0.7M245.2 296.5h0.7M235.1 294.1h0.7M240.1 303.9h0.7M238.0 297.8h0.7M238.3 291.7h0.7M238.4 294.8h0.7M249.6 299.0h0.7M250.3 297.7h0.7M242.3 305.4h0.7M244.4 298.5h0.7M244.6 299.9h0.7M249.2 295.0h0.7M237.9 293.5h0.7M249.8 301.4h0.7M239.0 301.0h0.7M254.8 302.2h0.7M240.6 293.2h0.7M249.6 296.5h0.7M235.2 296.0h0.7M256.6 296.0h0.7M253.3 286.0h0.7M246.8 296.8h0.7" stroke="#111" stroke-width="0.7" fill="none"/>
<path d="M244.6 285.8h0.6M245.6 296.9h0.6M240.7 298.2h0.6M249.3 281.0h0.6M257.8 292.6h0.6M250.2 303.7h0.6M236.0 281.9h0.6M256.3 298.4h0.6M235.4 287.8h0.6M241.6 292.1h0.6M233.9 291.5h0.6M239.3 295.1h0.6M235.4 286.4h0.6M244.2 297.0h0.6M243.8 292.7h0.6M241.9 285.7h0.6M239.7 283.5h0.6M247.5 294.6h0.6M241.8 283.6h0.6M239.9 289.6h0.6M251.4 288.1h0.6M244.8 285.3h0.6M248.4 288.7h0.6M236.2 274.3h0.6M240.4 288.0h0.6M252.5 280.1h0.6M238.3 280.3h0.6M249.4 293.4h0.6M240.1 296.4h0.6M244.4 286.8h0.6M242.6 296.3h0.6M245.4 291.6h0.6M243.9 283.9h0.6M241.8 295.9h0.6M239.9 288.4h0.6M232.8 296.3h0.6M251.6 291.1h0.6M244.5 292.8h0.6M243.5 289.2h0.6M251.2 293.7h0.6M240.2 280.4h0.6M251.3 289.3h0.6M247.6 286.6h0.6M233.3 296.2h0.6M252.4 276.8h0.6M244.5 290.1h0.6M239.1 295.6h0.6M235.8 287.7h0.6M245.3 297.2h0.6M243.0 300.9h0.6M252.3 294.6h0.6M232.1 282.9h0.6M250.3 305.0h0.6M244.7 298.6h0.6M240.0 288.6h0.6M249.0 276.8h0.6M241.5 283.6h0.6M245.1 296.1h0.6M244.7 302.9h0.6M243.8 301.9h0.6M245.0 273.5h0.6M242.9 283.4h0.6M240.1 270.4h0.6M241.1 288.1h0.6M234.1 289.0h0.6M249.6 291.7h0.6M248.5 283.4h0.6M256.8 283.1h0.6M233.2 292.8h0.6M247.8 302.3h0.6M249.0 299.4h0.6M238.2 272.4h0.6M255.0 280.9h0.6M248.2 298.3h0.6M240.6 282.5h0.6M253.7 291.1h0.6M244.4 292.2h0.6M245.8 296.4h0.6M244.5 299.5h0.6M242.8 279.4h0.6M236.7 295.9h0.6M235.9 293.0h0.6M249.1 285.4h0.6M242.8 280.2h0.6M233.1 295.3h0.6M244.8 281.5h0.6M239.6 285.1h0.6M240.4 285.5h0.6M239.0 279.6h0.6M239.8 301.6h0.6M241.3 296.7h0.6M240.3 287.4h0.6M254.6 293.3h0.6M238.5 297.1h0.6M231.9 278.2h0.6M240.7 287.4h0.6M243.7 280.4h0.6M246.4 289.3h0.6M241.0 293.8h0.6M240.2 300.0h0.6M236.0 293.6h0.6M241.8 271.3h0.6M235.1 286.7h0.6M246.5 279.9h0.6M238.4 286.7h0.6M250.6 299.0h0.6M234.7 284.3h0.6M237.2 272.5h0.6M260.7 284.5h0.6M245.3 286.6h0.6M240.5 277.7h0.6M234.4 289.5h0.6M237.4 296.7h0.6M238.6 294.2h0.6M246.9 280.5h0.6M252.4 289.1h0.6M262.4 286.1h0.6M251.0 297.1h0.6M242.9 299.0h0.6M234.1 297.5h0.6M242.6 296.1h0.6M247.8 291.9h0.6M253.7 278.9h0.6M239.9 299.7h0.6M234.6 297.2h0.6M243.2 293.4h0.6M248.3 280.7h0.6M249.1 297.0h0.6M233.8 281.8h0.6M254.3 286.9h0.6M249.0 291.4h0.6M231.8 280.5h0.6M240.8 303.9h0.6M255.0 282.8h0.6M249.3 284.3h0.6M243.7 298.7h0.6M254.2 291.6h0.6M245.1 295.7h0.6M237.1 297.4h0.6M243.5 284.4h0.6M242.0 288.5h0.6M239.0 297.1h0.6M249.1 299.1h0.6M239.2 296.7h0.6M240.6 305.5h0.6M234.2 299.9h0.6M238.5 276.1h0.6M248.7 279.6h0.6M235.8 290.4h0.6M246.1 289.9h0.6M246.0 293.4h0.6M254.2 285.9h0.6M248.4 288.5h0.6M236.1 288.5h0.6M248.1 299.7h0.6M246.6 293.0h0.6M237.6 299.3h0.6M257.9 294.0h0.6M256.7 292.1h0.6M240.9 298.7h0.6M243.8 289.0h0.6M238.5 292.1h0.6M242.6 277.2h0.6M246.7 305.7h0.6M245.7 295.0h0.6M247.0 298.7h0.6M248.9 288.2h0.6M233.8 294.9h0.6M246.2 286.4h0.6M240.7 295.1h0.6M255.3 285.9h0.6M235.5 290.9h0.6M236.5 286.8h0.6M235.4 301.1h0.6M246.4 292.6h0.6M247.6 298.5h0.6M235.3 296.0h0.6M238.0 278.3h0.6M246.0 286.2h0.6M254.4 288.8h0.6M240.8 283.8h0.6M241.6 290.4h0.6M247.9 284.6h0.6M237.2 282.0h0.6M237.5 287.7h0.6M241.7 285.4h0.6M250.0 284.9h0.6M244.8 289.9h0.6M245.8 291.8h0.6M239.5 290.9h0.6M238.8 289.9h0.6M251.9 298.2h0.6M253.5 284.0h0.6M252.3 294.8h0.6M248.0 288.8h0.6M256.7 283.6h0.6M244.8 279.7h0.6M240.7 294.4h0.6M244.8 293.4h0.6M253.2 282.3h0.6M261.1 297.3h0.6M241.9 299.0h0.6M236.3 297.4h0.6M239.8 285.2h0.6M235.3 286.1h0.6M250.4 299.0h0.6M241.9 305.6h0.6M242.1 303.3h0.6M233.3 296.3h0.6M234.6 288.4h0.6M241.5 275.7h0.6M245.9 291.8h0.6M242.0 277.7h0.6M237.8 299.8h0.6M239.6 289.5h0.6M242.0 289.3h0.6M234.4 289.8h0.6M240.5 279.8h0.6M239.4 285.7h0.6M238.6 292.9h0.6M250.9 287.5h0.6M235.5 294.7h0.6M251.6 294.1h0.6M236.3 299.1h0.6M239.4 281.1h0.6M242.7 285.3h0.6M248.7 284.4h0.6M251.8 297.1h0.6M232.6 287.6h0.6M240.0 284.3h0.6M245.7 289.1h0.6M256.1 293.3h0.6M250.2 299.2h0.6M246.3 298.0h0.6M237.5 299.5h0.6M250.5 300.1h0.6M238.6 286.4h0.6M251.9 290.5h0.6M262.8 295.4h0.6M234.0 296.5h0.6M244.9 275.2h0.6M238.3 272.6h0.6M263.4 281.3h0.6M236.4 288.3h0.6M236.7 301.3h0.6M240.9 279.2h0.6M248.9 293.9h0.6M231.9 298.9h0.6M232.5 283.5h0.6M254.4 286.9h0.6M243.3 284.1h0.6M240.6 274.0h0.6M240.5 284.5h0.6M250.1 287.4h0.6M236.3 287.0h0.6M244.9 288.3h0.6M258.7 279.3h0.6M245.6 306.0h0.6M237.9 280.1h0.6M236.9 298.0h0.6M248.1 292.0h0.6M249.3 288.8h0.6M248.0 288.9h0.6M241.6 281.9h0.6M242.6 290.2h0.6M235.9 284.9h0.6M239.9 302.8h0.6M246.6 296.6h0.6M253.2 296.9h0.6M255.9 302.9h0.6M248.6 290.2h0.6M244.0 290.3h0.6M237.2 278.1h0.6M246.2 279.8h0.6M248.4 305.7h0.6M243.8 283.2h0.6M238.0 296.1h0.6M242.3 287.4h0.6M245.0 281.3h0.6M235.0 294.3h0.6M237.3 296.2h0.6M239.2 291.7h0.6M241.7 301.7h0.6M240.8 291.7h0.6M234.2 292.2h0.6M241.7 293.6h0.6M243.6 293.6h0.6M246.0 299.5h0.6M235.4 286.6h0.6M244.9 278.6h0.6M260.2 274.3h0.6M247.1 287.0h0.6M247.9 303.6h0.6M257.6 285.1h0.6M243.5 284.7h0.6M232.3 292.1h0.6M238.1 280.7h0.6M240.4 286.0h0.6M234.1 292.7h0.6M247.1 294.1h0.6M237.6 283.5h0.6M250.6 283.8h0.6M232.3 281.0h0.6M253.9 289.4h0.6M239.6 291.6h0.6M243.0 288.4h0.6M241.6 296.4h0.6M250.3 281.9h0.6M241.9 290.4h0.6M248.3 297.2h0.6M242.2 295.6h0.6M252.4 301.1h0.6M236.6 292.5h0.6M245.7 282.1h0.6M240.3 287.2h0.6M249.9 291.4h0.6M258.5 295.5h0.6M239.6 293.3h0.6M243.7 284.4h0.6M245.8 279.6h0.6M244.5 287.2h0.6M243.8 285.3h0.6M256.4 285.6h0.6M249.1 291.6h0.6M252.0 285.4h0.6M233.2 296.8h0.6M251.1 296.5h0.6M254.3 291.3h0.6M236.1 295.3h0.6M247.7 302.4h0.6M239.9 289.3h0.6M232.4 290.0h0.6M237.6 291.2h0.6M237.2 294.7h0.6M242.2 285.4h0.6M247.5 295.4h0.6M241.0 289.5h0.6M249.3 295.2h0.6M239.2 280.4h0.6M238.0 292.8h0.6M250.1 283.2h0.6M245.9 280.6h0.6M242.7 289.1h0.6M255.0 275.9h0.6M239.1 275.6h0.6M239.2 288.4h0.6M243.0 299.6h0.6M235.9 286.5h0.6M254.3 291.4h0.6M235.5 291.2h0.6M234.4 283.9h0.6M238.8 278.7h0.6M256.9 287.8h0.6M244.7 289.0h0.6M242.1 284.4h0.6M246.2 287.5h0.6M236.4 298.5h0.6M254.7 294.7h0.6M246.9 288.4h0.6M243.9 296.9h0.6M243.2 301.9h0.6M254.0 293.0h0.6M244.7 284.2h0.6M239.6 285.7h0.6M240.3 283.7h0.6M245.9 293.7h0.6M241.8 304.3h0.6M244.9 290.6h0.6M244.5 286.2h0.6M248.8 283.6h0.6M245.1 282.4h0.6M234.3 300.4h0.6M253.2 287.3h0.6M245.0 287.2h0.6M235.7 294.6h0.6M237.7 295.9h0.6M245.5 286.0h0.6M243.6 291.4h0.6M241.7 289.2h0.6M252.4 285.1h0.6M244.1 299.4h0.6M246.0 287.7h0.6M234.1 288.8h0.6M242.8 301.7h0.6M247.8 299.5h0.6M246.5 293.0h0.6M241.2 290.3h0.6M233.4 278.6h0.6M244.3 288.8h0.6M243.0 289.2h0.6M241.1 281.7h0.6M249.6 294.2h0.6M242.7 304.9h0.6M237.4 297.7h0.6M242.5 291.2h0.6M249.6 291.0h0.6M242.8 281.4h0.6M245.1 294.2h0.6M239.7 281.6h0.6M250.4 292.2h0.6M251.9 290.5h0.6M262.8 281.3h0.6M248.5 292.1h0.6M244.8 289.3h0.6M247.3 297.9h0.6M243.7 282.8h0.6M250.4 299.0h0.6M234.0 293.0h0.6M254.7 296.0h0.6M239.1 293.3h0.6M245.7 282.3h0.6M240.8 288.5h0.6M240.4 301.7h0.6M237.5 301.1h0.6M242.3 289.0h0.6M241.3 303.6h0.6M257.9 292.9h0.6M235.5 288.9h0.6M241.4 299.9h0.6M238.5 285.1h0.6M264.2 259.8h0.6M235.6 283.1h0.6M264.0 305.3h0.6M272.1 287.2h0.6M256.8 284.2h0.6M239.1 283.1h0.6M245.6 290.5h0.6M253.9 292.6h0.6M240.7 300.8h0.6M268.1 289.8h0.6M235.3 271.9h0.6M247.2 282.7h0.6M238.1 282.7h0.6M231.8 287.2h0.6M244.1 267.7h0.6M243.9 281.7h0.6M267.4 291.7h0.6M244.3 293.2h0.6M249.0 293.1h0.6M244.0 287.2h0.6M245.4 294.7h0.6M273.4 302.1h0.6M268.8 282.3h0.6M271.3 280.8h0.6M249.6 274.1h0.6M262.5 265.8h0.6M248.7 291.8h0.6M234.7 289.5h0.6M235.3 280.4h0.6M254.5 299.8h0.6M277.9 272.9h0.6M252.8 282.8h0.6M232.3 274.2h0.6M252.7 284.5h0.6M277.1 270.9h0.6M233.2 296.3h0.6M242.8 285.4h0.6M266.3 277.7h0.6M246.4 284.3h0.6M250.3 303.2h0.6M269.2 276.7h0.6M267.0 267.0h0.6M240.6 275.9h0.6M241.3 285.8h0.6M253.4 273.9h0.6M255.0 276.6h0.6M256.9 287.2h0.6M234.6 273.7h0.6M262.9 283.0h0.6M253.7 280.1h0.6" stroke="#444" stroke-width="0.6" fill="none"/>
<path d="M258.6 242.2h0.62M237.9 249.6h0.62M234.4 246.2h0.62M241.1 238.3h0.62M236.4 257.0h0.62M236.2 246.9h0.62M233.1 260.0h0.62M235.6 254.8h0.62M250.1 246.7h0.62M239.8 229.6h0.62M236.1 246.8h0.62M247.3 243.6h0.62M253.8 244.3h0.62M256.1 241.9h0.62M243.0 247.1h0.62M252.3 249.0h0.62M250.3 238.5h0.62M234.8 257.2h0.62M254.0 232.7h0.62M244.7 237.1h0.62M245.2 261.5h0.62M241.1 243.1h0.62M243.8 241.6h0.62M247.9 230.9h0.62M251.2 235.9h0.62M244.7 264.6h0.62M255.6 241.5h0.62M243.1 249.5h0.62M252.9 267.8h0.62M262.5 248.5h0.62M237.0 259.9h0.62M242.9 247.1h0.62M241.1 243.7h0.62M249.6 244.2h0.62M251.2 237.9h0.62M236.4 245.3h0.62M242.0 249.0h0.62M261.2 238.5h0.62M242.1 266.0h0.62M261.1 244.7h0.62M253.5 226.8h0.62M241.2 246.3h0.62M244.5 229.5h0.62M247.1 258.2h0.62M257.2 241.5h0.62M249.3 242.9h0.62M253.2 229.6h0.62M265.8 241.6h0.62M249.2 254.4h0.62M235.7 248.2h0.62M248.9 261.3h0.62M251.4 238.6h0.62M241.3 246.0h0.62M239.7 244.5h0.62M245.8 239.7h0.62M236.9 246.6h0.62M244.0 237.3h0.62M244.6 255.0h0.62M239.2 247.2h0.62M242.6 240.8h0.62M232.1 235.0h0.62M236.0 244.6h0.62M247.6 233.6h0.62M237.7 244.4h0.62M249.9 251.9h0.62M249.8 248.1h0.62M255.9 245.2h0.62M246.3 248.4h0.62M253.3 242.3h0.62M253.7 236.4h0.62M234.2 249.3h0.62M249.4 259.0h0.62M242.6 237.5h0.62M241.2 243.1h0.62M247.4 243.8h0.62M238.8 267.4h0.62M239.1 245.2h0.62M232.8 245.1h0.62M246.8 230.1h0.62M241.3 240.2h0.62M245.0 249.4h0.62M243.4 253.0h0.62M239.4 249.9h0.62M235.6 235.8h0.62M234.8 246.9h0.62M248.9 257.6h0.62M248.1 248.3h0.62M236.4 262.0h0.62M238.4 246.6h0.62M262.0 244.4h0.62M264.4 231.2h0.62M248.0 233.5h0.62M247.8 238.3h0.62M256.5 243.8h0.62M237.1 248.9h0.62M253.8 231.1h0.62M242.2 251.3h0.62M236.0 245.3h0.62M238.1 256.1h0.62M251.3 232.8h0.62M254.2 253.5h0.62M241.3 249.0h0.62M249.8 248.2h0.62M264.6 236.7h0.62M241.6 248.0h0.62M243.5 230.7h0.62M252.3 243.8h0.62M236.6 241.5h0.62M247.0 245.0h0.62M253.2 238.9h0.62M233.8 250.2h0.62M258.8 249.4h0.62M244.4 260.1h0.62M235.8 244.3h0.62M240.9 262.9h0.62M245.0 237.5h0.62M248.2 227.3h0.62M246.5 236.2h0.62M237.7 250.2h0.62M243.4 241.2h0.62M244.5 239.0h0.62M256.4 242.3h0.62M247.2 254.9h0.62M261.6 225.2h0.62M245.7 234.6h0.62M250.3 237.6h0.62M238.1 245.6h0.62M255.0 232.4h0.62M247.8 241.2h0.62M241.4 247.3h0.62M260.7 234.2h0.62M246.3 247.2h0.62M249.4 245.6h0.62M245.3 236.6h0.62M241.1 251.0h0.62M237.7 255.4h0.62M248.1 256.1h0.62M262.5 242.6h0.62M247.8 234.9h0.62M244.7 248.7h0.62M256.6 223.3h0.62M243.6 235.9h0.62M264.5 248.7h0.62M244.8 242.2h0.62M257.9 252.1h0.62M240.6 254.2h0.62M247.3 245.5h0.62M243.6 236.8h0.62M232.0 262.7h0.62M247.0 251.4h0.62M245.5 233.3h0.62M242.6 239.4h0.62M234.4 250.7h0.62M237.8 250.5h0.62M245.7 240.3h0.62M236.2 246.5h0.62M254.0 249.2h0.62M255.5 233.1h0.62M236.3 250.4h0.62M244.1 250.3h0.62M248.3 231.6h0.62M246.5 256.1h0.62M243.4 244.9h0.62M245.0 232.1h0.62M250.9 245.4h0.62M252.2 237.0h0.62M237.9 239.4h0.62M243.1 245.3h0.62M249.7 234.8h0.62M237.6 238.7h0.62M239.8 253.9h0.62M252.6 241.5h0.62M254.7 243.8h0.62M240.3 252.1h0.62M232.8 244.3h0.62M246.3 244.2h0.62M238.4 245.0h0.62M234.5 243.0h0.62M269.4 238.5h0.62M253.3 250.7h0.62M237.6 236.5h0.62M239.3 248.1h0.62M254.3 249.3h0.62M245.8 254.3h0.62M250.1 262.2h0.62M242.5 243.6h0.62M249.2 241.0h0.62M235.8 245.1h0.62M247.0 263.8h0.62M242.5 241.9h0.62M239.1 248.3h0.62M249.5 239.3h0.62M249.9 236.2h0.62M239.1 249.9h0.62M240.6 252.2h0.62M251.9 236.5h0.62M264.0 241.6h0.62M238.8 237.8h0.62M242.9 245.8h0.62M250.3 244.8h0.62M250.2 230.2h0.62M239.0 246.7h0.62M251.5 240.6h0.62M246.6 235.8h0.62M255.0 240.7h0.62M232.2 248.0h0.62M242.1 247.1h0.62M262.3 227.1h0.62M256.6 229.4h0.62M243.5 236.1h0.62M243.8 254.0h0.62M260.2 245.0h0.62M243.1 252.1h0.62M237.8 230.7h0.62M241.6 235.6h0.62M255.3 232.5h0.62M255.3 238.0h0.62M254.1 245.5h0.62M257.0 231.8h0.62M232.4 251.6h0.62M266.3 244.9h0.62M245.1 253.3h0.62M244.2 246.5h0.62M255.8 242.3h0.62M243.3 246.2h0.62M255.3 250.4h0.62M258.6 242.3h0.62M235.4 256.0h0.62M241.7 239.5h0.62M243.5 239.4h0.62M232.7 250.8h0.62M235.9 255.8h0.62M247.5 233.3h0.62M248.5 246.2h0.62M233.7 256.1h0.62M240.8 244.1h0.62M251.1 224.3h0.62M239.5 252.7h0.62M248.0 254.9h0.62M249.7 243.0h0.62M255.2 238.8h0.62M251.8 220.6h0.62M254.5 244.6h0.62M254.0 226.5h0.62M248.6 232.1h0.62M239.6 240.5h0.62M254.4 233.8h0.62M253.4 246.9h0.62M247.7 246.7h0.62M255.7 241.7h0.62M251.2 245.9h0.62M249.5 242.0h0.62M250.4 234.6h0.62M243.0 235.9h0.62M243.3 254.2h0.62M232.5 241.9h0.62M249.4 237.3h0.62M268.7 226.8h0.62M255.2 240.3h0.62M248.8 251.4h0.62M262.7 247.7h0.62M250.9 241.1h0.62M252.0 248.5h0.62M244.1 238.0h0.62M236.1 237.0h0.62M248.0 252.2h0.62M249.7 240.7h0.62M234.4 253.1h0.62M270.6 245.9h0.62M244.0 256.8h0.62M244.8 244.8h0.62M245.7 233.5h0.62M259.5 234.5h0.62M245.8 246.3h0.62M250.2 235.9h0.62M238.3 245.4h0.62M235.9 241.9h0.62M251.6 239.3h0.62M250.5 239.9h0.62M248.1 238.0h0.62M258.8 233.6h0.62M249.1 257.5h0.62M258.9 232.9h0.62M238.4 249.8h0.62M247.3 254.0h0.62M240.7 251.4h0.62M243.1 240.7h0.62M258.2 250.8h0.62M250.5 244.9h0.62M241.4 261.1h0.62M236.4 258.1h0.62M239.0 252.6h0.62M246.2 241.3h0.62M242.9 247.6h0.62M240.7 240.9h0.62M257.6 232.8h0.62M245.8 235.1h0.62M233.3 245.9h0.62M265.0 237.2h0.62M251.7 248.7h0.62M235.4 241.4h0.62M244.0 253.4h0.62M246.3 234.4h0.62M244.0 232.0h0.62M247.4 232.6h0.62M236.2 233.5h0.62M237.3 243.2h0.62M252.5 237.8h0.62M242.4 241.5h0.62M245.4 241.2h0.62M233.5 247.7h0.62M250.1 228.9h0.62M243.3 238.4h0.62M254.5 235.2h0.62M246.2 262.7h0.62M251.0 240.8h0.62M233.9 259.7h0.62M253.9 238.0h0.62M252.1 246.1h0.62M259.8 245.5h0.62M245.8 250.6h0.62M242.8 237.1h0.62M241.6 242.5h0.62M255.8 240.5h0.62M249.7 236.0h0.62M251.7 237.0h0.62M246.9 255.4h0.62M260.4 237.7h0.62M232.3 232.6h0.62M245.0 233.6h0.62M257.1 243.4h0.62M233.7 233.9h0.62M258.6 247.5h0.62M254.2 253.0h0.62M249.6 236.7h0.62M246.7 244.2h0.62M239.0 246.4h0.62M242.4 227.1h0.62M246.4 238.6h0.62M267.6 246.2h0.62M253.3 239.3h0.62M241.2 254.3h0.62M256.0 244.4h0.62M235.2 247.8h0.62M248.2 251.9h0.62M240.3 244.6h0.62M243.0 236.0h0.62M238.9 253.2h0.62M240.5 242.2h0.62M237.6 241.1h0.62M251.4 244.2h0.62M248.5 244.5h0.62M245.1 249.9h0.62M237.9 244.9h0.62M233.9 259.9h0.62M251.6 242.3h0.62M248.6 248.7h0.62M251.4 246.8h0.62M244.7 243.9h0.62M253.9 246.5h0.62M248.3 252.5h0.62M237.4 248.3h0.62M234.3 258.7h0.62M251.0 242.3h0.62M240.5 245.6h0.62M250.6 246.7h0.62M237.1 245.0h0.62M240.0 246.2h0.62M238.4 240.2h0.62M261.9 231.6h0.62M246.7 247.2h0.62M256.6 249.7h0.62M241.5 251.5h0.62M252.9 244.1h0.62M237.7 262.2h0.62M254.0 239.4h0.62M245.6 246.5h0.62M244.6 250.9h0.62M237.3 244.3h0.62M242.5 235.1h0.62M232.9 243.2h0.62M232.9 257.0h0.62M254.1 244.4h0.62M234.4 252.0h0.62M245.5 232.8h0.62M255.1 243.7h0.62M250.9 224.3h0.62M235.6 266.2h0.62M235.9 262.4h0.62M248.6 238.1h0.62M237.1 240.7h0.62M240.1 227.3h0.62M257.7 259.9h0.62M246.3 244.4h0.62M238.8 246.1h0.62M239.4 256.3h0.62M237.1 246.9h0.62M258.3 250.5h0.62M238.2 232.8h0.62M261.8 230.0h0.62M241.2 246.5h0.62M251.8 237.4h0.62M241.0 242.8h0.62M233.5 258.0h0.62M240.1 248.2h0.62M237.8 254.9h0.62M262.6 231.1h0.62M244.9 244.3h0.62M258.3 234.1h0.62M255.1 242.4h0.62M252.9 236.8h0.62M237.2 245.6h0.62M252.9 240.0h0.62M251.9 254.5h0.62M238.8 241.8h0.62M249.4 233.2h0.62M236.2 247.4h0.62M243.9 245.8h0.62M244.1 231.7h0.62M239.3 251.0h0.62M247.2 246.9h0.62M233.9 243.9h0.62M235.2 254.3h0.62M241.3 255.7h0.62M264.4 238.1h0.62M248.3 232.8h0.62M239.4 226.9h0.62M237.9 267.1h0.62M250.3 252.9h0.62M242.2 243.4h0.62M245.7 240.4h0.62M249.0 248.1h0.62M242.1 244.1h0.62M257.0 243.6h0.62M235.2 257.1h0.62M247.4 246.4h0.62M252.4 246.3h0.62M268.6 222.3h0.62M245.6 251.3h0.62M251.5 219.5h0.62M254.4 236.3h0.62M234.6 263.7h0.62M242.7 251.9h0.62M249.7 247.4h0.62M254.3 243.2h0.62M256.3 239.5h0.62M235.8 260.7h0.62M244.9 251.0h0.62M245.5 246.5h0.62M258.6 227.9h0.62M236.2 250.7h0.62M255.6 242.1h0.62M249.2 249.6h0.62M264.5 248.0h0.62M241.7 232.7h0.62M235.6 249.7h0.62M242.7 226.3h0.62M253.5 246.0h0.62M236.2 237.5h0.62M257.9 240.9h0.62M241.9 237.7h0.62M237.8 260.8h0.62M237.4 247.8h0.62M240.5 245.2h0.62M232.7 260.5h0.62M245.1 251.2h0.62M234.9 247.5h0.62M263.1 236.0h0.62M240.1 235.0h0.62M238.0 252.3h0.62M239.9 241.4h0.62M254.7 253.7h0.62M243.3 268.0h0.62M240.6 243.1h0.62M237.2 268.4h0.62M233.5 249.1h0.62M245.7 248.2h0.62M232.9 248.9h0.62M241.5 236.3h0.62M245.5 247.5h0.62M251.7 231.5h0.62M244.7 239.6h0.62M254.5 232.4h0.62M249.3 232.0h0.62M250.5 230.5h0.62M254.0 239.8h0.62M254.6 236.6h0.62M234.6 251.3h0.62M238.0 252.3h0.62M242.9 241.3h0.62M239.1 244.8h0.62M248.7 253.8h0.62M239.5 247.3h0.62M253.8 252.1h0.62M235.8 238.6h0.62M238.7 257.7h0.62M239.9 254.8h0.62M242.6 250.6h0.62M248.3 242.1h0.62M238.0 248.3h0.62M266.6 226.4h0.62M251.6 239.6h0.62M252.4 230.7h0.62M233.6 255.9h0.62M254.8 234.4h0.62M245.7 254.0h0.62M252.8 224.1h0.62M254.8 253.3h0.62M247.9 242.3h0.62M236.0 254.6h0.62M244.4 261.4h0.62M262.5 243.5h0.62M236.6 247.7h0.62M254.7 242.7h0.62M249.4 237.7h0.62M261.7 233.7h0.62M246.4 228.6h0.62M258.1 259.0h0.62M257.5 230.4h0.62M245.6 245.8h0.62M247.7 238.6h0.62M248.8 244.4h0.62M233.3 241.6h0.62M260.2 240.0h0.62M248.7 260.3h0.62M238.3 258.1h0.62M255.2 234.1h0.62M242.8 248.6h0.62M238.6 258.7h0.62M242.1 259.4h0.62M247.7 253.0h0.62M251.8 250.7h0.62M251.1 243.5h0.62M259.3 245.3h0.62M238.3 255.2h0.62M250.3 244.1h0.62M250.1 240.3h0.62M240.8 233.3h0.62M240.5 258.6h0.62M250.3 247.9h0.62M246.7 253.1h0.62M245.3 239.2h0.62M249.9 243.6h0.62M233.8 250.0h0.62M247.1 243.2h0.62M240.2 246.7h0.62M245.2 250.7h0.62M233.9 245.6h0.62M250.3 238.8h0.62M235.7 238.4h0.62M243.7 250.7h0.62M245.8 245.7h0.62M250.1 241.9h0.62M232.1 251.4h0.62M245.8 261.9h0.62M244.5 262.7h0.62M243.0 234.4h0.62M241.8 244.1h0.62M243.4 242.8h0.62M266.5 237.7h0.62M242.8 245.5h0.62M244.1 254.2h0.62M244.3 253.0h0.62M235.3 251.2h0.62M243.4 247.1h0.62M233.0 244.9h0.62M256.3 239.5h0.62M254.6 226.9h0.62M241.2 247.4h0.62M239.8 249.3h0.62M248.5 246.3h0.62M252.8 250.0h0.62M242.2 246.9h0.62M246.2 234.8h0.62M232.4 265.1h0.62M245.7 247.4h0.62M260.7 222.1h0.62M246.5 242.2h0.62M243.2 257.2h0.62M243.4 233.6h0.62M233.3 239.2h0.62M255.1 235.2h0.62M233.5 248.4h0.62M245.3 246.5h0.62M255.1 237.1h0.62M252.9 227.4h0.62M253.2 256.2h0.62M236.5 255.2h0.62M234.8 250.4h0.62M249.2 238.5h0.62M234.0 249.0h0.62M243.6 248.7h0.62M245.0 230.5h0.62M254.6 244.5h0.62M254.2 258.2h0.62M242.9 241.3h0.62M256.1 239.4h0.62M244.1 232.1h0.62M234.4 253.0h0.62M261.9 240.4h0.62M242.7 242.8h0.62M233.3 240.3h0.62M251.5 257.3h0.62M241.3 239.4h0.62M254.2 227.1h0.62M241.5 256.6h0.62M259.3 232.7h0.62M246.8 248.1h0.62M245.9 243.8h0.62M246.2 245.9h0.62M242.6 244.3h0.62M240.9 265.8h0.62M244.4 254.3h0.62M235.8 261.2h0.62M254.4 241.9h0.62M267.7 241.5h0.62M262.1 229.9h0.62M244.9 239.7h0.62M234.5 254.1h0.62M252.4 250.8h0.62M244.0 241.8h0.62M257.3 228.4h0.62M243.3 241.6h0.62M237.8 237.5h0.62M240.5 250.9h0.62M241.7 249.1h0.62M237.8 239.5h0.62M252.0 240.7h0.62M241.9 250.7h0.62M253.6 236.4h0.62M245.0 243.0h0.62M257.2 228.3h0.62M237.4 247.7h0.62M248.9 252.3h0.62M260.0 235.6h0.62M249.4 243.3h0.62M237.0 250.4h0.62M243.8 256.0h0.62M241.9 234.5h0.62M246.7 239.1h0.62M245.5 247.9h0.62M247.6 250.5h0.62M238.6 247.3h0.62M248.9 238.2h0.62M243.4 241.3h0.62M254.0 240.6h0.62M235.0 251.3h0.62M237.3 245.7h0.62M232.4 248.6h0.62M251.8 247.6h0.62M249.9 235.5h0.62M244.0 244.9h0.62M241.9 243.8h0.62M237.2 249.5h0.62M246.0 235.2h0.62M238.4 250.8h0.62M243.9 249.6h0.62M234.6 248.8h0.62M235.2 249.4h0.62M238.0 243.7h0.62M249.8 251.8h0.62M243.6 247.5h0.62M235.2 245.1h0.62M240.2 250.3h0.62M260.6 222.4h0.62M255.2 251.7h0.62M249.8 239.9h0.62M251.4 229.9h0.62M238.6 253.8h0.62M235.8 233.7h0.62M242.7 250.6h0.62M245.2 248.2h0.62M251.9 244.0h0.62M237.8 237.2h0.62M250.2 240.3h0.62M253.0 251.2h0.62M238.5 243.2h0.62M256.3 241.4h0.62M233.7 248.4h0.62M240.5 257.1h0.62M232.2 245.1h0.62M252.0 248.7h0.62M246.4 240.0h0.62M235.5 227.8h0.62M250.7 244.6h0.62M244.9 234.2h0.62M240.2 257.0h0.62M266.5 223.9h0.62M237.0 255.3h0.62M253.5 247.6h0.62M243.0 241.6h0.62M240.1 235.7h0.62M237.7 241.6h0.62M255.1 252.0h0.62M247.0 231.0h0.62M242.6 241.5h0.62M255.8 231.8h0.62M248.2 242.9h0.62M252.3 236.8h0.62M259.9 240.9h0.62M242.7 244.1h0.62M239.9 256.2h0.62M252.0 239.6h0.62M271.0 237.1h0.62M253.3 254.3h0.62M254.9 244.2h0.62M235.1 241.7h0.62M251.8 241.0h0.62M241.7 256.7h0.62M251.2 254.1h0.62M241.6 238.3h0.62M243.3 253.0h0.62M234.2 249.4h0.62M250.2 244.4h0.62M248.8 222.6h0.62M249.3 251.0h0.62M235.7 251.7h0.62M244.2 245.0h0.62M275.8 228.4h0.62M232.5 244.0h0.62M237.9 248.5h0.62M248.2 239.4h0.62M267.3 238.7h0.62M244.7 242.0h0.62M246.5 237.0h0.62M242.6 241.5h0.62M251.8 235.3h0.62M233.5 246.5h0.62M254.8 243.7h0.62M240.4 246.1h0.62M236.8 241.7h0.62M247.3 238.2h0.62M236.1 245.9h0.62M244.8 249.4h0.62M239.7 248.9h0.62M248.3 257.8h0.62M245.6 226.2h0.62M247.3 235.1h0.62M247.8 244.7h0.62M234.3 230.1h0.62M249.2 236.1h0.62M254.3 228.8h0.62M232.0 238.3h0.62M246.7 256.2h0.62M246.2 234.1h0.62M249.8 230.5h0.62M244.8 257.3h0.62M243.6 233.3h0.62M244.2 248.0h0.62M244.9 225.7h0.62M249.1 234.0h0.62M239.8 256.7h0.62M250.4 237.6h0.62M251.2 258.7h0.62M258.9 234.0h0.62M261.6 235.1h0.62M233.6 241.8h0.62M243.0 260.4h0.62M241.4 238.2h0.62M248.2 243.8h0.62M255.3 231.1h0.62M251.4 233.2h0.62M239.8 255.0h0.62M239.0 251.5h0.62M240.0 254.8h0.62M247.4 247.6h0.62M260.1 228.2h0.62M251.6 243.5h0.62M234.4 249.0h0.62M247.5 234.1h0.62M239.7 257.7h0.62M241.1 235.0h0.62M267.1 249.0h0.62M239.8 250.5h0.62M241.4 249.6h0.62M251.1 260.5h0.62M253.2 257.9h0.62M246.5 238.1h0.62M247.5 241.9h0.62M237.7 263.4h0.62M260.5 231.7h0.62M245.3 257.4h0.62M234.9 257.4h0.62M246.7 237.6h0.62M244.8 249.7h0.62M261.8 257.2h0.62M247.4 239.5h0.62M247.9 245.8h0.62M234.3 238.4h0.62M237.0 247.6h0.62M243.6 251.6h0.62M241.8 245.5h0.62M255.8 229.5h0.62M254.0 233.9h0.62M256.3 242.4h0.62M237.9 261.9h0.62M245.5 251.0h0.62M245.4 252.6h0.62M234.2 247.6h0.62M257.9 236.4h0.62M239.1 242.5h0.62M244.4 243.0h0.62M259.0 249.5h0.62M243.4 253.1h0.62M237.6 253.4h0.62M254.0 236.8h0.62M242.0 248.6h0.62M254.9 236.3h0.62M251.3 241.6h0.62M238.7 257.1h0.62M258.4 228.5h0.62M246.2 241.4h0.62M233.2 251.0h0.62M243.9 240.2h0.62M231.7 257.2h0.62M254.9 240.8h0.62M260.2 237.3h0.62M243.5 242.0h0.62M241.4 246.2h0.62M251.1 255.1h0.62M248.7 241.3h0.62M239.3 234.1h0.62M258.1 235.9h0.62M243.2 234.0h0.62M248.3 242.6h0.62M236.9 252.3h0.62M266.8 232.7h0.62M242.5 250.8h0.62M237.9 245.4h0.62M259.0 236.3h0.62M246.1 236.6h0.62M232.3 248.0h0.62M243.3 235.5h0.62M239.4 250.2h0.62M246.4 258.3h0.62M237.2 238.4h0.62M248.5 240.0h0.62M250.2 236.2h0.62M240.0 252.2h0.62M259.4 234.4h0.62M250.7 246.5h0.62M265.2 225.2h0.62M256.7 227.0h0.62M238.4 237.2h0.62M255.0 248.5h0.62M249.7 235.6h0.62M249.1 246.8h0.62M259.5 227.6h0.62M243.1 250.7h0.62M242.9 237.2h0.62M240.7 264.6h0.62M252.6 250.9h0.62M248.8 242.1h0.62M241.2 244.5h0.62M241.7 244.0h0.62M232.6 246.6h0.62M245.5 236.1h0.62M258.2 252.2h0.62M235.8 239.0h0.62M237.7 246.5h0.62M234.5 251.1h0.62M241.4 252.7h0.62M238.7 253.5h0.62M240.1 236.4h0.62M253.4 241.3h0.62M259.6 238.2h0.62M242.9 262.2h0.62M236.4 238.5h0.62M247.6 232.6h0.62M243.2 230.8h0.62M257.5 244.6h0.62M248.6 237.7h0.62M250.8 239.5h0.62M233.5 250.1h0.62M238.9 244.8h0.62M245.9 261.1h0.62M248.3 242.6h0.62M250.8 238.6h0.62M252.2 248.2h0.62M257.3 239.2h0.62M242.7 256.9h0.62M243.0 240.7h0.62M254.4 237.1h0.62M252.9 251.0h0.62M236.7 248.3h0.62M245.8 243.4h0.62M241.8 257.6h0.62M245.7 246.0h0.62M244.9 240.1h0.62M247.9 251.3h0.62M234.7 253.6h0.62M258.8 245.4h0.62M258.0 239.9h0.62M239.5 243.1h0.62M243.3 264.7h0.62M243.5 238.7h0.62M257.1 248.4h0.62M248.7 246.9h0.62M240.4 236.5h0.62M243.2 242.0h0.62M241.6 238.7h0.62M242.7 249.2h0.62M245.3 256.4h0.62M243.2 258.7h0.62M244.1 245.9h0.62M246.7 244.5h0.62M236.3 234.5h0.62M239.3 245.7h0.62M245.5 252.6h0.62M249.4 235.5h0.62M248.1 236.9h0.62M232.0 244.2h0.62M240.0 234.0h0.62M242.4 239.7h0.62M254.0 229.7h0.62M248.5 237.4h0.62M237.7 252.8h0.62M250.7 233.5h0.62M231.9 237.8h0.62M236.7 256.1h0.62M236.3 249.2h0.62M231.9 250.0h0.62M255.3 245.7h0.62M240.7 251.2h0.62M235.7 234.6h0.62M237.5 233.3h0.62M248.9 250.8h0.62M245.0 248.0h0.62M241.8 242.2h0.62M250.2 233.7h0.62M236.6 264.4h0.62M241.1 234.4h0.62M248.9 233.7h0.62M234.4 259.0h0.62M251.7 253.9h0.62M261.2 249.5h0.62M251.9 239.1h0.62M237.0 259.4h0.62M255.0 237.4h0.62M233.7 253.2h0.62M259.0 249.0h0.62M235.3 238.2h0.62M246.9 240.1h0.62M240.5 259.4h0.62M249.8 252.3h0.62M236.5 248.0h0.62M255.4 245.4h0.62M256.7 248.5h0.62M247.9 240.0h0.62M237.1 239.0h0.62M238.0 243.8h0.62M244.9 265.1h0.62M245.0 240.8h0.62M246.7 251.9h0.62M240.0 248.7h0.62M256.2 231.6h0.62M241.0 254.4h0.62M247.9 249.0h0.62M244.7 262.5h0.62M240.9 245.8h0.62M251.1 237.5h0.62M259.9 241.3h0.62M244.2 230.0h0.62M259.7 250.2h0.62M251.0 252.5h0.62M259.3 237.4h0.62M234.0 257.6h0.62M244.7 236.5h0.62M244.7 232.1h0.62M244.0 258.2h0.62M239.2 245.1h0.62M233.5 245.9h0.62M238.2 230.6h0.62M254.0 255.4h0.62M245.3 243.9h0.62M240.2 266.3h0.62M260.8 243.5h0.62M257.5 237.9h0.62M232.7 249.9h0.62M238.1 252.5h0.62M243.2 237.0h0.62M242.0 244.4h0.62M270.0 232.5h0.62M242.0 260.0h0.62M250.3 257.5h0.62M242.9 243.9h0.62M250.3 249.8h0.62M238.3 246.6h0.62M245.9 238.0h0.62M232.5 252.4h0.62M253.3 254.0h0.62M250.0 242.5h0.62M246.7 231.8h0.62M240.1 229.6h0.62M239.2 233.0h0.62M250.8 261.7h0.62M242.1 238.1h0.62M246.4 238.0h0.62M250.5 230.3h0.62M256.8 252.9h0.62M242.9 236.5h0.62M247.6 234.4h0.62M246.7 242.6h0.62M257.3 245.4h0.62M233.2 250.2h0.62M238.7 259.2h0.62M255.1 239.6h0.62M246.2 235.7h0.62M233.3 252.1h0.62M248.9 236.3h0.62M260.2 242.0h0.62M260.7 224.0h0.62M240.8 250.8h0.62M250.9 245.0h0.62M236.7 246.0h0.62M235.7 250.5h0.62M253.8 254.7h0.62M255.9 241.5h0.62M234.4 258.1h0.62M239.9 245.6h0.62M248.4 241.8h0.62M253.2 243.5h0.62M237.0 238.6h0.62M255.8 246.1h0.62M240.1 234.5h0.62M237.2 244.1h0.62M248.8 244.8h0.62M251.7 249.0h0.62M237.3 239.9h0.62M240.4 239.8h0.62M249.5 253.1h0.62M248.7 235.8h0.62M256.1 255.5h0.62M255.2 248.1h0.62M236.5 254.2h0.62M249.7 239.0h0.62M252.9 223.9h0.62M259.0 217.0h0.62M245.4 241.2h0.62M242.7 249.2h0.62M242.1 255.3h0.62M258.8 234.7h0.62M247.0 245.0h0.62M253.3 234.2h0.62M253.5 231.0h0.62M235.6 246.6h0.62M243.8 224.9h0.62M237.6 247.0h0.62M237.9 252.0h0.62M248.8 236.4h0.62M235.3 246.5h0.62M263.4 245.1h0.62M236.8 236.6h0.62M234.3 268.5h0.62M235.1 250.9h0.62M258.3 242.8h0.62M236.5 238.7h0.62M251.7 248.5h0.62M242.3 246.5h0.62M255.9 241.8h0.62M255.6 248.1h0.62M247.4 258.7h0.62M240.5 254.1h0.62M235.1 260.1h0.62M236.3 265.6h0.62M247.8 259.6h0.62M251.4 230.1h0.62M244.9 248.4h0.62M239.5 255.4h0.62M251.5 240.8h0.62M240.2 238.8h0.62M268.3 247.3h0.62M245.0 248.9h0.62M246.3 246.1h0.62M243.3 244.7h0.62M244.0 239.4h0.62M239.0 263.1h0.62M255.0 251.8h0.62M262.1 235.0h0.62M243.1 250.7h0.62M246.5 241.3h0.62M235.5 257.6h0.62M250.0 232.3h0.62M236.2 249.0h0.62M240.0 233.9h0.62M248.5 234.7h0.62M245.4 236.2h0.62M251.8 251.3h0.62M249.6 244.2h0.62M253.4 240.8h0.62M267.5 227.4h0.62M234.7 264.8h0.62M260.0 231.2h0.62M241.7 255.3h0.62M238.0 235.9h0.62M253.5 236.2h0.62M244.0 242.4h0.62M249.5 237.1h0.62M244.2 243.7h0.62M235.5 254.5h0.62M233.0 251.1h0.62M262.8 235.6h0.62M242.1 248.1h0.62M249.4 257.7h0.62M241.9 236.0h0.62M244.1 239.4h0.62M234.0 251.1h0.62M239.1 255.8h0.62M253.3 248.8h0.62M237.3 239.8h0.62M248.7 227.1h0.62M237.9 240.7h0.62M238.7 253.4h0.62M247.6 242.2h0.62M250.3 248.8h0.62M249.9 253.9h0.62M258.5 235.8h0.62M233.6 246.9h0.62M236.1 255.4h0.62M242.5 238.5h0.62M246.1 249.7h0.62M256.6 241.5h0.62M242.0 241.2h0.62M235.0 244.9h0.62M247.8 247.0h0.62M247.0 224.9h0.62M241.1 257.5h0.62M233.9 254.1h0.62M239.4 256.6h0.62M248.6 248.5h0.62M250.2 251.3h0.62M235.3 241.8h0.62M239.4 258.5h0.62M241.4 250.1h0.62M237.0 251.3h0.62M251.6 229.5h0.62M254.9 237.5h0.62M245.8 232.2h0.62M247.9 245.3h0.62M262.5 224.6h0.62M242.0 248.2h0.62M249.0 258.3h0.62M234.1 259.8h0.62M242.2 239.3h0.62M249.7 245.4h0.62M244.0 251.5h0.62M237.1 247.7h0.62M246.2 243.2h0.62M247.7 235.1h0.62M244.5 244.3h0.62M267.7 238.5h0.62M233.5 251.4h0.62M263.1 241.8h0.62M251.6 246.8h0.62M257.4 224.5h0.62M247.0 241.8h0.62M247.5 227.6h0.62M255.1 230.6h0.62M249.3 251.9h0.62M245.8 245.9h0.62M232.6 244.8h0.62M247.1 241.5h0.62M250.6 233.9h0.62M244.1 238.2h0.62M243.2 247.6h0.62M239.8 259.3h0.62M271.4 244.9h0.62M232.7 249.2h0.62M258.2 246.5h0.62M235.7 245.4h0.62M245.0 240.2h0.62M246.5 261.5h0.62M254.8 258.9h0.62M256.8 216.2h0.62M249.4 232.0h0.62M248.7 257.9h0.62M248.8 222.9h0.62M244.4 242.0h0.62M253.0 229.9h0.62M241.7 245.2h0.62M245.2 247.7h0.62M254.7 241.9h0.62M259.0 240.7h0.62M266.2 242.7h0.62M245.8 235.7h0.62M241.1 242.6h0.62M256.8 237.0h0.62M244.0 249.0h0.62M243.9 251.7h0.62M238.9 241.3h0.62M241.9 254.6h0.62M234.9 231.8h0.62M245.2 240.1h0.62M248.0 241.6h0.62M259.1 241.3h0.62M239.9 245.0h0.62M259.7 232.9h0.62M247.5 257.8h0.62M251.4 250.1h0.62M234.6 251.1h0.62M258.0 245.1h0.62M252.4 243.0h0.62M251.3 233.8h0.62M258.8 250.2h0.62M252.0 249.8h0.62M233.0 249.0h0.62M244.4 251.2h0.62M232.4 251.5h0.62M256.0 232.3h0.62M260.1 242.7h0.62M239.6 239.9h0.62M259.6 234.2h0.62M237.4 247.4h0.62M254.8 251.0h0.62M241.2 229.7h0.62M258.3 239.6h0.62M241.5 247.1h0.62M248.8 260.7h0.62M238.4 249.4h0.62M236.9 238.5h0.62M237.9 250.4h0.62M239.9 243.3h0.62M245.2 239.9h0.62M243.9 235.7h0.62M234.1 256.0h0.62M268.6 230.5h0.62M255.0 232.4h0.62M240.7 244.6h0.62M240.0 251.1h0.62M245.4 254.0h0.62M241.8 248.7h0.62M236.2 258.5h0.62M232.2 238.6h0.62M237.4 242.6h0.62M234.8 250.4h0.62M259.3 232.2h0.62M235.4 249.8h0.62M252.1 252.8h0.62M251.3 236.1h0.62M252.0 222.5h0.62M247.0 257.8h0.62M252.5 260.9h0.62M239.9 248.1h0.62M243.0 252.7h0.62M255.3 239.7h0.62M250.4 245.7h0.62M246.1 232.8h0.62M246.4 251.5h0.62M239.1 233.9h0.62M253.8 254.6h0.62M242.3 254.8h0.62M241.6 256.3h0.62M233.4 252.6h0.62M238.1 231.9h0.62M239.0 254.0h0.62M248.2 250.0h0.62M241.0 241.2h0.62M242.1 249.6h0.62M236.7 253.1h0.62M244.5 245.2h0.62M257.2 247.3h0.62M264.8 249.0h0.62M246.5 236.4h0.62M236.2 251.4h0.62M256.1 235.5h0.62M250.7 246.6h0.62M237.8 255.9h0.62M239.3 261.6h0.62M240.0 236.1h0.62M238.0 232.1h0.62M248.5 232.1h0.62M248.5 244.7h0.62M246.7 245.0h0.62M248.6 250.8h0.62M233.8 254.2h0.62M233.2 260.7h0.62M248.0 239.6h0.62M241.6 237.5h0.62M250.6 234.9h0.62M249.8 253.4h0.62M252.7 252.6h0.62M235.8 234.9h0.62M241.1 243.7h0.62M245.5 234.3h0.62M267.2 240.3h0.62M248.4 245.2h0.62M238.6 233.5h0.62M234.9 246.8h0.62M257.6 252.4h0.62M235.3 256.7h0.62M244.6 251.4h0.62M244.4 240.2h0.62M236.3 242.0h0.62M251.1 260.5h0.62M260.1 233.2h0.62M261.7 222.3h0.62M251.0 244.1h0.62M242.0 248.8h0.62M232.9 242.6h0.62M232.6 244.8h0.62M245.0 230.2h0.62M247.1 243.2h0.62M239.2 244.2h0.62M251.5 227.6h0.62M244.8 242.4h0.62M248.0 247.6h0.62M263.1 235.0h0.62M252.3 230.0h0.62M241.3 238.5h0.62M244.9 256.3h0.62M236.9 249.2h0.62M257.2 253.3h0.62M252.4 238.9h0.62M248.5 243.3h0.62M236.6 239.2h0.62M246.2 230.4h0.62M234.1 241.1h0.62M252.5 233.5h0.62M239.6 239.2h0.62M245.1 251.6h0.62M266.5 244.9h0.62M246.6 234.6h0.62M256.0 219.0h0.62M259.7 238.2h0.62M235.9 254.6h0.62M249.6 247.0h0.62M241.1 231.8h0.62M254.4 243.7h0.62M237.8 249.1h0.62M259.1 239.2h0.62M254.4 249.2h0.62M238.6 249.5h0.62M238.2 251.7h0.62M246.0 250.5h0.62M245.2 243.5h0.62M244.7 248.9h0.62M252.1 224.3h0.62M240.8 254.6h0.62M236.6 252.3h0.62M248.4 248.2h0.62M249.1 239.2h0.62M256.5 229.2h0.62M254.2 233.9h0.62M242.4 253.9h0.62M241.1 246.7h0.62M246.2 236.5h0.62M244.8 226.6h0.62M237.9 245.4h0.62M250.7 239.7h0.62M260.0 238.6h0.62M248.3 243.1h0.62M243.3 238.3h0.62M244.2 245.9h0.62M235.1 256.9h0.62M245.9 256.8h0.62M245.0 252.0h0.62M232.2 254.7h0.62M242.8 243.1h0.62M233.7 258.8h0.62M246.4 252.5h0.62M254.8 232.7h0.62M241.5 236.1h0.62M242.2 242.2h0.62M236.4 248.5h0.62M238.9 247.4h0.62M255.8 246.1h0.62M248.0 254.5h0.62M245.2 245.7h0.62M244.5 230.9h0.62M244.7 234.2h0.62M259.2 240.8h0.62M237.1 256.2h0.62M245.0 237.3h0.62M254.7 246.3h0.62M250.5 253.1h0.62M241.4 247.2h0.62M235.3 244.4h0.62M249.6 262.6h0.62M250.7 230.2h0.62M254.4 244.0h0.62M247.5 238.6h0.62M235.0 241.1h0.62M262.3 244.9h0.62M234.6 249.1h0.62M232.8 244.8h0.62M246.4 259.7h0.62M253.1 229.9h0.62M235.9 259.5h0.62M263.7 243.3h0.62M246.9 248.7h0.62M238.0 242.8h0.62M235.5 247.1h0.62M240.1 248.1h0.62M239.9 256.8h0.62M232.9 257.7h0.62M246.5 254.1h0.62M243.6 260.2h0.62M240.5 261.7h0.62M235.4 254.5h0.62M247.4 241.9h0.62M247.2 243.0h0.62M247.9 246.4h0.62M250.9 233.7h0.62M249.0 247.6h0.62M253.6 241.2h0.62M235.8 244.0h0.62M239.1 256.1h0.62M255.4 244.0h0.62M239.3 256.6h0.62M232.9 260.7h0.62M241.0 247.8h0.62M234.6 257.5h0.62M249.8 253.7h0.62M240.5 265.4h0.62M248.4 249.6h0.62M238.1 249.8h0.62M239.1 252.7h0.62M246.1 237.4h0.62M253.0 227.3h0.62M240.9 251.7h0.62M260.8 246.5h0.62M234.1 249.5h0.62M247.1 268.1h0.62M245.6 250.4h0.62M247.0 239.6h0.62M243.8 244.3h0.62M241.9 246.1h0.62M237.7 240.3h0.62M246.1 249.9h0.62M259.8 256.7h0.62M241.8 246.2h0.62M247.7 248.4h0.62M239.9 243.1h0.62M271.8 232.7h0.62M249.2 243.1h0.62M235.0 243.4h0.62M266.4 224.4h0.62M255.1 241.6h0.62M257.1 241.5h0.62M253.2 239.3h0.62M241.3 256.0h0.62M234.6 235.4h0.62M250.0 244.7h0.62M239.5 250.9h0.62M244.5 236.9h0.62M241.8 253.3h0.62M235.1 269.8h0.62M242.5 236.5h0.62M256.6 240.8h0.62M247.8 258.5h0.62M244.7 244.4h0.62M263.0 237.8h0.62M238.7 246.5h0.62M250.5 253.5h0.62M238.7 242.1h0.62M247.6 248.3h0.62M242.4 242.4h0.62M243.0 232.6h0.62M253.2 241.6h0.62M233.5 256.8h0.62M255.4 245.8h0.62M269.0 230.7h0.62M235.2 252.5h0.62M247.6 252.8h0.62M243.6 237.1h0.62M236.1 259.6h0.62M244.6 244.6h0.62M253.9 234.2h0.62M250.8 229.4h0.62M244.9 240.6h0.62M252.4 248.7h0.62M244.6 245.7h0.62M249.5 263.2h0.62M260.9 252.3h0.62M243.8 238.1h0.62M233.2 247.8h0.62M233.0 260.4h0.62M240.6 232.7h0.62M234.3 264.0h0.62M252.1 245.0h0.62M236.4 242.2h0.62M258.0 246.9h0.62M249.3 231.9h0.62M250.8 256.6h0.62M238.6 232.3h0.62M233.5 248.7h0.62M241.8 250.8h0.62M240.0 247.9h0.62M250.4 256.7h0.62M262.1 239.3h0.62M236.3 232.4h0.62M239.7 237.0h0.62M246.7 248.4h0.62M255.5 227.6h0.62M251.0 263.1h0.62M235.8 236.2h0.62M245.2 237.1h0.62M238.5 251.6h0.62M251.1 251.3h0.62M232.3 261.8h0.62M242.8 249.5h0.62M255.2 242.7h0.62M264.0 233.8h0.62M235.5 237.0h0.62M260.7 240.1h0.62M238.9 244.2h0.62M258.6 241.3h0.62M254.7 244.6h0.62M257.7 241.2h0.62M267.5 239.5h0.62M244.8 242.1h0.62M268.1 235.7h0.62M252.2 228.4h0.62M243.3 229.8h0.62M243.7 248.8h0.62M232.0 252.6h0.62M254.4 234.8h0.62M244.9 246.8h0.62M255.3 258.3h0.62M258.3 239.1h0.62M254.6 236.5h0.62M253.3 232.3h0.62M236.8 253.1h0.62M250.6 244.3h0.62M257.8 244.2h0.62M244.4 244.9h0.62M242.1 247.1h0.62M237.9 243.5h0.62M240.0 244.2h0.62M256.6 233.3h0.62M244.0 229.1h0.62M241.7 247.3h0.62M233.1 245.0h0.62M244.7 234.0h0.62M238.2 246.9h0.62M246.3 247.8h0.62M235.8 260.3h0.62M254.0 244.3h0.62M241.2 244.3h0.62M265.9 250.6h0.62M245.1 240.2h0.62M254.8 239.5h0.62M250.5 258.8h0.62M239.1 251.4h0.62M244.7 256.4h0.62M242.5 245.5h0.62M251.0 246.4h0.62M245.1 231.5h0.62M255.4 246.9h0.62M246.5 239.3h0.62M232.2 249.9h0.62M239.1 244.1h0.62M240.0 236.9h0.62M250.9 240.9h0.62M245.6 248.9h0.62M239.5 239.7h0.62M251.7 252.0h0.62M255.7 248.3h0.62M248.2 239.4h0.62M240.1 244.5h0.62M242.9 237.0h0.62M247.8 250.6h0.62M239.7 232.2h0.62M241.0 259.0h0.62M234.4 257.7h0.62M238.0 247.4h0.62M245.3 245.7h0.62M251.3 239.4h0.62M235.5 233.9h0.62M231.9 260.0h0.62M246.0 256.8h0.62M235.1 243.0h0.62M246.2 240.8h0.62M232.8 258.8h0.62M242.7 242.1h0.62M242.8 247.2h0.62M241.9 246.2h0.62M256.0 233.7h0.62M246.9 241.0h0.62M239.8 249.7h0.62M234.5 256.3h0.62M256.8 219.4h0.62M235.0 261.9h0.62M254.9 223.9h0.62M244.6 259.6h0.62M256.1 244.1h0.62M250.7 238.8h0.62M237.0 257.6h0.62M236.6 258.8h0.62M247.7 245.9h0.62M250.3 244.5h0.62M237.7 246.4h0.62M232.7 264.8h0.62M240.9 227.8h0.62M251.5 238.3h0.62M250.5 252.0h0.62M246.3 239.2h0.62M241.7 248.7h0.62M248.1 237.0h0.62M254.1 243.5h0.62M234.5 264.7h0.62M257.2 244.7h0.62M237.8 246.0h0.62M256.9 222.8h0.62M238.9 250.7h0.62M258.0 241.9h0.62M234.4 252.2h0.62M251.7 256.9h0.62M235.4 249.0h0.62M235.2 246.9h0.62M244.9 254.3h0.62M236.4 244.3h0.62M235.3 255.2h0.62M242.5 253.7h0.62M244.3 248.4h0.62M246.4 236.2h0.62M260.5 249.0h0.62M244.5 249.6h0.62M240.1 248.0h0.62M243.8 237.4h0.62M246.0 229.1h0.62M253.4 241.1h0.62M250.9 227.9h0.62M243.5 262.2h0.62M239.0 257.1h0.62M237.4 247.9h0.62M237.7 247.5h0.62M235.4 276.3h0.62M232.8 259.1h0.62M240.3 256.1h0.62M241.0 245.2h0.62M238.6 239.4h0.62M243.8 241.7h0.62M244.2 250.3h0.62M237.8 264.2h0.62M246.7 238.0h0.62M241.7 252.3h0.62M246.1 242.9h0.62M233.1 231.2h0.62M236.7 261.7h0.62M239.9 253.4h0.62M241.7 251.0h0.62M243.1 246.2h0.62M255.1 228.3h0.62M251.2 237.5h0.62M241.8 245.7h0.62M264.8 258.3h0.62M243.8 259.2h0.62M248.9 237.5h0.62M251.1 229.9h0.62M248.3 238.9h0.62M251.2 237.9h0.62M246.6 244.4h0.62M245.5 253.2h0.62M241.9 227.9h0.62M240.6 257.9h0.62M245.3 256.5h0.62M234.2 237.3h0.62M247.7 228.8h0.62M253.2 248.5h0.62M245.9 253.8h0.62M259.5 247.2h0.62M240.4 257.8h0.62M238.8 234.1h0.62M240.1 245.1h0.62M239.2 264.5h0.62M232.5 255.4h0.62M260.2 245.0h0.62M257.2 232.0h0.62M249.7 244.7h0.62M247.2 250.8h0.62M246.1 234.2h0.62M252.1 240.6h0.62M239.3 231.0h0.62M243.8 249.4h0.62M251.7 225.0h0.62M251.6 228.1h0.62M253.0 236.1h0.62M247.7 230.2h0.62M251.5 247.3h0.62M254.8 253.4h0.62M251.0 241.3h0.62M243.5 244.7h0.62M236.0 248.5h0.62M238.3 240.9h0.62M248.4 249.3h0.62M250.1 237.1h0.62M250.5 238.5h0.62M247.5 242.3h0.62M247.3 259.7h0.62M257.4 239.7h0.62M243.8 242.7h0.62M259.2 225.5h0.62M238.8 239.3h0.62M241.7 237.7h0.62M243.1 247.1h0.62M234.5 257.2h0.62M241.7 245.1h0.62M236.4 257.3h0.62M260.6 237.3h0.62M246.1 229.5h0.62M262.7 235.9h0.62M249.5 242.3h0.62M236.4 245.1h0.62M265.3 241.2h0.62M243.3 236.8h0.62M251.8 235.6h0.62M248.5 243.3h0.62M235.9 249.4h0.62M247.8 225.7h0.62M258.5 241.5h0.62M249.8 237.6h0.62M257.7 237.5h0.62M250.2 243.8h0.62M243.6 253.1h0.62M243.3 260.0h0.62M240.2 230.0h0.62M246.1 248.7h0.62M263.9 224.3h0.62M242.6 249.9h0.62M232.8 247.2h0.62M232.9 268.9h0.62M233.7 240.8h0.62M243.0 237.0h0.62M247.2 246.1h0.62M254.1 244.4h0.62M245.4 244.3h0.62M232.8 246.7h0.62M232.4 250.7h0.62M253.2 247.6h0.62M259.0 238.9h0.62M241.7 256.3h0.62M239.0 244.8h0.62M251.3 251.5h0.62M232.4 245.8h0.62M249.9 227.2h0.62M237.8 249.0h0.62M236.4 267.4h0.62M262.6 243.9h0.62M234.2 249.6h0.62M234.8 248.8h0.62M237.6 242.9h0.62M244.5 250.5h0.62M236.3 261.5h0.62M240.2 247.6h0.62M237.8 234.1h0.62M251.9 248.9h0.62M243.8 244.0h0.62M247.6 237.9h0.62M250.1 248.2h0.62M250.4 240.8h0.62M247.2 237.7h0.62M254.0 246.2h0.62M250.2 246.6h0.62M239.0 246.7h0.62M248.1 225.2h0.62M251.1 255.0h0.62M247.4 236.6h0.62M243.4 257.2h0.62M250.8 242.8h0.62M264.7 244.6h0.62M240.6 259.7h0.62M241.7 250.1h0.62M236.7 241.4h0.62M253.4 241.9h0.62M245.4 235.2h0.62M239.8 244.4h0.62M250.6 229.9h0.62M241.2 253.6h0.62M248.3 238.0h0.62M249.7 242.5h0.62M241.7 257.9h0.62M255.5 248.8h0.62M248.7 237.3h0.62M246.6 248.9h0.62M250.5 255.1h0.62M257.1 240.1h0.62M253.9 246.3h0.62M259.8 246.1h0.62M255.0 227.8h0.62M240.1 253.2h0.62M245.5 238.2h0.62M246.0 239.0h0.62M237.5 250.9h0.62M249.0 253.3h0.62M248.7 245.3h0.62M246.5 240.8h0.62M249.7 225.0h0.62M251.5 260.2h0.62M256.2 230.9h0.62M252.1 244.4h0.62M259.9 237.1h0.62M235.2 237.5h0.62M252.9 255.1h0.62M234.9 249.9h0.62M272.1 230.4h0.62M246.7 253.7h0.62M232.5 250.4h0.62M234.0 247.1h0.62M248.9 231.9h0.62M247.6 253.3h0.62M245.7 244.4h0.62M236.2 247.1h0.62M255.3 244.1h0.62M261.4 228.1h0.62M238.2 249.5h0.62M248.6 237.8h0.62M240.5 242.0h0.62M250.1 237.8h0.62M237.1 258.9h0.62M250.1 236.2h0.62M236.6 240.9h0.62M251.1 234.6h0.62M249.1 235.8h0.62M251.1 236.8h0.62M262.1 233.5h0.62M242.9 250.9h0.62M245.9 240.3h0.62M239.1 245.0h0.62M253.0 243.2h0.62M243.8 260.9h0.62M242.7 239.3h0.62M242.2 243.5h0.62M258.1 243.4h0.62M235.6 249.5h0.62M244.6 256.1h0.62M251.0 239.0h0.62M254.9 247.6h0.62M250.4 245.1h0.62M248.1 244.7h0.62M244.3 239.5h0.62M251.5 238.4h0.62M235.9 260.0h0.62M244.2 240.7h0.62M239.2 247.2h0.62M244.9 239.7h0.62M258.7 234.0h0.62M236.8 262.2h0.62M252.6 245.0h0.62M247.2 243.5h0.62M242.4 238.9h0.62M237.4 235.1h0.62M243.5 223.5h0.62M237.7 255.7h0.62M240.4 241.9h0.62M264.3 242.3h0.62M252.0 240.7h0.62M244.6 260.3h0.62M249.0 245.9h0.62M245.9 252.1h0.62M250.0 243.5h0.62M238.6 243.1h0.62M249.7 245.4h0.62M251.1 234.4h0.62M239.8 243.9h0.62M232.3 255.0h0.62M244.0 237.6h0.62M253.4 241.5h0.62M241.9 244.4h0.62M242.1 251.6h0.62M251.8 244.1h0.62M268.9 235.8h0.62M249.5 248.0h0.62M252.5 229.4h0.62M257.4 242.9h0.62M258.0 246.1h0.62M252.4 251.5h0.62M237.3 261.6h0.62M254.1 239.0h0.62M239.0 245.2h0.62M245.8 233.4h0.62M249.8 249.6h0.62M251.5 245.1h0.62M272.6 235.1h0.62M242.4 255.2h0.62M246.1 245.6h0.62M263.9 254.4h0.62M236.3 260.2h0.62M240.4 261.0h0.62M238.7 269.6h0.62M238.3 243.7h0.62M244.0 249.4h0.62M244.7 257.8h0.62M255.7 234.3h0.62M250.8 239.3h0.62M234.9 241.6h0.62M243.4 251.8h0.62M244.0 246.7h0.62M237.3 230.1h0.62M253.3 258.8h0.62M234.1 241.3h0.62M253.6 246.8h0.62M254.4 249.8h0.62M233.1 247.7h0.62M243.1 255.6h0.62M239.5 230.5h0.62M257.7 233.8h0.62M240.2 241.5h0.62M235.4 255.8h0.62M246.4 245.1h0.62" stroke="#222" stroke-width="0.62" fill="none"/>
<path d="M259.5 226.7h0.55M239.7 255.9h0.55M250.3 231.2h0.55M237.3 237.5h0.55M248.4 252.3h0.55M259.2 232.8h0.55M239.9 240.3h0.55M249.5 232.7h0.55M278.2 221.0h0.55M273.6 237.9h0.55M249.6 238.5h0.55M265.5 225.1h0.55M267.7 234.2h0.55M235.8 241.2h0.55M235.6 219.6h0.55M232.8 240.0h0.55M262.7 250.5h0.55M268.8 250.1h0.55M248.5 246.9h0.55M234.5 242.7h0.55M252.4 245.8h0.55M236.7 257.3h0.55M263.9 237.8h0.55M247.9 240.9h0.55M255.3 250.4h0.55M241.0 238.6h0.55M235.6 248.8h0.55M256.0 228.1h0.55M272.3 242.0h0.55M263.4 240.0h0.55M273.1 246.3h0.55M259.8 228.1h0.55M244.4 232.5h0.55M258.9 238.0h0.55M251.0 231.4h0.55M250.0 248.9h0.55M238.8 242.3h0.55M259.7 228.2h0.55M248.1 243.0h0.55M260.2 246.9h0.55M248.6 247.5h0.55M261.1 236.4h0.55M244.1 232.8h0.55M262.2 228.1h0.55M255.9 233.9h0.55M242.1 249.1h0.55M248.4 241.7h0.55M239.7 242.2h0.55M255.4 230.0h0.55M280.1 233.7h0.55M272.8 245.5h0.55M238.3 237.9h0.55M260.0 243.9h0.55M251.5 236.6h0.55M253.3 223.5h0.55M260.6 224.7h0.55M271.2 220.0h0.55M239.8 258.6h0.55M248.7 248.2h0.55M255.7 246.5h0.55M269.3 232.6h0.55M254.9 239.8h0.55M247.5 227.1h0.55M244.7 239.1h0.55M254.8 234.8h0.55M263.8 238.6h0.55M253.3 246.8h0.55M280.2 214.9h0.55M254.7 243.0h0.55M247.1 246.3h0.55M269.3 239.4h0.55M263.9 238.8h0.55M272.0 241.5h0.55M249.5 242.6h0.55M251.3 230.9h0.55M250.6 247.3h0.55M250.5 249.0h0.55M259.3 240.9h0.55M241.2 235.7h0.55M267.1 239.8h0.55M243.4 228.9h0.55M238.9 248.1h0.55M240.2 260.4h0.55M233.1 248.6h0.55M247.8 229.2h0.55M260.1 242.4h0.55M250.6 228.7h0.55M261.6 242.1h0.55M247.0 215.8h0.55M253.9 230.5h0.55M253.8 251.2h0.55M250.9 246.5h0.55M266.9 218.8h0.55M244.1 238.7h0.55M246.0 245.6h0.55M245.1 237.3h0.55M262.9 227.2h0.55M244.4 226.4h0.55M281.5 231.9h0.55M250.1 238.6h0.55M239.8 250.0h0.55M255.0 224.4h0.55M254.2 243.0h0.55M247.9 260.2h0.55M243.8 256.1h0.55M267.3 222.0h0.55M270.4 224.4h0.55M246.3 221.8h0.55M264.9 234.7h0.55M254.3 225.5h0.55M242.7 240.7h0.55M261.0 218.5h0.55M262.8 236.4h0.55M240.9 247.0h0.55M257.6 218.2h0.55M255.7 230.9h0.55M256.7 243.7h0.55M254.1 232.3h0.55M258.1 232.9h0.55M256.5 244.2h0.55M263.3 231.2h0.55M254.8 242.1h0.55M251.5 235.7h0.55M273.3 246.7h0.55M244.6 232.1h0.55M249.3 217.8h0.55M275.4 235.6h0.55M279.2 235.6h0.55M265.6 231.7h0.55M260.3 238.4h0.55M241.3 226.4h0.55M260.5 234.0h0.55M266.7 236.0h0.55M246.9 241.7h0.55M234.3 221.2h0.55M261.2 220.2h0.55M258.4 245.6h0.55M265.0 240.9h0.55M267.3 216.9h0.55M245.0 245.6h0.55M272.5 225.3h0.55M234.2 241.0h0.55M273.9 233.6h0.55M232.3 238.5h0.55M260.4 244.2h0.55M262.0 249.6h0.55M255.6 241.4h0.55M257.2 245.9h0.55M253.0 246.5h0.55M262.7 228.3h0.55M259.9 235.0h0.55M254.7 235.6h0.55M256.1 238.6h0.55M235.8 234.5h0.55M253.7 228.9h0.55M231.8 265.9h0.55M250.6 224.7h0.55M264.4 235.1h0.55M258.8 235.5h0.55M248.8 242.8h0.55M234.1 247.9h0.55M265.5 240.7h0.55M262.1 234.7h0.55M268.7 239.3h0.55M234.6 239.0h0.55M277.2 221.0h0.55M264.5 222.1h0.55M231.8 234.6h0.55M250.0 231.7h0.55M253.1 232.8h0.55M236.2 227.5h0.55M243.2 248.4h0.55M267.2 254.2h0.55M251.2 231.2h0.55M238.7 250.0h0.55M245.5 235.8h0.55M235.1 243.1h0.55M260.9 225.1h0.55M258.3 231.6h0.55M259.6 224.9h0.55M243.7 231.7h0.55M252.4 231.6h0.55M235.7 241.8h0.55M264.7 240.0h0.55M253.1 234.3h0.55M269.6 220.6h0.55M284.6 234.1h0.55M257.9 239.0h0.55M275.9 213.8h0.55M241.7 242.3h0.55M249.5 245.7h0.55M257.5 226.6h0.55M237.1 259.1h0.55M241.8 229.2h0.55M241.8 236.5h0.55M260.3 232.7h0.55M232.7 260.7h0.55M273.1 229.8h0.55M258.4 233.4h0.55M266.0 249.0h0.55M250.5 236.5h0.55M255.9 238.0h0.55M250.7 253.5h0.55M266.9 244.1h0.55M235.8 249.3h0.55M248.3 221.9h0.55M272.4 214.8h0.55M237.2 220.8h0.55M237.6 246.5h0.55M272.3 239.5h0.55M257.1 244.6h0.55M248.2 238.3h0.55M251.1 229.0h0.55M270.6 215.3h0.55M255.6 237.3h0.55M232.1 232.0h0.55M258.3 226.7h0.55M254.9 231.9h0.55M253.0 232.1h0.55M250.2 246.7h0.55M232.2 235.1h0.55M258.5 239.1h0.55M262.5 235.8h0.55M243.3 239.6h0.55M235.6 250.9h0.55M255.0 224.7h0.55M260.3 244.6h0.55M261.6 214.3h0.55M262.6 239.3h0.55M284.1 232.5h0.55M276.9 230.3h0.55M268.8 236.8h0.55M255.7 249.9h0.55M252.0 238.9h0.55M257.3 236.0h0.55M246.5 239.3h0.55M259.2 247.5h0.55M253.4 240.9h0.55M260.5 225.2h0.55M240.1 243.0h0.55M248.7 228.9h0.55M245.7 223.0h0.55M267.7 236.4h0.55M252.5 239.8h0.55M243.4 249.4h0.55M252.7 241.4h0.55M252.5 234.4h0.55M246.9 239.7h0.55M270.6 229.1h0.55M243.2 234.3h0.55M264.3 247.0h0.55M261.3 238.2h0.55M262.8 222.8h0.55M247.3 244.2h0.55M257.9 254.6h0.55M246.6 248.3h0.55M274.1 219.8h0.55M251.3 244.4h0.55M258.5 238.4h0.55M273.2 241.8h0.55M240.5 234.7h0.55M241.4 239.3h0.55M262.9 235.3h0.55M265.5 238.4h0.55M245.4 220.3h0.55M246.3 227.5h0.55M235.7 240.1h0.55M278.5 222.2h0.55M263.2 239.7h0.55M253.7 227.9h0.55M277.8 227.5h0.55M279.5 229.9h0.55M251.8 237.6h0.55M247.0 232.6h0.55M261.1 226.1h0.55M262.4 222.6h0.55M267.7 224.0h0.55M278.8 239.3h0.55M251.5 249.8h0.55M249.5 237.9h0.55M258.9 234.2h0.55M269.4 219.5h0.55M239.4 226.3h0.55M249.1 236.2h0.55M238.5 248.6h0.55M234.5 234.2h0.55M273.2 223.1h0.55M253.6 237.4h0.55M251.0 244.3h0.55M249.9 238.5h0.55M243.5 238.9h0.55M252.7 246.6h0.55M244.2 229.7h0.55M248.1 232.9h0.55M249.5 250.9h0.55M247.2 257.4h0.55M268.9 231.2h0.55M251.7 238.6h0.55M242.1 246.8h0.55M259.7 231.4h0.55M246.9 244.5h0.55M235.8 237.9h0.55M240.4 224.7h0.55M240.0 247.6h0.55M269.6 221.5h0.55M245.7 245.5h0.55M255.2 229.4h0.55M244.5 250.8h0.55M253.1 240.2h0.55M241.7 231.7h0.55M267.9 232.9h0.55M237.3 246.5h0.55M249.6 249.8h0.55M265.0 223.2h0.55M243.5 240.3h0.55M246.8 244.7h0.55M249.6 255.7h0.55M239.6 227.8h0.55M246.0 234.3h0.55M246.1 233.3h0.55M241.3 245.7h0.55M252.2 234.0h0.55M234.1 249.4h0.55M271.0 228.4h0.55M253.1 248.4h0.55M252.1 245.7h0.55M247.5 231.3h0.55M271.7 216.1h0.55M262.5 245.8h0.55M255.2 236.6h0.55M266.2 221.9h0.55M251.7 240.8h0.55M255.0 220.0h0.55M256.2 231.3h0.55M270.7 250.4h0.55M234.0 247.1h0.55M248.3 215.0h0.55M261.1 257.6h0.55M247.2 256.1h0.55M272.6 234.6h0.55M255.4 253.6h0.55M240.5 246.6h0.55M254.1 240.0h0.55M259.7 255.7h0.55M272.5 230.7h0.55M249.9 251.4h0.55M258.3 245.3h0.55M254.2 240.4h0.55M258.0 225.4h0.55M241.8 240.7h0.55M254.0 231.8h0.55M257.2 248.3h0.55M255.0 235.7h0.55M278.2 238.5h0.55M248.2 238.9h0.55M245.5 238.5h0.55M248.1 230.5h0.55M262.0 229.9h0.55M242.0 235.9h0.55M239.7 240.9h0.55M250.4 229.4h0.55M265.4 234.6h0.55M264.0 234.0h0.55M261.0 219.1h0.55M249.0 248.2h0.55M246.2 243.2h0.55M233.9 226.9h0.55M233.9 263.8h0.55M260.8 225.8h0.55M258.2 233.9h0.55M258.0 230.9h0.55M252.4 247.7h0.55M263.4 234.8h0.55M261.2 235.2h0.55M257.3 225.9h0.55M250.6 252.1h0.55M254.8 240.9h0.55M273.8 240.5h0.55M277.1 238.5h0.55M275.4 218.1h0.55M260.0 235.3h0.55M232.2 248.2h0.55M256.6 237.4h0.55M259.3 235.2h0.55M275.6 225.0h0.55M254.4 220.3h0.55M250.9 243.5h0.55M259.4 241.3h0.55M255.3 238.7h0.55M246.9 255.5h0.55M240.2 240.1h0.55M236.0 253.4h0.55M249.3 238.1h0.55M235.8 259.4h0.55M245.4 251.0h0.55M253.8 236.8h0.55M251.3 230.9h0.55M260.1 241.4h0.55M284.6 209.7h0.55M250.6 229.4h0.55M247.4 226.4h0.55M240.5 249.6h0.55M246.1 237.0h0.55M264.8 235.2h0.55M257.6 234.3h0.55M254.9 232.0h0.55M271.0 229.1h0.55M245.4 236.7h0.55M256.8 229.8h0.55M274.2 233.3h0.55M261.8 235.4h0.55M239.9 237.7h0.55M260.7 235.9h0.55M246.7 226.3h0.55M242.5 246.5h0.55M272.0 227.5h0.55M248.9 220.6h0.55M247.7 242.8h0.55M243.3 242.4h0.55M245.4 234.8h0.55M247.2 253.2h0.55M269.8 243.7h0.55M238.8 231.4h0.55M240.4 239.5h0.55M264.2 247.6h0.55M234.2 253.1h0.55M247.0 235.0h0.55M264.9 216.3h0.55M265.4 252.5h0.55M268.9 222.9h0.55M257.6 240.7h0.55M240.3 257.5h0.55M252.2 248.3h0.55M251.5 232.9h0.55M247.7 245.6h0.55M260.1 246.8h0.55M232.4 228.3h0.55M263.6 231.2h0.55M269.9 236.7h0.55M250.7 240.5h0.55M248.5 229.9h0.55M256.3 231.3h0.55M252.1 235.5h0.55M236.0 242.2h0.55M257.5 226.2h0.55M262.4 227.9h0.55M268.8 247.4h0.55M256.7 226.6h0.55M252.1 256.6h0.55M250.5 242.6h0.55M254.0 233.2h0.55M257.8 249.2h0.55M276.3 215.6h0.55M249.2 235.7h0.55M267.6 226.3h0.55M244.2 235.5h0.55M254.2 242.5h0.55M259.3 224.2h0.55M236.8 271.4h0.55M253.3 227.9h0.55M270.0 220.8h0.55M249.1 249.9h0.55M260.9 251.0h0.55M255.4 243.5h0.55M243.5 239.7h0.55M273.7 233.7h0.55M253.1 227.5h0.55M265.9 251.9h0.55M258.6 250.5h0.55M260.0 226.8h0.55M262.9 227.9h0.55M257.1 248.5h0.55M255.5 237.7h0.55M237.0 237.6h0.55M253.7 222.4h0.55M264.1 240.7h0.55M256.3 229.0h0.55M239.2 233.7h0.55M255.4 232.6h0.55M233.4 244.6h0.55M241.4 228.9h0.55M249.6 237.6h0.55M259.8 219.0h0.55M253.2 243.0h0.55M260.5 226.6h0.55M242.4 239.9h0.55M252.2 242.4h0.55M252.7 239.8h0.55M263.4 214.5h0.55M249.7 232.5h0.55M247.8 229.9h0.55M250.6 244.2h0.55M255.6 237.7h0.55M246.2 259.6h0.55M233.9 249.0h0.55M257.2 243.1h0.55M246.5 244.4h0.55M240.7 239.6h0.55M268.6 231.0h0.55M273.1 236.0h0.55M242.5 243.0h0.55M241.6 242.9h0.55M268.8 219.2h0.55M264.4 212.9h0.55M241.0 247.5h0.55M248.0 255.8h0.55M241.7 228.1h0.55M256.5 219.7h0.55M244.6 234.0h0.55M236.5 240.9h0.55M250.9 234.1h0.55M258.3 225.9h0.55M251.3 219.7h0.55M236.0 247.2h0.55M239.8 247.8h0.55M274.1 232.8h0.55M247.8 234.6h0.55M270.3 217.4h0.55M240.7 255.6h0.55M262.9 238.4h0.55M249.4 232.0h0.55M246.4 232.9h0.55M244.8 241.8h0.55M233.0 264.2h0.55M233.8 237.3h0.55M253.7 235.9h0.55M250.1 233.6h0.55M262.1 225.6h0.55M260.0 229.4h0.55M267.9 241.4h0.55M265.7 253.9h0.55M252.1 233.0h0.55M254.1 223.9h0.55M256.3 232.1h0.55M258.8 229.4h0.55M255.3 258.4h0.55M233.6 244.6h0.55M238.9 244.4h0.55M260.8 226.9h0.55M265.2 240.7h0.55M250.5 252.9h0.55M253.3 238.8h0.55M257.4 233.9h0.55M254.0 224.8h0.55M289.2 217.6h0.55M256.4 250.6h0.55M280.1 226.5h0.55M260.0 236.8h0.55M242.8 243.0h0.55M240.6 251.6h0.55M275.8 220.0h0.55M256.3 229.6h0.55M274.3 224.3h0.55M250.5 242.4h0.55M269.9 226.3h0.55M251.7 225.2h0.55M249.4 256.8h0.55M266.8 218.6h0.55M261.8 220.6h0.55M277.5 227.6h0.55M249.9 249.5h0.55M248.4 236.8h0.55M259.9 244.4h0.55M262.6 245.4h0.55M235.0 239.2h0.55M254.9 225.4h0.55M262.1 214.5h0.55M250.1 230.9h0.55M246.6 242.8h0.55M257.1 258.0h0.55M261.2 227.9h0.55M253.2 237.9h0.55M254.5 225.9h0.55M243.2 254.6h0.55M236.4 234.0h0.55M269.8 227.3h0.55M237.8 249.2h0.55M267.9 220.3h0.55M241.3 232.3h0.55M271.7 212.7h0.55M236.1 244.9h0.55M242.3 243.9h0.55M259.1 223.8h0.55M268.5 225.5h0.55M273.0 237.2h0.55M278.2 222.0h0.55M269.4 231.4h0.55M266.7 216.4h0.55M276.2 237.4h0.55M237.6 246.8h0.55M266.3 221.4h0.55M269.4 216.0h0.55M243.3 238.6h0.55M246.7 218.9h0.55M254.0 242.0h0.55M254.4 239.0h0.55M255.5 231.5h0.55M254.2 246.6h0.55M269.9 236.0h0.55M261.1 253.4h0.55M245.3 234.7h0.55M263.4 231.3h0.55M261.6 229.7h0.55M265.0 241.5h0.55M263.1 227.0h0.55M265.7 237.3h0.55M260.9 229.3h0.55M271.1 222.5h0.55M262.7 240.1h0.55M260.9 246.1h0.55M268.7 233.6h0.55M284.7 227.0h0.55M264.7 221.6h0.55M252.1 243.7h0.55M246.1 233.3h0.55M260.9 229.1h0.55M244.3 247.0h0.55M252.7 225.6h0.55M271.5 234.4h0.55M245.5 243.6h0.55M266.9 231.1h0.55M238.3 216.4h0.55M256.3 234.8h0.55M255.2 237.2h0.55M245.4 235.7h0.55M269.9 218.0h0.55M244.9 230.8h0.55M263.3 250.4h0.55M246.1 245.1h0.55M238.8 229.2h0.55M274.3 220.6h0.55M275.5 216.9h0.55M251.6 235.4h0.55M262.6 224.5h0.55M240.5 232.5h0.55M235.8 240.4h0.55M238.6 240.5h0.55M256.0 236.5h0.55M261.0 221.5h0.55M261.2 232.7h0.55M254.1 227.5h0.55M244.8 233.7h0.55M277.9 235.1h0.55M247.0 226.0h0.55M247.7 242.5h0.55M259.3 249.5h0.55M254.0 249.9h0.55M249.2 237.8h0.55M269.8 222.9h0.55M286.7 220.3h0.55" stroke="#666" stroke-width="0.55" fill="none"/>
<path d="M283.5 238.2h0.7M279.1 243.9h0.7M280.0 244.8h0.7M282.4 241.7h0.7M280.0 242.2h0.7M277.4 250.5h0.7M276.5 249.2h0.7M278.0 245.8h0.7M281.6 240.2h0.7M277.8 245.8h0.7M276.0 248.2h0.7M281.1 242.7h0.7M281.7 241.8h0.7M278.4 245.3h0.7M278.1 244.9h0.7M278.3 247.8h0.7M280.5 243.1h0.7M275.0 250.0h0.7M277.4 246.7h0.7M276.1 252.1h0.7M278.8 244.8h0.7M276.2 245.7h0.7M280.8 243.5h0.7M280.0 243.8h0.7M275.6 249.1h0.7M276.5 248.8h0.7M279.4 243.5h0.7M280.7 239.9h0.7M279.0 247.2h0.7M277.8 246.6h0.7M279.9 242.1h0.7M281.1 244.0h0.7M279.8 242.4h0.7M277.6 247.0h0.7M282.8 241.2h0.7M281.0 244.1h0.7M281.4 244.9h0.7M280.2 244.4h0.7M281.4 242.3h0.7M275.3 250.7h0.7M284.0 239.5h0.7M277.4 249.0h0.7M275.8 250.3h0.7M275.4 251.4h0.7M281.6 242.5h0.7M281.7 240.5h0.7M276.8 249.9h0.7M278.5 246.5h0.7M277.6 249.4h0.7M278.8 247.8h0.7M281.7 240.4h0.7M277.8 245.8h0.7M275.6 247.9h0.7M278.0 247.2h0.7M280.1 243.6h0.7M281.5 241.6h0.7M279.6 244.1h0.7M276.2 249.5h0.7M282.3 242.9h0.7M278.4 248.6h0.7M279.9 245.2h0.7M279.0 245.2h0.7M280.3 244.7h0.7M278.6 246.0h0.7M280.9 244.0h0.7M280.9 240.5h0.7M283.4 238.2h0.7M281.3 241.0h0.7M278.7 244.5h0.7M275.0 249.1h0.7M278.8 247.7h0.7M279.0 244.2h0.7M280.8 243.6h0.7M279.4 245.2h0.7M275.9 247.7h0.7M284.1 237.0h0.7M276.0 246.5h0.7M277.7 249.0h0.7M283.7 241.2h0.7M285.8 238.7h0.7M281.6 239.1h0.7M282.6 239.8h0.7M280.0 242.0h0.7M279.6 241.8h0.7M283.5 241.4h0.7M279.4 242.3h0.7M279.8 243.2h0.7M278.6 246.5h0.7M281.2 242.2h0.7M282.4 241.8h0.7M280.6 243.4h0.7M279.7 241.0h0.7M276.1 249.3h0.7M280.5 244.0h0.7M279.1 242.9h0.7M282.1 240.3h0.7M279.4 243.3h0.7M279.3 243.5h0.7M277.4 247.3h0.7M278.5 245.7h0.7M279.7 243.9h0.7M278.7 244.1h0.7M280.4 244.5h0.7M278.8 247.3h0.7M279.9 245.4h0.7M276.5 248.1h0.7M278.5 243.2h0.7M276.0 249.6h0.7M284.1 234.7h0.7M278.8 247.3h0.7M280.7 242.0h0.7M273.8 251.5h0.7M282.9 241.9h0.7M276.0 249.1h0.7M280.4 241.4h0.7M276.0 247.5h0.7M281.5 240.2h0.7M279.0 244.6h0.7M281.4 244.7h0.7M280.2 244.8h0.7M285.1 233.9h0.7M283.4 239.8h0.7M283.3 241.2h0.7M281.3 241.6h0.7M278.6 245.2h0.7M278.7 246.3h0.7M280.6 244.6h0.7M280.1 243.5h0.7M282.0 242.0h0.7M276.2 250.1h0.7M278.9 243.7h0.7M278.4 244.5h0.7M279.1 243.4h0.7M276.9 246.8h0.7M281.3 242.0h0.7M279.6 244.7h0.7M280.3 242.8h0.7M281.0 243.3h0.7M274.4 249.7h0.7M279.4 246.4h0.7M280.3 240.2h0.7M280.0 244.0h0.7M279.6 244.3h0.7M281.4 243.0h0.7M275.6 247.5h0.7M280.0 241.4h0.7M283.9 237.8h0.7M279.7 245.5h0.7M277.9 245.0h0.7M280.5 241.6h0.7M281.1 242.8h0.7M281.0 242.4h0.7M278.0 244.8h0.7M275.4 247.0h0.7M278.3 247.0h0.7M281.6 239.4h0.7M280.0 243.1h0.7M280.0 242.8h0.7M278.8 247.3h0.7M278.0 244.8h0.7M282.1 241.8h0.7M279.8 246.8h0.7M281.1 241.7h0.7M281.4 241.5h0.7M278.6 246.8h0.7M276.5 248.7h0.7M278.4 244.7h0.7M279.6 242.6h0.7M280.9 241.3h0.7M278.8 244.8h0.7M279.6 246.6h0.7M276.5 247.7h0.7M281.1 246.2h0.7M279.5 245.7h0.7M280.9 241.4h0.7M280.3 244.9h0.7M280.7 242.5h0.7M279.6 242.5h0.7M276.9 246.3h0.7M283.1 238.8h0.7M282.0 240.2h0.7M282.4 239.3h0.7M276.4 248.6h0.7M281.1 241.3h0.7M279.3 243.5h0.7M277.3 248.4h0.7M282.7 240.9h0.7M281.2 242.1h0.7M279.3 243.3h0.7M280.7 243.1h0.7M281.4 242.5h0.7M277.1 245.2h0.7M278.9 245.1h0.7M276.0 248.7h0.7M276.0 249.0h0.7M276.2 247.8h0.7M279.7 243.5h0.7M279.8 243.6h0.7M275.7 248.0h0.7M279.0 244.7h0.7M276.3 249.7h0.7M281.1 240.5h0.7M279.7 242.8h0.7M277.4 245.4h0.7M283.0 239.7h0.7M281.8 240.6h0.7M277.5 247.5h0.7M282.3 243.9h0.7M278.2 246.0h0.7M276.4 247.4h0.7M282.1 242.0h0.7M278.2 243.9h0.7M279.0 248.0h0.7M276.3 248.6h0.7M276.8 246.8h0.7M280.1 242.2h0.7M279.1 244.4h0.7M278.5 245.6h0.7M275.1 250.2h0.7M283.4 239.1h0.7M275.7 249.9h0.7M278.0 245.6h0.7M278.7 246.9h0.7M278.1 245.1h0.7M280.4 242.3h0.7M279.1 245.9h0.7M279.6 245.0h0.7M279.7 246.2h0.7M279.7 244.4h0.7M278.4 246.7h0.7M275.1 248.0h0.7M282.9 239.6h0.7M280.7 245.0h0.7M277.6 247.9h0.7M276.9 246.9h0.7M282.2 240.7h0.7M277.1 246.5h0.7M281.0 243.7h0.7M281.7 238.1h0.7M275.8 248.0h0.7M281.6 240.2h0.7M275.8 243.7h0.7M275.4 250.7h0.7M282.7 240.1h0.7M279.1 244.4h0.7M281.1 243.1h0.7M281.0 241.3h0.7M281.4 244.6h0.7M281.1 243.5h0.7M278.9 244.6h0.7M284.3 238.3h0.7M279.0 244.0h0.7M281.1 244.3h0.7M277.4 244.0h0.7M278.1 246.5h0.7M277.7 246.2h0.7M282.0 242.5h0.7M276.7 248.2h0.7M278.9 245.5h0.7M279.6 244.9h0.7M277.1 247.8h0.7M275.5 248.5h0.7M276.9 246.8h0.7M280.2 245.1h0.7M278.1 247.9h0.7M278.4 245.4h0.7M276.4 247.6h0.7M284.7 238.2h0.7M280.9 243.4h0.7M275.5 248.4h0.7M280.1 241.7h0.7M281.7 241.2h0.7M277.5 245.9h0.7M282.1 241.5h0.7M281.9 238.8h0.7M282.3 240.7h0.7M280.3 245.2h0.7M276.6 247.4h0.7M281.1 243.0h0.7M280.9 240.4h0.7M280.2 243.4h0.7M281.1 240.4h0.7M278.5 245.4h0.7M283.3 239.7h0.7M276.2 246.9h0.7M278.9 241.2h0.7M278.6 247.1h0.7M280.5 240.3h0.7M277.9 247.8h0.7M276.3 247.6h0.7M276.6 246.5h0.7M277.1 243.0h0.7M281.6 242.2h0.7M278.5 246.0h0.7M278.8 244.7h0.7M279.9 244.8h0.7M280.6 242.8h0.7M283.1 239.7h0.7M276.2 250.5h0.7M278.1 244.6h0.7" stroke="#111" stroke-width="0.7" fill="none"/>
<path d="M280.8 243.2h0.55M279.5 233.2h0.55M278.8 247.8h0.55M289.1 238.3h0.55M286.9 248.0h0.55M285.5 244.4h0.55M284.8 243.3h0.55M274.2 236.5h0.55M275.9 250.8h0.55M287.3 234.5h0.55M277.8 255.8h0.55M286.0 239.3h0.55M279.4 229.4h0.55M286.9 239.7h0.55M279.5 243.8h0.55M278.5 248.1h0.55M279.9 241.4h0.55M284.2 228.9h0.55M280.3 238.1h0.55M266.1 232.0h0.55M286.1 253.5h0.55M282.8 249.6h0.55M286.3 237.5h0.55M280.1 255.4h0.55M282.1 246.6h0.55M269.8 252.9h0.55M286.6 231.8h0.55M277.5 247.7h0.55M283.3 231.9h0.55M280.6 247.3h0.55M272.6 255.7h0.55M269.9 259.4h0.55M283.8 249.6h0.55M267.8 254.2h0.55M278.3 245.4h0.55M275.1 256.9h0.55M279.1 243.1h0.55M273.7 245.0h0.55M269.4 250.0h0.55M275.8 247.0h0.55M270.0 249.9h0.55M283.2 237.3h0.55M279.3 236.4h0.55M277.3 246.5h0.55M277.2 251.5h0.55M273.0 246.3h0.55M283.0 248.4h0.55M270.1 254.9h0.55M277.5 244.9h0.55M280.3 241.5h0.55M282.6 238.9h0.55M284.7 243.0h0.55M269.9 256.0h0.55M279.7 228.4h0.55M271.7 243.4h0.55M284.2 242.0h0.55M279.8 232.4h0.55M280.8 242.4h0.55M281.8 245.7h0.55M281.3 238.4h0.55M280.2 221.4h0.55M284.2 243.6h0.55M281.2 235.2h0.55M280.9 238.7h0.55M280.3 250.1h0.55M283.0 240.0h0.55M280.7 242.9h0.55M279.3 240.5h0.55M283.2 236.3h0.55M280.2 245.7h0.55M279.0 244.9h0.55M287.6 239.4h0.55M280.8 238.8h0.55M275.5 247.7h0.55M281.0 251.2h0.55M274.7 256.7h0.55M279.1 244.9h0.55M285.0 244.4h0.55M282.5 235.3h0.55M279.9 241.5h0.55M286.3 230.8h0.55M286.9 237.8h0.55M276.7 247.0h0.55M282.4 232.5h0.55M286.7 235.7h0.55M285.7 234.6h0.55M276.8 251.2h0.55M283.6 240.0h0.55M271.8 258.0h0.55M284.5 227.5h0.55M271.7 248.7h0.55M282.7 241.7h0.55M272.3 251.8h0.55M282.4 244.8h0.55M279.0 238.7h0.55M275.6 253.5h0.55M281.3 242.4h0.55M282.1 246.4h0.55M282.3 248.3h0.55M272.6 258.0h0.55M284.6 234.6h0.55M283.6 234.4h0.55M282.0 237.9h0.55M264.8 262.4h0.55M273.1 255.3h0.55M279.0 256.9h0.55M263.0 251.6h0.55M271.6 253.9h0.55M275.6 238.4h0.55M275.5 241.9h0.55M282.4 245.7h0.55M289.5 217.1h0.55M268.9 242.1h0.55M281.3 238.8h0.55M285.4 241.4h0.55M276.8 241.3h0.55M290.0 227.0h0.55M274.1 241.2h0.55M282.2 243.2h0.55M284.0 228.4h0.55M281.3 234.8h0.55M280.6 230.7h0.55M275.1 244.8h0.55M280.1 226.0h0.55M282.0 235.8h0.55M280.5 247.4h0.55M288.2 244.2h0.55M286.1 245.2h0.55M272.3 245.5h0.55M279.6 243.2h0.55M287.0 241.0h0.55M284.2 242.1h0.55M271.4 260.4h0.55M281.8 240.8h0.55M272.5 237.2h0.55M283.6 246.1h0.55M272.4 237.1h0.55M281.5 236.2h0.55M287.0 240.5h0.55M280.5 222.8h0.55M289.2 232.7h0.55M273.8 251.3h0.55M277.8 249.6h0.55M289.8 225.7h0.55M286.0 230.8h0.55M281.9 245.5h0.55M290.3 234.6h0.55M282.6 238.3h0.55M277.6 240.9h0.55M270.8 237.9h0.55M276.9 250.5h0.55M280.7 253.2h0.55M272.2 246.2h0.55M279.0 253.1h0.55M275.1 251.3h0.55M286.5 245.7h0.55M278.1 243.8h0.55M285.7 236.4h0.55M283.9 240.1h0.55M285.9 241.1h0.55M282.9 238.0h0.55M283.4 239.1h0.55M297.4 230.5h0.55M281.0 240.0h0.55M269.2 252.6h0.55M282.7 244.0h0.55M279.2 252.7h0.55M282.7 235.9h0.55M274.3 257.2h0.55M277.9 240.8h0.55M273.6 243.8h0.55M283.9 243.8h0.55M279.8 249.4h0.55M285.9 244.0h0.55M269.9 252.0h0.55M277.7 258.6h0.55M289.3 237.8h0.55M275.1 255.5h0.55M279.4 239.5h0.55M286.6 238.9h0.55M280.5 237.2h0.55M276.1 260.2h0.55M276.3 235.2h0.55M288.1 232.9h0.55M279.4 244.1h0.55M292.5 222.1h0.55M281.9 243.5h0.55M282.3 243.9h0.55M281.9 260.2h0.55M282.2 251.0h0.55M280.3 237.4h0.55M278.9 231.7h0.55M292.7 221.0h0.55M288.0 232.4h0.55M278.6 239.7h0.55M276.9 238.8h0.55M279.6 244.9h0.55M267.6 241.6h0.55M281.2 251.7h0.55M281.9 232.2h0.55M289.5 228.6h0.55M278.8 243.6h0.55M275.5 261.7h0.55M277.7 247.3h0.55M275.8 242.0h0.55M279.3 243.2h0.55M282.3 234.0h0.55M286.0 244.1h0.55M282.5 237.6h0.55M287.1 236.9h0.55M284.0 243.3h0.55M273.7 250.7h0.55M284.3 229.9h0.55M287.7 228.3h0.55M270.3 257.7h0.55M284.8 244.4h0.55M278.5 254.6h0.55M286.8 244.9h0.55M282.0 239.5h0.55M279.1 239.5h0.55M255.8 286.0h0.55M260.7 267.9h0.55M255.0 256.4h0.55M312.0 302.4h0.55M283.7 229.5h0.55M291.8 222.0h0.55M311.0 217.1h0.55M235.3 211.2h0.55M301.7 302.0h0.55M321.2 287.2h0.55M247.6 291.9h0.55M272.7 248.9h0.55M250.3 224.0h0.55M281.9 279.8h0.55M317.2 280.1h0.55M296.7 258.3h0.55M249.6 216.7h0.55M251.1 296.8h0.55M257.5 238.2h0.55M278.0 265.6h0.55M270.0 223.2h0.55M321.8 266.4h0.55M244.2 247.3h0.55M243.2 232.8h0.55M262.4 260.1h0.55" stroke="#666" stroke-width="0.55" fill="none"/>
<rect x="231.3" y="208.8" width="92.30000000000001" height="98.5" fill="none" stroke="#6c6c6c" stroke-width="0.85"/>
<line x1="267.9" y1="208.8" x2="267.9" y2="307.3" stroke="#444" stroke-width="0.9"/>
<line x1="231.3" y1="267.8" x2="323.6" y2="267.8" stroke="#444" stroke-width="0.9"/>
<rect x="271" y="215.6" width="31.600000000000023" height="48.20000000000002" fill="none" stroke="#222" stroke-width="0.9"/>
<line x1="302.6" y1="246.5" x2="327.90" y2="246.50" stroke="#111" stroke-width="0.8"/>
<polygon points="331.5,246.5 327.90,248.20 327.90,244.80" fill="#111"/>
<line x1="216.3" y1="298" x2="216.30" y2="216.60" stroke="#111" stroke-width="0.8"/>
<polygon points="216.3,213 218.00,216.60 214.60,216.60" fill="#111"/>
<line x1="237" y1="320" x2="314.40" y2="320.00" stroke="#111" stroke-width="1.0"/>
<polygon points="318,320 314.40,321.70 314.40,318.30" fill="#111"/>
<text x="334" y="249.1" font-size="6.3" text-anchor="start" fill="#222" >WC1.3<tspan dy="-2.2" font-size="4.2">+</tspan><tspan dy="2.2"> cells</tspan></text>
<text font-size="6.3" text-anchor="middle" fill="#222" transform="translate(209.8 255) rotate(-90)" >mAb BAG25A</text>
<text x="281" y="328.1" font-size="6.4" text-anchor="middle" fill="#222" >mAb CACT21A</text>
<text x="225.1" y="220.2" font-size="6.1" text-anchor="middle" fill="#222" >10<tspan dy="-2.1" font-size="3.8">5</tspan></text>
<text x="225.1" y="246.2" font-size="6.1" text-anchor="middle" fill="#222" >10<tspan dy="-2.1" font-size="3.8">4</tspan></text>
<text x="225.1" y="271.0" font-size="6.1" text-anchor="middle" fill="#222" >10<tspan dy="-2.1" font-size="3.8">3</tspan></text>
<text x="225.1" y="294.7" font-size="6.1" text-anchor="middle" fill="#222" >10<tspan dy="-2.1" font-size="3.8">2</tspan></text>
<text x="247.7" y="315.8" font-size="6.1" text-anchor="middle" fill="#222" >10<tspan dy="-2.1" font-size="3.8">2</tspan></text>
<text x="272.3" y="315.8" font-size="6.1" text-anchor="middle" fill="#222" >10<tspan dy="-2.1" font-size="3.8">3</tspan></text>
<text x="295" y="315.8" font-size="6.1" text-anchor="middle" fill="#222" >10<tspan dy="-2.1" font-size="3.8">4</tspan></text>
<text x="317" y="315.8" font-size="6.1" text-anchor="middle" fill="#222" >10<tspan dy="-2.1" font-size="3.8">5</tspan></text>
<path d="M231.3 306.2h-1.2M233.5 307.3v1.2M231.3 302.1h-1.2M236.4 307.3v1.2M231.3 299.2h-1.2M238.7 307.3v1.2M231.3 296.9h-1.2M240.6 307.3v1.2M231.3 295.0h-1.2M242.2 307.3v1.2M231.3 293.4h-1.2M243.5 307.3v1.2M231.3 292.1h-1.2M244.7 307.3v1.2M231.3 290.9h-1.2M245.8 307.3v1.8M231.3 289.8h-1.8M252.9 307.3v1.2M231.3 282.7h-1.2M257.0 307.3v1.2M231.3 278.6h-1.2M259.9 307.3v1.2M231.3 275.7h-1.2M262.2 307.3v1.2M231.3 273.4h-1.2M264.1 307.3v1.2M231.3 271.5h-1.2M265.7 307.3v1.2M231.3 269.9h-1.2M267.0 307.3v1.2M231.3 268.6h-1.2M268.2 307.3v1.2M231.3 267.4h-1.2M269.3 307.3v1.8M231.3 266.3h-1.8M276.4 307.3v1.2M231.3 259.2h-1.2M280.5 307.3v1.2M231.3 255.1h-1.2M283.4 307.3v1.2M231.3 252.2h-1.2M285.7 307.3v1.2M231.3 249.9h-1.2M287.6 307.3v1.2M231.3 248.0h-1.2M289.2 307.3v1.2M231.3 246.4h-1.2M290.5 307.3v1.2M231.3 245.1h-1.2M291.7 307.3v1.2M231.3 243.9h-1.2M292.8 307.3v1.8M231.3 242.8h-1.8M299.9 307.3v1.2M231.3 235.7h-1.2M304.0 307.3v1.2M231.3 231.6h-1.2M306.9 307.3v1.2M231.3 228.7h-1.2M309.2 307.3v1.2M231.3 226.4h-1.2M311.1 307.3v1.2M231.3 224.5h-1.2M312.7 307.3v1.2M231.3 222.9h-1.2M314.0 307.3v1.2M231.3 221.6h-1.2M315.2 307.3v1.2M231.3 220.4h-1.2M316.3 307.3v1.8M231.3 219.3h-1.8M231.3 212.2h-1.2" stroke="#444" stroke-width="0.45" fill="none"/>
</svg>
</body></html>
